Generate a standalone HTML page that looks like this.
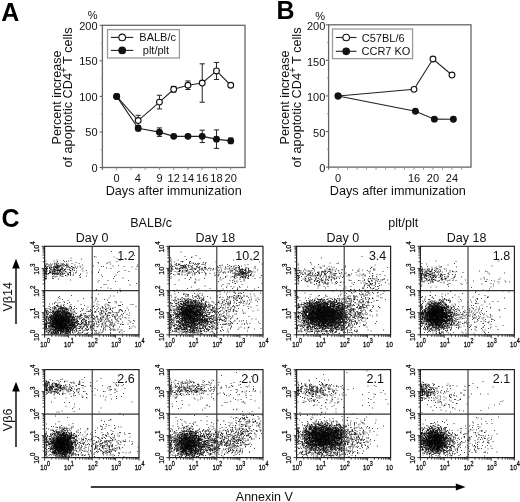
<!DOCTYPE html>
<html><head><meta charset="utf-8"><style>
html,body{margin:0;padding:0;background:#fff;}
svg{display:block;font-family:"Liberation Sans", sans-serif;will-change:transform;}
</style></head><body>
<svg width="520" height="502" viewBox="0 0 520 502">
<rect width="520" height="502" fill="#fff"/>
<rect x="102.40" y="25.30" width="142.60" height="142.20" fill="none" stroke="#666" stroke-width="1.3"/>
<line x1="99.60" y1="167.50" x2="102.40" y2="167.50" stroke="#666" stroke-width="1.1"/>
<text x="97.60" y="171.80" font-size="11" text-anchor="end" fill="#111">0</text>
<line x1="100.80" y1="149.72" x2="102.40" y2="149.72" stroke="#999" stroke-width="0.9"/>
<line x1="99.60" y1="131.95" x2="102.40" y2="131.95" stroke="#666" stroke-width="1.1"/>
<text x="97.60" y="136.25" font-size="11" text-anchor="end" fill="#111">50</text>
<line x1="100.80" y1="114.17" x2="102.40" y2="114.17" stroke="#999" stroke-width="0.9"/>
<line x1="99.60" y1="96.40" x2="102.40" y2="96.40" stroke="#666" stroke-width="1.1"/>
<text x="97.60" y="100.70" font-size="11" text-anchor="end" fill="#111">100</text>
<line x1="100.80" y1="78.62" x2="102.40" y2="78.62" stroke="#999" stroke-width="0.9"/>
<line x1="99.60" y1="60.85" x2="102.40" y2="60.85" stroke="#666" stroke-width="1.1"/>
<text x="97.60" y="65.15" font-size="11" text-anchor="end" fill="#111">150</text>
<line x1="100.80" y1="43.08" x2="102.40" y2="43.08" stroke="#999" stroke-width="0.9"/>
<line x1="99.60" y1="25.30" x2="102.40" y2="25.30" stroke="#666" stroke-width="1.1"/>
<text x="97.60" y="29.60" font-size="11" text-anchor="end" fill="#111">200</text>
<line x1="116.66" y1="167.50" x2="116.66" y2="170.10" stroke="#999" stroke-width="1.0"/>
<line x1="130.92" y1="167.50" x2="130.92" y2="170.10" stroke="#999" stroke-width="1.0"/>
<line x1="145.18" y1="167.50" x2="145.18" y2="170.10" stroke="#999" stroke-width="1.0"/>
<line x1="159.44" y1="167.50" x2="159.44" y2="170.10" stroke="#999" stroke-width="1.0"/>
<line x1="173.70" y1="167.50" x2="173.70" y2="170.10" stroke="#999" stroke-width="1.0"/>
<line x1="187.96" y1="167.50" x2="187.96" y2="170.10" stroke="#999" stroke-width="1.0"/>
<line x1="202.22" y1="167.50" x2="202.22" y2="170.10" stroke="#999" stroke-width="1.0"/>
<line x1="216.48" y1="167.50" x2="216.48" y2="170.10" stroke="#999" stroke-width="1.0"/>
<line x1="230.74" y1="167.50" x2="230.74" y2="170.10" stroke="#999" stroke-width="1.0"/>
<line x1="102.40" y1="167.50" x2="102.40" y2="170.10" stroke="#666" stroke-width="1.1"/>
<text x="116.66" y="181.90" font-size="11" text-anchor="middle" fill="#111">0</text>
<text x="137.70" y="181.90" font-size="11" text-anchor="middle" fill="#111">4</text>
<text x="159.44" y="181.90" font-size="11" text-anchor="middle" fill="#111">9</text>
<text x="173.70" y="181.90" font-size="11" text-anchor="middle" fill="#111">12</text>
<text x="187.96" y="181.90" font-size="11" text-anchor="middle" fill="#111">14</text>
<text x="202.22" y="181.90" font-size="11" text-anchor="middle" fill="#111">16</text>
<text x="216.48" y="181.90" font-size="11" text-anchor="middle" fill="#111">18</text>
<text x="230.74" y="181.90" font-size="11" text-anchor="middle" fill="#111">20</text>
<text x="97.60" y="19.00" font-size="11" text-anchor="end" fill="#111">%</text>
<text x="173.70" y="195.40" font-size="12.7" text-anchor="middle" fill="#111">Days after immunization</text>
<text x="0.00" y="0.00" font-size="12.5" text-anchor="middle" fill="#111" transform="translate(61.00,97.5) rotate(-90)">Percent increase</text>
<text font-size="12.7" text-anchor="middle" fill="#111" transform="translate(72.40,97.5) rotate(-90)">of apoptotic CD4<tspan font-size="10" dy="-5.2">+</tspan><tspan dy="5.2"> T cells</tspan></text>
<path d="M116.66 96.40 L138.20 120.57 L159.44 102.09 L173.70 89.29 L187.96 85.24 L202.22 83.03 L216.48 70.95 L230.74 85.24" fill="none" stroke="#222" stroke-width="1.1"/>
<path d="M116.66 96.40 L138.20 128.25 L159.44 132.16 L173.70 136.36 L187.96 136.36 L202.22 136.36 L216.48 139.13 L230.74 140.84" fill="none" stroke="#222" stroke-width="1.1"/>
<line x1="138.20" y1="115.31" x2="138.20" y2="125.84" stroke="#222" stroke-width="1.0"/>
<line x1="135.60" y1="115.31" x2="140.80" y2="115.31" stroke="#222" stroke-width="1.0"/>
<line x1="135.60" y1="125.84" x2="140.80" y2="125.84" stroke="#222" stroke-width="1.0"/>
<line x1="159.44" y1="95.26" x2="159.44" y2="108.91" stroke="#222" stroke-width="1.0"/>
<line x1="156.84" y1="95.26" x2="162.04" y2="95.26" stroke="#222" stroke-width="1.0"/>
<line x1="156.84" y1="108.91" x2="162.04" y2="108.91" stroke="#222" stroke-width="1.0"/>
<line x1="173.70" y1="86.45" x2="173.70" y2="92.13" stroke="#222" stroke-width="1.0"/>
<line x1="171.10" y1="86.45" x2="176.30" y2="86.45" stroke="#222" stroke-width="1.0"/>
<line x1="171.10" y1="92.13" x2="176.30" y2="92.13" stroke="#222" stroke-width="1.0"/>
<line x1="187.96" y1="80.97" x2="187.96" y2="89.50" stroke="#222" stroke-width="1.0"/>
<line x1="185.36" y1="80.97" x2="190.56" y2="80.97" stroke="#222" stroke-width="1.0"/>
<line x1="185.36" y1="89.50" x2="190.56" y2="89.50" stroke="#222" stroke-width="1.0"/>
<line x1="202.22" y1="63.84" x2="202.22" y2="102.23" stroke="#222" stroke-width="1.0"/>
<line x1="199.62" y1="63.84" x2="204.82" y2="63.84" stroke="#222" stroke-width="1.0"/>
<line x1="199.62" y1="102.23" x2="204.82" y2="102.23" stroke="#222" stroke-width="1.0"/>
<line x1="216.48" y1="62.41" x2="216.48" y2="79.48" stroke="#222" stroke-width="1.0"/>
<line x1="213.88" y1="62.41" x2="219.08" y2="62.41" stroke="#222" stroke-width="1.0"/>
<line x1="213.88" y1="79.48" x2="219.08" y2="79.48" stroke="#222" stroke-width="1.0"/>
<line x1="230.74" y1="83.46" x2="230.74" y2="87.01" stroke="#222" stroke-width="1.0"/>
<line x1="228.14" y1="83.46" x2="233.34" y2="83.46" stroke="#222" stroke-width="1.0"/>
<line x1="228.14" y1="87.01" x2="233.34" y2="87.01" stroke="#222" stroke-width="1.0"/>
<circle cx="116.66" cy="96.40" r="2.9" fill="#fff" stroke="#111" stroke-width="1.1"/>
<circle cx="138.20" cy="120.57" r="2.9" fill="#fff" stroke="#111" stroke-width="1.1"/>
<circle cx="159.44" cy="102.09" r="2.9" fill="#fff" stroke="#111" stroke-width="1.1"/>
<circle cx="173.70" cy="89.29" r="2.9" fill="#fff" stroke="#111" stroke-width="1.1"/>
<circle cx="187.96" cy="85.24" r="2.9" fill="#fff" stroke="#111" stroke-width="1.1"/>
<circle cx="202.22" cy="83.03" r="2.9" fill="#fff" stroke="#111" stroke-width="1.1"/>
<circle cx="216.48" cy="70.95" r="2.9" fill="#fff" stroke="#111" stroke-width="1.1"/>
<circle cx="230.74" cy="85.24" r="2.9" fill="#fff" stroke="#111" stroke-width="1.1"/>
<line x1="138.20" y1="125.55" x2="138.20" y2="130.95" stroke="#222" stroke-width="1.0"/>
<line x1="135.60" y1="125.55" x2="140.80" y2="125.55" stroke="#222" stroke-width="1.0"/>
<line x1="135.60" y1="130.95" x2="140.80" y2="130.95" stroke="#222" stroke-width="1.0"/>
<line x1="159.44" y1="127.90" x2="159.44" y2="136.43" stroke="#222" stroke-width="1.0"/>
<line x1="156.84" y1="127.90" x2="162.04" y2="127.90" stroke="#222" stroke-width="1.0"/>
<line x1="156.84" y1="136.43" x2="162.04" y2="136.43" stroke="#222" stroke-width="1.0"/>
<line x1="202.22" y1="130.17" x2="202.22" y2="142.54" stroke="#222" stroke-width="1.0"/>
<line x1="199.62" y1="130.17" x2="204.82" y2="130.17" stroke="#222" stroke-width="1.0"/>
<line x1="199.62" y1="142.54" x2="204.82" y2="142.54" stroke="#222" stroke-width="1.0"/>
<line x1="216.48" y1="129.89" x2="216.48" y2="148.37" stroke="#222" stroke-width="1.0"/>
<line x1="213.88" y1="129.89" x2="219.08" y2="129.89" stroke="#222" stroke-width="1.0"/>
<line x1="213.88" y1="148.37" x2="219.08" y2="148.37" stroke="#222" stroke-width="1.0"/>
<line x1="230.74" y1="137.99" x2="230.74" y2="143.68" stroke="#222" stroke-width="1.0"/>
<line x1="228.14" y1="137.99" x2="233.34" y2="137.99" stroke="#222" stroke-width="1.0"/>
<line x1="228.14" y1="143.68" x2="233.34" y2="143.68" stroke="#222" stroke-width="1.0"/>
<circle cx="116.66" cy="96.40" r="2.9" fill="#111" stroke="#111" stroke-width="1.1"/>
<circle cx="138.20" cy="128.25" r="2.9" fill="#111" stroke="#111" stroke-width="1.1"/>
<circle cx="159.44" cy="132.16" r="2.9" fill="#111" stroke="#111" stroke-width="1.1"/>
<circle cx="173.70" cy="136.36" r="2.9" fill="#111" stroke="#111" stroke-width="1.1"/>
<circle cx="187.96" cy="136.36" r="2.9" fill="#111" stroke="#111" stroke-width="1.1"/>
<circle cx="202.22" cy="136.36" r="2.9" fill="#111" stroke="#111" stroke-width="1.1"/>
<circle cx="216.48" cy="139.13" r="2.9" fill="#111" stroke="#111" stroke-width="1.1"/>
<circle cx="230.74" cy="140.84" r="2.9" fill="#111" stroke="#111" stroke-width="1.1"/>
<rect x="107.5" y="29.6" width="71.9" height="28.4" fill="#fff" stroke="#9a9a9a" stroke-width="1.3"/>
<line x1="111.00" y1="37.40" x2="133.30" y2="37.40" stroke="#222" stroke-width="1.1"/>
<circle cx="122.2" cy="37.4" r="3.3" fill="#fff" stroke="#111" stroke-width="1.1"/>
<text x="139.30" y="41.40" font-size="11" text-anchor="start" fill="#111">BALB/c</text>
<line x1="111.00" y1="50.40" x2="133.30" y2="50.40" stroke="#222" stroke-width="1.1"/>
<circle cx="122.2" cy="50.4" r="3.3" fill="#111" stroke="#111" stroke-width="1.1"/>
<text x="142.80" y="54.40" font-size="11" text-anchor="start" fill="#111">plt/plt</text>
<rect x="328.60" y="24.80" width="142.40" height="142.30" fill="none" stroke="#666" stroke-width="1.3"/>
<line x1="325.80" y1="167.10" x2="328.60" y2="167.10" stroke="#666" stroke-width="1.1"/>
<text x="325.30" y="172.40" font-size="11" text-anchor="end" fill="#111">0</text>
<line x1="327.00" y1="149.31" x2="328.60" y2="149.31" stroke="#999" stroke-width="0.9"/>
<line x1="325.80" y1="131.53" x2="328.60" y2="131.53" stroke="#666" stroke-width="1.1"/>
<text x="325.30" y="136.83" font-size="11" text-anchor="end" fill="#111">50</text>
<line x1="327.00" y1="113.74" x2="328.60" y2="113.74" stroke="#999" stroke-width="0.9"/>
<line x1="325.80" y1="95.95" x2="328.60" y2="95.95" stroke="#666" stroke-width="1.1"/>
<text x="325.30" y="101.25" font-size="11" text-anchor="end" fill="#111">100</text>
<line x1="327.00" y1="78.16" x2="328.60" y2="78.16" stroke="#999" stroke-width="0.9"/>
<line x1="325.80" y1="60.38" x2="328.60" y2="60.38" stroke="#666" stroke-width="1.1"/>
<text x="325.30" y="65.68" font-size="11" text-anchor="end" fill="#111">150</text>
<line x1="327.00" y1="42.59" x2="328.60" y2="42.59" stroke="#999" stroke-width="0.9"/>
<line x1="325.80" y1="24.80" x2="328.60" y2="24.80" stroke="#666" stroke-width="1.1"/>
<text x="325.30" y="30.10" font-size="11" text-anchor="end" fill="#111">200</text>
<line x1="338.09" y1="167.10" x2="338.09" y2="169.70" stroke="#999" stroke-width="1.0"/>
<line x1="347.58" y1="167.10" x2="347.58" y2="169.70" stroke="#999" stroke-width="1.0"/>
<line x1="357.07" y1="167.10" x2="357.07" y2="169.70" stroke="#999" stroke-width="1.0"/>
<line x1="366.56" y1="167.10" x2="366.56" y2="169.70" stroke="#999" stroke-width="1.0"/>
<line x1="376.05" y1="167.10" x2="376.05" y2="169.70" stroke="#999" stroke-width="1.0"/>
<line x1="385.54" y1="167.10" x2="385.54" y2="169.70" stroke="#999" stroke-width="1.0"/>
<line x1="395.03" y1="167.10" x2="395.03" y2="169.70" stroke="#999" stroke-width="1.0"/>
<line x1="404.52" y1="167.10" x2="404.52" y2="169.70" stroke="#999" stroke-width="1.0"/>
<line x1="414.01" y1="167.10" x2="414.01" y2="169.70" stroke="#999" stroke-width="1.0"/>
<line x1="423.50" y1="167.10" x2="423.50" y2="169.70" stroke="#999" stroke-width="1.0"/>
<line x1="432.99" y1="167.10" x2="432.99" y2="169.70" stroke="#999" stroke-width="1.0"/>
<line x1="442.48" y1="167.10" x2="442.48" y2="169.70" stroke="#999" stroke-width="1.0"/>
<line x1="451.97" y1="167.10" x2="451.97" y2="169.70" stroke="#999" stroke-width="1.0"/>
<line x1="461.46" y1="167.10" x2="461.46" y2="169.70" stroke="#999" stroke-width="1.0"/>
<line x1="328.60" y1="167.10" x2="328.60" y2="169.70" stroke="#666" stroke-width="1.1"/>
<text x="338.09" y="181.90" font-size="11" text-anchor="middle" fill="#111">0</text>
<text x="414.01" y="181.90" font-size="11" text-anchor="middle" fill="#111">16</text>
<text x="432.99" y="181.90" font-size="11" text-anchor="middle" fill="#111">20</text>
<text x="451.97" y="181.90" font-size="11" text-anchor="middle" fill="#111">24</text>
<text x="325.00" y="20.00" font-size="11" text-anchor="end" fill="#111">%</text>
<text x="397.80" y="195.40" font-size="12.7" text-anchor="middle" fill="#111">Days after immunization</text>
<text x="0.00" y="0.00" font-size="12.5" text-anchor="middle" fill="#111" transform="translate(288.70,97.5) rotate(-90)">Percent increase</text>
<text font-size="12.7" text-anchor="middle" fill="#111" transform="translate(301.40,97.5) rotate(-90)">of apoptotic CD4<tspan font-size="10" dy="-5.2">+</tspan><tspan dy="5.2"> T cells</tspan></text>
<path d="M338.09 95.95 L414.01 89.33 L432.99 59.02 L451.97 75.03" fill="none" stroke="#222" stroke-width="1.1"/>
<path d="M338.09 95.95 L415.41 111.18 L434.39 119.14 L453.37 119.29" fill="none" stroke="#222" stroke-width="1.1"/>
<circle cx="338.09" cy="95.95" r="2.9" fill="#fff" stroke="#111" stroke-width="1.1"/>
<circle cx="414.01" cy="89.33" r="2.9" fill="#fff" stroke="#111" stroke-width="1.1"/>
<circle cx="432.99" cy="59.02" r="2.9" fill="#fff" stroke="#111" stroke-width="1.1"/>
<circle cx="451.97" cy="75.03" r="2.9" fill="#fff" stroke="#111" stroke-width="1.1"/>
<circle cx="338.09" cy="95.95" r="2.9" fill="#111" stroke="#111" stroke-width="1.1"/>
<circle cx="415.41" cy="111.18" r="2.9" fill="#111" stroke="#111" stroke-width="1.1"/>
<circle cx="434.39" cy="119.14" r="2.9" fill="#111" stroke="#111" stroke-width="1.1"/>
<circle cx="453.37" cy="119.29" r="2.9" fill="#111" stroke="#111" stroke-width="1.1"/>
<rect x="332.5" y="29.0" width="80.10000000000002" height="29.6" fill="#fff" stroke="#9a9a9a" stroke-width="1.3"/>
<line x1="335.80" y1="37.50" x2="356.50" y2="37.50" stroke="#222" stroke-width="1.1"/>
<circle cx="346.2" cy="37.5" r="3.3" fill="#fff" stroke="#111" stroke-width="1.1"/>
<text x="361.80" y="41.50" font-size="11" text-anchor="start" fill="#111">C57BL/6</text>
<line x1="335.80" y1="51.30" x2="356.50" y2="51.30" stroke="#222" stroke-width="1.1"/>
<circle cx="346.2" cy="51.3" r="3.3" fill="#111" stroke="#111" stroke-width="1.1"/>
<text x="361.50" y="55.30" font-size="11" text-anchor="start" fill="#111">CCR7 KO</text>
<text x="1.20" y="20.60" font-size="25" text-anchor="start" font-weight="bold" fill="#000">A</text>
<text x="276.60" y="19.20" font-size="25" text-anchor="start" font-weight="bold" fill="#000">B</text>
<text x="1.60" y="227.30" font-size="25" text-anchor="start" font-weight="bold" fill="#000">C</text>
<path d="M180.5 252h1m180 4.5h1m-192.5 1h1m-100.5 0.5h1m114.5 1.5h1m-16.5 0.5h1m61.5 0h1m-114.5 0.5h1m378 0.5h1m-318 0.5h1m76.5 0.5h1m-184.5 0.5h1m21 0h1m-42.5 0.5h1m136 0h1m-147.5 0.5h1m15 0h1m141.5 0h1m215.5 0h1m31.5 0h1m-401 0.5h1m1.5 0h1m8.5 0h1m43 0h1m67 0h1m-1 0.5h1m15 0h1m1.5 0h1m-152 0.5h1m15.5 0h1m3 0h1m7.5 0h1m99 0h1m10 0h1m18.5 0h1m91.5 0h1m-241.5 0.5h1m0 0h1m6 0h1m111.5 0h1m50.5 0h1m8 0h1m-184.5 0.5h1m4 0h1m32.5 0h1m91 0h1m55 0h1m103 0h1m-301 0.5h1m1 0h1m6.5 0h1m3.5 0h1m113.5 0h1m13.5 0h1m139.5 0h1m-282.5 0.5h1m8.5 0h1m0 0h1m0.5 0h1m9.5 0h1m4.5 0h1m55.5 0h1m53 0h1m10.5 0h1m21.5 0h1m10 0h1m82.5 0h1m4.5 0h1m51 0h1m83.5 0h1m-402.5 0.5h1m1 0h1m-0.5 0h1m3 0h1m-0.5 0h1m-0.5 0h1m118.5 0h1m0.5 0h1m-0.5 0h1m4 0h1m9.5 0h1m4.5 0h1m40 0h1m124.5 0h1m-315.5 0.5h1m25 0h1m91.5 0h1m4 0h1m10 0h1m-0.5 0h1m6.5 0h1m29 0h1m5.5 0h1m-0.5 0h1m18 0h1m-211 0.5h1m-0.5 0h1m0 0h1m-0.5 0h1m1 0h1m121.5 0h1m4 0h1m2 0h1m14 0h1m10 0h1m4 0h1m23 0h1m12.5 0h1m187 0h1m0 0h1m-388 0.5h1m6.5 0h1m4 0h1m121 0h1m7 0h1m8 0h1m3 0h1m21 0h1m6 0h1m3.5 0h1m2 0h1m2 0h1m80.5 0h1m109 0h1m-391.5 0.5h1m7 0h1m5 0h1m0 0h1m2.5 0h1m107 0h1m3 0h1m17 0h1m6 0h1m22 0h1m18 0h1m69 0h1m14 0h1m0 0h1m11 0h1m97 0h1m-389.5 0.5h1m0 0h1m2 0h1m115 0h1m29 0h1m30.5 0h1m6 0h1m64.5 0h1m56 0h1m10 0h1m-319.5 0.5h1m3 0h1m0.5 0h1m118.5 0h1m1.5 0h1m20 0h1m40.5 0h1m51.5 0h1m0.5 0h1m-254.5 0.5h1m4 0h1m3 0h1m1.5 0h1m-0.5 0h1m1 0h1m0 0h1m2 0h1m105.5 0h1m15 0h1m31.5 0h1m2 0h1m86 0h1m15 0h1m100 0h1m1.5 0h1m2.5 0h1m8 0h1m44 0h1m-307 0.5h1m13 0h1m45 0h1m189 0h1m-0.5 0h1m-0.5 0h1m-385.5 0.5h1m2.5 0h1m2.5 0h1m0 0h1m11.5 0h1m109.5 0h1m5 0h1m5 0h1m0 0h1m8 0h1m43.5 0h1m1 0h1m71.5 0h1m2.5 0h1m8 0h1m94 0h1m5.5 0h1m5 0h1m16 0h1m-338.5 0.5h1m78 0h1m21.5 0h1m3 0h1m21 0h1m0 0h1m53 0h1m4 0h1m17 0h1m110.5 0h1m2.5 0h1m-371 0.5h1m136.5 0h1m28.5 0h1m2 0h1m1.5 0h1m0 0h1m2 0h1m73 0h1m26.5 0h1m75.5 0h1m3 0h1m-0.5 0h1m76.5 0h1m-456.5 0.5h1m2 0h1m-0.5 0h1m0 0h1m4 0h1m11 0h1m106.5 0h1m20.5 0h1m9.5 0h1m28.5 0h1m2.5 0h1m0.5 0h1m76 0h1m2 0h1m106.5 0h1m-384.5 0.5h1m190 0h1m8 0h1m51 0h1m4 0h1m23.5 0h1m3 0h1m0 0h1m86 0h1m2 0h1m-0.5 0h1m3.5 0h1m1.5 0h1m5 0h1m1.5 0h1m-389.5 0.5h1m2.5 0h1m11.5 0h1m1 0h1m106.5 0h1m60 0h1m2 0h1m7.5 0h1m66.5 0h1m30 0h1m71.5 0h1m2.5 0h1m4.5 0h1m3.5 0h1m9 0h1m3 0h1m-404 0.5h1m13.5 0h1m0.5 0h1m10 0h1m118.5 0h1m12.5 0h1m9 0h1m20.5 0h1m8 0h1m4 0h1m56 0h1m0 0h1m127.5 0h1m3.5 0h1m-378 0.5h1m4 0h1m143.5 0h1m45.5 0h1m46.5 0h1m5.5 0h1m18 0h1m26.5 0h1m58.5 0h1m1.5 0h1m8.5 0h1m-0.5 0h1m-368 0.5h1m261.5 0h1m13 0h1m2.5 0h1m11 0h1m12.5 0h1m51 0h1m-323 0.5h1m129 0h1m2.5 0h1m5.5 0h1m5 0h1m120 0h1m6 0h1m44 0h1m8 0h1m-379 0.5h1m177.5 0h1m10.5 0h1m54.5 0h1m33 0h1m88.5 0h1m8.5 0h1m4.5 0h1m7.5 0h1m15.5 0h1m-228 0.5h1m7.5 0h1m1.5 0h1m13.5 0h1m49.5 0h1m18 0h1m93.5 0h1m10.5 0h1m17.5 0h1m-284 0.5h1m133 0h1m9 0h1m18 0h1m28 0h1m57.5 0h1m12.5 0h1m-390 0.5h1m6.5 0h1m116.5 0h1m51 0h1m11 0h1m12.5 0h1m5.5 0h1m42 0h1m17 0h1m22.5 0h1m105 0h1m-401 0.5h1m265 0h1m3.5 0h1m8.5 0h1m8.5 0h1m145 0h1m-170 0.5h1m186 0h1m-279 0.5h1m12 0h1m9.5 0h1m63 0h1m13.5 0h1m7 0h1m17 0h1m18 0h1m53 0h1m6 0h1m20 0h1m-221 0.5h1m97.5 0h1m30.5 0h1m11 0h1m53 0h1m1.5 0h1m-131 0.5h1m131 0h1m42 0h1m30.5 0h1m-271.5 0.5h1m81 0h1m51 0h1m68.5 0h1m-244 0.5h1m226 0h1m9 0h1m73 0h1m-184 0.5h1m13.5 0h1m36.5 0h1m-56.5 0.5h1m4 0h1m18.5 0h1m16 0h1m105 0h1m-232.5 0.5h1m25.5 0h1m62.5 0h1m1.5 0h1m41.5 0h1m7.5 0h1m48.5 0h1m20.5 0h1m40 0h1m-262.5 0.5h1m11.5 0.5h1m-113 0.5h1m189 0h1m51 0h1m6.5 0.5h1m-153.5 0.5h1m90 0h1m0 0h1m58 0.5h1m69.5 0h1m-215.5 0.5h1m12.5 0h1m-147.5 0.5h1m138 0h1m-3.5 0.5h1m107.5 0h1m27 0h1m-12 0.5h1m7 0h1m-252 0.5h1m133.5 0h1m-159 0.5h1m99.5 0h1m138.5 0.5h1m27.5 0h1m9.5 0h1m106.5 0h1m-55.5 0.5h1m-309 1h1m96.5 0h1m131 0h1m14 0h1m2 0h1m-152 0.5h1m2 0h1m9 0h1m2.5 0h1m-117 0.5h1m233 0h1m14.5 0h1m-129 0.5h1m20.5 0h1m85 0.5h1m4.5 0h1m6.5 0h1m8.5 0h1m-185.5 0.5h1m0.5 0h1m11 0h1m142 0h1m18 0.5h1m1 0h1m-0.5 0h1m3.5 0h1m111 0h1m-154 0.5h1m118.5 0h1m-244.5 0.5h1m14 0h1m21 0h1m127 0h1m62 0h1m54 0h1m-300.5 0.5h1m54 0h1m3 0h1m80 0h1m27 0h1m-168.5 0.5h1m40.5 0h1m4.5 0h1m4.5 0h1m108.5 0h1m6 0h1m-152 0.5h1m26.5 0h1m65 0h1m56 0h1m0 0h1m65.5 0h1m36 0h1m-259 0.5h1m17.5 0h1m22 0h1m5 0h1m98.5 0h1m72.5 0h1m9.5 0h1m-337 0.5h1m96.5 0h1m9 0h1m32 0h1m2 0h1m1 0h1m73.5 0h1m13 0h1m14.5 0h1m-168.5 0.5h1m5 0h1m14.5 0h1m3 0h1m31.5 0h1m100.5 0h1m5 0h1m2.5 0h1m0.5 0h1m0 0h1m0 0h1m18 0h1m2 0h1m60 0h1m10 0h1m31.5 0h1m-290 0.5h1m14 0h1m113.5 0h1m10 0h1m2.5 0h1m8 0h1m0.5 0h1m1 0h1m-283 0.5h1m127 0h1m36.5 0h1m6.5 0h1m76 0h1m4.5 0h1m2.5 0h1m4.5 0h1m7.5 0h1m18 0h1m1.5 0h1m71 0h1m30.5 0h1m-403.5 0.5h1m128.5 0h1m6.5 0h1m0 0h1m7 0h1m19.5 0h1m25.5 0h1m84 0h1m8.5 0h1m0 0h1m21 0h1m60.5 0h1m18 0h1m20.5 0h1m-403.5 0.5h1m117.5 0h1m6 0h1m136 0h1m5 0h1m2 0h1m-159 0.5h1m5.5 0h1m3 0h1m1 0h1m0.5 0h1m117.5 0h1m7 0h1m0 0h1m0 0h1m5 0h1m104 0h1m7.5 0h1m-346.5 0.5h1m81 0h1m2 0h1m3.5 0h1m2 0h1m3.5 0h1m3 0h1m1.5 0h1m107 0h1m17.5 0h1m2 0h1m0 0h1m0.5 0h1m28.5 0h1m77 0h1m51 0h1m-400 0.5h1m26 0h1m61 0h1m0.5 0h1m0.5 0h1m0.5 0h1m-0.5 0h1m-0.5 0h1m1 0h1m4.5 0h1m-0.5 0h1m-0.5 0h1m3.5 0h1m3.5 0h1m6 0h1m27.5 0h1m1 0h1m-0.5 0h1m61.5 0h1m6 0h1m3.5 0h1m0.5 0h1m4.5 0h1m2 0h1m6 0h1m22.5 0h1m69.5 0h1m4.5 0h1m1 0h1m4.5 0h1m16 0h1m25 0h1m-377.5 0.5h1m0.5 0h1m75 0h1m5 0h1m3 0h1m21.5 0h1m3 0h1m80.5 0h1m4.5 0h1m0.5 0h1m5 0h1m5.5 0h1m-0.5 0h1m3 0h1m-0.5 0h1m4.5 0h1m9.5 0h1m9.5 0h1m15.5 0h1m59 0h1m2.5 0h1m0 0h1m3.5 0h1m26.5 0h1m-292 0.5h1m10.5 0h1m-0.5 0h1m0.5 0h1m1 0h1m1 0h1m2.5 0h1m0.5 0h1m5 0h1m7.5 0h1m94.5 0h1m5 0h1m-0.5 0h1m0 0h1m8 0h1m0.5 0h1m14 0h1m89 0h1m2 0h1m0 0h1m7.5 0h1m-262.5 0.5h1m0 0h1m0.5 0h1m5 0h1m-0.5 0h1m3.5 0h1m1 0h1m1.5 0h1m3 0h1m19 0h1m4 0h1m5 0h1m61 0h1m5 0h1m2 0h1m3.5 0h1m1.5 0h1m10 0h1m6.5 0h1m-0.5 0h1m3.5 0h1m0 0h1m88 0h1m4.5 0h1m4 0h1m0 0h1m0.5 0h1m-0.5 0h1m-393 0.5h1m2 0h1m52.5 0h1m77 0h1m3 0h1m7.5 0h1m-0.5 0h1m2 0h1m4 0h1m11 0h1m91.5 0h1m7.5 0h1m0 0h1m0 0h1m-0.5 0h1m1 0h1m0.5 0h1m-0.5 0h1m-0.5 0h1m-0.5 0h1m4 0h1m2 0h1m3.5 0h1m10 0h1m80 0h1m4 0h1m1.5 0h1m7.5 0h1m-314 0.5h1m47.5 0h1m0.5 0h1m1 0h1m10.5 0h1m5.5 0h1m99 0h1m3 0h1m0 0h1m0.5 0h1m1 0h1m9.5 0h1m-0.5 0h1m5 0h1m3 0h1m1 0h1m1.5 0h1m1.5 0h1m2 0h1m0 0h1m9 0h1m8 0h1m58 0h1m7 0h1m0.5 0h1m7 0h1m6 0h1m-386 0.5h1m46.5 0h1m66.5 0h1m6 0h1m2 0h1m5.5 0h1m1.5 0h1m9 0h1m19 0h1m2 0h1m69.5 0h1m2 0h1m14 0h1m0 0h1m1 0h1m3.5 0h1m1 0h1m0 0h1m3 0h1m-0.5 0h1m3.5 0h1m2 0h1m1.5 0h1m-0.5 0h1m1.5 0h1m5 0h1m7 0h1m70.5 0h1m2 0h1m2 0h1m9 0h1m-390.5 0.5h1m6 0h1m44.5 0h1m9.5 0h1m56 0h1m2 0h1m2.5 0h1m0 0h1m3 0h1m0.5 0h1m-0.5 0h1m3 0h1m-0.5 0h1m4 0h1m1.5 0h1m1.5 0h1m6.5 0h1m8.5 0h1m11 0h1m77.5 0h1m5.5 0h1m-0.5 0h1m7 0h1m2.5 0h1m1 0h1m6 0h1m1.5 0h1m10 0h1m13 0h1m63.5 0h1m2.5 0h1m1 0h1m1.5 0h1m5 0h1m-270.5 0.5h1m3.5 0h1m6.5 0h1m0 0h1m0.5 0h1m0 0h1m-0.5 0h1m-0.5 0h1m2 0h1m-0.5 0h1m0.5 0h1m7.5 0h1m3.5 0h1m98.5 0h1m-0.5 0h1m2.5 0h1m-0.5 0h1m0.5 0h1m-0.5 0h1m3 0h1m-0.5 0h1m0.5 0h1m2 0h1m3.5 0h1m-0.5 0h1m0.5 0h1m7.5 0h1m2.5 0h1m-0.5 0h1m14 0h1m61 0h1m3 0h1m3 0h1m0.5 0h1m-0.5 0h1m3 0h1m-0.5 0h1m1.5 0h1m0 0h1m7.5 0h1m-0.5 0h1m-391.5 0.5h1m1 0h1m44.5 0h1m75 0h1m0.5 0h1m7.5 0h1m2 0h1m0.5 0h1m2 0h1m0.5 0h1m3.5 0h1m102.5 0h1m3 0h1m-0.5 0h1m1 0h1m1 0h1m4.5 0h1m-0.5 0h1m0.5 0h1m2 0h1m0.5 0h1m0.5 0h1m0 0h1m4 0h1m10 0h1m12 0h1m17 0h1m42.5 0h1m2.5 0h1m5 0h1m5.5 0h1m0.5 0h1m-0.5 0h1m5.5 0h1m11 0h1m3.5 0h1m-354 0.5h1m65.5 0h1m2.5 0h1m1 0h1m4.5 0h1m2 0h1m2 0h1m6 0h1m0 0h1m32 0h1m68.5 0h1m2 0h1m1.5 0h1m-0.5 0h1m-0.5 0h1m3.5 0h1m3 0h1m0 0h1m0 0h1m0.5 0h1m0.5 0h1m3.5 0h1m1 0h1m2.5 0h1m3.5 0h1m89 0h1m1.5 0h1m3 0h1m0 0h1m4 0h1m2 0h1m31.5 0h1m-415.5 0.5h1m52 0h1m61.5 0h1m0 0h1m0 0h1m2 0h1m-0.5 0h1m1 0h1m0 0h1m2 0h1m4.5 0h1m5 0h1m-0.5 0h1m2 0h1m2.5 0h1m14.5 0h1m76 0h1m3 0h1m5.5 0h1m-0.5 0h1m-0.5 0h1m0 0h1m0 0h1m1 0h1m-0.5 0h1m2.5 0h1m-0.5 0h1m0.5 0h1m-0.5 0h1m0 0h1m-0.5 0h1m1.5 0h1m1 0h1m1 0h1m7.5 0h1m3.5 0h1m3 0h1m2 0h1m5.5 0h1m6.5 0h1m14.5 0h1m48 0h1m-0.5 0h1m2.5 0h1m-0.5 0h1m0 0h1m3.5 0h1m-0.5 0h1m-0.5 0h1m-0.5 0h1m1.5 0h1m-0.5 0h1m1 0h1m1 0h1m4 0h1m-392 0.5h1m1.5 0h1m1 0h1m32 0h1m6.5 0h1m1.5 0h1m62.5 0h1m13 0h1m12.5 0h1m-0.5 0h1m-0.5 0h1m0 0h1m0.5 0h1m0.5 0h1m-0.5 0h1m4 0h1m96 0h1m-0.5 0h1m-0.5 0h1m2.5 0h1m1 0h1m1 0h1m1.5 0h1m2.5 0h1m3 0h1m1 0h1m2.5 0h1m12.5 0h1m2.5 0h1m10.5 0h1m67.5 0h1m0.5 0h1m1.5 0h1m0.5 0h1m0 0h1m1 0h1m0 0h1m4 0h1m0.5 0h1m-0.5 0h1m5.5 0h1m-406 0.5h1m17 0h1m1 0h1m2 0h1m1 0h1m2.5 0h1m6 0h1m98.5 0h1m-0.5 0h1m-0.5 0h1m3.5 0h1m1.5 0h1m0.5 0h1m-0.5 0h1m0 0h1m0 0h1m-0.5 0h1m2.5 0h1m105.5 0h1m6.5 0h1m1 0h1m3.5 0h1m1.5 0h1m-0.5 0h1m2.5 0h1m0 0h1m2 0h1m1 0h1m4.5 0h1m-0.5 0h1m-0.5 0h1m6 0h1m84 0h1m0.5 0h1m3.5 0h1m2 0h1m-0.5 0h1m2 0h1m9.5 0h1m26.5 0h1m2.5 0h1m-438 0.5h1m3 0h1m14.5 0h1m31.5 0h1m78 0h1m3.5 0h1m1.5 0h1m2.5 0h1m2 0h1m0.5 0h1m-0.5 0h1m-0.5 0h1m4.5 0h1m2.5 0h1m1 0h1m-0.5 0h1m0 0h1m3 0h1m7 0h1m88.5 0h1m1 0h1m1 0h1m1 0h1m0 0h1m-0.5 0h1m2.5 0h1m0.5 0h1m0 0h1m-0.5 0h1m0 0h1m1 0h1m-0.5 0h1m2 0h1m0 0h1m1 0h1m-0.5 0h1m1.5 0h1m0 0h1m6.5 0h1m8.5 0h1m1.5 0h1m0.5 0h1m5 0h1m67 0h1m2 0h1m1.5 0h1m0 0h1m2.5 0h1m1 0h1m0 0h1m0 0h1m3 0h1m2 0h1m-385 0.5h1m39 0h1m3 0h1m68 0h1m0.5 0h1m2.5 0h1m1.5 0h1m0 0h1m1.5 0h1m-0.5 0h1m0 0h1m3.5 0h1m1.5 0h1m104 0h1m0.5 0h1m3.5 0h1m5.5 0h1m0.5 0h1m0 0h1m1.5 0h1m1 0h1m4.5 0h1m0.5 0h1m1 0h1m-0.5 0h1m5.5 0h1m0.5 0h1m-0.5 0h1m-0.5 0h1m82 0h1m6 0h1m0.5 0h1m1.5 0h1m0.5 0h1m0 0h1m-0.5 0h1m-387.5 0.5h1m6.5 0h1m2.5 0h1m5 0h1m2 0h1m46.5 0h1m55.5 0h1m6 0h1m1.5 0h1m1 0h1m-0.5 0h1m-0.5 0h1m-0.5 0h1m0 0h1m-0.5 0h1m4.5 0h1m2 0h1m0.5 0h1m2 0h1m29 0h1m69 0h1m2.5 0h1m0 0h1m-0.5 0h1m1 0h1m6.5 0h1m-0.5 0h1m0 0h1m2.5 0h1m0.5 0h1m2 0h1m1.5 0h1m3.5 0h1m2 0h1m26.5 0h1m59.5 0h1m5 0h1m-0.5 0h1m-0.5 0h1m1 0h1m1 0h1m-0.5 0h1m0.5 0h1m0 0h1m2 0h1m0 0h1m-0.5 0h1m0.5 0h1m2 0h1m50 0h1m-453 0.5h1m43 0h1m9 0h1m4.5 0h1m14 0h1m47.5 0h1m2.5 0h1m6.5 0h1m5 0h1m1 0h1m1 0h1m0 0h1m0.5 0h1m3.5 0h1m-0.5 0h1m11.5 0h1m13.5 0h1m9 0h1m68 0h1m3 0h1m3 0h1m0.5 0h1m1 0h1m0 0h1m1 0h1m-0.5 0h1m3.5 0h1m1.5 0h1m-0.5 0h1m-0.5 0h1m1.5 0h1m-0.5 0h1m0 0h1m0.5 0h1m-0.5 0h1m0 0h1m0.5 0h1m0.5 0h1m-0.5 0h1m94 0h1m2.5 0h1m1 0h1m0 0h1m0.5 0h1m0 0h1m-0.5 0h1m-0.5 0h1m-0.5 0h1m0.5 0h1m-0.5 0h1m2 0h1m31.5 0h1m-436 0.5h1m9.5 0h1m-0.5 0h1m6 0h1m0.5 0h1m109 0h1m1 0h1m0 0h1m-0.5 0h1m3 0h1m1.5 0h1m0 0h1m-0.5 0h1m0 0h1m0.5 0h1m3.5 0h1m1 0h1m0 0h1m0.5 0h1m12.5 0h1m1.5 0h1m-0.5 0h1m16.5 0h1m68 0h1m0 0h1m2 0h1m1.5 0h1m2.5 0h1m-0.5 0h1m-0.5 0h1m-0.5 0h1m3.5 0h1m-0.5 0h1m0 0h1m0 0h1m-0.5 0h1m1 0h1m1 0h1m3 0h1m-0.5 0h1m-0.5 0h1m3 0h1m3.5 0h1m0.5 0h1m36 0h1m46 0h1m3.5 0h1m3 0h1m0.5 0h1m-0.5 0h1m0 0h1m-0.5 0h1m-0.5 0h1m0 0h1m-0.5 0h1m-0.5 0h1m1 0h1m-0.5 0h1m1.5 0h1m4.5 0h1m9.5 0h1m18 0h1m-421.5 0.5h1m1 0h1m1.5 0h1m4 0h1m-0.5 0h1m19.5 0h1m95 0h1m-0.5 0h1m1 0h1m0.5 0h1m0.5 0h1m0 0h1m0.5 0h1m0 0h1m0.5 0h1m1.5 0h1m0 0h1m-0.5 0h1m5.5 0h1m7.5 0h1m2.5 0h1m5.5 0h1m11 0h1m74 0h1m4 0h1m-0.5 0h1m0.5 0h1m0 0h1m4.5 0h1m0 0h1m-0.5 0h1m-0.5 0h1m-0.5 0h1m0 0h1m5.5 0h1m-0.5 0h1m1.5 0h1m1.5 0h1m1.5 0h1m1 0h1m5.5 0h1m70.5 0h1m1 0h1m4 0h1m1.5 0h1m-0.5 0h1m-0.5 0h1m0 0h1m0 0h1m0 0h1m-0.5 0h1m0 0h1m1.5 0h1m1 0h1m0 0h1m1.5 0h1m17 0h1m-408 0.5h1m-0.5 0h1m2 0h1m33.5 0h1m23.5 0h1m60 0h1m0.5 0h1m1 0h1m1 0h1m0 0h1m0 0h1m-0.5 0h1m11.5 0h1m6 0h1m2.5 0h1m4 0h1m12 0h1m68 0h1m5 0h1m-0.5 0h1m1.5 0h1m-0.5 0h1m-0.5 0h1m0.5 0h1m1 0h1m0 0h1m-0.5 0h1m1 0h1m-0.5 0h1m-0.5 0h1m0 0h1m2 0h1m2 0h1m0 0h1m3 0h1m-0.5 0h1m0 0h1m0 0h1m0 0h1m3 0h1m-0.5 0h1m0.5 0h1m1 0h1m0 0h1m-0.5 0h1m1 0h1m-0.5 0h1m0.5 0h1m15.5 0h1m63.5 0h1m0.5 0h1m-0.5 0h1m-0.5 0h1m-0.5 0h1m0 0h1m-0.5 0h1m0.5 0h1m0 0h1m0.5 0h1m0 0h1m-0.5 0h1m0 0h1m2.5 0h1m7 0h1m5.5 0h1m15.5 0h1m8.5 0h1m-435.5 0.5h1m4 0h1m0.5 0h1m3 0h1m0 0h1m2 0h1m-0.5 0h1m1 0h1m0.5 0h1m-0.5 0h1m-0.5 0h1m0 0h1m-0.5 0h1m-0.5 0h1m31 0h1m8.5 0h1m2.5 0h1m4 0h1m64 0h1m-0.5 0h1m1.5 0h1m-0.5 0h1m-0.5 0h1m1.5 0h1m1.5 0h1m-0.5 0h1m1 0h1m3 0h1m3 0h1m3.5 0h1m8.5 0h1m1 0h1m4.5 0h1m86.5 0h1m1 0h1m4.5 0h1m0 0h1m-0.5 0h1m0.5 0h1m1.5 0h1m0.5 0h1m-0.5 0h1m1 0h1m0.5 0h1m-0.5 0h1m1 0h1m0 0h1m1 0h1m4 0h1m0 0h1m1 0h1m15 0h1m61.5 0h1m3.5 0h1m4 0h1m-0.5 0h1m-0.5 0h1m0.5 0h1m0 0h1m1 0h1m1 0h1m0 0h1m-0.5 0h1m0 0h1m-0.5 0h1m0 0h1m0 0h1m0 0h1m0.5 0h1m2 0h1m0 0h1m0.5 0h1m11.5 0h1m-411.5 0.5h1m3 0h1m4 0h1m0 0h1m0 0h1m3 0h1m-0.5 0h1m108.5 0h1m2 0h1m-0.5 0h1m0 0h1m0 0h1m0.5 0h1m4 0h1m0 0h1m0.5 0h1m-0.5 0h1m0 0h1m0 0h1m-0.5 0h1m-0.5 0h1m-0.5 0h1m2.5 0h1m1 0h1m1.5 0h1m3.5 0h1m93 0h1m4 0h1m-0.5 0h1m0 0h1m0.5 0h1m0.5 0h1m0 0h1m0 0h1m-0.5 0h1m0.5 0h1m1 0h1m0.5 0h1m1 0h1m-0.5 0h1m0 0h1m1.5 0h1m1 0h1m0.5 0h1m0.5 0h1m-0.5 0h1m0.5 0h1m2 0h1m6 0h1m6.5 0h1m0.5 0h1m1.5 0h1m73 0h1m0 0h1m-0.5 0h1m0 0h1m-0.5 0h1m1 0h1m-0.5 0h1m0 0h1m-0.5 0h1m0 0h1m5 0h1m2 0h1m3.5 0h1m2 0h1m3 0h1m14.5 0h1m-419.5 0.5h1m5 0h1m0.5 0h1m0.5 0h1m3 0h1m0.5 0h1m1.5 0h1m3.5 0h1m14.5 0h1m88.5 0h1m4 0h1m-0.5 0h1m1 0h1m0 0h1m-0.5 0h1m0 0h1m2 0h1m-0.5 0h1m-0.5 0h1m3.5 0h1m100 0h1m0 0h1m-0.5 0h1m7.5 0h1m0 0h1m0.5 0h1m-0.5 0h1m-0.5 0h1m-0.5 0h1m0 0h1m-0.5 0h1m-0.5 0h1m0 0h1m0 0h1m1 0h1m-0.5 0h1m2.5 0h1m-0.5 0h1m0.5 0h1m2.5 0h1m1 0h1m-0.5 0h1m3 0h1m0 0h1m0 0h1m0 0h1m0 0h1m18 0h1m62 0h1m-0.5 0h1m3.5 0h1m-0.5 0h1m0 0h1m0 0h1m0 0h1m0.5 0h1m0 0h1m0.5 0h1m-0.5 0h1m0.5 0h1m4 0h1m1 0h1m0 0h1m1 0h1m8 0h1m-407 0.5h1m6.5 0h1m-0.5 0h1m7 0h1m-0.5 0h1m1 0h1m11.5 0h1m19.5 0h1m2.5 0h1m0.5 0h1m70.5 0h1m1.5 0h1m1.5 0h1m3 0h1m2 0h1m0 0h1m0 0h1m-0.5 0h1m2 0h1m1.5 0h1m1 0h1m0 0h1m96.5 0h1m3 0h1m2.5 0h1m3 0h1m5 0h1m1.5 0h1m2.5 0h1m0 0h1m-0.5 0h1m6.5 0h1m1.5 0h1m1.5 0h1m2 0h1m2 0h1m2 0h1m11 0h1m-0.5 0h1m63 0h1m-0.5 0h1m-0.5 0h1m2 0h1m6 0h1m-0.5 0h1m1.5 0h1m1 0h1m3 0h1m-0.5 0h1m0.5 0h1m28 0h1m-426.5 0.5h1m10.5 0h1m-0.5 0h1m0 0h1m1 0h1m1 0h1m5 0h1m50 0h1m57.5 0h1m0 0h1m0 0h1m-0.5 0h1m0.5 0h1m-0.5 0h1m-0.5 0h1m0.5 0h1m2.5 0h1m3 0h1m0 0h1m2 0h1m7.5 0h1m94.5 0h1m1 0h1m0.5 0h1m3.5 0h1m0.5 0h1m2 0h1m0 0h1m0 0h1m2.5 0h1m1.5 0h1m0 0h1m0 0h1m0.5 0h1m0 0h1m2 0h1m0 0h1m2.5 0h1m-0.5 0h1m1.5 0h1m-0.5 0h1m0 0h1m3 0h1m14 0h1m-0.5 0h1m17.5 0h1m49 0h1m0 0h1m-0.5 0h1m0 0h1m-0.5 0h1m0 0h1m0 0h1m-0.5 0h1m0 0h1m0 0h1m0 0h1m2 0h1m-0.5 0h1m0 0h1m-0.5 0h1m-0.5 0h1m0 0h1m0 0h1m-0.5 0h1m-0.5 0h1m-0.5 0h1m-0.5 0h1m0 0h1m0.5 0h1m2 0h1m0 0h1m1 0h1m2.5 0h1m2 0h1m29.5 0h1m-440.5 0.5h1m2.5 0h1m-0.5 0h1m0 0h1m3 0h1m-0.5 0h1m3 0h1m-0.5 0h1m5.5 0h1m18 0h1m16.5 0h1m8 0h1m54.5 0h1m4 0h1m0 0h1m-0.5 0h1m1.5 0h1m0.5 0h1m1.5 0h1m1.5 0h1m7.5 0h1m-0.5 0h1m-0.5 0h1m0 0h1m1.5 0h1m0.5 0h1m3 0h1m-0.5 0h1m21 0h1m72.5 0h1m6.5 0h1m2 0h1m-0.5 0h1m3.5 0h1m0 0h1m3 0h1m-0.5 0h1m1 0h1m-0.5 0h1m0 0h1m1 0h1m-0.5 0h1m0 0h1m-0.5 0h1m0 0h1m-0.5 0h1m0.5 0h1m1 0h1m-0.5 0h1m2 0h1m0 0h1m4.5 0h1m5 0h1m8 0h1m8 0h1m54 0h1m0.5 0h1m0.5 0h1m-0.5 0h1m1 0h1m-0.5 0h1m-0.5 0h1m3 0h1m2.5 0h1m2.5 0h1m-0.5 0h1m1.5 0h1m-0.5 0h1m0 0h1m5.5 0h1m4.5 0h1m-407 0.5h1m1.5 0h1m0 0h1m0.5 0h1m1.5 0h1m0 0h1m1.5 0h1m0.5 0h1m0.5 0h1m0 0h1m1.5 0h1m17.5 0h1m3.5 0h1m13 0h1m9 0h1m10.5 0h1m40.5 0h1m7.5 0h1m4.5 0h1m1 0h1m1 0h1m-0.5 0h1m1 0h1m0 0h1m1.5 0h1m1 0h1m-0.5 0h1m1.5 0h1m3 0h1m96 0h1m4 0h1m0.5 0h1m0.5 0h1m2 0h1m1 0h1m0.5 0h1m0.5 0h1m-0.5 0h1m0 0h1m2.5 0h1m3 0h1m0.5 0h1m0 0h1m-0.5 0h1m0.5 0h1m0.5 0h1m0.5 0h1m-0.5 0h1m2 0h1m1 0h1m0.5 0h1m1.5 0h1m1 0h1m0 0h1m8.5 0h1m77.5 0h1m2 0h1m0.5 0h1m0 0h1m1.5 0h1m0.5 0h1m1.5 0h1m0 0h1m2.5 0h1m3 0h1m-399 0.5h1m4.5 0h1m1.5 0h1m3 0h1m-0.5 0h1m-0.5 0h1m0 0h1m7 0h1m5.5 0h1m7 0h1m77 0h1m6 0h1m2.5 0h1m4 0h1m0 0h1m1.5 0h1m0 0h1m-0.5 0h1m0 0h1m6 0h1m6.5 0h1m16 0h1m74 0h1m2.5 0h1m-0.5 0h1m1 0h1m-0.5 0h1m0.5 0h1m-0.5 0h1m1 0h1m4.5 0h1m-0.5 0h1m0.5 0h1m3 0h1m-0.5 0h1m1.5 0h1m3 0h1m-0.5 0h1m-0.5 0h1m-0.5 0h1m-0.5 0h1m0 0h1m0 0h1m0 0h1m3 0h1m2.5 0h1m0.5 0h1m2 0h1m0 0h1m10 0h1m15 0h1m3.5 0h1m45 0h1m1 0h1m0.5 0h1m1.5 0h1m1.5 0h1m-0.5 0h1m-0.5 0h1m-0.5 0h1m-0.5 0h1m-0.5 0h1m0 0h1m0 0h1m0.5 0h1m-0.5 0h1m1.5 0h1m-0.5 0h1m-0.5 0h1m-0.5 0h1m-0.5 0h1m0.5 0h1m0.5 0h1m0.5 0h1m0.5 0h1m3.5 0h1m1.5 0h1m16.5 0h1m16.5 0h1m-438 0.5h1m1.5 0h1m-0.5 0h1m-0.5 0h1m0 0h1m1.5 0h1m-0.5 0h1m0.5 0h1m-0.5 0h1m1.5 0h1m2 0h1m1.5 0h1m25 0h1m21 0h1m56 0h1m7.5 0h1m3.5 0h1m2 0h1m1 0h1m-0.5 0h1m0 0h1m-0.5 0h1m3 0h1m5.5 0h1m0 0h1m-0.5 0h1m1 0h1m-0.5 0h1m0.5 0h1m92 0h1m1.5 0h1m-0.5 0h1m0 0h1m2 0h1m0 0h1m0 0h1m-0.5 0h1m-0.5 0h1m1 0h1m0 0h1m-0.5 0h1m-0.5 0h1m0 0h1m0 0h1m0.5 0h1m3 0h1m3.5 0h1m1 0h1m3 0h1m3 0h1m3 0h1m12.5 0h1m2 0h1m60 0h1m3 0h1m0.5 0h1m0.5 0h1m-0.5 0h1m1.5 0h1m2 0h1m0 0h1m1 0h1m0 0h1m1.5 0h1m2 0h1m3 0h1m-0.5 0h1m2 0h1m14 0h1m11.5 0h1m-434.5 0.5h1m2 0h1m1.5 0h1m3.5 0h1m1 0h1m2.5 0h1m-0.5 0h1m-0.5 0h1m-0.5 0h1m2.5 0h1m0.5 0h1m-0.5 0h1m2 0h1m6 0h1m5 0h1m0 0h1m4.5 0h1m5 0h1m24 0h1m47.5 0h1m7 0h1m3.5 0h1m4.5 0h1m0.5 0h1m0.5 0h1m3 0h1m5.5 0h1m-0.5 0h1m4.5 0h1m9 0h1m83.5 0h1m-0.5 0h1m2.5 0h1m-0.5 0h1m2 0h1m2.5 0h1m2 0h1m-0.5 0h1m0 0h1m0 0h1m0.5 0h1m2 0h1m0.5 0h1m0 0h1m2 0h1m-0.5 0h1m-0.5 0h1m0.5 0h1m1.5 0h1m0 0h1m5 0h1m-0.5 0h1m0.5 0h1m-0.5 0h1m0.5 0h1m-0.5 0h1m0 0h1m1 0h1m0 0h1m7.5 0h1m70.5 0h1m0.5 0h1m1 0h1m2 0h1m1.5 0h1m-0.5 0h1m0 0h1m-0.5 0h1m-0.5 0h1m-0.5 0h1m0 0h1m1.5 0h1m0 0h1m-0.5 0h1m3.5 0h1m-0.5 0h1m8 0h1m0 0h1m9.5 0h1m-423.5 0.5h1m4 0h1m4 0h1m-0.5 0h1m0.5 0h1m-0.5 0h1m1.5 0h1m3.5 0h1m3 0h1m0 0h1m15.5 0h1m4 0h1m3.5 0h1m8.5 0h1m59.5 0h1m17 0h1m1.5 0h1m-0.5 0h1m5 0h1m-0.5 0h1m1 0h1m-0.5 0h1m8 0h1m92 0h1m6 0h1m2.5 0h1m1.5 0h1m0 0h1m0.5 0h1m0 0h1m0 0h1m-0.5 0h1m1 0h1m0 0h1m0 0h1m2.5 0h1m6 0h1m0 0h1m-0.5 0h1m-0.5 0h1m1.5 0h1m0 0h1m0 0h1m-0.5 0h1m1 0h1m0.5 0h1m3.5 0h1m12 0h1m64 0h1m1 0h1m2 0h1m4.5 0h1m-0.5 0h1m0.5 0h1m0.5 0h1m-0.5 0h1m-0.5 0h1m0 0h1m-0.5 0h1m-0.5 0h1m-0.5 0h1m0 0h1m0.5 0h1m8 0h1m26 0h1m-433 0.5h1m2 0h1m0.5 0h1m-0.5 0h1m-0.5 0h1m0 0h1m0 0h1m1 0h1m-0.5 0h1m1.5 0h1m0 0h1m-0.5 0h1m0 0h1m-0.5 0h1m36.5 0h1m13 0h1m9 0h1m46 0h1m2 0h1m1.5 0h1m3.5 0h1m3 0h1m-0.5 0h1m3 0h1m3.5 0h1m5 0h1m3.5 0h1m3 0h1m1.5 0h1m0 0h1m8.5 0h1m-0.5 0h1m70.5 0h1m3 0h1m4 0h1m0 0h1m2.5 0h1m4.5 0h1m0 0h1m3 0h1m0.5 0h1m2.5 0h1m0 0h1m0.5 0h1m-0.5 0h1m-0.5 0h1m0 0h1m-0.5 0h1m0 0h1m0 0h1m0 0h1m1.5 0h1m0.5 0h1m1 0h1m12 0h1m7 0h1m1.5 0h1m1.5 0h1m53.5 0h1m0 0h1m1.5 0h1m3 0h1m0 0h1m-0.5 0h1m1.5 0h1m0 0h1m3.5 0h1m1 0h1m3 0h1m33.5 0h1m1.5 0h1m-431 0.5h1m0 0h1m1 0h1m0.5 0h1m2.5 0h1m0.5 0h1m-0.5 0h1m0 0h1m2.5 0h1m-0.5 0h1m0.5 0h1m3 0h1m-0.5 0h1m1 0h1m5 0h1m26 0h1m72.5 0h1m3 0h1m1 0h1m0 0h1m4 0h1m-0.5 0h1m0 0h1m0 0h1m2 0h1m9 0h1m1 0h1m13.5 0h1m72 0h1m3.5 0h1m2.5 0h1m-0.5 0h1m0.5 0h1m1 0h1m2.5 0h1m0.5 0h1m1 0h1m0 0h1m1 0h1m1 0h1m1 0h1m-0.5 0h1m1 0h1m-0.5 0h1m-0.5 0h1m-0.5 0h1m1.5 0h1m-0.5 0h1m1 0h1m4.5 0h1m2.5 0h1m2.5 0h1m8.5 0h1m71 0h1m-0.5 0h1m0.5 0h1m-0.5 0h1m2.5 0h1m-0.5 0h1m0 0h1m0 0h1m-0.5 0h1m1.5 0h1m33.5 0h1m-423.5 0.5h1m0 0h1m1.5 0h1m-0.5 0h1m0.5 0h1m0.5 0h1m-0.5 0h1m0.5 0h1m0 0h1m1.5 0h1m-0.5 0h1m1 0h1m0.5 0h1m-0.5 0h1m0 0h1m0 0h1m3.5 0h1m-0.5 0h1m1.5 0h1m1 0h1m12.5 0h1m0.5 0h1m7.5 0h1m16.5 0h1m50.5 0h1m8.5 0h1m1.5 0h1m0 0h1m0 0h1m0.5 0h1m-0.5 0h1m1.5 0h1m1 0h1m-0.5 0h1m0 0h1m0 0h1m-0.5 0h1m0.5 0h1m1 0h1m0.5 0h1m3 0h1m0 0h1m45.5 0h1m3 0h1m48.5 0h1m2 0h1m3.5 0h1m0.5 0h1m1.5 0h1m0.5 0h1m-0.5 0h1m0 0h1m2.5 0h1m0.5 0h1m0.5 0h1m0 0h1m0.5 0h1m0 0h1m-0.5 0h1m1.5 0h1m3 0h1m-0.5 0h1m1 0h1m3 0h1m2.5 0h1m74 0h1m5 0h1m4.5 0h1m-0.5 0h1m0 0h1m-0.5 0h1m-0.5 0h1m-0.5 0h1m0.5 0h1m0 0h1m-0.5 0h1m0.5 0h1m8.5 0h1m16 0h1m-419.5 0.5h1m4.5 0h1m-0.5 0h1m1.5 0h1m1 0h1m-0.5 0h1m-0.5 0h1m0 0h1m0 0h1m0 0h1m1 0h1m0.5 0h1m3 0h1m1.5 0h1m1.5 0h1m5.5 0h1m1 0h1m13.5 0h1m1 0h1m6 0h1m61.5 0h1m8 0h1m2 0h1m1 0h1m1.5 0h1m2 0h1m1.5 0h1m-0.5 0h1m0 0h1m0 0h1m2.5 0h1m3 0h1m3 0h1m9.5 0h1m0 0h1m0.5 0h1m86.5 0h1m2 0h1m-0.5 0h1m-0.5 0h1m0.5 0h1m0 0h1m3.5 0h1m1.5 0h1m1 0h1m-0.5 0h1m-0.5 0h1m0.5 0h1m0 0h1m0.5 0h1m0.5 0h1m-0.5 0h1m-0.5 0h1m0.5 0h1m1.5 0h1m11.5 0h1m79 0h1m3.5 0h1m-0.5 0h1m0 0h1m1.5 0h1m-0.5 0h1m1.5 0h1m4 0h1m-0.5 0h1m4.5 0h1m35.5 0h1m6.5 0h1m-443 0.5h1m1.5 0h1m1 0h1m-0.5 0h1m1 0h1m0.5 0h1m0 0h1m-0.5 0h1m-0.5 0h1m1 0h1m0 0h1m3 0h1m-0.5 0h1m0.5 0h1m-0.5 0h1m-0.5 0h1m-0.5 0h1m1.5 0h1m1 0h1m24 0h1m-0.5 0h1m9 0h1m58 0h1m1 0h1m0 0h1m4.5 0h1m5.5 0h1m4 0h1m3 0h1m3.5 0h1m1.5 0h1m1.5 0h1m-0.5 0h1m7.5 0h1m1 0h1m94 0h1m0 0h1m2.5 0h1m3.5 0h1m0 0h1m1 0h1m0.5 0h1m3 0h1m-0.5 0h1m0 0h1m-0.5 0h1m1 0h1m0 0h1m0.5 0h1m0 0h1m3.5 0h1m1.5 0h1m81 0h1m0.5 0h1m1 0h1m-0.5 0h1m-0.5 0h1m0 0h1m1 0h1m1.5 0h1m1 0h1m2 0h1m1.5 0h1m0.5 0h1m-0.5 0h1m-0.5 0h1m4.5 0h1m1 0h1m-407 0.5h1m-0.5 0h1m5.5 0h1m-0.5 0h1m2 0h1m2.5 0h1m-0.5 0h1m1.5 0h1m-0.5 0h1m0 0h1m1 0h1m2 0h1m1 0h1m27.5 0h1m16 0h1m53 0h1m0.5 0h1m8 0h1m-0.5 0h1m0.5 0h1m-0.5 0h1m5.5 0h1m2.5 0h1m1 0h1m6.5 0h1m0 0h1m9.5 0h1m27.5 0h1m58.5 0h1m1 0h1m3 0h1m1 0h1m0.5 0h1m0 0h1m0 0h1m1.5 0h1m7 0h1m0 0h1m2.5 0h1m1 0h1m0 0h1m5 0h1m10 0h1m0.5 0h1m73 0h1m3.5 0h1m0 0h1m3 0h1m1.5 0h1m-0.5 0h1m-0.5 0h1m-0.5 0h1m-0.5 0h1m0 0h1m1 0h1m2 0h1m2.5 0h1m0 0h1m-396.5 0.5h1m-0.5 0h1m0 0h1m2 0h1m-0.5 0h1m0.5 0h1m-0.5 0h1m0 0h1m0 0h1m2 0h1m1 0h1m-0.5 0h1m12 0h1m1.5 0h1m7.5 0h1m15.5 0h1m24.5 0h1m38.5 0h1m7 0h1m-0.5 0h1m2 0h1m4.5 0h1m0 0h1m3.5 0h1m0 0h1m1 0h1m0.5 0h1m4.5 0h1m3.5 0h1m97 0h1m1.5 0h1m2.5 0h1m4 0h1m0.5 0h1m0.5 0h1m2.5 0h1m0 0h1m3 0h1m-0.5 0h1m2.5 0h1m-0.5 0h1m6.5 0h1m0 0h1m10 0h1m2.5 0h1m63.5 0h1m6.5 0h1m1 0h1m1 0h1m-0.5 0h1m-0.5 0h1m-0.5 0h1m0 0h1m-0.5 0h1m0 0h1m-0.5 0h1m1 0h1m1 0h1m1.5 0h1m19.5 0h1m-421 0.5h1m-0.5 0h1m2 0h1m1.5 0h1m-0.5 0h1m1 0h1m0.5 0h1m-0.5 0h1m-0.5 0h1m3 0h1m0.5 0h1m1 0h1m-0.5 0h1m0 0h1m0 0h1m1.5 0h1m5.5 0h1m1 0h1m21 0h1m77 0h1m9.5 0h1m3.5 0h1m0 0h1m0 0h1m4 0h1m1 0h1m2.5 0h1m2 0h1m-0.5 0h1m2 0h1m17 0h1m2.5 0h1m69.5 0h1m3.5 0h1m1.5 0h1m2 0h1m0.5 0h1m4.5 0h1m-0.5 0h1m4.5 0h1m2 0h1m1 0h1m0.5 0h1m0 0h1m1.5 0h1m-0.5 0h1m1.5 0h1m-0.5 0h1m2.5 0h1m1 0h1m5.5 0h1m22.5 0h1m49.5 0h1m1 0h1m1.5 0h1m1 0h1m-0.5 0h1m-0.5 0h1m0.5 0h1m-0.5 0h1m0 0h1m2 0h1m0.5 0h1m0.5 0h1m0.5 0h1m0.5 0h1m-0.5 0h1m-0.5 0h1m6.5 0h1m21 0h1m7.5 0h1m2.5 0h1m-437 0.5h1m0 0h1m-0.5 0h1m-0.5 0h1m2 0h1m-0.5 0h1m0.5 0h1m-0.5 0h1m0 0h1m-0.5 0h1m0.5 0h1m8 0h1m2 0h1m12 0h1m2 0h1m23.5 0h1m69.5 0h1m-0.5 0h1m4.5 0h1m0 0h1m-0.5 0h1m4 0h1m3 0h1m13 0h1m99.5 0h1m0 0h1m3 0h1m1 0h1m-0.5 0h1m0 0h1m0 0h1m-0.5 0h1m3.5 0h1m-0.5 0h1m3 0h1m3.5 0h1m-0.5 0h1m-0.5 0h1m0 0h1m0 0h1m6 0h1m3.5 0h1m65 0h1m12.5 0h1m1 0h1m2.5 0h1m0 0h1m3.5 0h1m1.5 0h1m9.5 0h1m-411 0.5h1m0.5 0h1m2 0h1m0 0h1m1.5 0h1m-0.5 0h1m0.5 0h1m2 0h1m0 0h1m-0.5 0h1m1.5 0h1m1.5 0h1m0 0h1m1.5 0h1m2 0h1m10.5 0h1m11 0h1m73 0h1m3 0h1m2.5 0h1m4.5 0h1m5.5 0h1m1 0h1m-0.5 0h1m4 0h1m0.5 0h1m-0.5 0h1m3 0h1m1 0h1m2.5 0h1m0 0h1m1 0h1m1 0h1m2 0h1m11.5 0h1m74 0h1m6.5 0h1m9.5 0h1m-0.5 0h1m-0.5 0h1m-0.5 0h1m1 0h1m0 0h1m2.5 0h1m-0.5 0h1m7 0h1m14.5 0h1m74 0h1m1.5 0h1m1.5 0h1m0 0h1m0 0h1m5.5 0h1m13 0h1m5 0h1m-420.5 0.5h1m-0.5 0h1m0.5 0h1m-0.5 0h1m-0.5 0h1m1.5 0h1m-0.5 0h1m4 0h1m0.5 0h1m-0.5 0h1m0 0h1m0.5 0h1m0 0h1m0.5 0h1m0 0h1m2.5 0h1m1 0h1m1.5 0h1m7.5 0h1m89 0h1m2 0h1m4.5 0h1m-0.5 0h1m5 0h1m2 0h1m-0.5 0h1m-0.5 0h1m0.5 0h1m0.5 0h1m2 0h1m5 0h1m2.5 0h1m10.5 0h1m13 0h1m0 0h1m78.5 0h1m0 0h1m3.5 0h1m1.5 0h1m2 0h1m-0.5 0h1m0 0h1m1.5 0h1m-0.5 0h1m3 0h1m2 0h1m1.5 0h1m4 0h1m3 0h1m2 0h1m10.5 0h1m69.5 0h1m2 0h1m2 0h1m0.5 0h1m-0.5 0h1m-0.5 0h1m0.5 0h1m0.5 0h1m0 0h1m2 0h1m-0.5 0h1m2 0h1m15.5 0h1m0 0h1m-419 0.5h1m1 0h1m1 0h1m0 0h1m-0.5 0h1m0 0h1m3 0h1m-0.5 0h1m0 0h1m0 0h1m2 0h1m0.5 0h1m0.5 0h1m2.5 0h1m0 0h1m44.5 0h1m64.5 0h1m6.5 0h1m7 0h1m-0.5 0h1m4 0h1m20.5 0h1m1.5 0h1m78.5 0h1m3 0h1m4 0h1m7.5 0h1m2 0h1m6.5 0h1m3 0h1m-0.5 0h1m2 0h1m31 0h1m58.5 0h1m-0.5 0h1m0 0h1m2 0h1m-0.5 0h1m0 0h1m6.5 0h1m8 0h1m4 0h1m19.5 0h1m-431.5 0.5h1m-0.5 0h1m0 0h1m1.5 0h1m-0.5 0h1m2.5 0h1m1 0h1m1 0h1m-0.5 0h1m3 0h1m3 0h1m0 0h1m9 0h1m3.5 0h1m13.5 0h1m7 0h1m1 0h1m56.5 0h1m0.5 0h1m5.5 0h1m2 0h1m7 0h1m0 0h1m6.5 0h1m3 0h1m12.5 0h1m1 0h1m9.5 0h1m15.5 0h1m60.5 0h1m0 0h1m0.5 0h1m1 0h1m7 0h1m-0.5 0h1m1 0h1m2 0h1m2 0h1m0 0h1m0 0h1m9 0h1m0.5 0h1m4.5 0h1m81.5 0h1m2.5 0h1m3 0h1m0.5 0h1m2 0h1m4 0h1m2.5 0h1m4 0h1m-409 0.5h1m-0.5 0h1m3 0h1m2.5 0h1m1 0h1m1 0h1m2 0h1m0 0h1m2 0h1m-0.5 0h1m0 0h1m7 0h1m12.5 0h1m0 0h1m21 0h1m10.5 0h1m0 0h1m46.5 0h1m3 0h1m0.5 0h1m4.5 0h1m5.5 0h1m-0.5 0h1m1.5 0h1m1.5 0h1m0 0h1m0 0h1m0.5 0h1m8.5 0h1m-0.5 0h1m9.5 0h1m3.5 0h1m0.5 0h1m74 0h1m9 0h1m2 0h1m1 0h1m3 0h1m3.5 0h1m-0.5 0h1m-0.5 0h1m2.5 0h1m1.5 0h1m2 0h1m2 0h1m18 0h1m80.5 0h1m-0.5 0h1m0.5 0h1m0 0h1m0.5 0h1m0 0h1m-0.5 0h1m9 0h1m1 0h1m1.5 0h1m-410.5 0.5h1m1.5 0h1m-0.5 0h1m0.5 0h1m0 0h1m2 0h1m0.5 0h1m1.5 0h1m0 0h1m-0.5 0h1m0 0h1m1.5 0h1m0 0h1m2.5 0h1m-0.5 0h1m0.5 0h1m1 0h1m14.5 0h1m1.5 0h1m20 0h1m2 0h1m62.5 0h1m2.5 0h1m5.5 0h1m2 0h1m-0.5 0h1m-0.5 0h1m2.5 0h1m0.5 0h1m3 0h1m114 0h1m-0.5 0h1m1 0h1m1 0h1m-0.5 0h1m1.5 0h1m0 0h1m0.5 0h1m1.5 0h1m2 0h1m-0.5 0h1m2 0h1m-0.5 0h1m1 0h1m0 0h1m1.5 0h1m-0.5 0h1m5.5 0h1m3 0h1m12 0h1m62 0h1m9.5 0h1m1 0h1m5.5 0h1m2.5 0h1m5 0h1m-407 0.5h1m4 0h1m2.5 0h1m1.5 0h1m-0.5 0h1m-0.5 0h1m0.5 0h1m0 0h1m-0.5 0h1m0 0h1m-0.5 0h1m3.5 0h1m3.5 0h1m93.5 0h1m10.5 0h1m-0.5 0h1m12 0h1m6 0h1m114.5 0h1m0.5 0h1m0 0h1m3 0h1m1 0h1m-0.5 0h1m1.5 0h1m-0.5 0h1m-0.5 0h1m-0.5 0h1m1.5 0h1m0 0h1m5.5 0h1m21.5 0h1m-0.5 0h1m64.5 0h1m0.5 0h1m4 0h1m0.5 0h1m0 0h1m1 0h1m0.5 0h1m-0.5 0h1m-398.5 0.5h1m-0.5 0h1m4.5 0h1m0 0h1m0.5 0h1m1.5 0h1m-0.5 0h1m1 0h1m-0.5 0h1m0.5 0h1m-0.5 0h1m1 0h1m-0.5 0h1m0 0h1m-0.5 0h1m3.5 0h1m3 0h1m17.5 0h1m10 0h1m69 0h1m15 0h1m0 0h1m0 0h1m0 0h1m1 0h1m104.5 0h1m1.5 0h1m1.5 0h1m3.5 0h1m4 0h1m5.5 0h1m3 0h1m1 0h1m-0.5 0h1m1.5 0h1m3 0h1m0 0h1m1.5 0h1m3 0h1m1 0h1m85 0h1m5.5 0h1m3 0h1m1 0h1m4.5 0h1m-398.5 0.5h1m1 0h1m0 0h1m3.5 0h1m5 0h1m-0.5 0h1m0 0h1m7 0h1m1 0h1m5 0h1m1.5 0h1m6 0h1m92 0h1m7.5 0h1m4.5 0h1m0.5 0h1m6 0h1m4.5 0h1m95.5 0h1m1.5 0h1m2.5 0h1m0.5 0h1m2.5 0h1m-0.5 0h1m0.5 0h1m2 0h1m1 0h1m-0.5 0h1m3 0h1m3.5 0h1m85.5 0h1m11.5 0h1m7 0h1m2.5 0h1m28.5 0h1m-427.5 0.5h1m0 0h1m5 0h1m3 0h1m0 0h1m1.5 0h1m0 0h1m0.5 0h1m1 0h1m0 0h1m-0.5 0h1m1.5 0h1m7.5 0h1m6.5 0h1m21.5 0h1m2.5 0h1m20.5 0h1m48.5 0h1m7.5 0h1m16 0h1m30 0h1m7 0h1m54 0h1m2.5 0h1m-0.5 0h1m0 0h1m2.5 0h1m8.5 0h1m0.5 0h1m8 0h1m1.5 0h1m-0.5 0h1m8 0h1m79 0h1m4 0h1m8 0h1m3.5 0h1m4 0h1m0.5 0h1m9 0h1m0.5 0h1m14.5 0h1m13.5 0h1m-438 0.5h1m5.5 0h1m-0.5 0h1m0 0h1m0 0h1m0 0h1m0 0h1m3 0h1m39.5 0h1m70 0h1m4.5 0h1m4 0h1m5 0h1m7.5 0h1m91 0h1m8 0h1m3 0h1m8.5 0h1m5 0h1m7.5 0h1m1.5 0h1m-0.5 0h1m2.5 0h1m1 0h1m7.5 0h1m72 0h1m-369.5 0.5h1m2.5 0h1m0 0h1m1.5 0h1m2 0h1m0 0h1m0 0h1m0.5 0h1m0.5 0h1m1 0h1m29.5 0h1m77.5 0h1m1 0h1m0 0h1m0 0h1m5.5 0h1m-0.5 0h1m0 0h1m7 0h1m4.5 0h1m30.5 0h1m68 0h1m2 0h1m0.5 0h1m3.5 0h1m4 0h1m0 0h1m7 0h1m3 0h1m3 0h1m0 0h1m84.5 0h1m11 0h1m-391 0.5h1m7.5 0h1m1.5 0h1m0 0h1m0 0h1m-0.5 0h1m1.5 0h1m1 0h1m-0.5 0h1m4 0h1m1 0h1m-0.5 0h1m5 0h1m13 0h1m80.5 0h1m-0.5 0h1m0 0h1m1 0h1m6.5 0h1m0 0h1m4 0h1m2.5 0h1m3 0h1m1.5 0h1m111.5 0h1m0 0h1m1 0h1m1 0h1m8.5 0h1m11.5 0h1m4 0h1m76 0h1m13.5 0h1m42.5 0h1m-432 0.5h1m5 0h1m2 0h1m0 0h1m-0.5 0h1m3 0h1m0 0h1m-0.5 0h1m0.5 0h1m-0.5 0h1m0 0h1m0 0h1m22.5 0h1m17 0h1m66.5 0h1m4 0h1m1 0h1m0 0h1m4 0h1m-0.5 0h1m0 0h1m16 0h1m3.5 0h1m38 0h1m42 0h1m37 0h1m3.5 0h1m4.5 0h1m4.5 0h1m75.5 0h1m2 0h1m0.5 0h1m2.5 0h1m5 0h1m9 0h1m-391.5 0.5h1m1.5 0h1m1 0h1m-0.5 0h1m0 0h1m1 0h1m18.5 0h1m20.5 0h1m67.5 0h1m3.5 0h1m2 0h1m20 0h1m14.5 0h1m14.5 0h1m66 0h1m19 0h1m10.5 0h1m4 0h1m81.5 0h1m14.5 0h1m3 0h1m27 0h1m-418 0.5h1m-0.5 0h1m1.5 0h1m4.5 0h1m1 0h1m0.5 0h1m0 0h1m0 0h1m13 0h1m2.5 0h1m0.5 0h1m2.5 0h1m-0.5 0h1m19.5 0h1m8 0h1m67 0h1m-0.5 0h1m3 0h1m17.5 0h1m94.5 0h1m9.5 0h1m12 0h1m4.5 0h1m88 0h1m8.5 0h1m-387 0.5h1m0.5 0h1m5 0h1m1.5 0h1m1 0h1m-0.5 0h1m4.5 0h1m3 0h1m12 0h1m2.5 0h1m14.5 0h1m6.5 0h1m61 0h1m16 0h1m1.5 0h1m3.5 0h1m1 0h1m24 0h1m82.5 0h1m18 0h1m3 0h1m10 0h1m91 0h1m13.5 0h1m2 0h1m24.5 0h1m-423.5 0.5h1m2.5 0h1m-0.5 0h1m-0.5 0h1m-0.5 0h1m2 0h1m0 0h1m-0.5 0h1m-0.5 0h1m0 0h1m1 0h1m0 0h1m-0.5 0h1m123.5 0h1m125 0h1m10.5 0h1m1 0h1m24 0h1m-0.5 0h1m-238.5 0.5h1m3 0h1m56 0h1m4.5 0h1m3.5 0h1m124 0h1m19.5 0h1m-283.5 0.5h1m3 0h1m1.5 0h1m3 0h1m0.5 0h1m2.5 0h1m112 0h1m1.5 0h1m-0.5 0h1m10.5 0h1m0.5 0h1m10.5 0h1m121 0h1m110 0h1m-390.5 0.5h1m3.5 0h1m-0.5 0h1m2 0h1m4 0h1m5.5 0h1m36.5 0h1m8 0h1m57.5 0h1m6 0h1m157.5 0h1m5.5 0h1m73.5 0h1m13.5 0h1m48.5 0h1m-431 0.5h1m2.5 0h1m5 0h1m9.5 0h1m19.5 0h1m79.5 0h1m12 0h1m250 0h1m4 0h1m-398 0.5h1m2.5 0h1m0.5 0h1m9 0h1m10 0h1m9 0h1m3 0h1m108.5 0h1m122.5 0h1m3 0h1m110.5 0h1m-367.5 0.5h1m292.5 37h1m-21 1.5h1m-126.5 3h1m25 1.5h1m-186 2h1m54.5 1h1m190 0h1m-257.5 0.5h1m149.5 0h1m-145.5 0.5h1m7.5 0h1m123 0h1m117.5 0h1m-264 0.5h1m157 0h1m114 0h1m-256 0.5h1m125 0h1m106.5 0h1m-219.5 0.5h1m2.5 0h1m109.5 0h1m15 0h1m-162 0.5h1m0 0h1m2.5 0h1m5.5 0h1m11 0h1m105.5 0.5h1m6 0h1m3 0h1m243 0h1m-388.5 0.5h1m8.5 0h1m24 0h1m94 0h1m2.5 0h1m1.5 0h1m28.5 0h1m90 0h1m19.5 0h1m98.5 0h1m25.5 0h1m-392.5 0.5h1m66 0h1m73.5 0h1m9 0h1m110.5 0h1m6 0h1m101 0h1m-371.5 0.5h1m57.5 0h1m85.5 0h1m14.5 0h1m102.5 0h1m0.5 0h1m97.5 0h1m1.5 0h1m0 0h1m-380.5 0.5h1m0.5 0h1m8 0h1m3 0h1m41 0h1m92 0h1m109.5 0h1m114.5 0h1m-377 0.5h1m4 0h1m6 0h1m3 0h1m2.5 0h1m10 0h1m41 0h1m60.5 0h1m3 0h1m7.5 0h1m21.5 0h1m17.5 0h1m79 0h1m16 0h1m2.5 0h1m2 0h1m88 0h1m0 0h1m41 0h1m-422.5 0.5h1m12.5 0h1m116 0h1m3 0h1m7.5 0h1m41.5 0h1m20 0h1m52.5 0h1m2 0h1m116 0h1m-376 0.5h1m0.5 0h1m16 0h1m99.5 0h1m4 0h1m3 0h1m40.5 0h1m4 0h1m20 0h1m50 0h1m16.5 0h1m0 0h1m7 0h1m100.5 0h1m-377 0.5h1m9 0h1m1 0h1m1.5 0h1m109.5 0h1m20 0h1m13.5 0h1m1.5 0h1m0.5 0h1m25 0h1m56 0h1m13 0h1m0.5 0h1m2 0h1m3.5 0h1m108 0h1m-382 0.5h1m9.5 0h1m2.5 0h1m2.5 0h1m103.5 0h1m0 0h1m12 0h1m2 0h1m21.5 0h1m9 0h1m122 0h1m88 0h1m3.5 0h1m-387 0.5h1m0 0h1m4 0h1m13.5 0h1m6.5 0h1m109.5 0h1m5 0h1m3.5 0h1m2 0h1m49.5 0h1m56 0h1m-0.5 0h1m41.5 0h1m71.5 0h1m9 0h1m-389.5 0.5h1m1 0h1m120.5 0h1m5.5 0h1m12.5 0h1m7.5 0h1m8 0h1m5 0h1m97.5 0h1m18 0h1m89 0h1m3 0h1m-381 0.5h1m2.5 0h1m5 0h1m0 0h1m-0.5 0h1m4.5 0h1m3.5 0h1m117 0h1m113 0h1m0.5 0h1m42 0h1m85 0h1m0.5 0h1m2 0h1m-389 0.5h1m3 0h1m6.5 0h1m3.5 0h1m1 0h1m7 0h1m225.5 0h1m11.5 0h1m0 0h1m0.5 0h1m5 0h1m0.5 0h1m115 0h1m-391.5 0.5h1m2 0h1m10 0h1m9.5 0h1m106.5 0h1m2.5 0h1m3 0h1m1.5 0h1m4 0h1m7.5 0h1m0 0h1m51.5 0h1m41.5 0h1m9.5 0h1m2 0h1m0 0h1m5.5 0h1m63.5 0h1m-333.5 0.5h1m0 0h1m2.5 0h1m10.5 0h1m8.5 0h1m93 0h1m1 0h1m3.5 0h1m4.5 0h1m0.5 0h1m11.5 0h1m0.5 0h1m116 0h1m3 0h1m0.5 0h1m12.5 0h1m87 0h1m0.5 0h1m3 0h1m1 0h1m16 0h1m-355.5 0.5h1m78 0h1m17.5 0h1m1 0h1m21 0h1m28 0h1m11.5 0h1m45.5 0h1m9.5 0h1m135 0h1m-401 0.5h1m6 0h1m1.5 0h1m114 0h1m15.5 0h1m6 0h1m48 0h1m14.5 0h1m42.5 0h1m116.5 0h1m-0.5 0h1m0 0h1m9 0h1m4.5 0h1m-391 0.5h1m65.5 0h1m58.5 0h1m4 0h1m126 0h1m1.5 0h1m0 0h1m6.5 0h1m2.5 0h1m1 0h1m9.5 0h1m9 0h1m36.5 0h1m40.5 0h1m4.5 0h1m-0.5 0h1m1.5 0h1m-385.5 0.5h1m176 0h1m89.5 0h1m5.5 0h1m100.5 0h1m1.5 0h1m1 0h1m4.5 0h1m27.5 0h1m-407 0.5h1m9.5 0h1m137.5 0h1m93.5 0h1m0.5 0h1m24.5 0h1m96.5 0h1m3.5 0h1m15.5 0h1m-381.5 0.5h1m6 0h1m8 0h1m91.5 0h1m10.5 0h1m126 0h1m1 0h1m0.5 0h1m20.5 0h1m49 0h1m39 0h1m9 0h1m-373.5 0.5h1m47.5 0h1m64.5 0h1m9 0h1m6 0h1m23 0h1m21 0h1m81.5 0h1m7 0h1m31.5 0h1m87.5 0h1m-378.5 0.5h1m223.5 0h1m25 0h1m21 0h1m77.5 0h1m1 0h1m1 0h1m1 0h1m-0.5 0h1m-134 0.5h1m8.5 0h1m16.5 0h1m96 0h1m0 0h1m6 0h1m3.5 0h1m14 0h1m-376.5 0.5h1m243 0h1m-6 0.5h1m113.5 0h1m-54.5 0.5h1m65.5 0h1m2.5 0h1m-362.5 0.5h1m92.5 0h1m125.5 0h1m31.5 0h1m85.5 0h1m9 0h1m-112.5 0.5h1m108 0h1m7 0h1m-321.5 0.5h1m96 0h1m97 0h1m56 0h1m67.5 0h1m-326.5 0.5h1m82.5 0h1m226.5 0h1m11.5 0h1m4.5 0h1m13 0.5h1m5 0h1m-151.5 0.5h1m2.5 0h1m135 0h1m-19 0.5h1m25.5 0h1m-155 0.5h1m26 0h1m0 0h1m105 0h1m-387.5 1h1m245.5 0h1m142 0h1m-377.5 0.5h1m387.5 0h1m-12.5 0.5h1m14.5 0.5h1m-70 0.5h1m-200 1h1m259.5 0h1m-137 0.5h1m7 0h1m40 0h1m-191 1h1m152 0.5h1m123 0h1m-78 1h1m79 0h1m-216.5 1h1m98 0h1m144 1.5h1m-420 0.5h1m383 0h1m-195 0.5h1m-3.5 1.5h1m-7.5 1h1m68.5 1h1m-119 0.5h1m47.5 0h1m-188.5 0.5h1m190 0h1m119 1h1m131 0h1m-432 0.5h1m168 0h1m7 0h1m1 0h1m11.5 0.5h1m53 0h1m43 0.5h1m-115 0.5h1m66.5 0h1m-71.5 0.5h1m250.5 0h1m-381.5 0.5h1m137.5 0h1m49 0h1m-191.5 0.5h1m108 0h1m36.5 0h1m91 0h1m16 0h1m-35.5 0.5h1m20 0h1m9 0h1m-115 0.5h1m6 0h1m77 0h1m-12 0.5h1m3.5 0h1m0 0h1m-98.5 0.5h1m23.5 0h1m107.5 0h1m-177 0.5h1m45 0h1m16 0h1m9.5 0h1m-24 0.5h1m70.5 0h1m16.5 0h1m105 0h1m0.5 0h1m-378.5 0.5h1m121 0h1m3.5 0h1m57 0h1m78 0h1m-0.5 0h1m18 0h1m8.5 0h1m11 0h1m-167.5 0.5h1m12.5 0h1m12.5 0h1m21 0h1m1.5 0h1m52 0h1m12.5 0h1m27 0h1m137.5 0h1m-410 0.5h1m188 0h1m0 0h1m50 0h1m12.5 0h1m0.5 0h1m1.5 0h1m-146 0.5h1m49.5 0h1m1.5 0h1m22 0h1m52.5 0h1m2.5 0h1m4 0h1m13 0h1m5 0h1m96.5 0h1m0 0h1m-339.5 0.5h1m155 0h1m52 0h1m-0.5 0h1m-0.5 0h1m14.5 0h1m13 0h1m3 0h1m0.5 0h1m8 0h1m75 0h1m1 0h1m-0.5 0h1m-382.5 0.5h1m49.5 0h1m3 0h1m85.5 0h1m19.5 0h1m28 0h1m66 0h1m6 0h1m1 0h1m3.5 0h1m1.5 0h1m-0.5 0h1m12.5 0h1m88 0h1m6.5 0h1m41.5 0h1m-360.5 0.5h1m1.5 0h1m70 0h1m117 0h1m0.5 0h1m3.5 0h1m0.5 0h1m4.5 0h1m0.5 0h1m-0.5 0h1m2 0h1m3 0h1m2.5 0h1m0 0h1m8.5 0h1m84.5 0h1m3.5 0h1m-379.5 0.5h1m2.5 0h1m122.5 0h1m45.5 0h1m80 0h1m1.5 0h1m8 0h1m2 0h1m7.5 0h1m88.5 0h1m12 0h1m0 0h1m6 0h1m26 0h1m-376 0.5h1m17 0h1m187 0h1m6 0h1m0 0h1m0.5 0h1m1 0h1m0 0h1m1.5 0h1m0 0h1m0.5 0h1m0.5 0h1m4.5 0h1m3 0h1m5 0h1m17 0h1m75.5 0h1m5.5 0h1m1.5 0h1m-377.5 0.5h1m48.5 0h1m189.5 0h1m3 0h1m4.5 0h1m2.5 0h1m0.5 0h1m2.5 0h1m-0.5 0h1m2.5 0h1m0.5 0h1m-0.5 0h1m0.5 0h1m1.5 0h1m-0.5 0h1m19.5 0h1m17.5 0h1m51.5 0h1m4.5 0h1m4 0h1m9 0h1m-398 0.5h1m14.5 0h1m1.5 0h1m132 0h1m9 0h1m4.5 0h1m19.5 0h1m13 0h1m47 0h1m7.5 0h1m8.5 0h1m9 0h1m0 0h1m-0.5 0h1m-0.5 0h1m5.5 0h1m1 0h1m92.5 0h1m3.5 0h1m4 0h1m-383 0.5h1m44 0h1m86 0h1m52.5 0h1m0.5 0h1m15 0h1m48 0h1m-0.5 0h1m0 0h1m4.5 0h1m0.5 0h1m3 0h1m1.5 0h1m3.5 0h1m5.5 0h1m0 0h1m1 0h1m13 0h1m74.5 0h1m0 0h1m-0.5 0h1m8 0h1m0.5 0h1m-387.5 0.5h1m9 0h1m119.5 0h1m4.5 0h1m40.5 0h1m66.5 0h1m6 0h1m0.5 0h1m13 0h1m0.5 0h1m0 0h1m0 0h1m2 0h1m-0.5 0h1m1 0h1m0.5 0h1m0.5 0h1m3 0h1m96 0h1m2.5 0h1m1 0h1m9.5 0h1m20.5 0h1m-411 0.5h1m2.5 0h1m2.5 0h1m101.5 0h1m15 0h1m18.5 0h1m18.5 0h1m14.5 0h1m19 0h1m35.5 0h1m7 0h1m6.5 0h1m-0.5 0h1m1.5 0h1m1 0h1m0.5 0h1m-0.5 0h1m0.5 0h1m3.5 0h1m3.5 0h1m0.5 0h1m2 0h1m2 0h1m0 0h1m1.5 0h1m9.5 0h1m75.5 0h1m52 0h1m-421.5 0.5h1m124.5 0h1m15 0h1m22.5 0h1m5 0h1m12.5 0h1m5.5 0h1m53.5 0h1m5 0h1m0 0h1m6.5 0h1m3 0h1m-0.5 0h1m1.5 0h1m3 0h1m1 0h1m1.5 0h1m3 0h1m119.5 0h1m18 0h1m5 0h1m-424.5 0.5h1m111 0h1m8 0h1m5.5 0h1m0 0h1m8 0h1m1.5 0h1m1.5 0h1m12 0h1m12.5 0h1m8 0h1m66.5 0h1m0 0h1m-0.5 0h1m2 0h1m0.5 0h1m6 0h1m-0.5 0h1m3 0h1m2 0h1m-0.5 0h1m1.5 0h1m1.5 0h1m-0.5 0h1m2.5 0h1m0 0h1m6.5 0h1m82.5 0h1m2 0h1m-0.5 0h1m6.5 0h1m26.5 0h1m-413 0.5h1m0 0h1m0.5 0h1m135 0h1m0 0h1m13 0h1m34 0h1m52.5 0h1m-0.5 0h1m4.5 0h1m2 0h1m0 0h1m0 0h1m-0.5 0h1m-0.5 0h1m1 0h1m1 0h1m0 0h1m-0.5 0h1m9 0h1m1 0h1m1 0h1m0.5 0h1m-0.5 0h1m1 0h1m0.5 0h1m-0.5 0h1m-0.5 0h1m-0.5 0h1m3.5 0h1m1 0h1m5 0h1m74 0h1m4 0h1m0.5 0h1m0.5 0h1m2.5 0h1m4 0h1m6.5 0h1m-393.5 0.5h1m2 0h1m-0.5 0h1m11 0h1m23 0h1m24 0h1m53.5 0h1m3.5 0h1m35.5 0h1m2 0h1m18.5 0h1m60 0h1m12 0h1m0 0h1m-0.5 0h1m-0.5 0h1m1 0h1m0.5 0h1m0 0h1m4 0h1m0.5 0h1m0.5 0h1m4 0h1m1 0h1m5 0h1m1 0h1m1 0h1m84.5 0h1m0.5 0h1m3.5 0h1m-0.5 0h1m5 0h1m-388.5 0.5h1m2 0h1m5 0h1m2.5 0h1m0.5 0h1m104.5 0h1m4.5 0h1m15.5 0h1m12.5 0h1m16 0h1m15 0h1m7 0h1m57.5 0h1m0 0h1m-0.5 0h1m0.5 0h1m1 0h1m-0.5 0h1m-0.5 0h1m4 0h1m-0.5 0h1m1 0h1m-0.5 0h1m1.5 0h1m0 0h1m0 0h1m0 0h1m0.5 0h1m-0.5 0h1m0.5 0h1m-0.5 0h1m2 0h1m-0.5 0h1m0 0h1m-0.5 0h1m2 0h1m18 0h1m61 0h1m-0.5 0h1m3.5 0h1m7 0h1m-0.5 0h1m1.5 0h1m2 0h1m19.5 0h1m-399 0.5h1m65 0h1m0 0h1m43 0h1m7.5 0h1m1.5 0h1m1.5 0h1m1 0h1m1 0h1m1.5 0h1m1 0h1m12 0h1m11.5 0h1m4 0h1m11.5 0h1m2 0h1m66 0h1m0.5 0h1m-0.5 0h1m1 0h1m0 0h1m0 0h1m-0.5 0h1m-0.5 0h1m1 0h1m-0.5 0h1m0 0h1m1 0h1m0.5 0h1m1.5 0h1m1 0h1m-0.5 0h1m0 0h1m-0.5 0h1m1 0h1m0.5 0h1m0.5 0h1m0 0h1m2 0h1m-0.5 0h1m15.5 0h1m68 0h1m1.5 0h1m-0.5 0h1m0.5 0h1m0 0h1m-0.5 0h1m-0.5 0h1m0 0h1m0 0h1m9.5 0h1m1.5 0h1m2.5 0h1m-395 0.5h1m2.5 0h1m0 0h1m2.5 0h1m4.5 0h1m0 0h1m0.5 0h1m1.5 0h1m103.5 0h1m4.5 0h1m2.5 0h1m6.5 0h1m15 0h1m5 0h1m22.5 0h1m2 0h1m67 0h1m-0.5 0h1m2 0h1m1 0h1m4 0h1m1.5 0h1m-0.5 0h1m-0.5 0h1m2 0h1m3.5 0h1m-0.5 0h1m7 0h1m9 0h1m2.5 0h1m0.5 0h1m-0.5 0h1m2.5 0h1m67.5 0h1m1 0h1m0 0h1m2.5 0h1m1.5 0h1m-0.5 0h1m1.5 0h1m2 0h1m-394.5 0.5h1m3.5 0h1m2 0h1m2 0h1m-0.5 0h1m9.5 0h1m14 0h1m15.5 0h1m3.5 0h1m63.5 0h1m7 0h1m-0.5 0h1m2 0h1m0 0h1m4.5 0h1m15 0h1m2.5 0h1m5 0h1m11.5 0h1m0.5 0h1m10 0h1m0 0h1m62 0h1m0.5 0h1m0.5 0h1m-0.5 0h1m-0.5 0h1m6 0h1m0 0h1m6 0h1m1 0h1m1 0h1m2 0h1m1 0h1m0 0h1m86.5 0h1m1.5 0h1m0 0h1m0.5 0h1m1.5 0h1m7 0h1m1 0h1m1 0h1m4.5 0h1m0 0h1m-396.5 0.5h1m5.5 0h1m0 0h1m-0.5 0h1m1 0h1m1.5 0h1m0 0h1m-0.5 0h1m0.5 0h1m14 0h1m87 0h1m4 0h1m0.5 0h1m10.5 0h1m24 0h1m41.5 0h1m46 0h1m2 0h1m0.5 0h1m0.5 0h1m1 0h1m0.5 0h1m0 0h1m4.5 0h1m0 0h1m1 0h1m0 0h1m-0.5 0h1m-0.5 0h1m0 0h1m1 0h1m-0.5 0h1m2 0h1m1.5 0h1m-0.5 0h1m0.5 0h1m-0.5 0h1m0 0h1m-0.5 0h1m-0.5 0h1m-0.5 0h1m-0.5 0h1m0 0h1m0 0h1m2.5 0h1m4.5 0h1m7.5 0h1m67.5 0h1m1 0h1m-0.5 0h1m1 0h1m-0.5 0h1m3 0h1m0 0h1m1 0h1m-0.5 0h1m0 0h1m9.5 0h1m0 0h1m5 0h1m-413 0.5h1m19.5 0h1m4 0h1m1.5 0h1m2 0h1m28.5 0h1m76.5 0h1m1.5 0h1m0 0h1m2.5 0h1m0 0h1m0 0h1m-0.5 0h1m1.5 0h1m1 0h1m4.5 0h1m16.5 0h1m87 0h1m0 0h1m1.5 0h1m2.5 0h1m-0.5 0h1m1 0h1m0 0h1m-0.5 0h1m1.5 0h1m-0.5 0h1m3 0h1m-0.5 0h1m0.5 0h1m0.5 0h1m0 0h1m1 0h1m0 0h1m1 0h1m0 0h1m0 0h1m-0.5 0h1m87.5 0h1m-0.5 0h1m4 0h1m0 0h1m-0.5 0h1m-0.5 0h1m3.5 0h1m0 0h1m2.5 0h1m3.5 0h1m1 0h1m4.5 0h1m-396 0.5h1m0 0h1m5 0h1m1 0h1m4.5 0h1m0.5 0h1m8.5 0h1m83.5 0h1m11.5 0h1m13 0h1m6.5 0h1m28.5 0h1m70.5 0h1m8 0h1m3.5 0h1m0 0h1m1 0h1m0 0h1m-0.5 0h1m-0.5 0h1m0 0h1m0.5 0h1m1 0h1m4 0h1m0.5 0h1m-0.5 0h1m4.5 0h1m5 0h1m74 0h1m2.5 0h1m3 0h1m-0.5 0h1m4 0h1m2 0h1m0.5 0h1m-0.5 0h1m-0.5 0h1m-0.5 0h1m3 0h1m30.5 0h1m-430 0.5h1m7.5 0h1m-0.5 0h1m4.5 0h1m0.5 0h1m-0.5 0h1m2 0h1m2.5 0h1m4 0h1m105 0h1m2.5 0h1m5 0h1m8.5 0h1m6 0h1m2 0h1m4 0h1m1 0h1m4 0h1m78.5 0h1m6.5 0h1m1.5 0h1m-0.5 0h1m3 0h1m-0.5 0h1m-0.5 0h1m-0.5 0h1m-0.5 0h1m1 0h1m0 0h1m3 0h1m0.5 0h1m0 0h1m0 0h1m1 0h1m1.5 0h1m-0.5 0h1m2.5 0h1m6 0h1m0.5 0h1m77 0h1m0.5 0h1m1 0h1m2 0h1m-0.5 0h1m1 0h1m-0.5 0h1m0 0h1m2 0h1m3.5 0h1m10 0h1m10 0h1m6.5 0h1m-426 0.5h1m10 0h1m-0.5 0h1m5 0h1m0 0h1m2 0h1m108 0h1m4.5 0h1m0 0h1m0.5 0h1m0 0h1m0 0h1m1 0h1m0.5 0h1m2.5 0h1m-0.5 0h1m0.5 0h1m-0.5 0h1m1 0h1m1.5 0h1m1.5 0h1m2.5 0h1m10.5 0h1m2.5 0h1m1.5 0h1m-0.5 0h1m7.5 0h1m64 0h1m5 0h1m6 0h1m-0.5 0h1m2.5 0h1m5 0h1m0 0h1m-0.5 0h1m-0.5 0h1m1.5 0h1m1.5 0h1m1.5 0h1m-0.5 0h1m1.5 0h1m-0.5 0h1m2 0h1m0 0h1m0 0h1m5.5 0h1m4.5 0h1m76 0h1m0 0h1m3 0h1m0 0h1m3 0h1m0 0h1m-0.5 0h1m0 0h1m0 0h1m0.5 0h1m2 0h1m6 0h1m0.5 0h1m-409.5 0.5h1m4 0h1m7 0h1m0 0h1m1 0h1m0.5 0h1m-0.5 0h1m-0.5 0h1m0 0h1m0 0h1m4 0h1m1 0h1m-0.5 0h1m22 0h1m12 0h1m65.5 0h1m3 0h1m2.5 0h1m0 0h1m-0.5 0h1m3.5 0h1m1.5 0h1m2.5 0h1m10 0h1m8.5 0h1m91.5 0h1m3.5 0h1m2.5 0h1m1 0h1m-0.5 0h1m-0.5 0h1m1 0h1m-0.5 0h1m-0.5 0h1m1 0h1m2 0h1m1.5 0h1m4.5 0h1m0 0h1m-0.5 0h1m0.5 0h1m7.5 0h1m76.5 0h1m0.5 0h1m3.5 0h1m-0.5 0h1m1 0h1m-0.5 0h1m0 0h1m0.5 0h1m-0.5 0h1m0 0h1m-0.5 0h1m15 0h1m8.5 0h1m-412.5 0.5h1m0 0h1m6.5 0h1m0.5 0h1m0 0h1m1 0h1m1.5 0h1m0 0h1m21.5 0h1m77.5 0h1m9 0h1m2.5 0h1m1.5 0h1m0 0h1m0 0h1m9 0h1m9.5 0h1m14.5 0h1m0.5 0h1m5 0h1m71 0h1m4.5 0h1m2 0h1m0.5 0h1m2 0h1m-0.5 0h1m6.5 0h1m0.5 0h1m-0.5 0h1m0 0h1m0.5 0h1m1.5 0h1m0.5 0h1m0 0h1m0 0h1m3.5 0h1m13.5 0h1m2 0h1m9.5 0h1m57.5 0h1m2.5 0h1m-0.5 0h1m0.5 0h1m2 0h1m1.5 0h1m0.5 0h1m5 0h1m9.5 0h1m12.5 0h1m-419 0.5h1m1 0h1m3.5 0h1m-0.5 0h1m1.5 0h1m-0.5 0h1m0 0h1m1 0h1m1 0h1m3.5 0h1m34 0h1m68.5 0h1m3.5 0h1m2.5 0h1m1.5 0h1m2 0h1m0 0h1m3.5 0h1m0 0h1m3 0h1m0 0h1m6 0h1m6.5 0h1m0 0h1m17.5 0h1m6 0h1m67 0h1m-0.5 0h1m1 0h1m1.5 0h1m0 0h1m0 0h1m0.5 0h1m-0.5 0h1m0 0h1m1.5 0h1m0.5 0h1m0 0h1m5 0h1m0.5 0h1m0 0h1m0 0h1m0.5 0h1m0 0h1m0.5 0h1m0 0h1m1 0h1m0 0h1m80.5 0h1m0.5 0h1m3 0h1m-0.5 0h1m-0.5 0h1m0 0h1m3.5 0h1m-0.5 0h1m-0.5 0h1m0 0h1m2 0h1m0.5 0h1m3 0h1m-0.5 0h1m4 0h1m32.5 0h1m-436.5 0.5h1m6.5 0h1m1 0h1m0 0h1m-0.5 0h1m-0.5 0h1m1.5 0h1m0 0h1m-0.5 0h1m1.5 0h1m-0.5 0h1m0 0h1m0.5 0h1m5.5 0h1m6 0h1m7 0h1m83.5 0h1m-0.5 0h1m6 0h1m-0.5 0h1m-0.5 0h1m-0.5 0h1m6 0h1m1.5 0h1m0 0h1m1 0h1m0 0h1m11 0h1m0 0h1m20.5 0h1m0.5 0h1m12.5 0h1m2.5 0h1m1.5 0h1m48 0h1m-0.5 0h1m0 0h1m0 0h1m0 0h1m0.5 0h1m2.5 0h1m-0.5 0h1m0.5 0h1m0 0h1m-0.5 0h1m-0.5 0h1m-0.5 0h1m1 0h1m-0.5 0h1m1.5 0h1m0.5 0h1m-0.5 0h1m-0.5 0h1m-0.5 0h1m0.5 0h1m1.5 0h1m0 0h1m1.5 0h1m3.5 0h1m1.5 0h1m-0.5 0h1m85 0h1m-0.5 0h1m-0.5 0h1m0 0h1m0 0h1m0.5 0h1m2 0h1m-0.5 0h1m1 0h1m-0.5 0h1m0.5 0h1m1 0h1m-0.5 0h1m-0.5 0h1m-0.5 0h1m-0.5 0h1m-0.5 0h1m1 0h1m-0.5 0h1m0.5 0h1m2.5 0h1m19.5 0h1m-414 0.5h1m0.5 0h1m0.5 0h1m-0.5 0h1m0 0h1m0 0h1m0 0h1m-0.5 0h1m0 0h1m-0.5 0h1m-0.5 0h1m1 0h1m-0.5 0h1m-0.5 0h1m-0.5 0h1m0.5 0h1m105.5 0h1m0 0h1m3 0h1m2 0h1m0 0h1m-0.5 0h1m-0.5 0h1m3 0h1m3 0h1m4 0h1m0.5 0h1m7.5 0h1m12.5 0h1m8.5 0h1m5.5 0h1m65.5 0h1m0 0h1m1.5 0h1m0.5 0h1m3.5 0h1m0 0h1m-0.5 0h1m0.5 0h1m0.5 0h1m0.5 0h1m5 0h1m0 0h1m0 0h1m1.5 0h1m-0.5 0h1m-0.5 0h1m0.5 0h1m1 0h1m5 0h1m10.5 0h1m6 0h1m64 0h1m5.5 0h1m1.5 0h1m1 0h1m-0.5 0h1m1 0h1m0 0h1m-0.5 0h1m-0.5 0h1m1.5 0h1m0 0h1m7 0h1m-397.5 0.5h1m1 0h1m2 0h1m0.5 0h1m-0.5 0h1m0 0h1m0 0h1m0 0h1m-0.5 0h1m-0.5 0h1m-0.5 0h1m7 0h1m6.5 0h1m7.5 0h1m78 0h1m0.5 0h1m1.5 0h1m3.5 0h1m1.5 0h1m-0.5 0h1m-0.5 0h1m1.5 0h1m3 0h1m1 0h1m0 0h1m-0.5 0h1m3 0h1m6 0h1m7.5 0h1m3 0h1m6 0h1m84.5 0h1m3 0h1m1.5 0h1m-0.5 0h1m1 0h1m0 0h1m-0.5 0h1m-0.5 0h1m-0.5 0h1m-0.5 0h1m0 0h1m2 0h1m0.5 0h1m0.5 0h1m-0.5 0h1m-0.5 0h1m5 0h1m-0.5 0h1m2 0h1m13.5 0h1m4.5 0h1m62 0h1m7.5 0h1m3 0h1m-0.5 0h1m-0.5 0h1m-0.5 0h1m2.5 0h1m0 0h1m1 0h1m1 0h1m-0.5 0h1m-392 0.5h1m0 0h1m-0.5 0h1m0.5 0h1m0.5 0h1m0 0h1m0.5 0h1m-0.5 0h1m0 0h1m-0.5 0h1m-0.5 0h1m1 0h1m-0.5 0h1m1 0h1m0.5 0h1m7 0h1m23.5 0h1m10 0h1m58 0h1m0.5 0h1m0.5 0h1m0.5 0h1m6 0h1m-0.5 0h1m-0.5 0h1m0 0h1m0 0h1m0.5 0h1m-0.5 0h1m0.5 0h1m2 0h1m-0.5 0h1m-0.5 0h1m0 0h1m3.5 0h1m-0.5 0h1m0 0h1m5.5 0h1m0 0h1m2.5 0h1m1 0h1m14.5 0h1m6.5 0h1m1.5 0h1m0.5 0h1m0 0h1m66.5 0h1m0 0h1m2 0h1m-0.5 0h1m-0.5 0h1m1 0h1m-0.5 0h1m1 0h1m5 0h1m0 0h1m-0.5 0h1m-0.5 0h1m0 0h1m0.5 0h1m0.5 0h1m-0.5 0h1m-0.5 0h1m0.5 0h1m0 0h1m-0.5 0h1m2 0h1m0 0h1m16.5 0h1m4 0h1m12.5 0h1m47 0h1m0.5 0h1m6.5 0h1m-0.5 0h1m0.5 0h1m3 0h1m0.5 0h1m-0.5 0h1m3.5 0h1m44 0h1m-439 0.5h1m0.5 0h1m-0.5 0h1m1.5 0h1m2 0h1m0.5 0h1m-0.5 0h1m0.5 0h1m2 0h1m-0.5 0h1m-0.5 0h1m0 0h1m0 0h1m2 0h1m-0.5 0h1m3 0h1m0 0h1m0 0h1m26.5 0h1m1 0h1m67 0h1m4 0h1m0 0h1m2.5 0h1m0 0h1m-0.5 0h1m0.5 0h1m0 0h1m-0.5 0h1m0 0h1m5 0h1m0.5 0h1m3.5 0h1m10 0h1m1 0h1m13.5 0h1m67.5 0h1m14 0h1m0 0h1m1.5 0h1m3.5 0h1m-0.5 0h1m-0.5 0h1m0.5 0h1m3 0h1m1 0h1m-0.5 0h1m-0.5 0h1m1 0h1m0 0h1m14.5 0h1m-0.5 0h1m16.5 0h1m2 0h1m53 0h1m0 0h1m0 0h1m1 0h1m-0.5 0h1m0 0h1m0 0h1m0 0h1m0.5 0h1m-0.5 0h1m-0.5 0h1m-0.5 0h1m-0.5 0h1m1 0h1m-0.5 0h1m-0.5 0h1m-0.5 0h1m1 0h1m0 0h1m0 0h1m5 0h1m16 0h1m3 0h1m-420.5 0.5h1m2.5 0h1m2.5 0h1m-0.5 0h1m0 0h1m0 0h1m1 0h1m-0.5 0h1m0 0h1m-0.5 0h1m0.5 0h1m2.5 0h1m2 0h1m20 0h1m31 0h1m6.5 0h1m44 0h1m0 0h1m1 0h1m-0.5 0h1m0.5 0h1m2 0h1m2 0h1m2 0h1m-0.5 0h1m-0.5 0h1m0.5 0h1m3.5 0h1m3.5 0h1m0.5 0h1m10 0h1m0 0h1m0 0h1m2 0h1m9.5 0h1m6.5 0h1m-0.5 0h1m59 0h1m0.5 0h1m7 0h1m1 0h1m0 0h1m-0.5 0h1m-0.5 0h1m0.5 0h1m0.5 0h1m-0.5 0h1m0 0h1m-0.5 0h1m1 0h1m0 0h1m-0.5 0h1m1 0h1m0.5 0h1m-0.5 0h1m-0.5 0h1m0 0h1m-0.5 0h1m-0.5 0h1m0.5 0h1m3 0h1m1.5 0h1m0 0h1m6 0h1m-0.5 0h1m8.5 0h1m69.5 0h1m5 0h1m0 0h1m-0.5 0h1m0 0h1m0 0h1m-0.5 0h1m-0.5 0h1m0 0h1m-0.5 0h1m0 0h1m-0.5 0h1m0 0h1m0 0h1m0.5 0h1m0 0h1m6.5 0h1m-401.5 0.5h1m2.5 0h1m-0.5 0h1m2 0h1m0 0h1m2 0h1m2.5 0h1m-0.5 0h1m-0.5 0h1m1 0h1m0.5 0h1m0 0h1m-0.5 0h1m-0.5 0h1m-0.5 0h1m-0.5 0h1m3.5 0h1m33.5 0h1m60.5 0h1m8.5 0h1m2 0h1m2.5 0h1m-0.5 0h1m-0.5 0h1m0 0h1m0 0h1m-0.5 0h1m-0.5 0h1m-0.5 0h1m2.5 0h1m3 0h1m4 0h1m19.5 0h1m15.5 0h1m60.5 0h1m7 0h1m1.5 0h1m1.5 0h1m0 0h1m1 0h1m0 0h1m2 0h1m0 0h1m0.5 0h1m-0.5 0h1m-0.5 0h1m-0.5 0h1m0 0h1m1 0h1m1 0h1m-0.5 0h1m2 0h1m5.5 0h1m11.5 0h1m3.5 0h1m6.5 0h1m1 0h1m57 0h1m0.5 0h1m0 0h1m3.5 0h1m-0.5 0h1m3.5 0h1m2.5 0h1m2 0h1m0 0h1m3.5 0h1m28 0h1m-428.5 0.5h1m0 0h1m2.5 0h1m-0.5 0h1m-0.5 0h1m0.5 0h1m0.5 0h1m0.5 0h1m0 0h1m-0.5 0h1m1 0h1m1.5 0h1m-0.5 0h1m1.5 0h1m0 0h1m6.5 0h1m23 0h1m74 0h1m5 0h1m2 0h1m5.5 0h1m2 0h1m-0.5 0h1m1.5 0h1m1 0h1m3.5 0h1m-0.5 0h1m0.5 0h1m34 0h1m64 0h1m3.5 0h1m2 0h1m2.5 0h1m0 0h1m-0.5 0h1m10.5 0h1m0.5 0h1m1.5 0h1m-0.5 0h1m0 0h1m2 0h1m6 0h1m-0.5 0h1m75 0h1m0 0h1m2.5 0h1m0 0h1m0 0h1m-0.5 0h1m-0.5 0h1m0.5 0h1m-0.5 0h1m-0.5 0h1m0.5 0h1m1 0h1m0.5 0h1m1.5 0h1m1 0h1m0.5 0h1m18 0h1m-415.5 0.5h1m3 0h1m0.5 0h1m-0.5 0h1m-0.5 0h1m0.5 0h1m-0.5 0h1m0.5 0h1m-0.5 0h1m-0.5 0h1m-0.5 0h1m0 0h1m0 0h1m0 0h1m2.5 0h1m2 0h1m0.5 0h1m4.5 0h1m26.5 0h1m12.5 0h1m61.5 0h1m-0.5 0h1m3 0h1m-0.5 0h1m0 0h1m2 0h1m-0.5 0h1m-0.5 0h1m-0.5 0h1m0 0h1m6 0h1m6.5 0h1m10 0h1m3 0h1m27 0h1m52 0h1m2 0h1m1 0h1m1 0h1m1 0h1m6.5 0h1m1 0h1m1.5 0h1m2 0h1m2 0h1m1.5 0h1m1.5 0h1m-0.5 0h1m2 0h1m3 0h1m1 0h1m3 0h1m12 0h1m60.5 0h1m1.5 0h1m-0.5 0h1m-0.5 0h1m0 0h1m0.5 0h1m0 0h1m1 0h1m-0.5 0h1m-0.5 0h1m0 0h1m0 0h1m0.5 0h1m1.5 0h1m0 0h1m0 0h1m1 0h1m2.5 0h1m8 0h1m-405.5 0.5h1m3 0h1m0.5 0h1m0.5 0h1m0 0h1m0.5 0h1m0.5 0h1m-0.5 0h1m-0.5 0h1m-0.5 0h1m-0.5 0h1m1.5 0h1m-0.5 0h1m1.5 0h1m11.5 0h1m5.5 0h1m88.5 0h1m2 0h1m1 0h1m2.5 0h1m1 0h1m0 0h1m0 0h1m0 0h1m0 0h1m-0.5 0h1m0 0h1m0 0h1m1 0h1m0 0h1m2 0h1m-0.5 0h1m0.5 0h1m13.5 0h1m7 0h1m2.5 0h1m2.5 0h1m0 0h1m4 0h1m59 0h1m9.5 0h1m5 0h1m4 0h1m0 0h1m2 0h1m0 0h1m0 0h1m1 0h1m0.5 0h1m-0.5 0h1m0.5 0h1m-0.5 0h1m2.5 0h1m1 0h1m-0.5 0h1m1.5 0h1m-0.5 0h1m2.5 0h1m-0.5 0h1m11.5 0h1m2 0h1m63 0h1m2 0h1m1 0h1m-0.5 0h1m-0.5 0h1m1 0h1m1.5 0h1m0 0h1m-0.5 0h1m-0.5 0h1m-0.5 0h1m0.5 0h1m0 0h1m0.5 0h1m2.5 0h1m-396 0.5h1m0.5 0h1m2.5 0h1m-0.5 0h1m1.5 0h1m0 0h1m-0.5 0h1m-0.5 0h1m0 0h1m0 0h1m-0.5 0h1m0.5 0h1m0.5 0h1m-0.5 0h1m-0.5 0h1m-0.5 0h1m1.5 0h1m-0.5 0h1m39.5 0h1m72 0h1m-0.5 0h1m4.5 0h1m0 0h1m-0.5 0h1m0 0h1m2.5 0h1m8 0h1m2.5 0h1m3 0h1m6 0h1m24 0h1m59.5 0h1m1.5 0h1m0 0h1m0.5 0h1m3.5 0h1m0.5 0h1m1 0h1m0.5 0h1m3 0h1m-0.5 0h1m0 0h1m-0.5 0h1m0.5 0h1m2.5 0h1m-0.5 0h1m0 0h1m-0.5 0h1m3 0h1m0 0h1m-0.5 0h1m89.5 0h1m3.5 0h1m1 0h1m-0.5 0h1m5.5 0h1m-0.5 0h1m11.5 0h1m-407 0.5h1m5 0h1m-0.5 0h1m-0.5 0h1m0.5 0h1m1 0h1m0.5 0h1m3.5 0h1m-0.5 0h1m1 0h1m-0.5 0h1m-0.5 0h1m1.5 0h1m0.5 0h1m2.5 0h1m-0.5 0h1m10 0h1m17.5 0h1m63.5 0h1m0 0h1m2 0h1m0.5 0h1m0.5 0h1m4 0h1m0 0h1m2 0h1m0.5 0h1m-0.5 0h1m1 0h1m3.5 0h1m0.5 0h1m0.5 0h1m3.5 0h1m15.5 0h1m12 0h1m15 0h1m-0.5 0h1m48.5 0h1m3.5 0h1m6.5 0h1m0.5 0h1m-0.5 0h1m-0.5 0h1m2.5 0h1m-0.5 0h1m0 0h1m-0.5 0h1m0 0h1m-0.5 0h1m-0.5 0h1m0 0h1m0.5 0h1m-0.5 0h1m4.5 0h1m1.5 0h1m1.5 0h1m0.5 0h1m1.5 0h1m5 0h1m3.5 0h1m72.5 0h1m0.5 0h1m2 0h1m3 0h1m-0.5 0h1m0 0h1m0.5 0h1m0.5 0h1m0 0h1m0.5 0h1m1 0h1m-0.5 0h1m-0.5 0h1m-0.5 0h1m2.5 0h1m0 0h1m-0.5 0h1m-400 0.5h1m1 0h1m4 0h1m2.5 0h1m0 0h1m0 0h1m0.5 0h1m1 0h1m0 0h1m-0.5 0h1m0 0h1m-0.5 0h1m-0.5 0h1m0 0h1m0 0h1m0.5 0h1m1 0h1m-0.5 0h1m97.5 0h1m10.5 0h1m-0.5 0h1m1 0h1m0 0h1m1.5 0h1m-0.5 0h1m-0.5 0h1m-0.5 0h1m1 0h1m0.5 0h1m0.5 0h1m0 0h1m-0.5 0h1m-0.5 0h1m7.5 0h1m7 0h1m7 0h1m2.5 0h1m-0.5 0h1m19 0h1m56 0h1m13.5 0h1m1.5 0h1m4.5 0h1m1.5 0h1m-0.5 0h1m3.5 0h1m1 0h1m0 0h1m2 0h1m0 0h1m83.5 0h1m5 0h1m1 0h1m2 0h1m0.5 0h1m-0.5 0h1m2 0h1m0 0h1m1 0h1m1 0h1m27 0h1m-417.5 0.5h1m0.5 0h1m-0.5 0h1m0 0h1m-0.5 0h1m-0.5 0h1m1 0h1m0 0h1m0.5 0h1m3 0h1m0 0h1m0 0h1m-0.5 0h1m0 0h1m18.5 0h1m78.5 0h1m3.5 0h1m-0.5 0h1m1.5 0h1m3.5 0h1m2 0h1m0 0h1m2 0h1m0.5 0h1m0.5 0h1m0 0h1m0 0h1m2 0h1m0 0h1m9 0h1m1 0h1m1 0h1m26 0h1m0 0h1m64.5 0h1m1.5 0h1m0 0h1m5 0h1m4 0h1m0.5 0h1m-0.5 0h1m0 0h1m-0.5 0h1m4 0h1m-0.5 0h1m1.5 0h1m-0.5 0h1m0 0h1m5.5 0h1m87 0h1m0 0h1m-0.5 0h1m6.5 0h1m0 0h1m2 0h1m25 0h1m19 0h1m-438.5 0.5h1m4.5 0h1m-0.5 0h1m-0.5 0h1m1.5 0h1m-0.5 0h1m-0.5 0h1m0 0h1m0.5 0h1m0.5 0h1m-0.5 0h1m2 0h1m0 0h1m33 0h1m2.5 0h1m2.5 0h1m71.5 0h1m1 0h1m0.5 0h1m-0.5 0h1m1 0h1m1 0h1m3.5 0h1m0 0h1m-0.5 0h1m0 0h1m2.5 0h1m10.5 0h1m4 0h1m8.5 0h1m5 0h1m0.5 0h1m74 0h1m2.5 0h1m6 0h1m10 0h1m2.5 0h1m3.5 0h1m85 0h1m1.5 0h1m2 0h1m2 0h1m0.5 0h1m-0.5 0h1m6.5 0h1m1 0h1m7.5 0h1m-402 0.5h1m1.5 0h1m1 0h1m1 0h1m-0.5 0h1m-0.5 0h1m0.5 0h1m0 0h1m-0.5 0h1m0.5 0h1m5 0h1m1.5 0h1m39 0h1m57.5 0h1m5 0h1m5.5 0h1m0 0h1m1 0h1m0 0h1m0 0h1m-0.5 0h1m1 0h1m-0.5 0h1m-0.5 0h1m0 0h1m4.5 0h1m-0.5 0h1m4 0h1m10 0h1m89.5 0h1m15.5 0h1m3 0h1m-0.5 0h1m2 0h1m0.5 0h1m8 0h1m3 0h1m5.5 0h1m80 0h1m2.5 0h1m1.5 0h1m-0.5 0h1m0 0h1m0 0h1m1.5 0h1m1.5 0h1m-0.5 0h1m-392 0.5h1m0 0h1m0 0h1m0.5 0h1m0.5 0h1m-0.5 0h1m1 0h1m-0.5 0h1m0.5 0h1m0.5 0h1m4.5 0h1m13 0h1m33 0h1m18 0h1m38 0h1m2 0h1m3 0h1m1 0h1m0 0h1m0 0h1m6 0h1m8.5 0h1m24.5 0h1m14.5 0h1m70 0h1m1 0h1m1.5 0h1m1.5 0h1m1.5 0h1m15 0h1m80 0h1m5 0h1m0.5 0h1m1.5 0h1m0 0h1m0 0h1m0 0h1m0.5 0h1m-0.5 0h1m-0.5 0h1m0 0h1m0.5 0h1m4.5 0h1m3.5 0h1m2 0h1m-403 0.5h1m0.5 0h1m0 0h1m0.5 0h1m0 0h1m0 0h1m0 0h1m-0.5 0h1m-0.5 0h1m-0.5 0h1m-0.5 0h1m0 0h1m1 0h1m1 0h1m1 0h1m-0.5 0h1m12 0h1m13 0h1m87.5 0h1m2 0h1m-0.5 0h1m1.5 0h1m0.5 0h1m1.5 0h1m1 0h1m8 0h1m1 0h1m0.5 0h1m8 0h1m89.5 0h1m2 0h1m3 0h1m1.5 0h1m3.5 0h1m1.5 0h1m1 0h1m1 0h1m-0.5 0h1m0 0h1m-0.5 0h1m-0.5 0h1m-0.5 0h1m4.5 0h1m3 0h1m20.5 0h1m58 0h1m2 0h1m6 0h1m0.5 0h1m3 0h1m0.5 0h1m5 0h1m4.5 0h1m-0.5 0h1m6.5 0h1m-413 0.5h1m3.5 0h1m4.5 0h1m0 0h1m0.5 0h1m1 0h1m0 0h1m-0.5 0h1m-0.5 0h1m0.5 0h1m0 0h1m-0.5 0h1m-0.5 0h1m-0.5 0h1m1 0h1m2 0h1m0 0h1m30.5 0h1m3 0h1m67 0h1m4 0h1m0 0h1m2 0h1m0.5 0h1m1.5 0h1m0 0h1m-0.5 0h1m22.5 0h1m19.5 0h1m72 0h1m-0.5 0h1m6.5 0h1m2.5 0h1m2 0h1m0 0h1m-0.5 0h1m0 0h1m7 0h1m3.5 0h1m1.5 0h1m2.5 0h1m6 0h1m78.5 0h1m-0.5 0h1m-0.5 0h1m6 0h1m-0.5 0h1m-0.5 0h1m-0.5 0h1m5.5 0h1m0 0h1m-399 0.5h1m0.5 0h1m3.5 0h1m-0.5 0h1m3 0h1m0.5 0h1m-0.5 0h1m0.5 0h1m3 0h1m0.5 0h1m0.5 0h1m2 0h1m3.5 0h1m35 0h1m57.5 0h1m2.5 0h1m5 0h1m1 0h1m1.5 0h1m1.5 0h1m1 0h1m-0.5 0h1m0 0h1m3 0h1m58 0h1m44 0h1m1 0h1m10.5 0h1m0.5 0h1m8.5 0h1m7 0h1m10 0h1m84.5 0h1m3.5 0h1m-0.5 0h1m3.5 0h1m0.5 0h1m1 0h1m26 0h1m12 0h1m-431 0.5h1m3.5 0h1m0.5 0h1m0 0h1m0 0h1m1 0h1m1 0h1m2.5 0h1m1 0h1m2.5 0h1m24 0h1m11 0h1m9.5 0h1m49.5 0h1m13.5 0h1m1 0h1m4 0h1m0 0h1m1.5 0h1m-0.5 0h1m-0.5 0h1m2.5 0h1m0 0h1m-0.5 0h1m1 0h1m5.5 0h1m1 0h1m3 0h1m2 0h1m3.5 0h1m18 0h1m62.5 0h1m14.5 0h1m3 0h1m0.5 0h1m2.5 0h1m9.5 0h1m80 0h1m10 0h1m0 0h1m2 0h1m1 0h1m2.5 0h1m44.5 0h1m-442.5 0.5h1m8 0h1m-0.5 0h1m-0.5 0h1m4 0h1m-0.5 0h1m0 0h1m1.5 0h1m0.5 0h1m0.5 0h1m0.5 0h1m105 0h1m7.5 0h1m5.5 0h1m1.5 0h1m1 0h1m1.5 0h1m12.5 0h1m0 0h1m1 0h1m0 0h1m12 0h1m3 0h1m78.5 0h1m10 0h1m0.5 0h1m5.5 0h1m1 0h1m0.5 0h1m6.5 0h1m83.5 0h1m4.5 0h1m2 0h1m-0.5 0h1m0.5 0h1m6.5 0h1m4 0h1m7 0h1m-399 0.5h1m-0.5 0h1m2 0h1m0.5 0h1m2 0h1m1 0h1m0.5 0h1m16.5 0h1m89.5 0h1m1.5 0h1m0 0h1m0 0h1m1 0h1m0 0h1m0 0h1m4 0h1m0.5 0h1m10 0h1m0.5 0h1m-0.5 0h1m0 0h1m1.5 0h1m3.5 0h1m8 0h1m87.5 0h1m6.5 0h1m0 0h1m1.5 0h1m0.5 0h1m1.5 0h1m0 0h1m-0.5 0h1m6.5 0h1m2 0h1m1.5 0h1m4 0h1m74 0h1m12 0h1m1 0h1m1 0h1m3.5 0h1m-0.5 0h1m25 0h1m-417 0.5h1m-0.5 0h1m-0.5 0h1m3 0h1m-0.5 0h1m0 0h1m0.5 0h1m0 0h1m0.5 0h1m-0.5 0h1m0 0h1m9.5 0h1m13 0h1m19.5 0h1m65 0h1m1 0h1m2 0h1m0 0h1m2 0h1m1.5 0h1m7.5 0h1m3 0h1m10.5 0h1m15.5 0h1m2 0h1m78 0h1m10.5 0h1m1 0h1m1.5 0h1m10.5 0h1m2 0h1m3.5 0h1m2 0h1m1 0h1m5.5 0h1m63.5 0h1m-0.5 0h1m9 0h1m0.5 0h1m2.5 0h1m1 0h1m0 0h1m-0.5 0h1m-388 0.5h1m1 0h1m2 0h1m-0.5 0h1m0.5 0h1m0.5 0h1m-0.5 0h1m0 0h1m4 0h1m0 0h1m1 0h1m0.5 0h1m10.5 0h1m11 0h1m3 0h1m83.5 0h1m4 0h1m-0.5 0h1m3.5 0h1m10 0h1m3 0h1m22 0h1m6 0h1m61.5 0h1m19 0h1m0 0h1m-0.5 0h1m0.5 0h1m4 0h1m16.5 0h1m81.5 0h1m4 0h1m0.5 0h1m0 0h1m4 0h1m3.5 0h1m-403 0.5h1m6.5 0h1m6 0h1m0.5 0h1m2 0h1m0 0h1m-0.5 0h1m23.5 0h1m6.5 0h1m6.5 0h1m2.5 0h1m5 0h1m54.5 0h1m4.5 0h1m4 0h1m4 0h1m4.5 0h1m4 0h1m0.5 0h1m5 0h1m23 0h1m76.5 0h1m2 0h1m-0.5 0h1m15.5 0h1m23.5 0h1m1.5 0h1m74 0h1m0.5 0h1m5.5 0h1m-378.5 0.5h1m-0.5 0h1m4 0h1m1.5 0h1m0 0h1m-0.5 0h1m9 0h1m9 0h1m93 0h1m0 0h1m1.5 0h1m0 0h1m4 0h1m3.5 0h1m1 0h1m4.5 0h1m10 0h1m34 0h1m59.5 0h1m10.5 0h1m6 0h1m1 0h1m1.5 0h1m1 0h1m1.5 0h1m1 0h1m6.5 0h1m80.5 0h1m3 0h1m-0.5 0h1m5 0h1m0.5 0h1m11 0h1m31.5 0h1m-433.5 0.5h1m1 0h1m1 0h1m2.5 0h1m1.5 0h1m0.5 0h1m0 0h1m2 0h1m34.5 0h1m5 0h1m8.5 0h1m50.5 0h1m13.5 0h1m1 0h1m2.5 0h1m22.5 0h1m87.5 0h1m11.5 0h1m8 0h1m14 0h1m4.5 0h1m82 0h1m55.5 0h1m-426 0.5h1m-0.5 0h1m0.5 0h1m-0.5 0h1m0 0h1m-0.5 0h1m0 0h1m6.5 0h1m-0.5 0h1m33 0h1m11.5 0h1m63.5 0h1m3 0h1m7 0h1m0 0h1m0 0h1m5.5 0h1m37.5 0h1m56.5 0h1m8.5 0h1m3.5 0h1m4 0h1m6 0h1m-0.5 0h1m7.5 0h1m23.5 0h1m-305.5 0.5h1m2.5 0h1m127 0h1m0.5 0h1m5.5 0h1m0.5 0h1m1 0h1m1 0h1m106 0h1m23.5 0h1m20.5 0h1m9 0h1m66 0h1m4.5 0h1m2 0h1m-0.5 0h1m-0.5 0h1m9.5 0h1m-393.5 0.5h1m1 0h1m3 0h1m1 0h1m0.5 0h1m5.5 0h1m7 0h1m97.5 0h1m1 0h1m2 0h1m-0.5 0h1m1 0h1m6.5 0h1m5 0h1m7 0h1m0.5 0h1m1 0h1m92.5 0h1m13 0h1m17 0h1m93 0h1m7.5 0h1m2.5 0h1m0 0h1m5 0h1m-405 0.5h1m5.5 0h1m2 0h1m0 0h1m5 0h1m0 0h1m-0.5 0h1m13 0h1m98.5 0h1m3.5 0h1m9 0h1m1.5 0h1m23 0h1m78 0h1m3.5 0h1m2.5 0h1m11 0h1m-267.5 0.5h1m3.5 0h1m0 0h1m3.5 0h1m0 0h1m0.5 0h1m1 0h1m9 0h1m8.5 0h1m2.5 0h1m-0.5 0h1m13 0h1m2.5 0h1m3 0h1m60.5 0h1m5 0h1m2.5 0h1m3.5 0h1m0.5 0h1m1 0h1m0.5 0h1m7 0h1m1 0h1m109 0h1m20.5 0h1m-0.5 0h1m118 0h1m-404.5 0.5h1m9.5 0h1m5.5 0h1m11.5 0h1m2.5 0h1m31.5 0h1m60.5 0h1m0.5 0h1m8 0h1m1.5 0h1m4.5 0h1m26 0h1m84.5 0h1m17 0h1m3.5 0h1m25 0h1m102.5 0h1m-403 0.5h1m8.5 0h1m4 0h1m20 0h1m88 0h1m125 0h1m13 0h1m2 0h1m19 0h1m92.5 0h1m-381 0.5h1m7 0h1m1 0h1m106.5 0h1m9 0h1m25.5 0h1" stroke="#000" stroke-width="1.2" stroke-opacity="0.7" fill="none"/>
<path d="M111 251.5h1m209 6.5h1m-197.5 0.5h1m-44.5 0.5h1m88.5 0h1m-115 1h1m194 0h1m-189.5 0.5h1m106 0.5h1m-114 0.5h1m58.5 0h1m338 0h1m-241 0.5h1m-109 0.5h1m80.5 0h1m15.5 0h1m-30.5 1h1m12.5 0h1m4.5 0h1m1.5 0h1m-148.5 0.5h1m4.5 0h1m369.5 0h1m-378.5 0.5h1m129.5 0h1m15.5 0h1m5 0h1m1 0h1m22.5 0h1m19.5 0h1m-197.5 0.5h1m8 0h1m0 0h1m75 0h1m32.5 0h1m12.5 0h1m3 0h1m185.5 0h1m72 0h1m-391.5 0.5h1m118 0h1m3 0h1m7.5 0h1m31 0h1m-171.5 0.5h1m-0.5 0h1m5 0h1m2 0h1m2 0h1m4 0h1m103 0h1m151.5 0h1m113.5 0h1m-385 0.5h1m1.5 0h1m-0.5 0h1m65 0h1m47.5 0h1m10 0h1m7 0h1m25 0h1m21 0h1m181 0h1m-369 0.5h1m4.5 0h1m6.5 0h1m1 0h1m11 0h1m115 0h1m134 0h1m13 0h1m-295 0.5h1m146 0h1m5 0h1m13 0h1m20 0h1m199.5 0h1m-395 0.5h1m6.5 0h1m3 0h1m14.5 0h1m97 0h1m3.5 0h1m16.5 0h1m8.5 0h1m1.5 0h1m121 0h1m94 0h1m12 0h1m-390 0.5h1m29.5 0h1m93.5 0h1m10.5 0h1m-0.5 0h1m10.5 0h1m50.5 0h1m74 0h1m48.5 0h1m56.5 0h1m-382 0.5h1m12 0h1m4.5 0h1m15.5 0h1m88 0h1m7 0h1m10.5 0h1m24.5 0h1m14 0h1m97.5 0h1m6 0h1m85 0h1m8.5 0h1m-0.5 0h1m11 0h1m0.5 0h1m-390 0.5h1m6.5 0h1m4 0h1m121 0h1m7 0h1m40.5 0h1m182 0h1m2.5 0h1m-375.5 0.5h1m8.5 0h1m1 0h1m117.5 0h1m4 0h1m3.5 0h1m6 0h1m7 0h1m2 0h1m1.5 0h1m3.5 0h1m17.5 0h1m5.5 0h1m2.5 0h1m78 0h1m7 0h1m1 0h1m86 0h1m6 0h1m2 0h1m-379.5 0.5h1m2.5 0h1m0 0h1m0.5 0h1m9.5 0h1m-0.5 0h1m108 0h1m6 0h1m10.5 0h1m32 0h1m8 0h1m4 0h1m-0.5 0h1m-0.5 0h1m120.5 0h1m58.5 0h1m6.5 0h1m-388 0.5h1m6 0h1m9.5 0h1m17 0h1m151.5 0h1m0 0h1m3 0h1m9.5 0h1m51.5 0h1m6.5 0h1m16 0h1m29 0h1m65 0h1m6 0h1m8.5 0h1m5 0h1m-401.5 0.5h1m8 0h1m119 0h1m6.5 0h1m14 0h1m-0.5 0h1m39 0h1m1.5 0h1m1 0h1m79 0h1m1.5 0h1m0 0h1m1.5 0h1m53.5 0h1m38 0h1m3.5 0h1m3.5 0h1m3.5 0h1m16 0h1m33.5 0h1m-435 0.5h1m9 0h1m118 0h1m41 0h1m20.5 0h1m2.5 0h1m71.5 0h1m1 0h1m0.5 0h1m13 0h1m87 0h1m2 0h1m-385.5 0.5h1m4 0h1m0.5 0h1m4 0h1m0 0h1m11 0h1m131 0h1m13.5 0h1m25.5 0h1m-0.5 0h1m-0.5 0h1m3 0h1m0 0h1m172 0h1m11 0h1m-379.5 0.5h1m131.5 0h1m1 0h1m34.5 0h1m16.5 0h1m3.5 0h1m53 0h1m8.5 0h1m0.5 0h1m56 0h1m51.5 0h1m7 0h1m17.5 0h1m-403 0.5h1m7.5 0h1m-0.5 0h1m0 0h1m3.5 0h1m0.5 0h1m4.5 0h1m174 0h1m0 0h1m0.5 0h1m0 0h1m4 0h1m81.5 0h1m0.5 0h1m3 0h1m81 0h1m0 0h1m3.5 0h1m6 0h1m-382 0.5h1m0.5 0h1m2.5 0h1m3.5 0h1m4 0h1m12 0h1m97.5 0h1m61 0h1m3.5 0h1m51.5 0h1m25.5 0h1m6.5 0h1m9 0h1m85 0h1m-383 0.5h1m0 0h1m9.5 0h1m0.5 0h1m8 0h1m169.5 0h1m73 0h1m18.5 0h1m30 0h1m77.5 0h1m10 0h1m-380 0.5h1m27 0h1m82.5 0h1m1.5 0h1m29.5 0h1m16.5 0h1m6.5 0h1m1.5 0h1m4 0h1m55.5 0h1m9 0h1m7 0h1m22.5 0h1m76 0h1m0 0h1m-348 0.5h1m167.5 0h1m0 0h1m47.5 0h1m12.5 0h1m5 0h1m0 0h1m102.5 0h1m-0.5 0h1m-196 0.5h1m18.5 0h1m1 0h1m64.5 0h1m20 0h1m4.5 0h1m7.5 0h1m74 0h1m0 0h1m1 0h1m2.5 0h1m1.5 0h1m0.5 0h1m0.5 0h1m5 0h1m-397 0.5h1m6 0h1m2 0h1m114 0h1m134.5 0h1m12.5 0h1m123.5 0h1m9.5 0h1m-222.5 0.5h1m9 0h1m1 0h1m52.5 0h1m30 0h1m6 0h1m34.5 0h1m60 0h1m12.5 0h1m-257.5 0.5h1m29 0h1m4 0h1m73 0h1m8.5 0h1m129 0h1m-394.5 0.5h1m200.5 0h1m50 0h1m19 0h1m13 0h1m0.5 0h1m87.5 0h1m1.5 0h1m15.5 0h1m0.5 0h1m56.5 0h1m-316 0.5h1m132.5 0h1m53.5 0h1m51.5 0h1m5.5 0h1m12 0h1m0 0h1m-251.5 0.5h1m23.5 0h1m90 0h1m14 0h1m7.5 0h1m35.5 0h1m2.5 0h1m0.5 0h1m7 0h1m37 0h1m7 0h1m-126 0.5h1m25.5 0h1m32 0h1m13 0h1m42 0h1m4 0h1m4 0h1m1 0h1m8 0h1m0.5 0h1m-374.5 0.5h1m124.5 0h1m185.5 0h1m82 0h1m-157.5 0.5h1m5 0h1m2.5 0h1m31.5 0h1m80.5 0h1m-196.5 0.5h1m69 0h1m2 0h1m6 0h1m103.5 0h1m2 0h1m-119 0.5h1m0 0h1m11 0h1m16 0h1m31.5 0h1m53 0h1m9 0h1m52.5 0h1m10.5 0h1m-401 0.5h1m200 0h1m22 0h1m52.5 0h1m47.5 0h1m19 0h1m64.5 0h1m-315.5 0.5h1m132 0h1m11.5 0h1m13 0h1m-43.5 0.5h1m52.5 0h1m-30 0.5h1m29 0h1m3 0h1m1 0h1m2 0h1m-53 0.5h1m43 0h1m-264.5 0.5h1m263.5 0.5h1m-1.5 0.5h1m5 0h1m-153.5 0.5h1m85.5 0h1m184.5 0h1m-143.5 0.5h1m12 0h1m10.5 0h1m59.5 0.5h1m-66.5 0.5h1m-263.5 0.5h1m101 0.5h1m152 0h1m9.5 0h1m4 0h1m-180.5 0.5h1m37.5 0h1m105 0h1m145 0h1m-244.5 0.5h1m104 0h1m25 0h1m-201 0.5h1m56 0.5h1m120.5 0h1m-163 0.5h1m11.5 0h1m177 0.5h1m-150.5 0.5h1m119.5 0h1m-112.5 0.5h1m128 0h1m4.5 0h1m-144 0.5h1m133 0h1m-170 0.5h1m34.5 0h1m5 0h1m120.5 0h1m9.5 0h1m88 0h1m-237 0.5h1m-40.5 0.5h1m123 0h1m-124 0.5h1m172 0h1m8 0h1m-178.5 0.5h1m40.5 0h1m84.5 0h1m24.5 0h1m-27.5 0.5h1m19 0h1m37.5 0h1m-318.5 0.5h1m134.5 0h1m3 0h1m7.5 0h1m118.5 0h1m36 0h1m-135.5 0.5h1m7 0h1m2.5 0h1m105 0h1m9.5 0h1m3 0h1m70 0h1m39.5 0h1m-415.5 0.5h1m32 0h1m231.5 0h1m40.5 0h1m-184 0.5h1m27 0h1m22.5 0h1m137.5 0h1m-290 0.5h1m254.5 0h1m25.5 0h1m111 0h1m-297.5 0.5h1m3 0h1m0 0h1m3 0h1m12 0h1m23 0h1m6 0h1m83 0h1m8.5 0h1m20.5 0h1m1 0h1m1.5 0h1m14.5 0h1m74.5 0h1m-266.5 0.5h1m9 0h1m32 0h1m97 0h1m2 0h1m10.5 0h1m9 0h1m15.5 0h1m23.5 0h1m56.5 0h1m1 0h1m-350.5 0.5h1m11 0h1m69.5 0h1m5.5 0h1m5.5 0h1m9.5 0h1m107.5 0h1m3.5 0h1m3.5 0h1m0.5 0h1m15.5 0h1m4 0h1m6.5 0h1m89.5 0h1m-0.5 0h1m-268 0.5h1m19.5 0h1m1 0h1m5 0h1m108 0h1m2.5 0h1m8.5 0h1m9 0h1m16 0h1m87.5 0h1m7.5 0h1m-273 0.5h1m9 0h1m4.5 0h1m4.5 0h1m21 0h1m20.5 0h1m81 0h1m-0.5 0h1m5 0h1m29.5 0h1m3 0h1m58 0h1m10.5 0h1m8 0h1m40.5 0h1m-370.5 0.5h1m64.5 0h1m-0.5 0h1m2 0h1m3 0h1m141 0h1m5.5 0h1m4 0h1m5 0h1m0.5 0h1m1 0h1m73.5 0h1m4 0h1m1.5 0h1m8.5 0h1m33 0h1m-296.5 0.5h1m9 0h1m3.5 0h1m1.5 0h1m7 0h1m21 0h1m85.5 0h1m1 0h1m0.5 0h1m7 0h1m5.5 0h1m3 0h1m0 0h1m1 0h1m5 0h1m77 0h1m3.5 0h1m4 0h1m4 0h1m10.5 0h1m-395.5 0.5h1m53 0h1m68.5 0h1m7.5 0h1m3 0h1m115 0h1m4.5 0h1m1.5 0h1m4 0h1m0.5 0h1m1.5 0h1m13.5 0h1m21.5 0h1m1 0h1m76 0h1m-262 0.5h1m7.5 0h1m2 0h1m1 0h1m-0.5 0h1m35 0h1m71.5 0h1m7.5 0h1m-0.5 0h1m0 0h1m4.5 0h1m3 0h1m3 0h1m4 0h1m8.5 0h1m1 0h1m12.5 0h1m82 0h1m5 0h1m-377.5 0.5h1m102.5 0h1m9.5 0h1m12.5 0h1m109.5 0h1m2.5 0h1m1 0h1m-0.5 0h1m4.5 0h1m4 0h1m4.5 0h1m14 0h1m2.5 0h1m2 0h1m88 0h1m39 0h1m-382 0.5h1m79 0h1m7.5 0h1m8.5 0h1m0 0h1m2 0h1m104.5 0h1m11 0h1m-0.5 0h1m0 0h1m1 0h1m2 0h1m-0.5 0h1m0.5 0h1m0 0h1m3.5 0h1m1 0h1m0.5 0h1m24 0h1m67 0h1m0.5 0h1m1.5 0h1m13.5 0h1m-324 0.5h1m65.5 0h1m0 0h1m4.5 0h1m5 0h1m104.5 0h1m4.5 0h1m6 0h1m0 0h1m-0.5 0h1m2 0h1m9 0h1m2.5 0h1m4.5 0h1m-286.5 0.5h1m49 0h1m70.5 0h1m6.5 0h1m3.5 0h1m1.5 0h1m0.5 0h1m0 0h1m3 0h1m2 0h1m6 0h1m-0.5 0h1m89.5 0h1m8 0h1m-0.5 0h1m6 0h1m3 0h1m8 0h1m4 0h1m5 0h1m10.5 0h1m79 0h1m-0.5 0h1m2.5 0h1m3.5 0h1m3.5 0h1m5 0h1m29 0h1m-398.5 0.5h1m33 0h1m1 0h1m64 0h1m3.5 0h1m4 0h1m0 0h1m0.5 0h1m-0.5 0h1m39 0h1m4.5 0h1m53 0h1m0.5 0h1m5 0h1m3.5 0h1m1.5 0h1m0 0h1m1.5 0h1m1 0h1m5.5 0h1m-0.5 0h1m2 0h1m5 0h1m0 0h1m3 0h1m1 0h1m13 0h1m10.5 0h1m2 0h1m69.5 0h1m2 0h1m28 0h1m-402.5 0.5h1m101.5 0h1m16.5 0h1m-0.5 0h1m2.5 0h1m0 0h1m1.5 0h1m1.5 0h1m1.5 0h1m1 0h1m1.5 0h1m0.5 0h1m94.5 0h1m0.5 0h1m0.5 0h1m3.5 0h1m1 0h1m6.5 0h1m1 0h1m-0.5 0h1m0.5 0h1m1 0h1m3 0h1m14 0h1m0 0h1m4 0h1m10 0h1m66.5 0h1m0.5 0h1m1.5 0h1m-0.5 0h1m0 0h1m6.5 0h1m0 0h1m1 0h1m0.5 0h1m-389 0.5h1m32.5 0h1m2.5 0h1m4.5 0h1m74.5 0h1m9.5 0h1m0 0h1m0.5 0h1m0.5 0h1m7.5 0h1m1 0h1m3 0h1m6.5 0h1m17 0h1m14.5 0h1m50 0h1m9 0h1m-0.5 0h1m0.5 0h1m0 0h1m1 0h1m-0.5 0h1m-0.5 0h1m7.5 0h1m0 0h1m1.5 0h1m-0.5 0h1m2 0h1m1 0h1m0 0h1m1.5 0h1m1 0h1m0 0h1m2.5 0h1m-0.5 0h1m1.5 0h1m15.5 0h1m3.5 0h1m6 0h1m59 0h1m0.5 0h1m2 0h1m2 0h1m45 0h1m-433 0.5h1m5.5 0h1m1.5 0h1m4.5 0h1m17.5 0h1m93 0h1m-0.5 0h1m0 0h1m2 0h1m5.5 0h1m1 0h1m1 0h1m-0.5 0h1m4 0h1m47.5 0h1m55.5 0h1m7.5 0h1m1.5 0h1m1 0h1m2 0h1m0.5 0h1m0 0h1m0 0h1m2 0h1m6 0h1m1.5 0h1m2 0h1m14 0h1m67 0h1m2.5 0h1m0 0h1m1 0h1m1 0h1m3 0h1m1 0h1m-0.5 0h1m1 0h1m4.5 0h1m30.5 0h1m-417.5 0.5h1m120 0h1m-0.5 0h1m2 0h1m1 0h1m-0.5 0h1m14.5 0h1m7.5 0h1m5.5 0h1m76.5 0h1m16 0h1m2 0h1m2.5 0h1m2.5 0h1m-0.5 0h1m-0.5 0h1m0.5 0h1m11.5 0h1m4 0h1m18.5 0h1m7 0h1m56 0h1m2 0h1m3.5 0h1m4 0h1m-0.5 0h1m1.5 0h1m0.5 0h1m1 0h1m2.5 0h1m-400.5 0.5h1m3 0h1m3.5 0h1m0 0h1m0.5 0h1m48.5 0h1m68 0h1m1.5 0h1m-0.5 0h1m-0.5 0h1m0 0h1m-0.5 0h1m0.5 0h1m-0.5 0h1m0 0h1m1 0h1m0 0h1m6.5 0h1m2 0h1m8 0h1m10 0h1m6.5 0h1m65.5 0h1m4 0h1m2.5 0h1m6.5 0h1m5.5 0h1m1.5 0h1m0.5 0h1m0.5 0h1m2.5 0h1m0 0h1m0 0h1m6.5 0h1m21 0h1m61 0h1m8 0h1m0 0h1m0 0h1m0.5 0h1m-0.5 0h1m8.5 0h1m-398 0.5h1m6 0h1m3 0h1m0.5 0h1m1 0h1m31 0h1m15 0h1m70.5 0h1m-0.5 0h1m-0.5 0h1m0 0h1m2.5 0h1m1.5 0h1m-0.5 0h1m-0.5 0h1m-0.5 0h1m-0.5 0h1m1 0h1m0 0h1m0 0h1m-0.5 0h1m20.5 0h1m0.5 0h1m28 0h1m59 0h1m2.5 0h1m0.5 0h1m0 0h1m1 0h1m-0.5 0h1m-0.5 0h1m-0.5 0h1m1.5 0h1m0 0h1m2 0h1m-0.5 0h1m2 0h1m-0.5 0h1m1 0h1m0 0h1m-0.5 0h1m-0.5 0h1m2.5 0h1m3 0h1m-0.5 0h1m1 0h1m2.5 0h1m79.5 0h1m2.5 0h1m2 0h1m35.5 0h1m2.5 0h1m31 0h1m-446 0.5h1m1 0h1m3.5 0h1m0 0h1m18.5 0h1m87.5 0h1m1 0h1m0 0h1m3 0h1m-0.5 0h1m0.5 0h1m7 0h1m-0.5 0h1m4 0h1m2 0h1m13.5 0h1m1.5 0h1m89.5 0h1m3.5 0h1m-0.5 0h1m0.5 0h1m0 0h1m1 0h1m-0.5 0h1m-0.5 0h1m3.5 0h1m0.5 0h1m-0.5 0h1m0.5 0h1m0.5 0h1m0 0h1m-0.5 0h1m0 0h1m0.5 0h1m-0.5 0h1m3.5 0h1m1 0h1m-0.5 0h1m0 0h1m0.5 0h1m0 0h1m7.5 0h1m5.5 0h1m68.5 0h1m1 0h1m0 0h1m-0.5 0h1m5 0h1m1.5 0h1m-0.5 0h1m0 0h1m-392 0.5h1m10 0h1m0.5 0h1m1 0h1m0 0h1m23.5 0h1m14.5 0h1m63.5 0h1m2.5 0h1m5 0h1m-0.5 0h1m0 0h1m2 0h1m0 0h1m1 0h1m-0.5 0h1m0 0h1m0.5 0h1m9.5 0h1m0.5 0h1m-0.5 0h1m8 0h1m96 0h1m1.5 0h1m1 0h1m0.5 0h1m1.5 0h1m1 0h1m-0.5 0h1m0.5 0h1m-0.5 0h1m-0.5 0h1m0 0h1m4 0h1m0.5 0h1m8.5 0h1m2 0h1m10 0h1m71.5 0h1m3 0h1m0 0h1m0.5 0h1m1 0h1m0 0h1m1.5 0h1m-0.5 0h1m3 0h1m7 0h1m0.5 0h1m2.5 0h1m22.5 0h1m-423.5 0.5h1m13 0h1m25 0h1m3 0h1m18.5 0h1m64 0h1m-0.5 0h1m3 0h1m0 0h1m-0.5 0h1m5.5 0h1m2 0h1m2.5 0h1m9 0h1m90.5 0h1m4 0h1m2 0h1m-0.5 0h1m0.5 0h1m0.5 0h1m2 0h1m5 0h1m-0.5 0h1m1 0h1m2.5 0h1m3 0h1m0 0h1m0 0h1m2 0h1m0.5 0h1m9.5 0h1m69.5 0h1m1.5 0h1m0.5 0h1m3 0h1m0 0h1m1 0h1m-0.5 0h1m-0.5 0h1m-0.5 0h1m0 0h1m0.5 0h1m0 0h1m-0.5 0h1m0.5 0h1m3.5 0h1m2.5 0h1m8.5 0h1m10 0h1m-425.5 0.5h1m11 0h1m1.5 0h1m1.5 0h1m1 0h1m37.5 0h1m17.5 0h1m49 0h1m1.5 0h1m6 0h1m-0.5 0h1m-0.5 0h1m4.5 0h1m0 0h1m0.5 0h1m0 0h1m-0.5 0h1m-0.5 0h1m1 0h1m1.5 0h1m2 0h1m0 0h1m1 0h1m5 0h1m17 0h1m78 0h1m3.5 0h1m5 0h1m1.5 0h1m0 0h1m-0.5 0h1m3 0h1m-0.5 0h1m-0.5 0h1m-0.5 0h1m0.5 0h1m-0.5 0h1m-0.5 0h1m0 0h1m0 0h1m0.5 0h1m-0.5 0h1m1.5 0h1m-0.5 0h1m-0.5 0h1m-0.5 0h1m0 0h1m0.5 0h1m5.5 0h1m0.5 0h1m3.5 0h1m0 0h1m9 0h1m63 0h1m4.5 0h1m0 0h1m2.5 0h1m1.5 0h1m0.5 0h1m0 0h1m0 0h1m0 0h1m1.5 0h1m-0.5 0h1m2 0h1m4 0h1m10 0h1m-412.5 0.5h1m3 0h1m0 0h1m1.5 0h1m2.5 0h1m5 0h1m-0.5 0h1m2.5 0h1m43.5 0h1m51 0h1m11 0h1m2 0h1m1 0h1m2 0h1m0 0h1m0.5 0h1m1 0h1m-0.5 0h1m0 0h1m4 0h1m-0.5 0h1m4.5 0h1m92 0h1m1.5 0h1m-0.5 0h1m2.5 0h1m1.5 0h1m-0.5 0h1m1 0h1m0.5 0h1m2.5 0h1m1 0h1m3.5 0h1m0 0h1m0 0h1m-0.5 0h1m2.5 0h1m1 0h1m4.5 0h1m1 0h1m2 0h1m-0.5 0h1m6 0h1m71 0h1m2.5 0h1m2 0h1m0 0h1m0.5 0h1m2.5 0h1m0.5 0h1m-0.5 0h1m-0.5 0h1m0 0h1m-0.5 0h1m-0.5 0h1m0.5 0h1m0 0h1m0 0h1m26 0h1m-424 0.5h1m8.5 0h1m3 0h1m2.5 0h1m0.5 0h1m21 0h1m7.5 0h1m16 0h1m9 0h1m55.5 0h1m2.5 0h1m10 0h1m1 0h1m0.5 0h1m1 0h1m-0.5 0h1m33 0h1m74.5 0h1m0.5 0h1m-0.5 0h1m0.5 0h1m0 0h1m2 0h1m0.5 0h1m-0.5 0h1m-0.5 0h1m0.5 0h1m-0.5 0h1m2 0h1m0 0h1m-0.5 0h1m-0.5 0h1m-0.5 0h1m-0.5 0h1m1 0h1m-0.5 0h1m0 0h1m0.5 0h1m0 0h1m0.5 0h1m0.5 0h1m4.5 0h1m7.5 0h1m2.5 0h1m-0.5 0h1m2 0h1m72.5 0h1m-0.5 0h1m0 0h1m0 0h1m-0.5 0h1m0.5 0h1m0 0h1m0 0h1m1.5 0h1m1 0h1m0 0h1m-0.5 0h1m5.5 0h1m36 0h1m-441.5 0.5h1m3.5 0h1m2 0h1m0 0h1m5.5 0h1m0 0h1m1 0h1m-0.5 0h1m6.5 0h1m23 0h1m80.5 0h1m5 0h1m-0.5 0h1m1 0h1m2.5 0h1m1.5 0h1m0 0h1m2 0h1m0.5 0h1m44.5 0h1m54.5 0h1m2.5 0h1m0 0h1m0.5 0h1m3 0h1m4 0h1m1.5 0h1m1.5 0h1m0.5 0h1m-0.5 0h1m0.5 0h1m1.5 0h1m1 0h1m0 0h1m0.5 0h1m-0.5 0h1m0 0h1m2 0h1m0 0h1m1 0h1m1 0h1m1 0h1m16.5 0h1m66.5 0h1m2 0h1m-0.5 0h1m0.5 0h1m-0.5 0h1m-0.5 0h1m1 0h1m0 0h1m1.5 0h1m1 0h1m0.5 0h1m0 0h1m-0.5 0h1m1 0h1m1.5 0h1m0 0h1m-0.5 0h1m0 0h1m15 0h1m-410.5 0.5h1m5.5 0h1m1.5 0h1m6.5 0h1m19 0h1m23.5 0h1m56 0h1m1 0h1m3.5 0h1m1 0h1m-0.5 0h1m0 0h1m5 0h1m0 0h1m1.5 0h1m0 0h1m1.5 0h1m1 0h1m0.5 0h1m-0.5 0h1m-0.5 0h1m1.5 0h1m4.5 0h1m0 0h1m89.5 0h1m3 0h1m1 0h1m0 0h1m-0.5 0h1m4 0h1m1 0h1m4.5 0h1m1.5 0h1m0 0h1m-0.5 0h1m2.5 0h1m0 0h1m0.5 0h1m0.5 0h1m1 0h1m0.5 0h1m1 0h1m2.5 0h1m0 0h1m1 0h1m0 0h1m20 0h1m55.5 0h1m0.5 0h1m4 0h1m2 0h1m0 0h1m1 0h1m-0.5 0h1m-0.5 0h1m-0.5 0h1m0.5 0h1m1 0h1m0 0h1m0.5 0h1m0.5 0h1m3 0h1m3.5 0h1m7 0h1m-408 0.5h1m0 0h1m0 0h1m0.5 0h1m1 0h1m4 0h1m1.5 0h1m43.5 0h1m62 0h1m7.5 0h1m-0.5 0h1m1.5 0h1m0.5 0h1m4 0h1m1 0h1m1 0h1m1 0h1m0.5 0h1m44.5 0h1m64 0h1m1 0h1m0 0h1m-0.5 0h1m-0.5 0h1m0.5 0h1m0 0h1m-0.5 0h1m0 0h1m-0.5 0h1m2.5 0h1m0.5 0h1m-0.5 0h1m-0.5 0h1m0 0h1m0.5 0h1m2 0h1m0 0h1m1 0h1m0 0h1m0 0h1m86 0h1m0 0h1m3.5 0h1m0.5 0h1m-0.5 0h1m1 0h1m0.5 0h1m-0.5 0h1m-0.5 0h1m1.5 0h1m0 0h1m0 0h1m-0.5 0h1m-0.5 0h1m-0.5 0h1m0 0h1m1.5 0h1m-0.5 0h1m1 0h1m0 0h1m-0.5 0h1m0.5 0h1m18.5 0h1m10 0h1m-426.5 0.5h1m-0.5 0h1m-0.5 0h1m0 0h1m0.5 0h1m1 0h1m0 0h1m2 0h1m0.5 0h1m0 0h1m1.5 0h1m14.5 0h1m89.5 0h1m5 0h1m0.5 0h1m0.5 0h1m-0.5 0h1m-0.5 0h1m-0.5 0h1m0 0h1m1 0h1m3.5 0h1m1 0h1m-0.5 0h1m-0.5 0h1m3 0h1m98.5 0h1m5 0h1m-0.5 0h1m3 0h1m5.5 0h1m0 0h1m-0.5 0h1m0 0h1m0.5 0h1m0 0h1m0 0h1m0.5 0h1m-0.5 0h1m0 0h1m0.5 0h1m1 0h1m1 0h1m0 0h1m0 0h1m-0.5 0h1m1 0h1m6 0h1m2 0h1m75.5 0h1m3.5 0h1m1.5 0h1m1 0h1m-0.5 0h1m-0.5 0h1m1 0h1m0 0h1m-0.5 0h1m0 0h1m-0.5 0h1m0.5 0h1m0 0h1m0 0h1m1 0h1m2 0h1m2.5 0h1m-401 0.5h1m6.5 0h1m3 0h1m-0.5 0h1m1 0h1m4 0h1m1.5 0h1m0.5 0h1m104.5 0h1m1.5 0h1m2.5 0h1m0.5 0h1m0.5 0h1m-0.5 0h1m-0.5 0h1m2.5 0h1m1.5 0h1m6.5 0h1m0.5 0h1m6 0h1m95.5 0h1m5.5 0h1m0 0h1m1 0h1m0 0h1m0 0h1m-0.5 0h1m1 0h1m-0.5 0h1m-0.5 0h1m0.5 0h1m-0.5 0h1m2 0h1m1.5 0h1m5 0h1m1 0h1m-0.5 0h1m2.5 0h1m8 0h1m9.5 0h1m2 0h1m69 0h1m2 0h1m0.5 0h1m-0.5 0h1m0 0h1m0.5 0h1m2 0h1m8.5 0h1m22 0h1m-428.5 0.5h1m4.5 0h1m0 0h1m-0.5 0h1m-0.5 0h1m0.5 0h1m1 0h1m2.5 0h1m0.5 0h1m0.5 0h1m0.5 0h1m1 0h1m1 0h1m41.5 0h1m56 0h1m7 0h1m3 0h1m-0.5 0h1m0.5 0h1m1 0h1m2.5 0h1m-0.5 0h1m1 0h1m-0.5 0h1m0 0h1m0 0h1m0 0h1m1.5 0h1m3 0h1m16 0h1m86 0h1m1.5 0h1m0 0h1m1.5 0h1m0.5 0h1m1.5 0h1m0 0h1m0 0h1m2.5 0h1m2 0h1m1 0h1m1.5 0h1m0 0h1m1 0h1m-0.5 0h1m-0.5 0h1m0.5 0h1m-0.5 0h1m2 0h1m-0.5 0h1m0 0h1m-0.5 0h1m0 0h1m0.5 0h1m3.5 0h1m1.5 0h1m3 0h1m0.5 0h1m9.5 0h1m63.5 0h1m2.5 0h1m-0.5 0h1m-0.5 0h1m0 0h1m3.5 0h1m0 0h1m3.5 0h1m-0.5 0h1m19 0h1m-414 0.5h1m-0.5 0h1m-0.5 0h1m-0.5 0h1m1 0h1m15.5 0h1m6.5 0h1m18.5 0h1m21 0h1m47.5 0h1m1.5 0h1m11 0h1m0.5 0h1m2 0h1m-0.5 0h1m1 0h1m-0.5 0h1m4 0h1m3.5 0h1m1 0h1m0.5 0h1m7.5 0h1m90 0h1m3 0h1m5 0h1m1 0h1m-0.5 0h1m1.5 0h1m1 0h1m-0.5 0h1m0 0h1m0.5 0h1m2.5 0h1m0.5 0h1m0.5 0h1m1.5 0h1m0 0h1m-0.5 0h1m1 0h1m0 0h1m83.5 0h1m0 0h1m0 0h1m0 0h1m-0.5 0h1m1 0h1m-0.5 0h1m1.5 0h1m0.5 0h1m0 0h1m0.5 0h1m0.5 0h1m3 0h1m0 0h1m2.5 0h1m1 0h1m17 0h1m3 0h1m12.5 0h1m-429 0.5h1m2 0h1m0 0h1m0 0h1m-0.5 0h1m0 0h1m-0.5 0h1m2 0h1m3.5 0h1m14 0h1m22 0h1m73 0h1m-0.5 0h1m-0.5 0h1m2.5 0h1m0.5 0h1m0 0h1m3 0h1m2.5 0h1m3.5 0h1m3 0h1m-0.5 0h1m5 0h1m4 0h1m9.5 0h1m70.5 0h1m3 0h1m2.5 0h1m4.5 0h1m-0.5 0h1m4.5 0h1m-0.5 0h1m0.5 0h1m1 0h1m-0.5 0h1m0 0h1m0.5 0h1m3 0h1m1 0h1m0.5 0h1m-0.5 0h1m1 0h1m0 0h1m0.5 0h1m-0.5 0h1m1.5 0h1m1.5 0h1m0.5 0h1m0.5 0h1m0.5 0h1m3.5 0h1m7.5 0h1m65 0h1m0.5 0h1m1.5 0h1m0.5 0h1m2.5 0h1m0 0h1m1.5 0h1m1.5 0h1m0.5 0h1m-0.5 0h1m3.5 0h1m0 0h1m-0.5 0h1m1.5 0h1m4 0h1m11 0h1m-416 0.5h1m-0.5 0h1m1.5 0h1m0 0h1m2 0h1m0.5 0h1m0 0h1m1.5 0h1m0 0h1m5.5 0h1m1 0h1m15.5 0h1m4 0h1m23 0h1m57.5 0h1m1.5 0h1m7.5 0h1m3 0h1m2.5 0h1m-0.5 0h1m-0.5 0h1m1 0h1m0 0h1m9.5 0h1m10 0h1m8.5 0h1m-0.5 0h1m70 0h1m3 0h1m4.5 0h1m2 0h1m3 0h1m2.5 0h1m-0.5 0h1m0 0h1m-0.5 0h1m1.5 0h1m-0.5 0h1m2.5 0h1m-0.5 0h1m0 0h1m6.5 0h1m12 0h1m1.5 0h1m64 0h1m-0.5 0h1m4 0h1m-0.5 0h1m0.5 0h1m2 0h1m1 0h1m-0.5 0h1m-0.5 0h1m0 0h1m-0.5 0h1m-0.5 0h1m0 0h1m-0.5 0h1m0 0h1m0.5 0h1m-0.5 0h1m-0.5 0h1m-0.5 0h1m-0.5 0h1m0 0h1m0 0h1m-0.5 0h1m3.5 0h1m11.5 0h1m0.5 0h1m-0.5 0h1m21 0h1m-435 0.5h1m1.5 0h1m0.5 0h1m-0.5 0h1m-0.5 0h1m0 0h1m0.5 0h1m0 0h1m0 0h1m1 0h1m1 0h1m2 0h1m-0.5 0h1m16.5 0h1m6 0h1m17 0h1m1.5 0h1m55 0h1m-0.5 0h1m5 0h1m4.5 0h1m3.5 0h1m0 0h1m-0.5 0h1m-0.5 0h1m0 0h1m3 0h1m1 0h1m6.5 0h1m16 0h1m76 0h1m-0.5 0h1m9.5 0h1m2 0h1m0 0h1m-0.5 0h1m1 0h1m1 0h1m-0.5 0h1m0.5 0h1m-0.5 0h1m-0.5 0h1m0 0h1m1 0h1m0.5 0h1m-0.5 0h1m0.5 0h1m0 0h1m-0.5 0h1m-0.5 0h1m-0.5 0h1m0 0h1m2.5 0h1m0 0h1m1 0h1m-0.5 0h1m0 0h1m1.5 0h1m-0.5 0h1m1 0h1m0 0h1m1.5 0h1m78 0h1m1 0h1m0 0h1m0.5 0h1m3 0h1m-0.5 0h1m0.5 0h1m0.5 0h1m-0.5 0h1m0 0h1m3.5 0h1m-0.5 0h1m0 0h1m-400.5 0.5h1m3.5 0h1m-0.5 0h1m4 0h1m-0.5 0h1m0 0h1m-0.5 0h1m0.5 0h1m0 0h1m1.5 0h1m1 0h1m4.5 0h1m1.5 0h1m3 0h1m0 0h1m7.5 0h1m19 0h1m76.5 0h1m5 0h1m8.5 0h1m0 0h1m23.5 0h1m72.5 0h1m5 0h1m1.5 0h1m2.5 0h1m1 0h1m0 0h1m3 0h1m4.5 0h1m0.5 0h1m0.5 0h1m0 0h1m-0.5 0h1m1 0h1m-0.5 0h1m0 0h1m0 0h1m0.5 0h1m-0.5 0h1m0 0h1m-0.5 0h1m-0.5 0h1m-0.5 0h1m1 0h1m4 0h1m-0.5 0h1m9 0h1m-0.5 0h1m1.5 0h1m73.5 0h1m0.5 0h1m0.5 0h1m0.5 0h1m0.5 0h1m1 0h1m1 0h1m0 0h1m0.5 0h1m0.5 0h1m1 0h1m1.5 0h1m2.5 0h1m22 0h1m22.5 0h1m-447 0.5h1m-0.5 0h1m3.5 0h1m0.5 0h1m0 0h1m-0.5 0h1m-0.5 0h1m3.5 0h1m0 0h1m-0.5 0h1m4.5 0h1m11 0h1m1.5 0h1m25.5 0h1m63.5 0h1m2.5 0h1m0 0h1m0 0h1m4 0h1m2 0h1m3.5 0h1m12.5 0h1m7 0h1m4.5 0h1m78.5 0h1m1.5 0h1m1.5 0h1m1 0h1m0 0h1m0.5 0h1m0.5 0h1m3 0h1m1 0h1m4.5 0h1m3 0h1m1.5 0h1m0 0h1m-0.5 0h1m1 0h1m9.5 0h1m5 0h1m8 0h1m60.5 0h1m-0.5 0h1m0 0h1m1 0h1m-0.5 0h1m2.5 0h1m0.5 0h1m1.5 0h1m1 0h1m1.5 0h1m0 0h1m-0.5 0h1m-0.5 0h1m-0.5 0h1m3 0h1m0 0h1m1.5 0h1m-402 0.5h1m0.5 0h1m0.5 0h1m-0.5 0h1m2 0h1m-0.5 0h1m0 0h1m1.5 0h1m1.5 0h1m1 0h1m1.5 0h1m-0.5 0h1m0 0h1m0.5 0h1m24.5 0h1m86.5 0h1m1.5 0h1m1 0h1m-0.5 0h1m0.5 0h1m0 0h1m1.5 0h1m1 0h1m-0.5 0h1m1 0h1m-0.5 0h1m4.5 0h1m-0.5 0h1m10 0h1m5.5 0h1m79 0h1m3.5 0h1m0 0h1m1 0h1m0 0h1m-0.5 0h1m0 0h1m0.5 0h1m-0.5 0h1m4.5 0h1m-0.5 0h1m0 0h1m0 0h1m1 0h1m2.5 0h1m5 0h1m1 0h1m0.5 0h1m2 0h1m-0.5 0h1m-0.5 0h1m0.5 0h1m2.5 0h1m79.5 0h1m-0.5 0h1m-0.5 0h1m2.5 0h1m-0.5 0h1m0.5 0h1m0 0h1m2 0h1m-0.5 0h1m1.5 0h1m0 0h1m-0.5 0h1m-0.5 0h1m0.5 0h1m0 0h1m0.5 0h1m-0.5 0h1m-0.5 0h1m0 0h1m2 0h1m4 0h1m20 0h1m-430.5 0.5h1m5.5 0h1m-0.5 0h1m1.5 0h1m1 0h1m0 0h1m3 0h1m0 0h1m1.5 0h1m1.5 0h1m-0.5 0h1m110.5 0h1m1 0h1m0.5 0h1m-0.5 0h1m-0.5 0h1m-0.5 0h1m3.5 0h1m0 0h1m0.5 0h1m6.5 0h1m9.5 0h1m-0.5 0h1m98.5 0h1m0 0h1m0 0h1m0.5 0h1m1.5 0h1m-0.5 0h1m1.5 0h1m1 0h1m1.5 0h1m0.5 0h1m3 0h1m0.5 0h1m0 0h1m2 0h1m1 0h1m0.5 0h1m-0.5 0h1m1 0h1m-0.5 0h1m0 0h1m5.5 0h1m12 0h1m58.5 0h1m1.5 0h1m-0.5 0h1m2.5 0h1m1 0h1m0 0h1m2 0h1m1 0h1m0.5 0h1m0 0h1m0.5 0h1m0 0h1m0 0h1m-0.5 0h1m11.5 0h1m-410 0.5h1m-0.5 0h1m1 0h1m4.5 0h1m-0.5 0h1m0.5 0h1m1.5 0h1m2.5 0h1m0 0h1m1 0h1m0 0h1m0 0h1m1 0h1m-0.5 0h1m1.5 0h1m1.5 0h1m4.5 0h1m12.5 0h1m3 0h1m86.5 0h1m5 0h1m-0.5 0h1m2 0h1m0.5 0h1m-0.5 0h1m1 0h1m3 0h1m3.5 0h1m-0.5 0h1m11.5 0h1m87.5 0h1m0 0h1m0.5 0h1m-0.5 0h1m0.5 0h1m-0.5 0h1m0 0h1m0.5 0h1m0 0h1m1 0h1m-0.5 0h1m1.5 0h1m0.5 0h1m1.5 0h1m1.5 0h1m4 0h1m0.5 0h1m0 0h1m-0.5 0h1m0.5 0h1m9.5 0h1m16.5 0h1m64 0h1m-0.5 0h1m4 0h1m0 0h1m1.5 0h1m-0.5 0h1m0 0h1m0 0h1m1.5 0h1m0 0h1m2 0h1m0.5 0h1m0.5 0h1m-0.5 0h1m2.5 0h1m34.5 0h1m-447 0.5h1m6 0h1m1.5 0h1m0 0h1m1.5 0h1m0 0h1m1.5 0h1m-0.5 0h1m0 0h1m0 0h1m0 0h1m1.5 0h1m104 0h1m5.5 0h1m2 0h1m2.5 0h1m10 0h1m0 0h1m-0.5 0h1m1 0h1m-0.5 0h1m-0.5 0h1m7 0h1m2 0h1m8 0h1m80.5 0h1m3 0h1m0.5 0h1m-0.5 0h1m-0.5 0h1m0 0h1m0 0h1m-0.5 0h1m0 0h1m1 0h1m-0.5 0h1m-0.5 0h1m1.5 0h1m0 0h1m2.5 0h1m0 0h1m0 0h1m3.5 0h1m0 0h1m0.5 0h1m0 0h1m4.5 0h1m0 0h1m-0.5 0h1m8 0h1m3 0h1m70 0h1m0 0h1m2.5 0h1m-0.5 0h1m0 0h1m1.5 0h1m-0.5 0h1m-0.5 0h1m0 0h1m1.5 0h1m-0.5 0h1m-0.5 0h1m-0.5 0h1m2 0h1m-0.5 0h1m-0.5 0h1m0 0h1m-0.5 0h1m3 0h1m8.5 0h1m0.5 0h1m12.5 0h1m4 0h1m-432.5 0.5h1m2.5 0h1m4.5 0h1m0 0h1m-0.5 0h1m0 0h1m0.5 0h1m0.5 0h1m-0.5 0h1m0.5 0h1m-0.5 0h1m1.5 0h1m0.5 0h1m1 0h1m0.5 0h1m12 0h1m1.5 0h1m14.5 0h1m4.5 0h1m62 0h1m11.5 0h1m1.5 0h1m0 0h1m2 0h1m-0.5 0h1m0.5 0h1m0.5 0h1m0 0h1m0.5 0h1m1 0h1m4 0h1m1 0h1m2.5 0h1m100 0h1m1.5 0h1m4 0h1m0.5 0h1m1.5 0h1m0 0h1m-0.5 0h1m-0.5 0h1m2.5 0h1m-0.5 0h1m0 0h1m-0.5 0h1m1 0h1m0 0h1m1.5 0h1m0 0h1m-0.5 0h1m1.5 0h1m-0.5 0h1m-0.5 0h1m4.5 0h1m6.5 0h1m70 0h1m4 0h1m1.5 0h1m1 0h1m-0.5 0h1m0.5 0h1m0 0h1m0.5 0h1m2.5 0h1m4 0h1m1 0h1m-0.5 0h1m-402 0.5h1m2 0h1m0.5 0h1m2.5 0h1m-0.5 0h1m-0.5 0h1m0.5 0h1m0 0h1m0.5 0h1m2 0h1m-0.5 0h1m1 0h1m1 0h1m-0.5 0h1m-0.5 0h1m0.5 0h1m-0.5 0h1m3.5 0h1m-0.5 0h1m6 0h1m3 0h1m84 0h1m12 0h1m1.5 0h1m-0.5 0h1m1.5 0h1m3.5 0h1m1.5 0h1m0.5 0h1m2 0h1m4 0h1m0 0h1m9 0h1m5 0h1m11.5 0h1m68 0h1m3 0h1m1.5 0h1m2 0h1m2.5 0h1m1 0h1m1 0h1m2.5 0h1m4 0h1m6.5 0h1m2.5 0h1m2.5 0h1m14 0h1m67.5 0h1m-0.5 0h1m1.5 0h1m5 0h1m0.5 0h1m-0.5 0h1m2 0h1m-0.5 0h1m0.5 0h1m0.5 0h1m-0.5 0h1m-0.5 0h1m5 0h1m-401.5 0.5h1m2 0h1m-0.5 0h1m3 0h1m1 0h1m0 0h1m1 0h1m0 0h1m0 0h1m0 0h1m-0.5 0h1m3 0h1m0 0h1m22 0h1m80 0h1m4 0h1m0.5 0h1m1 0h1m0 0h1m0 0h1m6 0h1m1 0h1m-0.5 0h1m-0.5 0h1m0 0h1m0.5 0h1m2 0h1m0.5 0h1m0 0h1m1.5 0h1m4.5 0h1m25.5 0h1m1 0h1m4 0h1m56 0h1m1 0h1m2 0h1m3 0h1m0 0h1m1.5 0h1m0.5 0h1m3.5 0h1m-0.5 0h1m1 0h1m3.5 0h1m0 0h1m1 0h1m-0.5 0h1m1 0h1m0 0h1m9.5 0h1m8 0h1m71 0h1m2 0h1m1.5 0h1m0.5 0h1m2.5 0h1m0 0h1m-0.5 0h1m-0.5 0h1m1 0h1m0 0h1m-0.5 0h1m1 0h1m-0.5 0h1m0 0h1m3.5 0h1m0.5 0h1m-403 0.5h1m0 0h1m1 0h1m0 0h1m-0.5 0h1m0.5 0h1m-0.5 0h1m0 0h1m-0.5 0h1m4.5 0h1m-0.5 0h1m0 0h1m0.5 0h1m-0.5 0h1m-0.5 0h1m1 0h1m-0.5 0h1m0 0h1m9 0h1m6 0h1m0.5 0h1m27.5 0h1m62.5 0h1m-0.5 0h1m1 0h1m6 0h1m0.5 0h1m12 0h1m-0.5 0h1m1.5 0h1m1.5 0h1m1 0h1m2 0h1m7.5 0h1m86.5 0h1m0 0h1m0 0h1m3.5 0h1m0.5 0h1m-0.5 0h1m-0.5 0h1m0.5 0h1m-0.5 0h1m0 0h1m-0.5 0h1m0 0h1m0.5 0h1m2 0h1m1.5 0h1m0 0h1m2 0h1m3 0h1m82 0h1m-0.5 0h1m-0.5 0h1m-0.5 0h1m1.5 0h1m0.5 0h1m0 0h1m1.5 0h1m0 0h1m0.5 0h1m0.5 0h1m0 0h1m0 0h1m-0.5 0h1m3 0h1m-0.5 0h1m0 0h1m-0.5 0h1m6.5 0h1m27 0h1m9.5 0h1m-446 0.5h1m3.5 0h1m1 0h1m3 0h1m1 0h1m1 0h1m-0.5 0h1m-0.5 0h1m2.5 0h1m2 0h1m0 0h1m4 0h1m7.5 0h1m2 0h1m35.5 0h1m48 0h1m1 0h1m2 0h1m0 0h1m1.5 0h1m5.5 0h1m2 0h1m0 0h1m2.5 0h1m13.5 0h1m89.5 0h1m0.5 0h1m-0.5 0h1m2 0h1m2 0h1m0 0h1m1.5 0h1m-0.5 0h1m4 0h1m2.5 0h1m-0.5 0h1m1 0h1m0.5 0h1m-0.5 0h1m0 0h1m0.5 0h1m1.5 0h1m0 0h1m-0.5 0h1m2 0h1m0 0h1m0 0h1m0.5 0h1m-0.5 0h1m-0.5 0h1m3.5 0h1m0.5 0h1m76.5 0h1m4 0h1m0.5 0h1m2 0h1m1 0h1m2.5 0h1m-0.5 0h1m7 0h1m6.5 0h1m2.5 0h1m3.5 0h1m-412 0.5h1m0.5 0h1m1.5 0h1m0.5 0h1m-0.5 0h1m-0.5 0h1m-0.5 0h1m0 0h1m-0.5 0h1m0.5 0h1m0.5 0h1m-0.5 0h1m-0.5 0h1m-0.5 0h1m0.5 0h1m0.5 0h1m3 0h1m-0.5 0h1m0 0h1m4 0h1m22 0h1m79 0h1m5 0h1m-0.5 0h1m1.5 0h1m-0.5 0h1m1.5 0h1m-0.5 0h1m0.5 0h1m0.5 0h1m7.5 0h1m0 0h1m-0.5 0h1m5 0h1m93 0h1m1.5 0h1m0 0h1m1.5 0h1m1 0h1m1 0h1m3 0h1m1 0h1m-0.5 0h1m-0.5 0h1m-0.5 0h1m-0.5 0h1m1 0h1m5.5 0h1m-0.5 0h1m7.5 0h1m-0.5 0h1m-0.5 0h1m89 0h1m1 0h1m-0.5 0h1m5 0h1m0.5 0h1m-0.5 0h1m-0.5 0h1m3 0h1m-0.5 0h1m-400.5 0.5h1m4 0h1m0 0h1m1.5 0h1m-0.5 0h1m1 0h1m2.5 0h1m-0.5 0h1m4.5 0h1m0 0h1m-0.5 0h1m1.5 0h1m2 0h1m1.5 0h1m10.5 0h1m81 0h1m11.5 0h1m0.5 0h1m1.5 0h1m5.5 0h1m-0.5 0h1m-0.5 0h1m3.5 0h1m3.5 0h1m7 0h1m97.5 0h1m5.5 0h1m0.5 0h1m1 0h1m4.5 0h1m-0.5 0h1m2 0h1m7.5 0h1m0.5 0h1m3.5 0h1m2 0h1m10 0h1m8 0h1m55.5 0h1m0.5 0h1m7 0h1m-0.5 0h1m1 0h1m-0.5 0h1m-0.5 0h1m2 0h1m9.5 0h1m1 0h1m-406.5 0.5h1m1 0h1m0 0h1m1 0h1m1.5 0h1m2.5 0h1m2 0h1m-0.5 0h1m-0.5 0h1m0.5 0h1m1.5 0h1m-0.5 0h1m0.5 0h1m3 0h1m4 0h1m1.5 0h1m2.5 0h1m3 0h1m-0.5 0h1m9 0h1m92.5 0h1m1 0h1m-0.5 0h1m1 0h1m-0.5 0h1m10 0h1m0.5 0h1m6 0h1m102.5 0h1m-0.5 0h1m2 0h1m3 0h1m3.5 0h1m-0.5 0h1m0 0h1m0 0h1m3.5 0h1m0.5 0h1m5 0h1m9 0h1m66 0h1m-0.5 0h1m8.5 0h1m-0.5 0h1m2 0h1m0.5 0h1m-0.5 0h1m0 0h1m2.5 0h1m3.5 0h1m-394 0.5h1m2.5 0h1m0 0h1m0.5 0h1m-0.5 0h1m0.5 0h1m-0.5 0h1m0 0h1m0 0h1m0.5 0h1m-0.5 0h1m-0.5 0h1m-0.5 0h1m-0.5 0h1m0.5 0h1m-0.5 0h1m1.5 0h1m5.5 0h1m6 0h1m8 0h1m33 0h1m44 0h1m6.5 0h1m-0.5 0h1m-0.5 0h1m3.5 0h1m0 0h1m3.5 0h1m3.5 0h1m0.5 0h1m2.5 0h1m10 0h1m-0.5 0h1m-0.5 0h1m12.5 0h1m20 0h1m56 0h1m3.5 0h1m1.5 0h1m-0.5 0h1m1.5 0h1m3 0h1m2.5 0h1m-0.5 0h1m-0.5 0h1m0 0h1m-0.5 0h1m2 0h1m3.5 0h1m0.5 0h1m5 0h1m3 0h1m81.5 0h1m7.5 0h1m0.5 0h1m-0.5 0h1m-0.5 0h1m0.5 0h1m1 0h1m-390 0.5h1m-0.5 0h1m1 0h1m1 0h1m0.5 0h1m0 0h1m0 0h1m-0.5 0h1m0 0h1m1.5 0h1m-0.5 0h1m0.5 0h1m3.5 0h1m-0.5 0h1m1 0h1m-0.5 0h1m5 0h1m107 0h1m-0.5 0h1m6.5 0h1m5.5 0h1m-0.5 0h1m6.5 0h1m13.5 0h1m0.5 0h1m81.5 0h1m-0.5 0h1m-0.5 0h1m3 0h1m0 0h1m1 0h1m-0.5 0h1m4 0h1m1.5 0h1m2.5 0h1m1.5 0h1m-0.5 0h1m-0.5 0h1m6 0h1m4.5 0h1m81.5 0h1m3 0h1m2 0h1m2.5 0h1m2.5 0h1m-0.5 0h1m2 0h1m-399 0.5h1m6 0h1m3 0h1m-0.5 0h1m1 0h1m1 0h1m3.5 0h1m7.5 0h1m0 0h1m6 0h1m1 0h1m6.5 0h1m91.5 0h1m1.5 0h1m1 0h1m2 0h1m-0.5 0h1m0 0h1m1 0h1m7 0h1m2 0h1m95 0h1m3 0h1m0.5 0h1m6 0h1m8.5 0h1m2.5 0h1m1.5 0h1m3 0h1m-0.5 0h1m0.5 0h1m4.5 0h1m0 0h1m5 0h1m-0.5 0h1m0 0h1m13 0h1m57.5 0h1m1.5 0h1m4.5 0h1m1 0h1m1.5 0h1m2 0h1m0.5 0h1m5 0h1m-0.5 0h1m0.5 0h1m-394.5 0.5h1m1.5 0h1m-0.5 0h1m0 0h1m-0.5 0h1m-0.5 0h1m0 0h1m1.5 0h1m-0.5 0h1m0 0h1m-0.5 0h1m-0.5 0h1m0 0h1m3 0h1m-0.5 0h1m0.5 0h1m38 0h1m71.5 0h1m1 0h1m19 0h1m95 0h1m1.5 0h1m-0.5 0h1m4 0h1m5.5 0h1m0 0h1m0.5 0h1m3 0h1m1.5 0h1m1.5 0h1m0.5 0h1m103.5 0h1m5.5 0h1m9 0h1m6 0h1m45 0h1m-450.5 0.5h1m3 0h1m-0.5 0h1m-0.5 0h1m-0.5 0h1m0 0h1m0.5 0h1m0 0h1m2 0h1m9 0h1m3.5 0h1m5.5 0h1m18.5 0h1m6.5 0h1m18.5 0h1m53.5 0h1m0.5 0h1m3.5 0h1m37 0h1m65 0h1m14.5 0h1m4 0h1m0.5 0h1m1.5 0h1m1 0h1m0.5 0h1m7 0h1m8 0h1m0.5 0h1m3 0h1m1 0h1m2 0h1m73.5 0h1m0.5 0h1m1 0h1m0.5 0h1m0.5 0h1m4 0h1m2 0h1m-397 0.5h1m-0.5 0h1m5.5 0h1m-0.5 0h1m0 0h1m-0.5 0h1m1 0h1m2 0h1m1 0h1m1 0h1m-0.5 0h1m0 0h1m-0.5 0h1m1.5 0h1m-0.5 0h1m4.5 0h1m3.5 0h1m1 0h1m26 0h1m20.5 0h1m48.5 0h1m0 0h1m0 0h1m5 0h1m-0.5 0h1m15.5 0h1m0.5 0h1m6 0h1m99 0h1m10.5 0h1m2 0h1m1 0h1m6.5 0h1m-0.5 0h1m-0.5 0h1m0 0h1m4 0h1m15 0h1m66 0h1m1.5 0h1m10 0h1m1.5 0h1m1 0h1m25 0h1m24.5 0h1m-451 0.5h1m2 0h1m0.5 0h1m4.5 0h1m0.5 0h1m0.5 0h1m0 0h1m0 0h1m0.5 0h1m4 0h1m-0.5 0h1m-0.5 0h1m1 0h1m3 0h1m7.5 0h1m0 0h1m6 0h1m9.5 0h1m68.5 0h1m6 0h1m4 0h1m2.5 0h1m-0.5 0h1m0.5 0h1m0.5 0h1m0 0h1m0 0h1m16.5 0h1m2 0h1m18 0h1m75 0h1m12 0h1m9.5 0h1m5.5 0h1m6 0h1m2 0h1m78.5 0h1m0.5 0h1m9.5 0h1m1 0h1m0.5 0h1m0.5 0h1m-398.5 0.5h1m5 0h1m1 0h1m2 0h1m-0.5 0h1m0 0h1m1.5 0h1m0.5 0h1m0 0h1m1.5 0h1m2.5 0h1m0.5 0h1m3 0h1m11 0h1m91.5 0h1m3.5 0h1m2.5 0h1m7.5 0h1m-0.5 0h1m1 0h1m10.5 0h1m2 0h1m89 0h1m9.5 0h1m9 0h1m0.5 0h1m-0.5 0h1m5 0h1m3 0h1m18 0h1m78 0h1m7.5 0h1m0 0h1m12 0h1m1 0h1m-410.5 0.5h1m2.5 0h1m2.5 0h1m1 0h1m0.5 0h1m-0.5 0h1m2 0h1m1.5 0h1m1.5 0h1m-0.5 0h1m4.5 0h1m2 0h1m8.5 0h1m2.5 0h1m40 0h1m38 0h1m6 0h1m3.5 0h1m3.5 0h1m8 0h1m1.5 0h1m112.5 0h1m4.5 0h1m3 0h1m0.5 0h1m1 0h1m3 0h1m0 0h1m5 0h1m2 0h1m3 0h1m0.5 0h1m83 0h1m3 0h1m2.5 0h1m0 0h1m3 0h1m4 0h1m1 0h1m1 0h1m1.5 0h1m38 0h1m-442.5 0.5h1m4 0h1m2 0h1m-0.5 0h1m4 0h1m2.5 0h1m-0.5 0h1m2 0h1m3 0h1m4.5 0h1m-0.5 0h1m1.5 0h1m87.5 0h1m10.5 0h1m16.5 0h1m1 0h1m0.5 0h1m8 0h1m95 0h1m1 0h1m25 0h1m88.5 0h1m5 0h1m-384 0.5h1m0 0h1m0.5 0h1m1.5 0h1m-0.5 0h1m-0.5 0h1m0.5 0h1m2 0h1m0 0h1m0 0h1m-0.5 0h1m0 0h1m0 0h1m1 0h1m4.5 0h1m4 0h1m4 0h1m6.5 0h1m14 0h1m0.5 0h1m8 0h1m60.5 0h1m0.5 0h1m0 0h1m-0.5 0h1m4 0h1m6 0h1m16.5 0h1m4 0h1m2.5 0h1m-0.5 0h1m12.5 0h1m90.5 0h1m0.5 0h1m-0.5 0h1m-0.5 0h1m8.5 0h1m2 0h1m92 0h1m2.5 0h1m40.5 0h1m-429 0.5h1m4 0h1m0 0h1m1.5 0h1m-0.5 0h1m3.5 0h1m0 0h1m-0.5 0h1m-0.5 0h1m0 0h1m3 0h1m-0.5 0h1m3.5 0h1m97.5 0h1m12 0h1m4.5 0h1m2.5 0h1m2.5 0h1m7 0h1m4 0h1m98 0h1m2 0h1m30 0h1m-286 0.5h1m0 0h1m8.5 0h1m2.5 0h1m1 0h1m12 0h1m13 0h1m4 0h1m7 0h1m1 0h1m59.5 0h1m17 0h1m0.5 0h1m3.5 0h1m3.5 0h1m100 0h1m15.5 0h1m9 0h1m4 0h1m90 0h1m2.5 0h1m4 0h1m0.5 0h1m46 0h1m-432 0.5h1m-0.5 0h1m4 0h1m-0.5 0h1m2 0h1m-0.5 0h1m1.5 0h1m-0.5 0h1m1 0h1m7 0h1m17 0h1m99 0h1m5 0h1m103 0h1m16 0h1m7 0h1m1 0h1m1 0h1m8 0h1m86 0h1m15 0h1m1 0h1m-402.5 0.5h1m0.5 0h1m3.5 0h1m0 0h1m-0.5 0h1m1 0h1m11 0h1m108.5 0h1m14.5 0h1m0 0h1m2.5 0h1m2.5 0h1m0.5 0h1m24.5 0h1m19 0h1m66 0h1m8.5 0h1m5.5 0h1m98 0h1m9 0h1m-384.5 0.5h1m0.5 0h1m1.5 0h1m-0.5 0h1m1 0h1m2 0h1m2.5 0h1m0.5 0h1m31.5 0h1m68.5 0h1m3 0h1m10 0h1m2 0h1m9 0h1m0 0h1m9.5 0h1m85 0h1m3 0h1m5 0h1m3.5 0h1m4.5 0h1m-0.5 0h1m2.5 0h1m3.5 0h1m0.5 0h1m3.5 0h1m97 0h1m5 0h1m46.5 0h1m-439 0.5h1m4.5 0h1m2.5 0h1m-0.5 0h1m4 0h1m-0.5 0h1m6 0h1m0.5 0h1m8 0h1m19.5 0h1m86.5 0h1m2 0h1m0 0h1m2.5 0h1m0 0h1m110 0h1m3 0h1m6 0h1m-0.5 0h1m2.5 0h1m34.5 0h1m89.5 0h1m-384.5 0.5h1m8 0h1m9 0h1m103.5 0h1m3.5 0h1m0.5 0h1m23 0h1m266.5 0h1m-437.5 0.5h1m1.5 0h1m-0.5 0h1m1.5 0h1m0.5 0h1m14.5 0h1m8 0h1m0 0h1m100.5 0h1m4 0h1m5.5 0h1m-0.5 0h1m0 0h1m1 0h1m149.5 0h1m93 0h1m23.5 0h1m-409 0.5h1m1 0h1m1 0h1m2 0h1m-0.5 0h1m20 0h1m8.5 0h1m101 0h1m3 0h1m103.5 0h1m9.5 0h1m118.5 0h1m3 0h1m-392.5 0.5h1m7.5 0h1m178 38.5h1m86 2h1m-274.5 5h1m161 0.5h1m-156 0.5h1m155.5 0h1m-166 1h1m11 0h1m3 0h1m113.5 0h1m-134 0.5h1m27 0h1m99 0h1m12.5 0h1m51.5 0h1m-168 0.5h1m16.5 0h1m89.5 0h1m21 0h1m117.5 0h1m101 0h1m-377.5 0.5h1m6.5 0h1m242.5 0h1m-252 0.5h1m8.5 0h1m126 0h1m46.5 0h1m-186.5 0.5h1m0.5 0h1m4 0h1m5.5 0h1m111.5 0h1m15.5 0h1m117.5 0h1m-261 0.5h1m11.5 0h1m19 0h1m118 0h1m-0.5 0h1m7.5 0h1m104 0h1m14.5 0h1m3.5 0h1m93.5 0h1m-374.5 0.5h1m5.5 0h1m139 0h1m125.5 0h1m103 0h1m-385 0.5h1m-0.5 0h1m10.5 0h1m32 0h1m84 0h1m33.5 0h1m15 0h1m4.5 0h1m66.5 0h1m9.5 0h1m-0.5 0h1m15 0h1m47.5 0h1m52 0h1m-381.5 0.5h1m6 0h1m1 0h1m2 0h1m-0.5 0h1m110.5 0h1m4 0h1m14 0h1m6.5 0h1m-0.5 0h1m4 0h1m100.5 0h1m22 0h1m1 0h1m5.5 0h1m112 0h1m-405 0.5h1m3 0h1m-0.5 0h1m1.5 0h1m2 0h1m52 0h1m89 0h1m46 0h1m56 0h1m19 0h1m17 0h1m79.5 0h1m0.5 0h1m14.5 0h1m-394 0.5h1m0 0h1m4.5 0h1m4 0h1m-0.5 0h1m11 0h1m112.5 0h1m9 0h1m3 0h1m2.5 0h1m0.5 0h1m114.5 0h1m124 0h1m-397 0.5h1m1 0h1m4 0h1m4.5 0h1m121 0h1m5 0h1m16.5 0h1m5.5 0h1m17 0h1m68.5 0h1m12.5 0h1m4.5 0h1m103 0h1m4.5 0h1m49.5 0h1m-432 0.5h1m2 0h1m1 0h1m7.5 0h1m46.5 0h1m71 0h1m41 0h1m78.5 0h1m7.5 0h1m19 0h1m91.5 0h1m0.5 0h1m7.5 0h1m0 0h1m-388 0.5h1m9 0h1m15 0h1m5 0h1m46 0h1m53 0h1m17.5 0h1m119.5 0h1m104 0h1m1.5 0h1m24 0h1m-402 0.5h1m8 0h1m3 0h1m0 0h1m0.5 0h1m8.5 0h1m95 0h1m12.5 0h1m1 0h1m5 0h1m104.5 0h1m0 0h1m16.5 0h1m1 0h1m6 0h1m97 0h1m9.5 0h1m-388 0.5h1m0.5 0h1m5.5 0h1m21 0h1m-0.5 0h1m107 0h1m50 0h1m64 0h1m6.5 0h1m8 0h1m2 0h1m100 0h1m6 0h1m0 0h1m-0.5 0h1m0.5 0h1m1 0h1m-388 0.5h1m8.5 0h1m11.5 0h1m28 0h1m10.5 0h1m0.5 0h1m3.5 0h1m69.5 0h1m11 0h1m13 0h1m2 0h1m85.5 0h1m8.5 0h1m11 0h1m111 0h1m28.5 0h1m-418 0.5h1m2.5 0h1m19.5 0h1m99 0h1m5 0h1m9.5 0h1m4.5 0h1m16 0h1m86.5 0h1m0 0h1m-0.5 0h1m17 0h1m3 0h1m1 0h1m1.5 0h1m96.5 0h1m2.5 0h1m14 0h1m-394.5 0.5h1m8 0h1m1.5 0h1m10 0h1m107 0h1m27 0h1m45.5 0h1m54 0h1m-0.5 0h1m3.5 0h1m9.5 0h1m8 0h1m0.5 0h1m-286 0.5h1m3 0h1m0 0h1m-0.5 0h1m0.5 0h1m16.5 0h1m10.5 0h1m85 0h1m5.5 0h1m18 0h1m-0.5 0h1m6 0h1m93.5 0h1m1 0h1m12.5 0h1m2.5 0h1m1.5 0h1m12 0h1m88 0h1m0 0h1m9 0h1m3 0h1m-391.5 0.5h1m15.5 0h1m14 0h1m92 0h1m5.5 0h1m7 0h1m9 0h1m2.5 0h1m2 0h1m1 0h1m93 0h1m2.5 0h1m2.5 0h1m9.5 0h1m4 0h1m104 0h1m14 0h1m-383 0.5h1m116 0h1m20 0h1m109 0h1m15 0h1m105.5 0h1m3 0h1m1 0h1m-384.5 0.5h1m140.5 0h1m8 0h1m17 0h1m115 0h1m85 0h1m4 0h1m26.5 0h1m-404.5 0.5h1m7 0h1m2.5 0h1m107 0h1m9 0h1m19.5 0h1m103.5 0h1m9.5 0h1m120.5 0h1m-250.5 0.5h1m-0.5 0h1m10 0h1m111.5 0h1m0.5 0h1m1.5 0h1m6.5 0h1m17.5 0h1m84 0h1m6 0h1m36.5 0h1m8 0h1m-394.5 0.5h1m83 0h1m8 0h1m43.5 0h1m72.5 0h1m-0.5 0h1m16 0h1m7 0h1m2.5 0h1m95.5 0h1m1.5 0h1m-243 0.5h1m127.5 0h1m9.5 0h1m3 0h1m99.5 0h1m21 0h1m-23 0.5h1m0 0h1m34.5 0h1m-361.5 0.5h1m204.5 0h1m9.5 0h1m7 0h1m99 0h1m9.5 0h1m17.5 0h1m-386 0.5h1m228 0h1m11 0h1m-112.5 0.5h1m9.5 0h1m119.5 0h1m117 0h1m18 0h1m-383.5 0.5h1m234.5 0h1m101 0h1m25.5 0h1m-385.5 0.5h1m20 0h1m88 0h1m17 0h1m38.5 0h1m187.5 0h1m23 0h1m-142.5 0.5h1m4.5 0h1m111.5 0h1m-223 0.5h1m113.5 0.5h1m16.5 0h1m8 0h1m28.5 0h1m83.5 0h1m-242.5 0.5h1m93.5 0h1m113 0.5h1m-112 0.5h1m-69 0.5h1m61.5 0h1m2.5 0h1m3.5 0h1m186 0h1m-164 0.5h1m0 0h1m-115 0.5h1m78 0h1m14 0h1m5.5 0h1m42 0h1m4.5 0h1m-300.5 1.5h1m370.5 0h1m20 0h1m-40.5 0.5h1m-221 0.5h1m108.5 0h1m176.5 0h1m-126 0.5h1m-161 1h1m220.5 0.5h1m4.5 0.5h1m-336.5 0.5h1m103 0h1m-126.5 1h1m374.5 0h1m-23 1.5h1m-360 1h1m269.5 0h1m-23.5 0.5h1m13 0h1m113.5 0h1m-331.5 1.5h1m193 0.5h1m-74.5 0.5h1m10 0.5h1m1 0h1m7.5 0h1m-19 0.5h1m97 1h1m4.5 1h1m-113 0.5h1m241.5 0h1m-235.5 0.5h1m53 0h1m66 0.5h1m-183.5 1h1m159.5 0h1m-107.5 0.5h1m-59.5 0.5h1m61 0h1m75.5 0h1m19 0h1m-232.5 0.5h1m79.5 0h1m55 0h1m4 0h1m1 0h1m6.5 0h1m62 0h1m166.5 0h1m-291.5 0.5h1m52.5 0h1m4 0h1m81.5 0h1m135 0h1m-39 0.5h1m-189.5 0.5h1m75.5 0h1m-0.5 0h1m3 0h1m3.5 0h1m141 0h1m-258 0.5h1m39.5 0h1m57 0h1m12 0h1m34 0h1m90 0h1m-241.5 0.5h1m99.5 0h1m7.5 0h1m112 0h1m-330 0.5h1m208.5 0h1m8 0h1m12 0h1m15.5 0h1m-53 0.5h1m17 0h1m15.5 0h1m1 0h1m18.5 0h1m-250.5 0.5h1m119 0h1m91 0h1m11 0h1m93 0h1m-355 0.5h1m99 0h1m37 0h1m17.5 0h1m5 0h1m10 0h1m72.5 0h1m0.5 0h1m3.5 0h1m2 0h1m0 0h1m12.5 0h1m39 0h1m-331 0.5h1m123.5 0h1m67 0h1m3.5 0h1m59 0h1m2.5 0h1m8 0h1m22 0h1m93.5 0h1m-385.5 0.5h1m256 0h1m2 0h1m-0.5 0h1m1 0h1m2.5 0h1m1.5 0h1m0 0h1m3 0h1m4 0h1m6.5 0h1m16 0h1m-170 0.5h1m31 0h1m3 0h1m8 0h1m24 0h1m37 0h1m10.5 0h1m0.5 0h1m6 0h1m7 0h1m5.5 0h1m2 0h1m-0.5 0h1m2.5 0h1m0 0h1m0.5 0h1m8 0h1m80 0h1m-370.5 0.5h1m1 0h1m113.5 0h1m33.5 0h1m84.5 0h1m14 0h1m2 0h1m0.5 0h1m1 0h1m0 0h1m1 0h1m-0.5 0h1m2.5 0h1m5.5 0h1m1 0h1m17.5 0h1m11 0h1m-304.5 0.5h1m4 0h1m18.5 0h1m16.5 0h1m65 0h1m9 0h1m1.5 0h1m0.5 0h1m5 0h1m47.5 0h1m0.5 0h1m56 0h1m7.5 0h1m3.5 0h1m-0.5 0h1m6.5 0h1m-0.5 0h1m5.5 0h1m10 0h1m0.5 0h1m1 0h1m80.5 0h1m38 0h1m4 0h1m-397.5 0.5h1m1 0h1m8 0h1m97 0h1m9.5 0h1m0 0h1m45 0h1m1 0h1m3.5 0h1m-0.5 0h1m70.5 0h1m0 0h1m-0.5 0h1m-0.5 0h1m4.5 0h1m3 0h1m0 0h1m0 0h1m2.5 0h1m3 0h1m3 0h1m0.5 0h1m0.5 0h1m-0.5 0h1m4 0h1m82 0h1m2.5 0h1m4.5 0h1m0.5 0h1m-270.5 0.5h1m16.5 0h1m2 0h1m5.5 0h1m106 0h1m2.5 0h1m0 0h1m0 0h1m-0.5 0h1m2 0h1m2 0h1m2.5 0h1m0.5 0h1m-0.5 0h1m2 0h1m2 0h1m-0.5 0h1m0 0h1m0 0h1m2.5 0h1m98 0h1m4 0h1m1 0h1m28 0h1m-263.5 0.5h1m15 0h1m86.5 0h1m3 0h1m0 0h1m1 0h1m1 0h1m-0.5 0h1m2 0h1m0.5 0h1m0 0h1m-0.5 0h1m4.5 0h1m3.5 0h1m3.5 0h1m2 0h1m77 0h1m7 0h1m1.5 0h1m3 0h1m7 0h1m12 0h1m-407 0.5h1m3 0h1m8.5 0h1m44.5 0h1m69.5 0h1m2 0h1m17.5 0h1m-0.5 0h1m10.5 0h1m89 0h1m-0.5 0h1m10.5 0h1m1 0h1m0 0h1m1 0h1m0.5 0h1m2 0h1m0.5 0h1m5.5 0h1m1 0h1m1 0h1m2 0h1m1 0h1m1 0h1m6 0h1m6.5 0h1m65 0h1m1 0h1m7 0h1m6 0h1m3.5 0h1m3.5 0h1m41.5 0h1m-440 0.5h1m4.5 0h1m-0.5 0h1m-0.5 0h1m121.5 0h1m1 0h1m21 0h1m29 0h1m17 0h1m41 0h1m3.5 0h1m0.5 0h1m6.5 0h1m3 0h1m3 0h1m1.5 0h1m-0.5 0h1m1 0h1m5.5 0h1m-0.5 0h1m0.5 0h1m1 0h1m1.5 0h1m91.5 0h1m6 0h1m2.5 0h1m3.5 0h1m22.5 0h1m-357 0.5h1m70 0h1m3 0h1m0 0h1m-0.5 0h1m1 0h1m-0.5 0h1m43.5 0h1m10.5 0h1m48.5 0h1m0 0h1m1 0h1m10 0h1m1.5 0h1m0.5 0h1m3 0h1m1 0h1m-0.5 0h1m0 0h1m-0.5 0h1m1 0h1m6.5 0h1m0 0h1m0 0h1m3 0h1m1 0h1m4 0h1m27 0h1m52 0h1m1 0h1m3.5 0h1m0.5 0h1m46 0h1m-424.5 0.5h1m4 0h1m110.5 0h1m5 0h1m5.5 0h1m3.5 0h1m0.5 0h1m11 0h1m9 0h1m12 0h1m13 0h1m0.5 0h1m58 0h1m2.5 0h1m9 0h1m0 0h1m0 0h1m1.5 0h1m1 0h1m0 0h1m-0.5 0h1m1 0h1m7.5 0h1m-0.5 0h1m0 0h1m10 0h1m15.5 0h1m67.5 0h1m3 0h1m4 0h1m-381.5 0.5h1m2.5 0h1m12.5 0h1m98 0h1m11 0h1m3.5 0h1m0 0h1m5 0h1m34 0h1m-0.5 0h1m71 0h1m2.5 0h1m0 0h1m-0.5 0h1m4 0h1m0 0h1m3 0h1m3 0h1m-0.5 0h1m-0.5 0h1m1.5 0h1m2 0h1m0.5 0h1m4 0h1m2 0h1m84.5 0h1m1.5 0h1m2.5 0h1m0 0h1m0 0h1m0.5 0h1m1 0h1m0 0h1m0 0h1m9.5 0h1m31.5 0h1m-422 0.5h1m4.5 0h1m111 0h1m7.5 0h1m2.5 0h1m4 0h1m27 0h1m3.5 0h1m22.5 0h1m42.5 0h1m6 0h1m5.5 0h1m-0.5 0h1m1.5 0h1m2 0h1m0 0h1m1.5 0h1m-0.5 0h1m1.5 0h1m-0.5 0h1m6 0h1m2 0h1m-0.5 0h1m-0.5 0h1m0 0h1m5.5 0h1m5 0h1m72.5 0h1m0.5 0h1m0.5 0h1m3 0h1m18 0h1m28.5 0h1m-433 0.5h1m6.5 0h1m3.5 0h1m2 0h1m0.5 0h1m-0.5 0h1m10.5 0h1m111 0h1m0 0h1m2 0h1m1 0h1m3 0h1m4 0h1m10.5 0h1m7.5 0h1m0.5 0h1m18 0h1m-0.5 0h1m18 0h1m48 0h1m-0.5 0h1m0 0h1m-0.5 0h1m0.5 0h1m0.5 0h1m-0.5 0h1m0 0h1m0 0h1m0 0h1m1 0h1m-0.5 0h1m-0.5 0h1m0 0h1m0.5 0h1m-0.5 0h1m1.5 0h1m0 0h1m0.5 0h1m0 0h1m3.5 0h1m4.5 0h1m3 0h1m2 0h1m80.5 0h1m0 0h1m-0.5 0h1m0.5 0h1m1 0h1m-0.5 0h1m4 0h1m-0.5 0h1m-0.5 0h1m8 0h1m-397 0.5h1m3 0h1m-0.5 0h1m1 0h1m5 0h1m4 0h1m7.5 0h1m6.5 0h1m2 0h1m97.5 0h1m2 0h1m-0.5 0h1m2 0h1m-0.5 0h1m6.5 0h1m44 0h1m5.5 0h1m50.5 0h1m4 0h1m1 0h1m0 0h1m-0.5 0h1m1.5 0h1m-0.5 0h1m2 0h1m0 0h1m-0.5 0h1m0 0h1m0.5 0h1m0.5 0h1m1.5 0h1m0 0h1m3 0h1m0 0h1m1 0h1m0 0h1m2.5 0h1m1 0h1m19 0h1m59 0h1m4 0h1m1.5 0h1m2.5 0h1m2.5 0h1m15.5 0h1m10.5 0h1m30 0h1m-452 0.5h1m15.5 0h1m2.5 0h1m0.5 0h1m43 0h1m65 0h1m3 0h1m0 0h1m0.5 0h1m-0.5 0h1m0 0h1m21 0h1m0.5 0h1m3.5 0h1m2 0h1m12 0h1m-0.5 0h1m67.5 0h1m4.5 0h1m4 0h1m-0.5 0h1m-0.5 0h1m-0.5 0h1m-0.5 0h1m2 0h1m0 0h1m0 0h1m0 0h1m0 0h1m-0.5 0h1m-0.5 0h1m-0.5 0h1m0 0h1m0.5 0h1m0 0h1m0.5 0h1m-0.5 0h1m0.5 0h1m1.5 0h1m1 0h1m1 0h1m3 0h1m0.5 0h1m0.5 0h1m0 0h1m4 0h1m9 0h1m4 0h1m62 0h1m7.5 0h1m0.5 0h1m2.5 0h1m0 0h1m0.5 0h1m2 0h1m7.5 0h1m26 0h1m-428.5 0.5h1m10.5 0h1m-0.5 0h1m-0.5 0h1m3.5 0h1m2 0h1m1 0h1m2 0h1m110 0h1m-0.5 0h1m1.5 0h1m5 0h1m20 0h1m0.5 0h1m89.5 0h1m3.5 0h1m0 0h1m1 0h1m3 0h1m0.5 0h1m0 0h1m3.5 0h1m1.5 0h1m1 0h1m0 0h1m-0.5 0h1m7 0h1m7.5 0h1m9 0h1m7.5 0h1m7.5 0h1m53.5 0h1m0 0h1m0 0h1m0.5 0h1m2.5 0h1m0.5 0h1m-0.5 0h1m2 0h1m7.5 0h1m26.5 0h1m-433 0.5h1m6.5 0h1m8 0h1m0 0h1m0 0h1m2 0h1m1.5 0h1m1.5 0h1m100 0h1m8 0h1m0.5 0h1m4 0h1m3 0h1m1 0h1m9 0h1m3.5 0h1m19 0h1m3 0h1m0 0h1m10.5 0h1m50 0h1m3.5 0h1m2 0h1m2.5 0h1m4.5 0h1m-0.5 0h1m-0.5 0h1m0 0h1m1.5 0h1m1 0h1m-0.5 0h1m0.5 0h1m-0.5 0h1m2 0h1m-0.5 0h1m-0.5 0h1m1 0h1m9 0h1m-0.5 0h1m81 0h1m4 0h1m1 0h1m-0.5 0h1m2.5 0h1m0 0h1m-0.5 0h1m0.5 0h1m-0.5 0h1m0.5 0h1m2.5 0h1m0 0h1m4.5 0h1m7 0h1m-394.5 0.5h1m7 0h1m46 0h1m65.5 0h1m0 0h1m8.5 0h1m8 0h1m-0.5 0h1m2.5 0h1m17.5 0h1m80 0h1m3 0h1m1.5 0h1m1 0h1m-0.5 0h1m0.5 0h1m0 0h1m0.5 0h1m1.5 0h1m3 0h1m5 0h1m3.5 0h1m0 0h1m0.5 0h1m0 0h1m21 0h1m64 0h1m1 0h1m3.5 0h1m-0.5 0h1m1 0h1m3 0h1m-0.5 0h1m1 0h1m2 0h1m1 0h1m42.5 0h1m-444 0.5h1m8.5 0h1m5 0h1m-0.5 0h1m0 0h1m3 0h1m0.5 0h1m4 0h1m18 0h1m-0.5 0h1m73.5 0h1m6 0h1m9.5 0h1m5 0h1m1.5 0h1m0.5 0h1m3.5 0h1m6.5 0h1m5.5 0h1m12.5 0h1m3 0h1m15.5 0h1m55 0h1m2 0h1m3 0h1m0.5 0h1m0.5 0h1m2.5 0h1m-0.5 0h1m-0.5 0h1m1 0h1m-0.5 0h1m0.5 0h1m0 0h1m1 0h1m0.5 0h1m1.5 0h1m0 0h1m0.5 0h1m0 0h1m2 0h1m0.5 0h1m90 0h1m0 0h1m0.5 0h1m0.5 0h1m0 0h1m0 0h1m-0.5 0h1m-0.5 0h1m-0.5 0h1m6.5 0h1m-0.5 0h1m-390.5 0.5h1m0 0h1m-0.5 0h1m1 0h1m-0.5 0h1m1 0h1m1 0h1m4.5 0h1m12.5 0h1m18 0h1m10.5 0h1m54.5 0h1m6 0h1m1.5 0h1m1.5 0h1m0.5 0h1m-0.5 0h1m0 0h1m0.5 0h1m-0.5 0h1m0 0h1m-0.5 0h1m-0.5 0h1m-0.5 0h1m3.5 0h1m6.5 0h1m2.5 0h1m16.5 0h1m5 0h1m26.5 0h1m41.5 0h1m4.5 0h1m2 0h1m1 0h1m-0.5 0h1m0 0h1m1.5 0h1m0.5 0h1m2 0h1m2 0h1m5 0h1m-0.5 0h1m2 0h1m-0.5 0h1m-0.5 0h1m0 0h1m1.5 0h1m-0.5 0h1m0 0h1m-0.5 0h1m3 0h1m4 0h1m0.5 0h1m10.5 0h1m62.5 0h1m2.5 0h1m2 0h1m0 0h1m0 0h1m-0.5 0h1m0 0h1m1.5 0h1m0.5 0h1m1 0h1m1.5 0h1m-0.5 0h1m0 0h1m0 0h1m-0.5 0h1m1 0h1m0.5 0h1m3 0h1m18 0h1m-414 0.5h1m-0.5 0h1m5 0h1m1 0h1m2 0h1m1.5 0h1m0.5 0h1m0.5 0h1m23.5 0h1m13.5 0h1m65 0h1m1 0h1m4 0h1m-0.5 0h1m1.5 0h1m0 0h1m4.5 0h1m2 0h1m16.5 0h1m1 0h1m16 0h1m2 0h1m3 0h1m65 0h1m3 0h1m1.5 0h1m0.5 0h1m3 0h1m0 0h1m0.5 0h1m2.5 0h1m1.5 0h1m1 0h1m1 0h1m0 0h1m0.5 0h1m-0.5 0h1m-0.5 0h1m3 0h1m15.5 0h1m1.5 0h1m71 0h1m-0.5 0h1m1 0h1m1 0h1m-0.5 0h1m0 0h1m0.5 0h1m0.5 0h1m0 0h1m4.5 0h1m34 0h1m-436.5 0.5h1m9.5 0h1m-0.5 0h1m1.5 0h1m0 0h1m-0.5 0h1m1 0h1m3 0h1m-0.5 0h1m0.5 0h1m22 0h1m77.5 0h1m8.5 0h1m5.5 0h1m0 0h1m-0.5 0h1m-0.5 0h1m10 0h1m0 0h1m42 0h1m60.5 0h1m0 0h1m-0.5 0h1m1.5 0h1m-0.5 0h1m-0.5 0h1m-0.5 0h1m0 0h1m-0.5 0h1m0 0h1m0.5 0h1m0.5 0h1m0.5 0h1m0.5 0h1m0 0h1m1.5 0h1m-0.5 0h1m0 0h1m-0.5 0h1m-0.5 0h1m0 0h1m3.5 0h1m-0.5 0h1m0.5 0h1m0.5 0h1m-0.5 0h1m1 0h1m1 0h1m3 0h1m25 0h1m52 0h1m-0.5 0h1m5.5 0h1m1 0h1m0 0h1m1.5 0h1m0 0h1m3 0h1m0 0h1m2 0h1m1.5 0h1m3.5 0h1m2.5 0h1m-408 0.5h1m2 0h1m2.5 0h1m1 0h1m1 0h1m0 0h1m-0.5 0h1m0 0h1m1 0h1m-0.5 0h1m1 0h1m0.5 0h1m0.5 0h1m-0.5 0h1m0.5 0h1m-0.5 0h1m11 0h1m3.5 0h1m12 0h1m74.5 0h1m-0.5 0h1m9 0h1m3.5 0h1m-0.5 0h1m0.5 0h1m-0.5 0h1m0 0h1m11.5 0h1m2 0h1m11 0h1m5 0h1m15 0h1m65 0h1m1.5 0h1m0.5 0h1m-0.5 0h1m-0.5 0h1m1 0h1m-0.5 0h1m0 0h1m0.5 0h1m-0.5 0h1m0.5 0h1m0.5 0h1m1 0h1m0.5 0h1m0.5 0h1m-0.5 0h1m0.5 0h1m0 0h1m0.5 0h1m2 0h1m-0.5 0h1m1 0h1m1 0h1m-0.5 0h1m0 0h1m-0.5 0h1m6 0h1m1 0h1m75.5 0h1m7 0h1m-0.5 0h1m1.5 0h1m0 0h1m1.5 0h1m2 0h1m-391 0.5h1m2.5 0h1m0 0h1m0 0h1m2 0h1m-0.5 0h1m0 0h1m2 0h1m4 0h1m13.5 0h1m90 0h1m2 0h1m-0.5 0h1m-0.5 0h1m0.5 0h1m-0.5 0h1m0.5 0h1m2.5 0h1m1 0h1m1 0h1m1 0h1m3 0h1m3 0h1m9.5 0h1m17 0h1m10.5 0h1m54 0h1m8 0h1m0 0h1m8 0h1m0 0h1m0 0h1m1 0h1m1.5 0h1m3 0h1m1.5 0h1m-0.5 0h1m0.5 0h1m-0.5 0h1m0.5 0h1m-0.5 0h1m15.5 0h1m-0.5 0h1m0 0h1m3 0h1m69.5 0h1m1.5 0h1m-0.5 0h1m0.5 0h1m2 0h1m-0.5 0h1m-0.5 0h1m-0.5 0h1m-0.5 0h1m-0.5 0h1m-0.5 0h1m-0.5 0h1m1 0h1m3.5 0h1m1 0h1m3.5 0h1m26.5 0h1m-432.5 0.5h1m-0.5 0h1m5.5 0h1m2 0h1m-0.5 0h1m1.5 0h1m0 0h1m0 0h1m0.5 0h1m0 0h1m0 0h1m0 0h1m0.5 0h1m0.5 0h1m13.5 0h1m5.5 0h1m9 0h1m11.5 0h1m68.5 0h1m4 0h1m1.5 0h1m-0.5 0h1m1.5 0h1m-0.5 0h1m1 0h1m3 0h1m14.5 0h1m13 0h1m2 0h1m8.5 0h1m65.5 0h1m1 0h1m4.5 0h1m-0.5 0h1m3 0h1m-0.5 0h1m0 0h1m2.5 0h1m0.5 0h1m-0.5 0h1m0.5 0h1m0.5 0h1m2.5 0h1m5 0h1m-0.5 0h1m18.5 0h1m4.5 0h1m5 0h1m51 0h1m4.5 0h1m2 0h1m3.5 0h1m-0.5 0h1m1 0h1m0 0h1m4 0h1m23 0h1m9 0h1m12 0h1m-437 0.5h1m-0.5 0h1m0 0h1m-0.5 0h1m1.5 0h1m3 0h1m2.5 0h1m0.5 0h1m-0.5 0h1m0.5 0h1m4.5 0h1m104.5 0h1m0.5 0h1m1.5 0h1m1.5 0h1m0 0h1m1.5 0h1m1 0h1m-0.5 0h1m0 0h1m4 0h1m9 0h1m25 0h1m6.5 0h1m65 0h1m-0.5 0h1m-0.5 0h1m1.5 0h1m2.5 0h1m-0.5 0h1m0 0h1m1.5 0h1m-0.5 0h1m2.5 0h1m2 0h1m2.5 0h1m1.5 0h1m-0.5 0h1m-0.5 0h1m0.5 0h1m25 0h1m59 0h1m-0.5 0h1m2 0h1m0.5 0h1m2 0h1m-0.5 0h1m0 0h1m0.5 0h1m-0.5 0h1m-0.5 0h1m-0.5 0h1m-0.5 0h1m0 0h1m-0.5 0h1m-0.5 0h1m1 0h1m-0.5 0h1m-0.5 0h1m3.5 0h1m4.5 0h1m-394.5 0.5h1m-0.5 0h1m0 0h1m0 0h1m3.5 0h1m0 0h1m-0.5 0h1m0.5 0h1m-0.5 0h1m0 0h1m38 0h1m1 0h1m64.5 0h1m-0.5 0h1m5.5 0h1m2 0h1m3.5 0h1m1.5 0h1m0 0h1m4 0h1m0 0h1m6.5 0h1m0 0h1m0 0h1m6 0h1m5.5 0h1m8 0h1m5.5 0h1m10 0h1m50.5 0h1m7.5 0h1m0 0h1m4.5 0h1m1 0h1m1 0h1m0 0h1m-0.5 0h1m0.5 0h1m0.5 0h1m-0.5 0h1m1.5 0h1m0 0h1m1 0h1m1 0h1m0.5 0h1m4.5 0h1m-0.5 0h1m2.5 0h1m20.5 0h1m61 0h1m1 0h1m0 0h1m0 0h1m0 0h1m0 0h1m1.5 0h1m-0.5 0h1m0.5 0h1m-0.5 0h1m0 0h1m-0.5 0h1m3 0h1m2 0h1m4.5 0h1m0.5 0h1m14.5 0h1m0 0h1m5.5 0h1m-430 0.5h1m7.5 0h1m3.5 0h1m0 0h1m2.5 0h1m5.5 0h1m3 0h1m0 0h1m6 0h1m4.5 0h1m10 0h1m1 0h1m3.5 0h1m17 0h1m53.5 0h1m1 0h1m0.5 0h1m2.5 0h1m3.5 0h1m0.5 0h1m-0.5 0h1m0 0h1m-0.5 0h1m0 0h1m1 0h1m1 0h1m6.5 0h1m-0.5 0h1m1 0h1m-0.5 0h1m4.5 0h1m7 0h1m0.5 0h1m0 0h1m6 0h1m13 0h1m0 0h1m57.5 0h1m6.5 0h1m0 0h1m-0.5 0h1m1.5 0h1m0.5 0h1m-0.5 0h1m1 0h1m2.5 0h1m0 0h1m-0.5 0h1m-0.5 0h1m-0.5 0h1m8 0h1m5.5 0h1m5.5 0h1m72.5 0h1m1.5 0h1m3.5 0h1m3 0h1m-0.5 0h1m0 0h1m0.5 0h1m0.5 0h1m1 0h1m0 0h1m3.5 0h1m1.5 0h1m0 0h1m3.5 0h1m34.5 0h1m-443 0.5h1m3.5 0h1m7 0h1m0 0h1m1 0h1m0 0h1m-0.5 0h1m3 0h1m0 0h1m5.5 0h1m33 0h1m65.5 0h1m4.5 0h1m5 0h1m0 0h1m0.5 0h1m1 0h1m2 0h1m0 0h1m1 0h1m23 0h1m1 0h1m10.5 0h1m66.5 0h1m-0.5 0h1m4.5 0h1m2 0h1m1.5 0h1m-0.5 0h1m5 0h1m0 0h1m1 0h1m-0.5 0h1m0 0h1m-0.5 0h1m2.5 0h1m-0.5 0h1m1 0h1m2.5 0h1m-0.5 0h1m5 0h1m2 0h1m80 0h1m1 0h1m2 0h1m2 0h1m-0.5 0h1m0.5 0h1m0 0h1m0 0h1m-0.5 0h1m1 0h1m-0.5 0h1m1.5 0h1m7.5 0h1m9.5 0h1m30.5 0h1m-448 0.5h1m-0.5 0h1m5 0h1m1 0h1m0.5 0h1m0.5 0h1m-0.5 0h1m-0.5 0h1m1 0h1m-0.5 0h1m0.5 0h1m0 0h1m-0.5 0h1m2 0h1m-0.5 0h1m2 0h1m1.5 0h1m6.5 0h1m17.5 0h1m4.5 0h1m15 0h1m51.5 0h1m3 0h1m1 0h1m-0.5 0h1m0.5 0h1m0 0h1m5 0h1m-0.5 0h1m-0.5 0h1m0 0h1m0.5 0h1m-0.5 0h1m-0.5 0h1m0 0h1m0.5 0h1m0 0h1m21.5 0h1m1 0h1m5 0h1m7 0h1m63 0h1m8 0h1m0 0h1m-0.5 0h1m1 0h1m1.5 0h1m1.5 0h1m0 0h1m-0.5 0h1m3 0h1m-0.5 0h1m0 0h1m0 0h1m0 0h1m-0.5 0h1m2 0h1m0 0h1m5 0h1m0.5 0h1m1.5 0h1m84 0h1m2.5 0h1m1 0h1m-0.5 0h1m1.5 0h1m-0.5 0h1m0 0h1m-0.5 0h1m4 0h1m1 0h1m-0.5 0h1m-0.5 0h1m2 0h1m6.5 0h1m-408 0.5h1m1 0h1m2.5 0h1m-0.5 0h1m2 0h1m-0.5 0h1m0 0h1m-0.5 0h1m0 0h1m0 0h1m0 0h1m0.5 0h1m-0.5 0h1m0.5 0h1m1 0h1m-0.5 0h1m-0.5 0h1m1 0h1m0 0h1m1.5 0h1m2 0h1m3 0h1m2.5 0h1m86.5 0h1m-0.5 0h1m1.5 0h1m0 0h1m1 0h1m1.5 0h1m1 0h1m1 0h1m2 0h1m0.5 0h1m-0.5 0h1m2.5 0h1m1 0h1m0.5 0h1m1.5 0h1m5.5 0h1m-0.5 0h1m9.5 0h1m7 0h1m3.5 0h1m6.5 0h1m1.5 0h1m2 0h1m2.5 0h1m60.5 0h1m-0.5 0h1m1 0h1m1 0h1m4.5 0h1m0 0h1m0 0h1m1 0h1m0.5 0h1m1.5 0h1m-0.5 0h1m0.5 0h1m-0.5 0h1m5 0h1m1.5 0h1m0 0h1m-0.5 0h1m4 0h1m0 0h1m6 0h1m2.5 0h1m10 0h1m0 0h1m2.5 0h1m58 0h1m1 0h1m1 0h1m0.5 0h1m-0.5 0h1m0 0h1m2 0h1m-0.5 0h1m-0.5 0h1m0.5 0h1m-0.5 0h1m1.5 0h1m2.5 0h1m10.5 0h1m2 0h1m26 0h1m-436 0.5h1m-0.5 0h1m2.5 0h1m0 0h1m-0.5 0h1m0 0h1m1 0h1m0 0h1m0 0h1m0 0h1m-0.5 0h1m-0.5 0h1m1 0h1m-0.5 0h1m4.5 0h1m97 0h1m3.5 0h1m2.5 0h1m3.5 0h1m-0.5 0h1m3.5 0h1m3.5 0h1m-0.5 0h1m9 0h1m17 0h1m3.5 0h1m10.5 0h1m68.5 0h1m7.5 0h1m1 0h1m0 0h1m0.5 0h1m0 0h1m-0.5 0h1m0 0h1m1.5 0h1m0 0h1m2 0h1m2 0h1m4.5 0h1m0 0h1m5 0h1m15 0h1m61.5 0h1m3.5 0h1m3.5 0h1m1 0h1m-0.5 0h1m1 0h1m-0.5 0h1m0.5 0h1m-0.5 0h1m3.5 0h1m3 0h1m1 0h1m2 0h1m0.5 0h1m6 0h1m13.5 0h1m-426.5 0.5h1m1.5 0h1m0.5 0h1m-0.5 0h1m4.5 0h1m-0.5 0h1m-0.5 0h1m0 0h1m-0.5 0h1m0 0h1m0 0h1m0.5 0h1m1 0h1m0 0h1m2 0h1m10 0h1m0 0h1m10 0h1m6 0h1m67.5 0h1m6.5 0h1m3 0h1m1.5 0h1m-0.5 0h1m1 0h1m-0.5 0h1m1 0h1m3 0h1m32.5 0h1m9 0h1m67 0h1m6.5 0h1m0 0h1m-0.5 0h1m0.5 0h1m1.5 0h1m-0.5 0h1m-0.5 0h1m0.5 0h1m2 0h1m-0.5 0h1m1.5 0h1m2.5 0h1m-0.5 0h1m-0.5 0h1m0 0h1m0 0h1m1 0h1m0 0h1m0.5 0h1m-0.5 0h1m0 0h1m1.5 0h1m10 0h1m74 0h1m1 0h1m0.5 0h1m-0.5 0h1m1 0h1m0 0h1m0.5 0h1m-0.5 0h1m-0.5 0h1m0 0h1m-0.5 0h1m0 0h1m1 0h1m4.5 0h1m-398 0.5h1m1.5 0h1m2 0h1m3 0h1m-0.5 0h1m0 0h1m-0.5 0h1m-0.5 0h1m-0.5 0h1m-0.5 0h1m1 0h1m-0.5 0h1m0 0h1m0.5 0h1m-0.5 0h1m2 0h1m0.5 0h1m1.5 0h1m25 0h1m77 0h1m2 0h1m6 0h1m2.5 0h1m0.5 0h1m3 0h1m0 0h1m6.5 0h1m13 0h1m78 0h1m2 0h1m4 0h1m1.5 0h1m-0.5 0h1m-0.5 0h1m11 0h1m-0.5 0h1m1.5 0h1m-0.5 0h1m0 0h1m-0.5 0h1m3 0h1m2 0h1m-0.5 0h1m3 0h1m85 0h1m-0.5 0h1m0 0h1m0 0h1m-0.5 0h1m0 0h1m-0.5 0h1m0 0h1m0 0h1m0.5 0h1m0 0h1m1 0h1m-0.5 0h1m0 0h1m1 0h1m1.5 0h1m15.5 0h1m-0.5 0h1m-404.5 0.5h1m0 0h1m-0.5 0h1m0 0h1m-0.5 0h1m-0.5 0h1m-0.5 0h1m0 0h1m0.5 0h1m-0.5 0h1m1.5 0h1m1 0h1m-0.5 0h1m-0.5 0h1m2 0h1m6 0h1m3.5 0h1m5 0h1m22 0h1m64.5 0h1m0 0h1m4 0h1m2 0h1m0 0h1m1.5 0h1m1.5 0h1m8.5 0h1m0 0h1m1 0h1m-0.5 0h1m22 0h1m16 0h1m4.5 0h1m63 0h1m0.5 0h1m0 0h1m4.5 0h1m0 0h1m0 0h1m7.5 0h1m1.5 0h1m1.5 0h1m-0.5 0h1m4 0h1m0 0h1m1 0h1m4 0h1m11.5 0h1m55.5 0h1m0 0h1m3.5 0h1m1 0h1m0 0h1m1.5 0h1m-0.5 0h1m0.5 0h1m3 0h1m2 0h1m6 0h1m0 0h1m-405 0.5h1m0 0h1m7 0h1m1 0h1m2 0h1m1 0h1m1.5 0h1m2 0h1m0 0h1m0 0h1m-0.5 0h1m-0.5 0h1m0 0h1m1 0h1m12 0h1m8.5 0h1m11 0h1m71 0h1m3.5 0h1m1 0h1m-0.5 0h1m3.5 0h1m0.5 0h1m1.5 0h1m-0.5 0h1m4.5 0h1m-0.5 0h1m5 0h1m0 0h1m0 0h1m2 0h1m1 0h1m2.5 0h1m-0.5 0h1m10.5 0h1m10.5 0h1m68 0h1m0.5 0h1m0 0h1m1.5 0h1m1.5 0h1m0.5 0h1m0 0h1m1 0h1m-0.5 0h1m2 0h1m2.5 0h1m7 0h1m1.5 0h1m12 0h1m8 0h1m66 0h1m2 0h1m0 0h1m-0.5 0h1m1.5 0h1m-0.5 0h1m0 0h1m-0.5 0h1m0 0h1m-0.5 0h1m-0.5 0h1m2.5 0h1m1 0h1m0.5 0h1m-395.5 0.5h1m2 0h1m-0.5 0h1m1 0h1m-0.5 0h1m1.5 0h1m-0.5 0h1m0 0h1m0 0h1m-0.5 0h1m-0.5 0h1m-0.5 0h1m2.5 0h1m0 0h1m-0.5 0h1m5.5 0h1m24.5 0h1m6 0h1m60.5 0h1m5.5 0h1m4.5 0h1m0.5 0h1m0.5 0h1m-0.5 0h1m-0.5 0h1m1 0h1m-0.5 0h1m3.5 0h1m2 0h1m1 0h1m0.5 0h1m1 0h1m4 0h1m11.5 0h1m8.5 0h1m5.5 0h1m1 0h1m75 0h1m2 0h1m-0.5 0h1m0.5 0h1m1.5 0h1m1 0h1m7 0h1m4 0h1m3 0h1m1 0h1m0.5 0h1m17.5 0h1m62.5 0h1m0.5 0h1m2 0h1m2 0h1m0.5 0h1m-0.5 0h1m-0.5 0h1m1.5 0h1m1 0h1m2.5 0h1m7 0h1m-398.5 0.5h1m0 0h1m0 0h1m1 0h1m0.5 0h1m1.5 0h1m-0.5 0h1m-0.5 0h1m0 0h1m0 0h1m0 0h1m2 0h1m19 0h1m81 0h1m9.5 0h1m2 0h1m1.5 0h1m-0.5 0h1m0.5 0h1m-0.5 0h1m0 0h1m3 0h1m3 0h1m3.5 0h1m2 0h1m2.5 0h1m16.5 0h1m5.5 0h1m-0.5 0h1m68.5 0h1m0.5 0h1m2 0h1m0 0h1m1.5 0h1m3 0h1m4 0h1m5 0h1m0 0h1m4.5 0h1m3 0h1m-0.5 0h1m0.5 0h1m83.5 0h1m5 0h1m-0.5 0h1m1 0h1m3.5 0h1m1.5 0h1m3.5 0h1m0 0h1m6.5 0h1m-401.5 0.5h1m7 0h1m0.5 0h1m-0.5 0h1m-0.5 0h1m-0.5 0h1m0 0h1m0.5 0h1m-0.5 0h1m1 0h1m-0.5 0h1m1.5 0h1m0 0h1m0 0h1m8.5 0h1m8.5 0h1m94 0h1m-0.5 0h1m0 0h1m0 0h1m-0.5 0h1m0.5 0h1m0.5 0h1m7 0h1m0.5 0h1m1 0h1m6 0h1m94 0h1m6.5 0h1m2 0h1m6 0h1m6 0h1m0.5 0h1m1.5 0h1m0 0h1m3 0h1m11.5 0h1m68.5 0h1m3 0h1m-0.5 0h1m1.5 0h1m-0.5 0h1m0.5 0h1m0.5 0h1m3.5 0h1m0 0h1m0 0h1m1.5 0h1m0.5 0h1m1 0h1m-0.5 0h1m1 0h1m0 0h1m5 0h1m22.5 0h1m-432 0.5h1m6 0h1m1.5 0h1m-0.5 0h1m-0.5 0h1m-0.5 0h1m-0.5 0h1m-0.5 0h1m2 0h1m-0.5 0h1m1 0h1m0 0h1m-0.5 0h1m2 0h1m-0.5 0h1m3.5 0h1m0.5 0h1m21.5 0h1m72.5 0h1m8 0h1m0 0h1m3 0h1m1.5 0h1m2 0h1m2.5 0h1m-0.5 0h1m0.5 0h1m-0.5 0h1m2.5 0h1m17.5 0h1m12.5 0h1m3 0h1m63.5 0h1m9.5 0h1m8.5 0h1m2 0h1m1.5 0h1m5.5 0h1m97 0h1m1 0h1m-0.5 0h1m-0.5 0h1m-0.5 0h1m4 0h1m5.5 0h1m3 0h1m0 0h1m14 0h1m9 0h1m-418.5 0.5h1m0 0h1m-0.5 0h1m0.5 0h1m-0.5 0h1m0 0h1m1 0h1m0 0h1m0.5 0h1m-0.5 0h1m0 0h1m0.5 0h1m-0.5 0h1m14.5 0h1m30 0h1m52.5 0h1m5.5 0h1m4.5 0h1m2.5 0h1m0 0h1m0.5 0h1m1.5 0h1m0 0h1m3 0h1m1.5 0h1m2 0h1m1.5 0h1m4.5 0h1m4.5 0h1m82 0h1m19 0h1m0 0h1m3.5 0h1m99.5 0h1m2 0h1m3 0h1m0 0h1m-0.5 0h1m-0.5 0h1m0 0h1m0 0h1m1.5 0h1m-0.5 0h1m1 0h1m6 0h1m1.5 0h1m-399 0.5h1m0.5 0h1m2 0h1m3 0h1m-0.5 0h1m-0.5 0h1m0.5 0h1m-0.5 0h1m2 0h1m0.5 0h1m0.5 0h1m9 0h1m37 0h1m53 0h1m0.5 0h1m1.5 0h1m1 0h1m2 0h1m2 0h1m1.5 0h1m-0.5 0h1m0 0h1m0.5 0h1m-0.5 0h1m1 0h1m-0.5 0h1m-0.5 0h1m-0.5 0h1m0 0h1m7 0h1m26 0h1m80 0h1m1.5 0h1m18 0h1m2 0h1m2.5 0h1m5.5 0h1m85 0h1m3 0h1m2 0h1m0.5 0h1m-0.5 0h1m1.5 0h1m35 0h1m-433 0.5h1m11.5 0h1m0 0h1m0.5 0h1m2 0h1m-0.5 0h1m1.5 0h1m2 0h1m1.5 0h1m22 0h1m9.5 0h1m9 0h1m66 0h1m1.5 0h1m1 0h1m0 0h1m2 0h1m0 0h1m2 0h1m-0.5 0h1m102 0h1m10.5 0h1m0 0h1m19 0h1m3 0h1m-0.5 0h1m89.5 0h1m2 0h1m0.5 0h1m0 0h1m4.5 0h1m0 0h1m3 0h1m4.5 0h1m-390.5 0.5h1m2.5 0h1m1.5 0h1m0.5 0h1m-0.5 0h1m1 0h1m-0.5 0h1m-0.5 0h1m0 0h1m0.5 0h1m98.5 0h1m4.5 0h1m3 0h1m1 0h1m1 0h1m0 0h1m0.5 0h1m2 0h1m0 0h1m1.5 0h1m2 0h1m-0.5 0h1m-0.5 0h1m0.5 0h1m-0.5 0h1m-0.5 0h1m5 0h1m3 0h1m26.5 0h1m68 0h1m1.5 0h1m1.5 0h1m6.5 0h1m11 0h1m7 0h1m6 0h1m79 0h1m0 0h1m4.5 0h1m0.5 0h1m1 0h1m0 0h1m0.5 0h1m1.5 0h1m1.5 0h1m5.5 0h1m4 0h1m1 0h1m-405.5 0.5h1m3 0h1m2.5 0h1m0.5 0h1m0.5 0h1m0 0h1m-0.5 0h1m0 0h1m-0.5 0h1m3 0h1m0 0h1m27 0h1m10 0h1m1.5 0h1m61 0h1m2 0h1m0.5 0h1m3 0h1m-0.5 0h1m0.5 0h1m2 0h1m0.5 0h1m11 0h1m0 0h1m6 0h1m-0.5 0h1m98 0h1m4 0h1m2 0h1m4 0h1m1 0h1m5.5 0h1m0.5 0h1m89.5 0h1m5.5 0h1m1 0h1m1 0h1m0 0h1m2 0h1m1 0h1m0.5 0h1m-386.5 0.5h1m1.5 0h1m1 0h1m-0.5 0h1m-0.5 0h1m-0.5 0h1m0.5 0h1m-0.5 0h1m4 0h1m-0.5 0h1m-0.5 0h1m0 0h1m4 0h1m-0.5 0h1m4.5 0h1m3 0h1m14.5 0h1m69.5 0h1m2 0h1m4 0h1m3.5 0h1m6 0h1m-0.5 0h1m9 0h1m38.5 0h1m68.5 0h1m0.5 0h1m1.5 0h1m1 0h1m-0.5 0h1m3.5 0h1m20 0h1m0.5 0h1m83.5 0h1m0 0h1m2.5 0h1m3.5 0h1m6 0h1m6.5 0h1m3 0h1m-401 0.5h1m-0.5 0h1m2 0h1m0 0h1m-0.5 0h1m0.5 0h1m-0.5 0h1m-0.5 0h1m1.5 0h1m-0.5 0h1m-0.5 0h1m48.5 0h1m60.5 0h1m-0.5 0h1m12.5 0h1m3.5 0h1m15 0h1m17.5 0h1m2 0h1m-0.5 0h1m1.5 0h1m73 0h1m3.5 0h1m1.5 0h1m2 0h1m22 0h1m81.5 0h1m5 0h1m8.5 0h1m0.5 0h1m4 0h1m1.5 0h1m10 0h1m12.5 0h1m-423.5 0.5h1m-0.5 0h1m1 0h1m-0.5 0h1m1 0h1m-0.5 0h1m8.5 0h1m0.5 0h1m1.5 0h1m32.5 0h1m78 0h1m4 0h1m1.5 0h1m1 0h1m3.5 0h1m-0.5 0h1m22.5 0h1m16 0h1m2.5 0h1m61.5 0h1m12 0h1m-0.5 0h1m6.5 0h1m36.5 0h1m66.5 0h1m6 0h1m2.5 0h1m7.5 0h1m-404.5 0.5h1m7.5 0h1m-0.5 0h1m3.5 0h1m4.5 0h1m-0.5 0h1m0.5 0h1m41.5 0h1m60 0h1m6 0h1m1 0h1m3.5 0h1m1.5 0h1m-0.5 0h1m0 0h1m0 0h1m0.5 0h1m-0.5 0h1m1.5 0h1m0.5 0h1m3.5 0h1m27.5 0h1m10.5 0h1m74 0h1m13.5 0h1m11 0h1m12.5 0h1m76.5 0h1m8 0h1m4.5 0h1m-391 0.5h1m0 0h1m0.5 0h1m-0.5 0h1m0 0h1m-0.5 0h1m-0.5 0h1m5 0h1m1 0h1m33 0h1m75.5 0h1m1 0h1m-0.5 0h1m3 0h1m26 0h1m3 0h1m23.5 0h1m57 0h1m19.5 0h1m9 0h1m17 0h1m75.5 0h1m4.5 0h1m1.5 0h1m5.5 0h1m44.5 0h1m-434 0.5h1m-0.5 0h1m0.5 0h1m3 0h1m1.5 0h1m-0.5 0h1m5.5 0h1m1.5 0h1m23.5 0h1m1.5 0h1m80.5 0h1m2 0h1m8.5 0h1m2.5 0h1m0 0h1m-0.5 0h1m4 0h1m30 0h1m68 0h1m8 0h1m4 0h1m4.5 0h1m9.5 0h1m1 0h1m19 0h1m3 0h1m86.5 0h1m-0.5 0h1m-0.5 0h1m10.5 0h1m17.5 0h1m-431.5 0.5h1m0 0h1m14.5 0h1m-0.5 0h1m2 0h1m0.5 0h1m4 0h1m32 0h1m20 0h1m47 0h1m13.5 0h1m2.5 0h1m0.5 0h1m0.5 0h1m-0.5 0h1m19.5 0h1m1 0h1m16 0h1m1.5 0h1m61.5 0h1m7.5 0h1m28 0h1m6.5 0h1m88 0h1m2 0h1m49.5 0h1m-435.5 0.5h1m7 0h1m-0.5 0h1m0.5 0h1m-0.5 0h1m8.5 0h1m1 0h1m34.5 0h1m8 0h1m57.5 0h1m2 0h1m-0.5 0h1m3 0h1m0 0h1m0 0h1m3 0h1m9 0h1m8 0h1m-0.5 0h1m108 0h1m1.5 0h1m14 0h1m6 0h1m84 0h1m0 0h1m12.5 0h1m7.5 0h1m-398.5 0.5h1m0.5 0h1m2.5 0h1m-0.5 0h1m3.5 0h1m3.5 0h1m5 0h1m17.5 0h1m12 0h1m72.5 0h1m5 0h1m1 0h1m1 0h1m3.5 0h1m1 0h1m3 0h1m22.5 0h1m76 0h1m17.5 0h1m0.5 0h1m14 0h1m4.5 0h1m2 0h1m102 0h1m5.5 0h1m-398.5 0.5h1m19 0h1m16 0h1m85.5 0h1m7.5 0h1m4.5 0h1m1.5 0h1m-0.5 0h1m3 0h1m8 0h1m-0.5 0h1m101 0h1m29 0h1m85.5 0h1m30 0h1m-401.5 0.5h1m3 0h1m6 0h1m-0.5 0h1m113.5 0h1m0.5 0h1m3.5 0h1m-0.5 0h1m5.5 0h1m2.5 0h1m6.5 0h1m112.5 0h1m5.5 0h1m0 0h1m5.5 0h1m84.5 0h1m-359.5 0.5h1m3.5 0h1m14.5 0h1m103 0h1m162.5 0h1m78.5 0h1m6.5 0h1m-327 0.5h1m67 0h1m10 0h1m1.5 0h1m118 0h1m19 0h1m6.5 0h1m13.5 0h1m-300.5 0.5h1m4 0h1m0.5 0h1m122.5 0h1m11.5 0h1m131.5 0h1m17 0h1m117 0h1" stroke="#000" stroke-width="1.2" stroke-opacity="0.7" fill="none"/>
<path d="M244 251.5h1m-111 4h1m-41 1h1m89.5 0h1m-72 0.5h1m76.5 0.5h1m190.5 0h1m-184 1h1m-130 2h1m-26 0.5h1m21.5 0h1m366.5 0h1m-372.5 0.5h1m115.5 0h1m1 0h1m6.5 0h1m-81.5 0.5h1m60.5 0h1m2 0h1m-120.5 1h1m42.5 0h1m90 0h1m-129.5 0.5h1m10 0h1m34 0h1m90 0h1m0.5 0h1m-154.5 0.5h1m21 0h1m101.5 0h1m0 0h1m3.5 0h1m26 0h1m94.5 0h1m-235 0.5h1m113.5 0h1m138.5 0h1m-260.5 0.5h1m-14.5 0.5h1m2.5 0h1m15.5 0h1m105 0h1m10 0h1m-0.5 0h1m0 0h1m3 0h1m30.5 0h1m-166 0.5h1m8.5 0h1m116.5 0h1m3 0h1m11 0h1m35.5 0h1m-189 0.5h1m17 0h1m7 0h1m28.5 0h1m80.5 0h1m12.5 0h1m30.5 0h1m2.5 0h1m22.5 0h1m-210 0.5h1m7 0h1m3 0h1m18.5 0h1m101.5 0h1m3 0h1m0 0h1m0 0h1m38.5 0h1m205.5 0h1m3 0h1m4 0h1m-392.5 0.5h1m5.5 0h1m0 0h1m9 0h1m1.5 0h1m111.5 0h1m1.5 0h1m0.5 0h1m18.5 0h1m19 0h1m94.5 0h1m12 0h1m-278.5 0.5h1m1 0h1m121.5 0h1m4 0h1m12 0h1m5 0h1m3.5 0h1m10.5 0h1m32 0h1m-209 0.5h1m3 0h1m10 0h1m1 0h1m7 0h1m99.5 0h1m3.5 0h1m19 0h1m5 0h1m10.5 0h1m25 0h1m-194 0.5h1m132 0h1m15.5 0h1m4 0h1m36.5 0h1m2.5 0h1m89.5 0h1m91.5 0h1m3.5 0h1m-384 0.5h1m3 0h1m9 0h1m0.5 0h1m9.5 0h1m116.5 0h1m4.5 0h1m8.5 0h1m7 0h1m26 0h1m1 0h1m-0.5 0h1m-0.5 0h1m4.5 0h1m-77.5 0.5h1m14.5 0h1m53 0h1m3 0h1m175.5 0h1m5.5 0h1m-380 0.5h1m13.5 0h1m5.5 0h1m53.5 0h1m54 0h1m68.5 0h1m-0.5 0h1m48.5 0h1m11.5 0h1m25.5 0h1m82.5 0h1m27 0h1m-405 0.5h1m10.5 0h1m-0.5 0h1m13 0h1m3.5 0h1m93 0h1m22 0h1m35.5 0h1m0 0h1m5.5 0h1m0.5 0h1m2 0h1m7.5 0h1m47.5 0h1m30 0h1m28 0h1m69 0h1m-379 0.5h1m0.5 0h1m1.5 0h1m123.5 0h1m6 0h1m44.5 0h1m10 0h1m5 0h1m85.5 0h1m101.5 0h1m14 0h1m2.5 0h1m-411 0.5h1m2 0h1m0 0h1m9.5 0h1m0 0h1m7.5 0h1m108.5 0h1m4 0h1m34.5 0h1m6.5 0h1m10.5 0h1m0.5 0h1m11 0h1m1 0h1m63 0h1m12 0h1m109.5 0h1m6.5 0h1m-405 0.5h1m2.5 0h1m0 0h1m10.5 0h1m35.5 0h1m95.5 0h1m34.5 0h1m3.5 0h1m5 0h1m0 0h1m0 0h1m55.5 0h1m17 0h1m9 0h1m2.5 0h1m9.5 0h1m13.5 0h1m68 0h1m37 0h1m-414 0.5h1m4 0h1m9 0h1m9.5 0h1m10.5 0h1m105 0h1m29.5 0h1m8.5 0h1m4.5 0h1m2 0h1m76.5 0h1m5 0h1m4.5 0h1m93 0h1m1 0h1m-381.5 0.5h1m1.5 0h1m4.5 0h1m1.5 0h1m0 0h1m6 0h1m106 0h1m33.5 0h1m28 0h1m62 0h1m6 0h1m3 0h1m16 0h1m45.5 0h1m49.5 0h1m24 0h1m-391.5 0.5h1m120.5 0h1m2 0h1m4 0h1m7.5 0h1m22.5 0h1m17 0h1m3 0h1m2 0h1m63.5 0h1m0.5 0h1m8 0h1m31.5 0h1m7.5 0h1m2.5 0h1m57.5 0h1m-0.5 0h1m66 0h1m-428.5 0.5h1m116.5 0h1m58 0h1m3 0h1m59.5 0h1m4.5 0h1m39.5 0h1m27 0h1m2 0h1m44 0h1m4 0h1m24.5 0h1m-262 0.5h1m39 0h1m4.5 0h1m0.5 0h1m1.5 0h1m1.5 0h1m0.5 0h1m58.5 0h1m9 0h1m0.5 0h1m5 0h1m7.5 0h1m22.5 0h1m7 0h1m60 0h1m7 0h1m7 0h1m-144.5 0.5h1m0 0h1m34.5 0h1m14 0h1m14 0h1m7 0h1m11 0h1m42 0h1m-383 0.5h1m7 0h1m179.5 0h1m77.5 0h1m9.5 0h1m7 0h1m94 0h1m7.5 0h1m4 0h1m-0.5 0h1m6.5 0h1m6 0h1m-410 0.5h1m16 0h1m161.5 0h1m15 0h1m0.5 0h1m72 0h1m9 0h1m108 0h1m4.5 0h1m-361 0.5h1m153 0h1m7 0h1m2 0h1m52 0h1m5.5 0h1m33 0h1m85 0h1m7 0h1m-197 0.5h1m2.5 0h1m75 0h1m5.5 0h1m2.5 0h1m15 0h1m98.5 0h1m41 0h1m-438.5 0.5h1m75.5 0h1m123.5 0h1m80 0h1m-0.5 0h1m6.5 0h1m39.5 0h1m-332 0.5h1m5.5 0h1m60 0h1m90 0h1m93 0h1m22 0h1m12 0h1m91 0h1m24.5 0h1m-150 0.5h1m80.5 0h1m36 0h1m5 0h1m4 0h1m7.5 0h1m3.5 0h1m38 0h1m-245.5 0.5h1m57 0h1m10.5 0h1m-0.5 0h1m4.5 0h1m11 0h1m54.5 0h1m45.5 0h1m2.5 0h1m-0.5 0h1m52.5 0h1m-309 0.5h1m19 0h1m110 0h1m15 0h1m51 0h1m55.5 0h1m0 0h1m9.5 0h1m-339 0.5h1m19.5 0h1m169 0h1m2 0h1m20 0h1m26.5 0h1m20.5 0h1m56.5 0h1m5.5 0h1m5.5 0h1m6 0h1m-206 0.5h1m60 0h1m15 0h1m1 0h1m1.5 0h1m5 0h1m105.5 0h1m-323.5 0.5h1m198 0h1m2 0h1m53.5 0h1m4.5 0h1m1.5 0h1m50 0h1m1 0h1m51.5 0h1m-178.5 0.5h1m35 0h1m-112.5 0.5h1m85.5 0h1m-0.5 0h1m15 0h1m49 0h1m-191.5 0.5h1m156 0h1m11 0h1m65.5 0h1m-196.5 0.5h1m80.5 0h1m53.5 0h1m89 0h1m-163.5 0.5h1m28.5 0h1m43 0h1m16 0h1m58.5 0h1m32.5 0h1m10.5 0h1m-180 0.5h1m11.5 0h1m119.5 0h1m-67 0.5h1m39.5 0h1m-83 0.5h1m23.5 0h1m4 0h1m-165.5 0.5h1m25 0.5h1m7.5 0h1m87.5 0h1m40.5 0h1m-7.5 1h1m6.5 0h1m100 0h1m-147 0.5h1m-94 0.5h1m-10.5 0.5h1m13.5 0.5h1m112 0h1m3 0h1m-135 1h1m9 0h1m136 0h1m122.5 0h1m-293.5 0.5h1m52.5 0h1m79.5 0h1m-0.5 0h1m8.5 0h1m24 0h1m119.5 0h1m-314.5 0.5h1m44.5 0h1m128 0h1m5.5 0h1m3.5 0h1m89.5 0h1m-227 0.5h1m2 0h1m125.5 0h1m75.5 0h1m-86.5 0.5h1m129.5 0h1m-236 0.5h1m63.5 0h1m71.5 0h1m-184 0.5h1m252.5 0h1m-274 0.5h1m26.5 0h1m50.5 0h1m110.5 0h1m75.5 0h1m-259.5 0.5h1m4 0h1m30.5 0h1m160 0h1m-185 0.5h1m257 0h1m-384.5 0.5h1m125.5 0h1m39 0h1m191.5 0h1m-321 0.5h1m77 0h1m9.5 0h1m36.5 0h1m6 0h1m10.5 0h1m94.5 0h1m5 0h1m21 0h1m-149.5 0.5h1m16 0h1m49.5 0h1m124 0h1m18.5 0h1m-271.5 0.5h1m20 0h1m2 0h1m0 0h1m1 0h1m21 0h1m88.5 0h1m114.5 0h1m62 0h1m-314.5 0.5h1m6 0h1m40 0h1m5 0h1m3.5 0h1m64.5 0h1m61.5 0h1m18 0h1m106 0h1m-379.5 0.5h1m119.5 0h1m124 0h1m26.5 0h1m121.5 0h1m-317.5 0.5h1m-0.5 0h1m50 0h1m1 0h1m55.5 0h1m22.5 0h1m8.5 0h1m31 0h1m9 0h1m-122.5 0.5h1m3.5 0h1m58 0h1m7 0h1m15.5 0h1m84.5 0h1m23 0h1m-345.5 0.5h1m97 0h1m-0.5 0h1m116.5 0h1m3 0h1m36.5 0h1m66 0h1m10 0h1m5.5 0h1m-273 0.5h1m67 0h1m95.5 0h1m11.5 0h1m72 0h1m13.5 0h1m3 0h1m31.5 0h1m-301.5 0.5h1m0.5 0h1m11 0h1m-0.5 0h1m11 0h1m1.5 0h1m25.5 0h1m2.5 0h1m65.5 0h1m5.5 0h1m1.5 0h1m2 0h1m2 0h1m60.5 0h1m54.5 0h1m15.5 0h1m-0.5 0h1m-264.5 0.5h1m6.5 0h1m117 0h1m0.5 0h1m6.5 0h1m0 0h1m3.5 0h1m3 0h1m4 0h1m1 0h1m22.5 0h1m71 0h1m17.5 0h1m-269 0.5h1m6.5 0h1m10.5 0h1m3.5 0h1m5 0h1m9.5 0h1m34 0h1m75.5 0h1m18.5 0h1m8.5 0h1m4.5 0h1m-191 0.5h1m6 0h1m21.5 0h1m9.5 0h1m4.5 0h1m9.5 0h1m15.5 0h1m64.5 0h1m6.5 0h1m4 0h1m-0.5 0h1m0.5 0h1m-0.5 0h1m2 0h1m1 0h1m30 0h1m62.5 0h1m10.5 0h1m0.5 0h1m-380.5 0.5h1m43.5 0h1m60.5 0h1m7 0h1m4 0h1m1.5 0h1m0 0h1m4 0h1m37.5 0h1m8 0h1m0.5 0h1m67 0h1m7.5 0h1m0.5 0h1m5 0h1m0 0h1m3.5 0h1m0.5 0h1m0 0h1m1.5 0h1m0 0h1m30.5 0h1m0 0h1m65 0h1m2.5 0h1m0.5 0h1m0 0h1m8 0h1m-393 0.5h1m119 0h1m4.5 0h1m1.5 0h1m2.5 0h1m1 0h1m10 0h1m37 0h1m5.5 0h1m60.5 0h1m1 0h1m1.5 0h1m8 0h1m1.5 0h1m5 0h1m1 0h1m0.5 0h1m4 0h1m21 0h1m3.5 0h1m63 0h1m9 0h1m-386 0.5h1m125 0h1m2.5 0h1m8.5 0h1m5.5 0h1m21 0h1m26.5 0h1m58.5 0h1m4.5 0h1m1 0h1m6.5 0h1m1.5 0h1m0.5 0h1m1.5 0h1m0 0h1m1.5 0h1m6 0h1m8.5 0h1m80.5 0h1m-0.5 0h1m1.5 0h1m8 0h1m31 0h1m-296.5 0.5h1m4.5 0h1m0.5 0h1m-0.5 0h1m1.5 0h1m0 0h1m8.5 0h1m1.5 0h1m16.5 0h1m84 0h1m5 0h1m1 0h1m-0.5 0h1m0 0h1m0 0h1m1 0h1m-0.5 0h1m2 0h1m1.5 0h1m-0.5 0h1m1 0h1m0.5 0h1m6 0h1m1 0h1m2.5 0h1m6 0h1m85.5 0h1m0 0h1m0.5 0h1m0 0h1m1 0h1m3 0h1m44.5 0h1m-409.5 0.5h1m49 0h1m46.5 0h1m2 0h1m0 0h1m3.5 0h1m3 0h1m4 0h1m1 0h1m-0.5 0h1m6.5 0h1m17 0h1m3 0h1m71 0h1m13.5 0h1m2 0h1m1.5 0h1m5 0h1m-0.5 0h1m8.5 0h1m-0.5 0h1m5.5 0h1m7 0h1m85.5 0h1m6.5 0h1m0.5 0h1m-342.5 0.5h1m65 0h1m13.5 0h1m4.5 0h1m1.5 0h1m0.5 0h1m2 0h1m24.5 0h1m85 0h1m0 0h1m0.5 0h1m0.5 0h1m4 0h1m-0.5 0h1m-0.5 0h1m0 0h1m2 0h1m-0.5 0h1m1.5 0h1m0 0h1m9 0h1m11 0h1m0.5 0h1m16 0h1m57.5 0h1m1.5 0h1m0.5 0h1m3 0h1m1.5 0h1m-0.5 0h1m2 0h1m-0.5 0h1m4 0h1m8.5 0h1m-399 0.5h1m35.5 0h1m76.5 0h1m11 0h1m-0.5 0h1m0.5 0h1m1 0h1m0 0h1m2 0h1m0.5 0h1m-0.5 0h1m0.5 0h1m16 0h1m24 0h1m19 0h1m50 0h1m0 0h1m7.5 0h1m5 0h1m0 0h1m8 0h1m-0.5 0h1m-0.5 0h1m3 0h1m0 0h1m8.5 0h1m0.5 0h1m7 0h1m3 0h1m73 0h1m36 0h1m-417.5 0.5h1m123 0h1m0.5 0h1m5.5 0h1m1.5 0h1m0.5 0h1m2 0h1m4 0h1m-0.5 0h1m26.5 0h1m75.5 0h1m4 0h1m3.5 0h1m-0.5 0h1m1 0h1m-0.5 0h1m0 0h1m0.5 0h1m2 0h1m0 0h1m0.5 0h1m-0.5 0h1m2.5 0h1m5 0h1m1.5 0h1m3 0h1m0 0h1m-0.5 0h1m77 0h1m8 0h1m1.5 0h1m3.5 0h1m0 0h1m2 0h1m10.5 0h1m-405.5 0.5h1m123.5 0h1m0 0h1m5 0h1m5.5 0h1m-0.5 0h1m1 0h1m0.5 0h1m-0.5 0h1m1.5 0h1m0 0h1m0.5 0h1m-0.5 0h1m-0.5 0h1m0 0h1m-0.5 0h1m-0.5 0h1m98.5 0h1m6 0h1m0 0h1m6 0h1m2 0h1m1 0h1m0 0h1m5 0h1m1.5 0h1m-0.5 0h1m-0.5 0h1m-0.5 0h1m-0.5 0h1m1 0h1m0.5 0h1m3 0h1m22 0h1m66.5 0h1m-0.5 0h1m2.5 0h1m0.5 0h1m1.5 0h1m-0.5 0h1m3 0h1m0 0h1m4.5 0h1m-394.5 0.5h1m0 0h1m2 0h1m2 0h1m9.5 0h1m29.5 0h1m67.5 0h1m6.5 0h1m5 0h1m4.5 0h1m8.5 0h1m21 0h1m3.5 0h1m76 0h1m2 0h1m3.5 0h1m3.5 0h1m-0.5 0h1m1.5 0h1m-0.5 0h1m2.5 0h1m0 0h1m0 0h1m1 0h1m1 0h1m0 0h1m1.5 0h1m1 0h1m3 0h1m0 0h1m2.5 0h1m15 0h1m77 0h1m0 0h1m0 0h1m5.5 0h1m3 0h1m0 0h1m4 0h1m-0.5 0h1m-400 0.5h1m5.5 0h1m3 0h1m115 0h1m3.5 0h1m2 0h1m0.5 0h1m-0.5 0h1m0 0h1m0.5 0h1m2 0h1m1 0h1m-0.5 0h1m1.5 0h1m96 0h1m-0.5 0h1m6.5 0h1m0 0h1m2.5 0h1m-0.5 0h1m0.5 0h1m2.5 0h1m0.5 0h1m3 0h1m-0.5 0h1m-0.5 0h1m0 0h1m0 0h1m-0.5 0h1m-0.5 0h1m0 0h1m5.5 0h1m1.5 0h1m2.5 0h1m16.5 0h1m1 0h1m61 0h1m4.5 0h1m4 0h1m0 0h1m1 0h1m0.5 0h1m0.5 0h1m0 0h1m1 0h1m0.5 0h1m-0.5 0h1m28 0h1m17.5 0h1m-436.5 0.5h1m3.5 0h1m0 0h1m41 0h1m23.5 0h1m59 0h1m-0.5 0h1m-0.5 0h1m7 0h1m1 0h1m17.5 0h1m17 0h1m71 0h1m-0.5 0h1m0.5 0h1m0.5 0h1m4.5 0h1m2.5 0h1m0.5 0h1m1 0h1m13.5 0h1m-0.5 0h1m0.5 0h1m2 0h1m-0.5 0h1m2.5 0h1m4.5 0h1m70 0h1m5.5 0h1m0.5 0h1m0.5 0h1m0.5 0h1m-0.5 0h1m1 0h1m-0.5 0h1m0 0h1m0 0h1m-0.5 0h1m2 0h1m0.5 0h1m3.5 0h1m-390.5 0.5h1m0 0h1m11 0h1m4 0h1m29.5 0h1m70 0h1m0 0h1m1 0h1m-0.5 0h1m9.5 0h1m-0.5 0h1m7.5 0h1m1.5 0h1m-0.5 0h1m8.5 0h1m-0.5 0h1m23.5 0h1m65.5 0h1m1.5 0h1m0 0h1m2 0h1m4.5 0h1m1.5 0h1m0 0h1m-0.5 0h1m0 0h1m0.5 0h1m4 0h1m6.5 0h1m7.5 0h1m7.5 0h1m6 0h1m66 0h1m4.5 0h1m1 0h1m0 0h1m-0.5 0h1m5.5 0h1m1 0h1m0 0h1m5 0h1m2 0h1m2 0h1m-404 0.5h1m3 0h1m3 0h1m3 0h1m16 0h1m92 0h1m4.5 0h1m0.5 0h1m-0.5 0h1m1 0h1m-0.5 0h1m-0.5 0h1m1 0h1m2 0h1m2 0h1m10.5 0h1m15 0h1m84.5 0h1m4.5 0h1m0 0h1m1 0h1m0.5 0h1m-0.5 0h1m0 0h1m1 0h1m1 0h1m1.5 0h1m0 0h1m-0.5 0h1m0 0h1m2 0h1m0.5 0h1m-0.5 0h1m0 0h1m0.5 0h1m0.5 0h1m4 0h1m0.5 0h1m2 0h1m2.5 0h1m78.5 0h1m0.5 0h1m0 0h1m3 0h1m1 0h1m2 0h1m3.5 0h1m26.5 0h1m-412.5 0.5h1m42.5 0h1m4 0h1m66.5 0h1m0 0h1m0.5 0h1m13 0h1m1.5 0h1m0 0h1m0.5 0h1m-0.5 0h1m-0.5 0h1m5 0h1m3.5 0h1m17 0h1m0.5 0h1m2.5 0h1m63 0h1m6 0h1m0 0h1m2 0h1m3 0h1m2.5 0h1m0.5 0h1m-0.5 0h1m0 0h1m0 0h1m1 0h1m0 0h1m-0.5 0h1m-0.5 0h1m0 0h1m0 0h1m-0.5 0h1m0.5 0h1m1 0h1m0 0h1m-0.5 0h1m3.5 0h1m-0.5 0h1m4 0h1m1 0h1m5.5 0h1m19.5 0h1m49.5 0h1m12 0h1m-0.5 0h1m2 0h1m0 0h1m0.5 0h1m6.5 0h1m18.5 0h1m-418 0.5h1m3.5 0h1m2.5 0h1m9 0h1m52 0h1m63 0h1m-0.5 0h1m0 0h1m0 0h1m0 0h1m0 0h1m-0.5 0h1m1 0h1m1.5 0h1m3.5 0h1m0 0h1m-0.5 0h1m0 0h1m1.5 0h1m28.5 0h1m23 0h1m49 0h1m0 0h1m3 0h1m-0.5 0h1m-0.5 0h1m1.5 0h1m0 0h1m0 0h1m1.5 0h1m0.5 0h1m0 0h1m1.5 0h1m1.5 0h1m0 0h1m0 0h1m0.5 0h1m-0.5 0h1m-0.5 0h1m0 0h1m0.5 0h1m-0.5 0h1m-0.5 0h1m1.5 0h1m4.5 0h1m3.5 0h1m5 0h1m7.5 0h1m63.5 0h1m-0.5 0h1m0.5 0h1m2.5 0h1m1 0h1m-0.5 0h1m0 0h1m-0.5 0h1m1 0h1m0.5 0h1m-0.5 0h1m0 0h1m55.5 0h1m-442 0.5h1m7 0h1m45 0h1m69 0h1m1.5 0h1m1.5 0h1m-0.5 0h1m1 0h1m1 0h1m3.5 0h1m-0.5 0h1m10.5 0h1m3 0h1m92.5 0h1m-0.5 0h1m5 0h1m0 0h1m0.5 0h1m0.5 0h1m-0.5 0h1m-0.5 0h1m-0.5 0h1m0 0h1m0 0h1m-0.5 0h1m-0.5 0h1m-0.5 0h1m0 0h1m-0.5 0h1m1.5 0h1m1.5 0h1m1.5 0h1m0 0h1m4 0h1m0 0h1m-0.5 0h1m0.5 0h1m0 0h1m0.5 0h1m-0.5 0h1m27.5 0h1m51 0h1m1 0h1m0.5 0h1m2.5 0h1m0 0h1m-0.5 0h1m1.5 0h1m0 0h1m0 0h1m0 0h1m-0.5 0h1m1.5 0h1m-0.5 0h1m1 0h1m-0.5 0h1m-0.5 0h1m1 0h1m-0.5 0h1m0.5 0h1m1.5 0h1m-398 0.5h1m0 0h1m4 0h1m3 0h1m-0.5 0h1m26.5 0h1m92.5 0h1m0 0h1m0 0h1m1 0h1m-0.5 0h1m-0.5 0h1m1 0h1m4.5 0h1m17 0h1m88 0h1m8.5 0h1m2.5 0h1m1.5 0h1m-0.5 0h1m1 0h1m1 0h1m2.5 0h1m-0.5 0h1m0 0h1m-0.5 0h1m-0.5 0h1m-0.5 0h1m-0.5 0h1m1.5 0h1m-0.5 0h1m1.5 0h1m-0.5 0h1m3 0h1m4.5 0h1m0 0h1m2 0h1m71.5 0h1m2 0h1m-0.5 0h1m1 0h1m3 0h1m0.5 0h1m0 0h1m-0.5 0h1m-0.5 0h1m5 0h1m0 0h1m11 0h1m-402 0.5h1m1.5 0h1m0.5 0h1m15.5 0h1m23.5 0h1m78 0h1m4 0h1m1 0h1m1 0h1m2 0h1m-0.5 0h1m0 0h1m0 0h1m8.5 0h1m0.5 0h1m9.5 0h1m5 0h1m-0.5 0h1m8 0h1m76 0h1m0 0h1m6 0h1m0.5 0h1m1 0h1m-0.5 0h1m-0.5 0h1m3 0h1m0.5 0h1m1 0h1m0 0h1m0 0h1m1.5 0h1m0.5 0h1m2.5 0h1m-0.5 0h1m3.5 0h1m20.5 0h1m61.5 0h1m-0.5 0h1m-0.5 0h1m-0.5 0h1m3 0h1m-0.5 0h1m1.5 0h1m1.5 0h1m-0.5 0h1m-0.5 0h1m0.5 0h1m1 0h1m-0.5 0h1m9 0h1m5 0h1m-410 0.5h1m4.5 0h1m4.5 0h1m-0.5 0h1m1.5 0h1m2.5 0h1m0.5 0h1m25 0h1m2 0h1m8.5 0h1m73 0h1m2.5 0h1m-0.5 0h1m0 0h1m-0.5 0h1m0 0h1m-0.5 0h1m0 0h1m0 0h1m0.5 0h1m0 0h1m1.5 0h1m2 0h1m0 0h1m2.5 0h1m2.5 0h1m98.5 0h1m1 0h1m1 0h1m0.5 0h1m0.5 0h1m0.5 0h1m0.5 0h1m1 0h1m1.5 0h1m-0.5 0h1m-0.5 0h1m1.5 0h1m0 0h1m-0.5 0h1m0 0h1m2 0h1m-0.5 0h1m0 0h1m4.5 0h1m2.5 0h1m1.5 0h1m2 0h1m4 0h1m1.5 0h1m70.5 0h1m5 0h1m-0.5 0h1m2.5 0h1m0.5 0h1m1.5 0h1m0 0h1m-0.5 0h1m0 0h1m-0.5 0h1m0 0h1m1 0h1m5 0h1m-400 0.5h1m0 0h1m6 0h1m4.5 0h1m3 0h1m1.5 0h1m101 0h1m7.5 0h1m-0.5 0h1m-0.5 0h1m0 0h1m0 0h1m0 0h1m0.5 0h1m-0.5 0h1m-0.5 0h1m6 0h1m0.5 0h1m-0.5 0h1m3 0h1m12.5 0h1m1.5 0h1m83.5 0h1m12.5 0h1m-0.5 0h1m-0.5 0h1m-0.5 0h1m-0.5 0h1m1 0h1m1 0h1m1 0h1m-0.5 0h1m-0.5 0h1m0 0h1m2.5 0h1m0 0h1m1 0h1m0 0h1m0.5 0h1m-0.5 0h1m0 0h1m0 0h1m2 0h1m-0.5 0h1m0 0h1m-0.5 0h1m0.5 0h1m8 0h1m9.5 0h1m61.5 0h1m3 0h1m1 0h1m0 0h1m0 0h1m0 0h1m-0.5 0h1m0 0h1m2 0h1m-0.5 0h1m4.5 0h1m0 0h1m-0.5 0h1m5 0h1m0.5 0h1m17.5 0h1m-415.5 0.5h1m9 0h1m-0.5 0h1m0 0h1m2 0h1m30.5 0h1m27 0h1m49 0h1m2 0h1m5 0h1m1 0h1m1 0h1m0 0h1m1 0h1m4 0h1m0.5 0h1m12 0h1m2.5 0h1m78.5 0h1m6 0h1m3.5 0h1m1.5 0h1m-0.5 0h1m0 0h1m2 0h1m-0.5 0h1m1 0h1m-0.5 0h1m0 0h1m-0.5 0h1m0 0h1m-0.5 0h1m-0.5 0h1m-0.5 0h1m0 0h1m-0.5 0h1m-0.5 0h1m0 0h1m1.5 0h1m0.5 0h1m4 0h1m-0.5 0h1m1 0h1m0 0h1m-0.5 0h1m1 0h1m1 0h1m0 0h1m1 0h1m74 0h1m3.5 0h1m1 0h1m2.5 0h1m0.5 0h1m-0.5 0h1m-0.5 0h1m0 0h1m-0.5 0h1m2 0h1m-0.5 0h1m0 0h1m0.5 0h1m-0.5 0h1m0 0h1m0 0h1m-0.5 0h1m0 0h1m-0.5 0h1m3.5 0h1m11.5 0h1m-417.5 0.5h1m0.5 0h1m5.5 0h1m5.5 0h1m3.5 0h1m0.5 0h1m1.5 0h1m15 0h1m16 0h1m2 0h1m2.5 0h1m65.5 0h1m-0.5 0h1m0 0h1m7.5 0h1m0.5 0h1m0 0h1m2.5 0h1m1.5 0h1m0 0h1m0.5 0h1m-0.5 0h1m-0.5 0h1m1 0h1m3.5 0h1m1 0h1m16 0h1m78 0h1m7.5 0h1m-0.5 0h1m2.5 0h1m5.5 0h1m1.5 0h1m-0.5 0h1m2.5 0h1m-0.5 0h1m0 0h1m-0.5 0h1m-0.5 0h1m-0.5 0h1m1 0h1m5 0h1m3 0h1m1.5 0h1m2.5 0h1m5.5 0h1m6 0h1m2 0h1m56 0h1m2 0h1m6.5 0h1m0 0h1m-0.5 0h1m0 0h1m-0.5 0h1m0 0h1m1.5 0h1m1 0h1m3 0h1m3 0h1m-0.5 0h1m12.5 0h1m18.5 0h1m-437.5 0.5h1m7 0h1m-0.5 0h1m1 0h1m-0.5 0h1m0.5 0h1m6 0h1m1.5 0h1m-0.5 0h1m0 0h1m0 0h1m105 0h1m8 0h1m-0.5 0h1m0 0h1m-0.5 0h1m0 0h1m0 0h1m-0.5 0h1m0 0h1m5.5 0h1m22.5 0h1m4.5 0h1m9 0h1m67.5 0h1m0 0h1m2 0h1m2.5 0h1m2 0h1m0.5 0h1m-0.5 0h1m2.5 0h1m-0.5 0h1m1.5 0h1m0 0h1m0.5 0h1m0.5 0h1m-0.5 0h1m-0.5 0h1m0.5 0h1m0 0h1m-0.5 0h1m0.5 0h1m-0.5 0h1m0 0h1m1.5 0h1m0 0h1m1.5 0h1m1.5 0h1m5 0h1m5 0h1m11 0h1m53 0h1m0.5 0h1m5 0h1m0.5 0h1m3 0h1m-0.5 0h1m-0.5 0h1m6.5 0h1m-0.5 0h1m1.5 0h1m-0.5 0h1m7 0h1m0 0h1m-400 0.5h1m-0.5 0h1m0 0h1m1.5 0h1m4.5 0h1m-0.5 0h1m6.5 0h1m96 0h1m3 0h1m0 0h1m2 0h1m-0.5 0h1m2.5 0h1m0 0h1m0 0h1m-0.5 0h1m2 0h1m1.5 0h1m3 0h1m-0.5 0h1m0 0h1m0 0h1m1 0h1m0 0h1m0.5 0h1m-0.5 0h1m6 0h1m98 0h1m2.5 0h1m0.5 0h1m4.5 0h1m0.5 0h1m-0.5 0h1m0 0h1m1.5 0h1m2.5 0h1m0 0h1m-0.5 0h1m5 0h1m1 0h1m83 0h1m-0.5 0h1m2.5 0h1m3 0h1m0.5 0h1m0 0h1m1 0h1m0 0h1m0.5 0h1m1.5 0h1m-0.5 0h1m1.5 0h1m0.5 0h1m-0.5 0h1m6.5 0h1m9 0h1m0 0h1m17 0h1m-428 0.5h1m1.5 0h1m-0.5 0h1m-0.5 0h1m2 0h1m0.5 0h1m-0.5 0h1m1 0h1m1 0h1m14 0h1m11 0h1m83 0h1m2.5 0h1m0.5 0h1m-0.5 0h1m-0.5 0h1m0 0h1m2 0h1m-0.5 0h1m0 0h1m1 0h1m0 0h1m0.5 0h1m0 0h1m0.5 0h1m0.5 0h1m0.5 0h1m2.5 0h1m18 0h1m81.5 0h1m5 0h1m0 0h1m-0.5 0h1m1.5 0h1m-0.5 0h1m0.5 0h1m0 0h1m1 0h1m0 0h1m-0.5 0h1m-0.5 0h1m2 0h1m0 0h1m-0.5 0h1m-0.5 0h1m-0.5 0h1m4.5 0h1m-0.5 0h1m9.5 0h1m20 0h1m57 0h1m1 0h1m1.5 0h1m0.5 0h1m0.5 0h1m0 0h1m0 0h1m1 0h1m0 0h1m-0.5 0h1m1 0h1m0 0h1m-0.5 0h1m-0.5 0h1m-0.5 0h1m1 0h1m0 0h1m-0.5 0h1m5.5 0h1m0.5 0h1m7 0h1m3.5 0h1m-414.5 0.5h1m5.5 0h1m-0.5 0h1m0.5 0h1m2 0h1m50 0h1m71 0h1m1.5 0h1m0.5 0h1m0.5 0h1m-0.5 0h1m2.5 0h1m1.5 0h1m0 0h1m8.5 0h1m6 0h1m9.5 0h1m81.5 0h1m0 0h1m0.5 0h1m0 0h1m4 0h1m1 0h1m0.5 0h1m-0.5 0h1m0 0h1m3.5 0h1m0 0h1m-0.5 0h1m0 0h1m0 0h1m1 0h1m-0.5 0h1m0 0h1m1 0h1m-0.5 0h1m-0.5 0h1m2 0h1m1.5 0h1m0 0h1m1 0h1m7 0h1m70 0h1m7 0h1m1 0h1m-0.5 0h1m0 0h1m0.5 0h1m-0.5 0h1m1 0h1m-0.5 0h1m1 0h1m0 0h1m-0.5 0h1m-0.5 0h1m-0.5 0h1m3 0h1m1 0h1m1 0h1m23.5 0h1m-430.5 0.5h1m0 0h1m0 0h1m2.5 0h1m0 0h1m0 0h1m2 0h1m0 0h1m0 0h1m2 0h1m0 0h1m1.5 0h1m0 0h1m-0.5 0h1m14 0h1m20 0h1m11 0h1m61 0h1m1 0h1m2 0h1m3 0h1m0 0h1m5 0h1m1 0h1m3 0h1m0.5 0h1m6.5 0h1m3.5 0h1m-0.5 0h1m96 0h1m0 0h1m0 0h1m0 0h1m-0.5 0h1m0 0h1m5 0h1m0 0h1m-0.5 0h1m0 0h1m0 0h1m2 0h1m-0.5 0h1m0.5 0h1m2 0h1m-0.5 0h1m0.5 0h1m0.5 0h1m0 0h1m2.5 0h1m0.5 0h1m-0.5 0h1m12 0h1m0.5 0h1m65.5 0h1m5 0h1m1.5 0h1m2 0h1m0.5 0h1m-0.5 0h1m0 0h1m-0.5 0h1m2.5 0h1m0 0h1m-0.5 0h1m1.5 0h1m0 0h1m3 0h1m3 0h1m15.5 0h1m21 0h1m-440 0.5h1m0.5 0h1m3 0h1m0 0h1m0.5 0h1m1.5 0h1m3 0h1m0.5 0h1m1 0h1m1.5 0h1m1.5 0h1m0.5 0h1m98 0h1m1 0h1m5 0h1m1.5 0h1m2.5 0h1m3 0h1m1 0h1m4.5 0h1m0 0h1m11 0h1m7 0h1m6 0h1m69 0h1m10 0h1m0.5 0h1m-0.5 0h1m1 0h1m0 0h1m-0.5 0h1m0 0h1m2.5 0h1m-0.5 0h1m-0.5 0h1m2 0h1m1.5 0h1m1.5 0h1m0 0h1m1 0h1m1 0h1m7 0h1m17.5 0h1m61.5 0h1m2.5 0h1m2 0h1m-0.5 0h1m-0.5 0h1m0 0h1m2.5 0h1m-0.5 0h1m0.5 0h1m3 0h1m-0.5 0h1m0 0h1m2 0h1m0.5 0h1m-0.5 0h1m-0.5 0h1m1.5 0h1m-406 0.5h1m3.5 0h1m0 0h1m0 0h1m1.5 0h1m1.5 0h1m0.5 0h1m0.5 0h1m-0.5 0h1m-0.5 0h1m-0.5 0h1m-0.5 0h1m0 0h1m1.5 0h1m-0.5 0h1m0.5 0h1m0 0h1m2 0h1m5.5 0h1m-0.5 0h1m0 0h1m5 0h1m16 0h1m3 0h1m80 0h1m2.5 0h1m1.5 0h1m0 0h1m0.5 0h1m5 0h1m1 0h1m1 0h1m7 0h1m9 0h1m2.5 0h1m68 0h1m6.5 0h1m4.5 0h1m2.5 0h1m0 0h1m0 0h1m2 0h1m-0.5 0h1m0 0h1m-0.5 0h1m-0.5 0h1m0 0h1m0 0h1m0.5 0h1m0.5 0h1m1.5 0h1m1 0h1m-0.5 0h1m2 0h1m1 0h1m0.5 0h1m0 0h1m2.5 0h1m2.5 0h1m13 0h1m61.5 0h1m2 0h1m2.5 0h1m0.5 0h1m0 0h1m0 0h1m-0.5 0h1m1.5 0h1m-0.5 0h1m1 0h1m-0.5 0h1m0 0h1m0.5 0h1m-0.5 0h1m2.5 0h1m3.5 0h1m1.5 0h1m7 0h1m-414 0.5h1m1.5 0h1m3 0h1m1 0h1m3 0h1m0.5 0h1m2 0h1m1 0h1m-0.5 0h1m0 0h1m2 0h1m0.5 0h1m15 0h1m3 0h1m9 0h1m22 0h1m49.5 0h1m9.5 0h1m0 0h1m1 0h1m2 0h1m0 0h1m-0.5 0h1m-0.5 0h1m2 0h1m-0.5 0h1m33.5 0h1m66 0h1m5 0h1m1.5 0h1m3.5 0h1m3 0h1m0 0h1m-0.5 0h1m0.5 0h1m0 0h1m-0.5 0h1m0 0h1m0 0h1m2.5 0h1m-0.5 0h1m-0.5 0h1m-0.5 0h1m0 0h1m2 0h1m1 0h1m1.5 0h1m8 0h1m14.5 0h1m64.5 0h1m-0.5 0h1m2.5 0h1m2 0h1m-0.5 0h1m1 0h1m0 0h1m-0.5 0h1m-0.5 0h1m0 0h1m-0.5 0h1m1.5 0h1m2 0h1m1 0h1m0 0h1m3 0h1m-0.5 0h1m21 0h1m-429 0.5h1m3.5 0h1m5 0h1m1 0h1m0 0h1m-0.5 0h1m0.5 0h1m-0.5 0h1m-0.5 0h1m1 0h1m1 0h1m2.5 0h1m-0.5 0h1m5.5 0h1m1 0h1m35 0h1m-0.5 0h1m9.5 0h1m44 0h1m2 0h1m7.5 0h1m4.5 0h1m1.5 0h1m0 0h1m-0.5 0h1m-0.5 0h1m0 0h1m0 0h1m1 0h1m0.5 0h1m3.5 0h1m5 0h1m4.5 0h1m93.5 0h1m0 0h1m-0.5 0h1m2 0h1m0 0h1m0 0h1m0.5 0h1m0 0h1m-0.5 0h1m-0.5 0h1m0.5 0h1m-0.5 0h1m0 0h1m1.5 0h1m0 0h1m5 0h1m-0.5 0h1m0 0h1m1 0h1m1 0h1m-0.5 0h1m3 0h1m1.5 0h1m2 0h1m10.5 0h1m3.5 0h1m0 0h1m57.5 0h1m5 0h1m1.5 0h1m0.5 0h1m2.5 0h1m0.5 0h1m2.5 0h1m-0.5 0h1m0.5 0h1m-0.5 0h1m-0.5 0h1m2 0h1m-0.5 0h1m18 0h1m7.5 0h1m-427.5 0.5h1m1.5 0h1m1 0h1m0 0h1m0 0h1m4 0h1m0.5 0h1m0.5 0h1m3.5 0h1m33 0h1m5 0h1m68.5 0h1m5 0h1m1 0h1m-0.5 0h1m4 0h1m-0.5 0h1m1 0h1m0 0h1m-0.5 0h1m6.5 0h1m5 0h1m3 0h1m4.5 0h1m85.5 0h1m-0.5 0h1m3 0h1m1 0h1m1 0h1m-0.5 0h1m0 0h1m2.5 0h1m1.5 0h1m2.5 0h1m1.5 0h1m4.5 0h1m0.5 0h1m0 0h1m3 0h1m2 0h1m26 0h1m56.5 0h1m4.5 0h1m0.5 0h1m-0.5 0h1m0 0h1m1 0h1m4 0h1m0.5 0h1m2.5 0h1m-0.5 0h1m1 0h1m1 0h1m0.5 0h1m10 0h1m15 0h1m-428 0.5h1m-0.5 0h1m-0.5 0h1m2 0h1m0 0h1m-0.5 0h1m0 0h1m-0.5 0h1m-0.5 0h1m0.5 0h1m-0.5 0h1m0 0h1m-0.5 0h1m-0.5 0h1m-0.5 0h1m0.5 0h1m5.5 0h1m11 0h1m13.5 0h1m18.5 0h1m53 0h1m9 0h1m4.5 0h1m0 0h1m-0.5 0h1m0.5 0h1m1.5 0h1m1.5 0h1m0.5 0h1m1 0h1m0.5 0h1m8.5 0h1m20 0h1m67.5 0h1m7 0h1m4.5 0h1m-0.5 0h1m-0.5 0h1m-0.5 0h1m0.5 0h1m1 0h1m-0.5 0h1m0.5 0h1m2.5 0h1m3 0h1m0 0h1m0 0h1m0.5 0h1m2.5 0h1m1.5 0h1m1 0h1m2 0h1m83.5 0h1m4.5 0h1m0.5 0h1m1 0h1m0 0h1m0 0h1m0 0h1m8 0h1m3 0h1m-0.5 0h1m9.5 0h1m-413 0.5h1m3.5 0h1m0 0h1m-0.5 0h1m-0.5 0h1m-0.5 0h1m-0.5 0h1m0 0h1m0.5 0h1m0 0h1m0 0h1m-0.5 0h1m1 0h1m-0.5 0h1m-0.5 0h1m-0.5 0h1m5 0h1m11 0h1m31 0h1m65 0h1m-0.5 0h1m1.5 0h1m1 0h1m0 0h1m0 0h1m-0.5 0h1m1.5 0h1m0.5 0h1m0.5 0h1m1.5 0h1m2.5 0h1m1 0h1m2 0h1m5 0h1m7.5 0h1m3 0h1m74.5 0h1m11 0h1m3 0h1m0 0h1m0 0h1m-0.5 0h1m1 0h1m0 0h1m-0.5 0h1m-0.5 0h1m0 0h1m0 0h1m-0.5 0h1m0.5 0h1m-0.5 0h1m0.5 0h1m0.5 0h1m0.5 0h1m0 0h1m0 0h1m0 0h1m5.5 0h1m0.5 0h1m1 0h1m-0.5 0h1m2 0h1m77 0h1m-0.5 0h1m0 0h1m1.5 0h1m2 0h1m-0.5 0h1m-0.5 0h1m1.5 0h1m-0.5 0h1m-0.5 0h1m1.5 0h1m0 0h1m0 0h1m-0.5 0h1m1 0h1m2.5 0h1m7 0h1m35 0h1m-442 0.5h1m1.5 0h1m3 0h1m0.5 0h1m0 0h1m0.5 0h1m0 0h1m1 0h1m-0.5 0h1m-0.5 0h1m0 0h1m6 0h1m8 0h1m28 0h1m63.5 0h1m6 0h1m4 0h1m4 0h1m7.5 0h1m0 0h1m4.5 0h1m0.5 0h1m11 0h1m82 0h1m-0.5 0h1m6.5 0h1m2 0h1m5.5 0h1m-0.5 0h1m4.5 0h1m-0.5 0h1m3 0h1m0 0h1m1 0h1m-0.5 0h1m-0.5 0h1m1.5 0h1m-0.5 0h1m3.5 0h1m7 0h1m69.5 0h1m1.5 0h1m1.5 0h1m0.5 0h1m1.5 0h1m2 0h1m-0.5 0h1m0 0h1m-0.5 0h1m-0.5 0h1m-0.5 0h1m-0.5 0h1m0.5 0h1m0 0h1m0.5 0h1m0 0h1m-0.5 0h1m-0.5 0h1m4 0h1m3.5 0h1m-402 0.5h1m-0.5 0h1m1.5 0h1m0 0h1m-0.5 0h1m0 0h1m-0.5 0h1m4 0h1m-0.5 0h1m-0.5 0h1m-0.5 0h1m1.5 0h1m0 0h1m8 0h1m8 0h1m41.5 0h1m3.5 0h1m43.5 0h1m1.5 0h1m1 0h1m2 0h1m2 0h1m1 0h1m0 0h1m0 0h1m0 0h1m0.5 0h1m1 0h1m5 0h1m2.5 0h1m15.5 0h1m77.5 0h1m1 0h1m2 0h1m3 0h1m8 0h1m-0.5 0h1m3 0h1m-0.5 0h1m0.5 0h1m2 0h1m0 0h1m2 0h1m5 0h1m3 0h1m84.5 0h1m0 0h1m-0.5 0h1m1.5 0h1m0 0h1m0 0h1m0 0h1m3.5 0h1m1 0h1m0 0h1m2.5 0h1m0.5 0h1m0.5 0h1m1.5 0h1m25 0h1m-427 0.5h1m0 0h1m0.5 0h1m-0.5 0h1m2 0h1m0 0h1m0 0h1m0 0h1m-0.5 0h1m0 0h1m0 0h1m-0.5 0h1m3 0h1m2 0h1m2 0h1m0.5 0h1m0 0h1m8 0h1m3.5 0h1m7 0h1m5.5 0h1m3 0h1m0 0h1m7.5 0h1m58.5 0h1m0 0h1m3 0h1m2 0h1m-0.5 0h1m1 0h1m0 0h1m2 0h1m0 0h1m0 0h1m2 0h1m-0.5 0h1m-0.5 0h1m3 0h1m4.5 0h1m2 0h1m11.5 0h1m5 0h1m73.5 0h1m0.5 0h1m2 0h1m2 0h1m-0.5 0h1m0.5 0h1m1.5 0h1m2.5 0h1m-0.5 0h1m2.5 0h1m0 0h1m1 0h1m0 0h1m0 0h1m1.5 0h1m0.5 0h1m-0.5 0h1m0.5 0h1m-0.5 0h1m6.5 0h1m86.5 0h1m4.5 0h1m-0.5 0h1m0 0h1m1 0h1m0.5 0h1m2.5 0h1m0.5 0h1m1.5 0h1m1.5 0h1m-0.5 0h1m4 0h1m-400.5 0.5h1m-0.5 0h1m-0.5 0h1m0 0h1m0.5 0h1m0.5 0h1m-0.5 0h1m-0.5 0h1m-0.5 0h1m-0.5 0h1m0.5 0h1m1 0h1m2 0h1m-0.5 0h1m2 0h1m4 0h1m6 0h1m12.5 0h1m7.5 0h1m63.5 0h1m12 0h1m8.5 0h1m2.5 0h1m3 0h1m2 0h1m93.5 0h1m4.5 0h1m1 0h1m3.5 0h1m2 0h1m2.5 0h1m4.5 0h1m0 0h1m3 0h1m5.5 0h1m0.5 0h1m8 0h1m5.5 0h1m0.5 0h1m1 0h1m65.5 0h1m5.5 0h1m-0.5 0h1m1 0h1m-0.5 0h1m6 0h1m-0.5 0h1m-0.5 0h1m0 0h1m0.5 0h1m-0.5 0h1m2 0h1m-393.5 0.5h1m2.5 0h1m0 0h1m3.5 0h1m0.5 0h1m-0.5 0h1m0 0h1m0 0h1m0.5 0h1m-0.5 0h1m3 0h1m0.5 0h1m7.5 0h1m3.5 0h1m19 0h1m3.5 0h1m1 0h1m16.5 0h1m47 0h1m-0.5 0h1m0 0h1m0.5 0h1m-0.5 0h1m2 0h1m1 0h1m1.5 0h1m12.5 0h1m0 0h1m102 0h1m5 0h1m1.5 0h1m1 0h1m2 0h1m-0.5 0h1m2.5 0h1m5.5 0h1m0.5 0h1m-0.5 0h1m-0.5 0h1m-0.5 0h1m4 0h1m-0.5 0h1m1 0h1m0.5 0h1m82.5 0h1m0.5 0h1m3 0h1m1 0h1m0 0h1m0 0h1m2.5 0h1m1 0h1m9.5 0h1m0 0h1m-403.5 0.5h1m1.5 0h1m1.5 0h1m-0.5 0h1m2 0h1m0.5 0h1m-0.5 0h1m0 0h1m2 0h1m0.5 0h1m6 0h1m1.5 0h1m6 0h1m26.5 0h1m1 0h1m75 0h1m2.5 0h1m-0.5 0h1m1.5 0h1m3 0h1m6 0h1m96 0h1m1.5 0h1m1.5 0h1m0 0h1m0.5 0h1m0 0h1m1 0h1m1.5 0h1m3 0h1m0.5 0h1m7 0h1m1.5 0h1m2.5 0h1m2.5 0h1m2.5 0h1m2 0h1m82.5 0h1m1.5 0h1m0 0h1m1 0h1m0 0h1m0 0h1m4.5 0h1m-0.5 0h1m3.5 0h1m-0.5 0h1m3.5 0h1m22.5 0h1m-430 0.5h1m6.5 0h1m0 0h1m1.5 0h1m0.5 0h1m-0.5 0h1m2.5 0h1m0 0h1m2 0h1m0 0h1m-0.5 0h1m6 0h1m7.5 0h1m10 0h1m86.5 0h1m-0.5 0h1m1 0h1m0.5 0h1m2 0h1m-0.5 0h1m0.5 0h1m0.5 0h1m1 0h1m5.5 0h1m44.5 0h1m61 0h1m-0.5 0h1m1 0h1m7.5 0h1m2 0h1m0 0h1m0 0h1m-0.5 0h1m7.5 0h1m0.5 0h1m87.5 0h1m7 0h1m2.5 0h1m0.5 0h1m2.5 0h1m-0.5 0h1m0 0h1m3.5 0h1m3 0h1m2.5 0h1m-400.5 0.5h1m0 0h1m2 0h1m4 0h1m0.5 0h1m2.5 0h1m3 0h1m60 0h1m50 0h1m3 0h1m10.5 0h1m30 0h1m28.5 0h1m42.5 0h1m6.5 0h1m0 0h1m0.5 0h1m-0.5 0h1m1 0h1m1.5 0h1m0 0h1m0.5 0h1m6 0h1m1 0h1m2 0h1m1.5 0h1m1 0h1m0 0h1m4 0h1m5 0h1m1 0h1m4 0h1m65.5 0h1m3 0h1m1 0h1m6.5 0h1m6 0h1m-0.5 0h1m0 0h1m2 0h1m5 0h1m28.5 0h1m-438.5 0.5h1m3 0h1m1.5 0h1m-0.5 0h1m2 0h1m0 0h1m-0.5 0h1m-0.5 0h1m-0.5 0h1m0 0h1m-0.5 0h1m-0.5 0h1m0.5 0h1m1.5 0h1m-0.5 0h1m0 0h1m-0.5 0h1m2.5 0h1m31.5 0h1m7 0h1m9.5 0h1m53 0h1m12.5 0h1m17 0h1m22.5 0h1m11 0h1m74.5 0h1m0.5 0h1m1 0h1m4 0h1m0.5 0h1m-0.5 0h1m1 0h1m4 0h1m0.5 0h1m-0.5 0h1m88 0h1m4 0h1m0.5 0h1m0 0h1m7.5 0h1m8.5 0h1m15 0h1m-422.5 0.5h1m-0.5 0h1m6.5 0h1m0 0h1m1.5 0h1m1.5 0h1m-0.5 0h1m-0.5 0h1m-0.5 0h1m1.5 0h1m1.5 0h1m2 0h1m4.5 0h1m1.5 0h1m1.5 0h1m-0.5 0h1m4.5 0h1m7 0h1m2 0h1m22.5 0h1m53.5 0h1m6 0h1m1 0h1m0 0h1m1 0h1m0 0h1m4 0h1m0.5 0h1m2 0h1m1.5 0h1m2.5 0h1m16 0h1m91 0h1m12.5 0h1m13 0h1m2.5 0h1m82 0h1m2.5 0h1m0.5 0h1m1 0h1m1 0h1m0.5 0h1m0 0h1m0 0h1m3.5 0h1m7 0h1m7.5 0h1m-407 0.5h1m2 0h1m0.5 0h1m0.5 0h1m0 0h1m-0.5 0h1m2 0h1m-0.5 0h1m-0.5 0h1m-0.5 0h1m0.5 0h1m1 0h1m-0.5 0h1m31 0h1m6.5 0h1m61.5 0h1m7 0h1m3.5 0h1m7.5 0h1m0.5 0h1m1.5 0h1m0 0h1m31 0h1m72.5 0h1m4 0h1m6 0h1m0 0h1m-0.5 0h1m5 0h1m-0.5 0h1m2.5 0h1m3.5 0h1m-0.5 0h1m0 0h1m2 0h1m2 0h1m8.5 0h1m77.5 0h1m6.5 0h1m1.5 0h1m0.5 0h1m2.5 0h1m3.5 0h1m3 0h1m1.5 0h1m2 0h1m-406.5 0.5h1m-0.5 0h1m-0.5 0h1m0.5 0h1m5 0h1m-0.5 0h1m0 0h1m4.5 0h1m-0.5 0h1m0 0h1m0 0h1m1 0h1m0 0h1m0.5 0h1m3.5 0h1m15 0h1m19.5 0h1m62.5 0h1m2 0h1m2 0h1m0.5 0h1m3.5 0h1m1 0h1m1.5 0h1m8.5 0h1m7.5 0h1m84.5 0h1m0 0h1m5 0h1m11.5 0h1m3.5 0h1m1.5 0h1m-0.5 0h1m2 0h1m0 0h1m-0.5 0h1m-0.5 0h1m0.5 0h1m-0.5 0h1m13 0h1m75.5 0h1m7.5 0h1m1 0h1m2 0h1m0 0h1m0 0h1m1 0h1m-0.5 0h1m3.5 0h1m6.5 0h1m2 0h1m28.5 0h1m-440 0.5h1m0 0h1m1 0h1m-0.5 0h1m0.5 0h1m1.5 0h1m-0.5 0h1m-0.5 0h1m0.5 0h1m-0.5 0h1m-0.5 0h1m-0.5 0h1m0.5 0h1m-0.5 0h1m-0.5 0h1m0 0h1m-0.5 0h1m-0.5 0h1m-0.5 0h1m-0.5 0h1m0.5 0h1m7.5 0h1m0 0h1m-0.5 0h1m0 0h1m8.5 0h1m1.5 0h1m6.5 0h1m3 0h1m7.5 0h1m67 0h1m2 0h1m5 0h1m1 0h1m13 0h1m99 0h1m8.5 0h1m0 0h1m5.5 0h1m4 0h1m-0.5 0h1m2 0h1m1.5 0h1m103.5 0h1m3.5 0h1m1 0h1m1.5 0h1m-0.5 0h1m0 0h1m0 0h1m2 0h1m0.5 0h1m2 0h1m15 0h1m-423 0.5h1m0 0h1m4 0h1m1.5 0h1m0 0h1m-0.5 0h1m-0.5 0h1m-0.5 0h1m1 0h1m1.5 0h1m-0.5 0h1m-0.5 0h1m-0.5 0h1m0.5 0h1m1 0h1m0 0h1m-0.5 0h1m4 0h1m14 0h1m8.5 0h1m3.5 0h1m10.5 0h1m60.5 0h1m4 0h1m0 0h1m6.5 0h1m0 0h1m-0.5 0h1m0.5 0h1m-0.5 0h1m10.5 0h1m4.5 0h1m93 0h1m3.5 0h1m1 0h1m4 0h1m5 0h1m4 0h1m-0.5 0h1m8.5 0h1m2 0h1m1.5 0h1m97.5 0h1m0 0h1m26.5 0h1m-422 0.5h1m2.5 0h1m1 0h1m0 0h1m0 0h1m0 0h1m-0.5 0h1m0.5 0h1m0.5 0h1m5 0h1m-0.5 0h1m5.5 0h1m2 0h1m16 0h1m87.5 0h1m3 0h1m5 0h1m0 0h1m1 0h1m6 0h1m2.5 0h1m17 0h1m-0.5 0h1m89.5 0h1m6 0h1m0.5 0h1m-0.5 0h1m5.5 0h1m9 0h1m2.5 0h1m96.5 0h1m43.5 0h1m-438.5 0.5h1m6 0h1m-0.5 0h1m0.5 0h1m-0.5 0h1m0.5 0h1m0.5 0h1m0 0h1m0 0h1m1 0h1m-0.5 0h1m4 0h1m0.5 0h1m-0.5 0h1m9.5 0h1m23.5 0h1m84 0h1m9 0h1m4 0h1m16 0h1m93.5 0h1m1.5 0h1m27 0h1m79.5 0h1m4 0h1m1 0h1m-0.5 0h1m0 0h1m0 0h1m0.5 0h1m0.5 0h1m-0.5 0h1m0.5 0h1m8 0h1m17.5 0h1m-425 0.5h1m7.5 0h1m1.5 0h1m0 0h1m0 0h1m0 0h1m-0.5 0h1m1 0h1m-0.5 0h1m1 0h1m-0.5 0h1m0.5 0h1m0 0h1m3.5 0h1m1 0h1m17 0h1m84.5 0h1m8 0h1m3 0h1m1.5 0h1m1.5 0h1m3.5 0h1m13.5 0h1m15 0h1m16.5 0h1m70 0h1m19 0h1m-0.5 0h1m10 0h1m76 0h1m-0.5 0h1m9.5 0h1m3.5 0h1m0 0h1m-0.5 0h1m1.5 0h1m-396 0.5h1m2.5 0h1m-0.5 0h1m-0.5 0h1m2 0h1m0 0h1m0 0h1m0 0h1m1 0h1m0.5 0h1m0.5 0h1m1 0h1m8.5 0h1m2.5 0h1m27 0h1m18 0h1m44 0h1m15 0h1m4.5 0h1m0.5 0h1m2 0h1m16 0h1m83.5 0h1m12 0h1m9 0h1m-0.5 0h1m2 0h1m1.5 0h1m1.5 0h1m103 0h1m5 0h1m14 0h1m29 0h1m-443 0.5h1m8 0h1m0 0h1m1.5 0h1m3 0h1m-0.5 0h1m3 0h1m1 0h1m5.5 0h1m41 0h1m64.5 0h1m2 0h1m9 0h1m3 0h1m-0.5 0h1m5 0h1m96.5 0h1m9.5 0h1m16.5 0h1m2.5 0h1m90.5 0h1m1.5 0h1m-0.5 0h1m4.5 0h1m-391 0.5h1m3.5 0h1m0.5 0h1m0.5 0h1m0.5 0h1m12 0h1m-0.5 0h1m1 0h1m15.5 0h1m90.5 0h1m2 0h1m24 0h1m1 0h1m6 0h1m94.5 0h1m12 0h1m-0.5 0h1m5 0h1m5 0h1m1.5 0h1m3.5 0h1m-0.5 0h1m94 0h1m10.5 0h1m46.5 0h1m-445 0.5h1m3 0h1m-0.5 0h1m-0.5 0h1m1.5 0h1m2 0h1m-0.5 0h1m4.5 0h1m-0.5 0h1m1 0h1m11 0h1m5.5 0h1m22 0h1m66.5 0h1m2 0h1m-0.5 0h1m1 0h1m5.5 0h1m9.5 0h1m2 0h1m93 0h1m14 0h1m20.5 0h1m8.5 0h1m8.5 0h1m80.5 0h1m-379.5 0.5h1m5.5 0h1m1 0h1m10 0h1m0 0h1m15 0h1m111 0h1m11 0h1m77.5 0h1m50 0h1m-304.5 0.5h1m2.5 0h1m0 0h1m3.5 0h1m5.5 0h1m6.5 0h1m6 0h1m0.5 0h1m95.5 0h1m0 0h1m2.5 0h1m12.5 0h1m1 0h1m2.5 0h1m2 0h1m99 0h1m9 0h1m4 0h1m10.5 0h1m19 0h1m6 0h1m15.5 0h1m74.5 0h1m-389.5 0.5h1m2 0h1m0.5 0h1m3.5 0h1m0 0h1m3.5 0h1m9.5 0h1m100.5 0h1m16 0h1m2 0h1m15.5 0h1m88 0h1m1 0h1m-0.5 0h1m22 0h1m19.5 0h1m71.5 0h1m12.5 0h1m-394 0.5h1m2.5 0h1m2 0h1m0.5 0h1m4.5 0h1m-0.5 0h1m2.5 0h1m1 0h1m0.5 0h1m25 0h1m79 0h1m11.5 0h1m4.5 0h1m17.5 0h1m15 0h1m101 0h1m0.5 0h1m3.5 0h1m124.5 0h1m-415 0.5h1m9.5 0h1m1 0h1m4.5 0h1m15 0h1m5 0h1m3.5 0h1m8.5 0h1m68 0h1m177 0h1m77.5 0h1m11 0h1m-386.5 0.5h1m1 0h1m0.5 0h1m-0.5 0h1m1.5 0h1m1.5 0h1m4.5 0h1m52.5 0h1m67.5 0h1m22 0h1m100 0h1m2.5 0h1m7.5 0h1m0 0h1m104.5 0h1m29 0h1m10 0h1m-423 0.5h1m-0.5 0h1m1 0h1m1 0h1m27.5 0h1m12 0h1m11.5 0h1m211.5 0h1m9 0h1m5 0h1m99.5 0h1m-259 0.5h1m18 0h1m249 0h1m-200 42.5h1m-151.5 2h1m214.5 0h1m-256.5 1h1m113 0.5h1m148.5 0h1m3 0h1m-250 1h1m90.5 0h1m-125.5 0.5h1m79 0h1m55 0h1m9.5 0h1m46.5 0h1m241.5 0h1m-436.5 0.5h1m31 0h1m-0.5 0h1m104 0h1m3 0h1m18.5 0h1m-160.5 0.5h1m121.5 0h1m9.5 0h1m8.5 0h1m41.5 0h1m-189.5 0.5h1m136 0h1m2 0h1m0 0h1m6.5 0h1m-147.5 0.5h1m4 0h1m124.5 0h1m122.5 0h1m20 0h1m-276 0.5h1m133.5 0h1m15 0h1m105.5 0h1m5 0h1m115.5 0h1m-382 0.5h1m10.5 0h1m1.5 0h1m110.5 0h1m251 0h1m10 0h1m-388 0.5h1m1 0h1m15 0h1m121 0h1m4 0h1m45.5 0h1m182 0h1m0.5 0h1m9 0h1m-382.5 0.5h1m8 0h1m-0.5 0h1m1 0h1m5.5 0h1m10.5 0h1m222.5 0h1m163.5 0h1m-418.5 0.5h1m3.5 0h1m113 0h1m15.5 0h1m1 0h1m112.5 0h1m6 0h1m15.5 0h1m41 0h1m-317.5 0.5h1m4 0h1m6.5 0h1m2 0h1m17 0h1m5 0h1m18.5 0h1m59 0h1m26.5 0h1m102.5 0h1m34 0h1m84 0h1m-0.5 0h1m5.5 0h1m35.5 0h1m-420 0.5h1m3 0h1m0.5 0h1m0 0h1m7 0h1m48.5 0h1m63 0h1m1 0h1m7.5 0h1m4 0h1m3.5 0h1m1.5 0h1m141 0h1m82.5 0h1m70 0h1m-447.5 0.5h1m10.5 0h1m4.5 0h1m7 0h1m106 0h1m1.5 0h1m2 0h1m113 0h1m1.5 0h1m128.5 0h1m-0.5 0h1m3.5 0h1m-389 0.5h1m3 0h1m3 0h1m13 0h1m13 0h1m86.5 0h1m-0.5 0h1m7.5 0h1m3.5 0h1m117 0h1m6.5 0h1m11 0h1m5.5 0h1m13 0h1m87.5 0h1m0 0h1m-371.5 0.5h1m7 0h1m25 0h1m74.5 0h1m17.5 0h1m1 0h1m6.5 0h1m2 0h1m119 0h1m7.5 0h1m91 0h1m4 0h1m-359 0.5h1m40 0h1m4 0h1m64 0h1m14 0h1m0 0h1m1.5 0h1m1.5 0h1m0 0h1m101.5 0h1m1.5 0h1m3.5 0h1m109.5 0h1m1.5 0h1m22 0h1m-403 0.5h1m4.5 0h1m0.5 0h1m3.5 0h1m12.5 0h1m40 0h1m100.5 0h1m95.5 0h1m6.5 0h1m11 0h1m92 0h1m-0.5 0h1m0 0h1m4.5 0h1m-384 0.5h1m6 0h1m1 0h1m4.5 0h1m54.5 0h1m69 0h1m7 0h1m5.5 0h1m111.5 0h1m-256 0.5h1m121.5 0h1m0 0h1m11.5 0h1m5 0h1m4 0h1m93 0h1m10.5 0h1m5.5 0h1m5.5 0h1m10 0h1m87 0h1m41.5 0h1m-406 0.5h1m18 0h1m95.5 0h1m15 0h1m13 0h1m109 0h1m114.5 0h1m2.5 0h1m-381 0.5h1m13.5 0h1m47 0h1m61.5 0h1m-0.5 0h1m0 0h1m10 0h1m17 0h1m87.5 0h1m7.5 0h1m6 0h1m109.5 0h1m-0.5 0h1m2.5 0h1m2.5 0h1m-365 0.5h1m128.5 0h1m43.5 0h1m63.5 0h1m5.5 0h1m3 0h1m1 0h1m9 0h1m99 0h1m-379 0.5h1m3 0h1m22.5 0h1m91.5 0h1m252 0h1m5.5 0h1m-0.5 0h1m-261 0.5h1m136.5 0h1m6.5 0h1m18.5 0h1m88 0h1m0 0h1m-0.5 0h1m1.5 0h1m-0.5 0h1m31.5 0h1m-415 0.5h1m9 0h1m15.5 0h1m48.5 0h1m52 0h1m3.5 0h1m31 0h1m85 0h1m9.5 0h1m21 0h1m90 0h1m10 0h1m-256.5 0.5h1m32.5 0h1m12 0h1m148.5 0h1m47 0h1m1.5 0h1m-371.5 0.5h1m4.5 0h1m114.5 0h1m13.5 0h1m40 0h1m81 0h1m11.5 0h1m-272 0.5h1m40 0h1m81.5 0h1m18.5 0h1m108 0h1m9.5 0h1m15.5 0h1m88.5 0h1m-348 0.5h1m221.5 0h1m122.5 0h1m-0.5 0h1m7 0h1m23.5 0h1m-373.5 0.5h1m17.5 0h1m127.5 0h1m90 0h1m105.5 0h1m12.5 0h1m-319.5 0.5h1m190.5 0h1m114 0h1m-2 0.5h1m-111 0.5h1m-263 0.5h1m261 0h1m1 0h1m102.5 0h1m10 0h1m-123 0.5h1m113 0h1m-0.5 0h1m-89 0.5h1m83 0h1m1.5 0h1m35 0h1m-226 0.5h1m4.5 0h1m84.5 0h1m58.5 0h1m73 0h1m-263 0.5h1m39 0h1m74 0h1m13 0h1m111 0h1m-258 0.5h1m131 0h1m2.5 0h1m103 0h1m-167.5 0.5h1m195 0h1m51 0h1m-273.5 0.5h1m83 0h1m-88.5 1h1m75 0h1m-60 0.5h1m0 0h1m84 0h1m4 0h1m1.5 0h1m118 0.5h1m-275 1h1m265 0h1m-135 0.5h1m126.5 0h1m-236.5 0.5h1m126.5 0h1m99.5 0h1m9.5 0h1m-372 1.5h1m103.5 1.5h1m141.5 0h1m119 1.5h1m21.5 1h1m-222 0.5h1m-186.5 0.5h1m1 0h1m39 0h1m200 0.5h1m24.5 0.5h1m27 1h1m15.5 0h1m-183.5 0.5h1m-65 0.5h1m190.5 0h1m1.5 0h1m-111.5 1.5h1m50 0h1m65.5 1h1m22.5 0h1m-108.5 1h1m3 0h1m8.5 0.5h1m74.5 0h1m151 0h1m-230 0.5h1m-36 0.5h1m26 0h1m2.5 0h1m-147.5 0.5h1m104.5 0.5h1m30.5 0.5h1m16 0h1m51 0h1m13 0h1m-82.5 0.5h1m11.5 0h1m-42 0.5h1m23.5 0h1m76 0h1m49 0h1m-13.5 0.5h1m5 0h1m-284.5 0.5h1m116 0h1m69 0h1m53 0h1m2 0h1m0 0h1m111.5 0h1m55.5 0h1m-441.5 0.5h1m269.5 0h1m3.5 0h1m5 0h1m1 0h1m1.5 0h1m3.5 0h1m2 0h1m24 0h1m116 0h1m-379 0.5h1m137 0h1m66.5 0h1m1.5 0h1m-0.5 0h1m5.5 0h1m5.5 0h1m112 0h1m-179 0.5h1m46.5 0h1m11.5 0h1m10 0h1m0 0h1m3.5 0h1m0.5 0h1m-0.5 0h1m1 0h1m9 0h1m-290 0.5h1m134.5 0h1m47.5 0h1m60.5 0h1m11 0h1m2.5 0h1m3 0h1m0 0h1m1.5 0h1m4 0h1m97.5 0h1m38.5 0h1m-282.5 0.5h1m112.5 0h1m-0.5 0h1m5.5 0h1m11 0h1m0.5 0h1m-0.5 0h1m142.5 0h1m-369.5 0.5h1m205 0h1m4.5 0h1m2 0h1m7.5 0h1m5 0h1m100 0h1m-248 0.5h1m1.5 0h1m0.5 0h1m125.5 0h1m8 0h1m-0.5 0h1m2 0h1m2 0h1m10 0h1m3 0h1m88 0h1m5.5 0h1m-0.5 0h1m38 0h1m-424 0.5h1m15 0h1m109 0h1m121.5 0h1m8.5 0h1m4 0h1m-0.5 0h1m-0.5 0h1m0 0h1m-0.5 0h1m3.5 0h1m2 0h1m10.5 0h1m0 0h1m18 0h1m59.5 0h1m6 0h1m2 0h1m4.5 0h1m0.5 0h1m1 0h1m2.5 0h1m-378.5 0.5h1m3 0h1m160.5 0h1m15 0h1m61.5 0h1m1.5 0h1m-0.5 0h1m0.5 0h1m-0.5 0h1m12 0h1m0.5 0h1m4.5 0h1m0.5 0h1m4.5 0h1m93 0h1m-377 0.5h1m127.5 0h1m52.5 0h1m6 0h1m55.5 0h1m1.5 0h1m1 0h1m1.5 0h1m0 0h1m2.5 0h1m-0.5 0h1m6 0h1m0.5 0h1m4 0h1m1 0h1m1 0h1m32 0h1m74 0h1m16 0h1m-398 0.5h1m23 0h1m98 0h1m58 0h1m51 0h1m13 0h1m3 0h1m3 0h1m3.5 0h1m3.5 0h1m2 0h1m96.5 0h1m2.5 0h1m-0.5 0h1m4 0h1m2 0h1m-0.5 0h1m-380 0.5h1m37.5 0h1m85 0h1m23.5 0h1m14.5 0h1m11 0h1m13 0h1m64.5 0h1m1 0h1m1.5 0h1m2 0h1m-0.5 0h1m-0.5 0h1m-0.5 0h1m4 0h1m2.5 0h1m1.5 0h1m2 0h1m3 0h1m76.5 0h1m9.5 0h1m10 0h1m-394 0.5h1m9.5 0h1m0 0h1m166.5 0h1m0.5 0h1m71.5 0h1m1 0h1m1 0h1m-0.5 0h1m2 0h1m1.5 0h1m4.5 0h1m0 0h1m3 0h1m1.5 0h1m-0.5 0h1m4 0h1m3.5 0h1m102.5 0h1m2.5 0h1m27 0h1m-420.5 0.5h1m15.5 0h1m24.5 0h1m80 0h1m18.5 0h1m26 0h1m23.5 0h1m8.5 0h1m53 0h1m1.5 0h1m2.5 0h1m11.5 0h1m1.5 0h1m1.5 0h1m-0.5 0h1m1.5 0h1m1 0h1m0 0h1m14 0h1m7 0h1m5.5 0h1m51.5 0h1m4 0h1m0 0h1m3 0h1m2.5 0h1m0 0h1m1 0h1m0.5 0h1m-364.5 0.5h1m105 0h1m8 0h1m4.5 0h1m30 0h1m14.5 0h1m1.5 0h1m0 0h1m49.5 0h1m14 0h1m0 0h1m5 0h1m1.5 0h1m2 0h1m0.5 0h1m1.5 0h1m-0.5 0h1m0.5 0h1m3.5 0h1m4 0h1m88 0h1m-0.5 0h1m0 0h1m0.5 0h1m-0.5 0h1m1 0h1m3 0h1m-386 0.5h1m1 0h1m113 0h1m11 0h1m7 0h1m4 0h1m0 0h1m8.5 0h1m3 0h1m17 0h1m19 0h1m-0.5 0h1m7.5 0h1m48.5 0h1m5 0h1m1 0h1m0.5 0h1m3 0h1m-0.5 0h1m-0.5 0h1m1.5 0h1m0.5 0h1m-0.5 0h1m1.5 0h1m1 0h1m0 0h1m5.5 0h1m-0.5 0h1m1 0h1m3.5 0h1m5 0h1m5.5 0h1m72.5 0h1m3.5 0h1m1.5 0h1m-381 0.5h1m0 0h1m4.5 0h1m11.5 0h1m105 0h1m9 0h1m38 0h1m73 0h1m2 0h1m4 0h1m-0.5 0h1m-0.5 0h1m1 0h1m-0.5 0h1m3 0h1m-0.5 0h1m1 0h1m0 0h1m7.5 0h1m12 0h1m2.5 0h1m0.5 0h1m13 0h1m4 0h1m61.5 0h1m6 0h1m-380.5 0.5h1m3 0h1m1.5 0h1m0.5 0h1m11.5 0h1m20.5 0h1m16.5 0h1m60 0h1m8.5 0h1m7 0h1m39 0h1m63.5 0h1m2 0h1m-0.5 0h1m6.5 0h1m2 0h1m0 0h1m1.5 0h1m1.5 0h1m2 0h1m-0.5 0h1m1 0h1m2.5 0h1m1 0h1m0.5 0h1m-0.5 0h1m0.5 0h1m0 0h1m2 0h1m0 0h1m12 0h1m66 0h1m6 0h1m1.5 0h1m-0.5 0h1m1 0h1m8 0h1m5 0h1m10.5 0h1m12.5 0h1m0.5 0h1m8 0h1m-433 0.5h1m3 0h1m1.5 0h1m2.5 0h1m0 0h1m-0.5 0h1m5.5 0h1m-0.5 0h1m52.5 0h1m55 0h1m2.5 0h1m4.5 0h1m1 0h1m3.5 0h1m19 0h1m91 0h1m0.5 0h1m1.5 0h1m-0.5 0h1m0.5 0h1m0.5 0h1m0.5 0h1m0 0h1m0.5 0h1m1 0h1m1 0h1m-0.5 0h1m0 0h1m7 0h1m1 0h1m0 0h1m0 0h1m2.5 0h1m3.5 0h1m0 0h1m9 0h1m64.5 0h1m3.5 0h1m0.5 0h1m7.5 0h1m-0.5 0h1m1 0h1m2.5 0h1m0.5 0h1m8 0h1m15 0h1m-423.5 0.5h1m16 0h1m0.5 0h1m8.5 0h1m33 0h1m3.5 0h1m62.5 0h1m5.5 0h1m4 0h1m17.5 0h1m42.5 0h1m1 0h1m54 0h1m3.5 0h1m6 0h1m0 0h1m0 0h1m1 0h1m0 0h1m2.5 0h1m1.5 0h1m2.5 0h1m-0.5 0h1m0 0h1m0.5 0h1m1 0h1m3.5 0h1m1.5 0h1m76.5 0h1m-0.5 0h1m3.5 0h1m0 0h1m0 0h1m0.5 0h1m6 0h1m0 0h1m4.5 0h1m-0.5 0h1m20.5 0h1m-409 0.5h1m7.5 0h1m2 0h1m1 0h1m45.5 0h1m63 0h1m3.5 0h1m2 0h1m0 0h1m0 0h1m2.5 0h1m4.5 0h1m5.5 0h1m3.5 0h1m2 0h1m3 0h1m7 0h1m7.5 0h1m2.5 0h1m3.5 0h1m5 0h1m49 0h1m10.5 0h1m3 0h1m2.5 0h1m2 0h1m0 0h1m2.5 0h1m1 0h1m-0.5 0h1m-0.5 0h1m-0.5 0h1m-0.5 0h1m-0.5 0h1m0 0h1m-0.5 0h1m0 0h1m0 0h1m4 0h1m1 0h1m2.5 0h1m2 0h1m3.5 0h1m2.5 0h1m9 0h1m55.5 0h1m-0.5 0h1m2.5 0h1m1 0h1m0.5 0h1m1 0h1m4 0h1m0.5 0h1m37 0h1m-424 0.5h1m7 0h1m8 0h1m-0.5 0h1m0.5 0h1m52.5 0h1m59.5 0h1m-0.5 0h1m17 0h1m2 0h1m12.5 0h1m16 0h1m9.5 0h1m52.5 0h1m0 0h1m1.5 0h1m5.5 0h1m1 0h1m-0.5 0h1m1.5 0h1m1.5 0h1m1 0h1m0.5 0h1m0 0h1m1 0h1m0 0h1m-0.5 0h1m1 0h1m0 0h1m0.5 0h1m1 0h1m-0.5 0h1m2.5 0h1m2.5 0h1m-0.5 0h1m-0.5 0h1m-0.5 0h1m7 0h1m70.5 0h1m6.5 0h1m4.5 0h1m-0.5 0h1m0.5 0h1m0 0h1m-0.5 0h1m-0.5 0h1m1.5 0h1m0.5 0h1m0 0h1m-0.5 0h1m18 0h1m-409 0.5h1m3.5 0h1m1.5 0h1m1 0h1m-0.5 0h1m0 0h1m0 0h1m34.5 0h1m75 0h1m3 0h1m4 0h1m3.5 0h1m1 0h1m1 0h1m3 0h1m39.5 0h1m68 0h1m2 0h1m-0.5 0h1m0 0h1m1 0h1m-0.5 0h1m2.5 0h1m-0.5 0h1m-0.5 0h1m0 0h1m-0.5 0h1m0 0h1m-0.5 0h1m2 0h1m0.5 0h1m0 0h1m-0.5 0h1m-0.5 0h1m0.5 0h1m1 0h1m1.5 0h1m96.5 0h1m0.5 0h1m0 0h1m1 0h1m0.5 0h1m1 0h1m-389 0.5h1m1 0h1m2.5 0h1m1 0h1m1.5 0h1m49.5 0h1m62 0h1m0.5 0h1m1 0h1m5.5 0h1m0.5 0h1m4 0h1m0 0h1m2 0h1m12.5 0h1m27.5 0h1m3.5 0h1m1 0h1m54.5 0h1m5.5 0h1m2 0h1m0 0h1m2.5 0h1m4 0h1m-0.5 0h1m-0.5 0h1m0.5 0h1m-0.5 0h1m0 0h1m0 0h1m0 0h1m-0.5 0h1m0 0h1m1.5 0h1m-0.5 0h1m0.5 0h1m1 0h1m-0.5 0h1m8.5 0h1m78.5 0h1m4.5 0h1m0.5 0h1m2.5 0h1m0 0h1m-0.5 0h1m1 0h1m1.5 0h1m-0.5 0h1m6.5 0h1m31 0h1m-424 0.5h1m2 0h1m1 0h1m0 0h1m-0.5 0h1m0 0h1m1 0h1m-0.5 0h1m1 0h1m1 0h1m46.5 0h1m59.5 0h1m0 0h1m-0.5 0h1m8 0h1m2.5 0h1m6 0h1m0.5 0h1m18 0h1m1.5 0h1m22 0h1m1 0h1m48 0h1m0.5 0h1m7.5 0h1m5 0h1m0.5 0h1m3.5 0h1m1.5 0h1m3.5 0h1m0.5 0h1m0 0h1m6.5 0h1m3 0h1m1 0h1m-0.5 0h1m-0.5 0h1m76.5 0h1m7.5 0h1m-0.5 0h1m0.5 0h1m0.5 0h1m-0.5 0h1m-0.5 0h1m2 0h1m1 0h1m-0.5 0h1m1 0h1m4 0h1m1 0h1m26.5 0h1m8 0h1m-436 0.5h1m2.5 0h1m10 0h1m2.5 0h1m1.5 0h1m34.5 0h1m1.5 0h1m64 0h1m4.5 0h1m2 0h1m6.5 0h1m2 0h1m0.5 0h1m3.5 0h1m4.5 0h1m4 0h1m3 0h1m13.5 0h1m-0.5 0h1m73.5 0h1m1 0h1m6.5 0h1m1 0h1m-0.5 0h1m0.5 0h1m0.5 0h1m1.5 0h1m-0.5 0h1m-0.5 0h1m0 0h1m0 0h1m0.5 0h1m1 0h1m-0.5 0h1m1.5 0h1m2 0h1m0 0h1m-0.5 0h1m5.5 0h1m0 0h1m0.5 0h1m12.5 0h1m64 0h1m5.5 0h1m3 0h1m0.5 0h1m-0.5 0h1m-0.5 0h1m-0.5 0h1m0 0h1m1 0h1m-0.5 0h1m3.5 0h1m20 0h1m-412.5 0.5h1m1.5 0h1m0 0h1m1 0h1m1.5 0h1m-0.5 0h1m1 0h1m5 0h1m3.5 0h1m1 0h1m0 0h1m52 0h1m40.5 0h1m3 0h1m2 0h1m7 0h1m2 0h1m2 0h1m0 0h1m-0.5 0h1m4.5 0h1m10 0h1m22.5 0h1m4.5 0h1m10 0h1m48.5 0h1m8.5 0h1m0 0h1m2 0h1m2 0h1m0 0h1m5.5 0h1m-0.5 0h1m-0.5 0h1m-0.5 0h1m0.5 0h1m0.5 0h1m-0.5 0h1m0 0h1m0.5 0h1m-0.5 0h1m1 0h1m0 0h1m5 0h1m8.5 0h1m70.5 0h1m7.5 0h1m-0.5 0h1m1 0h1m1.5 0h1m-0.5 0h1m0.5 0h1m0.5 0h1m-0.5 0h1m-0.5 0h1m0.5 0h1m0 0h1m0.5 0h1m39 0h1m-426.5 0.5h1m-0.5 0h1m1 0h1m3 0h1m2.5 0h1m1 0h1m1.5 0h1m30.5 0h1m68.5 0h1m4 0h1m5.5 0h1m3.5 0h1m0 0h1m2 0h1m9.5 0h1m12 0h1m18 0h1m12 0h1m62 0h1m0 0h1m-0.5 0h1m1 0h1m0 0h1m-0.5 0h1m1 0h1m-0.5 0h1m0 0h1m0.5 0h1m0 0h1m0 0h1m0.5 0h1m-0.5 0h1m1 0h1m0 0h1m-0.5 0h1m1.5 0h1m1 0h1m2.5 0h1m0.5 0h1m2 0h1m0 0h1m2.5 0h1m75.5 0h1m2 0h1m2 0h1m0 0h1m2.5 0h1m2 0h1m0 0h1m0 0h1m-0.5 0h1m2.5 0h1m-0.5 0h1m0 0h1m-0.5 0h1m1 0h1m31 0h1m-434 0.5h1m0 0h1m5 0h1m6.5 0h1m2.5 0h1m4.5 0h1m1 0h1m0 0h1m40.5 0h1m63 0h1m2.5 0h1m0.5 0h1m2 0h1m-0.5 0h1m0 0h1m2.5 0h1m0.5 0h1m4 0h1m11 0h1m1.5 0h1m87.5 0h1m1 0h1m1.5 0h1m2.5 0h1m4.5 0h1m1.5 0h1m-0.5 0h1m1.5 0h1m-0.5 0h1m0 0h1m0.5 0h1m-0.5 0h1m-0.5 0h1m1 0h1m1.5 0h1m3.5 0h1m1 0h1m0 0h1m3.5 0h1m-0.5 0h1m6 0h1m8 0h1m66 0h1m3.5 0h1m0 0h1m2 0h1m1.5 0h1m1 0h1m1 0h1m2.5 0h1m1.5 0h1m4.5 0h1m40.5 0h1m-446.5 0.5h1m3 0h1m4 0h1m1 0h1m-0.5 0h1m5 0h1m1 0h1m0.5 0h1m0 0h1m0 0h1m-0.5 0h1m1.5 0h1m0.5 0h1m0 0h1m10 0h1m16 0h1m7.5 0h1m-0.5 0h1m66.5 0h1m3.5 0h1m0 0h1m-0.5 0h1m1 0h1m2.5 0h1m-0.5 0h1m1.5 0h1m1 0h1m0 0h1m-0.5 0h1m3 0h1m31.5 0h1m10.5 0h1m52.5 0h1m9.5 0h1m-0.5 0h1m7.5 0h1m1 0h1m0 0h1m-0.5 0h1m1.5 0h1m3.5 0h1m-0.5 0h1m0 0h1m3.5 0h1m0.5 0h1m-0.5 0h1m0 0h1m-0.5 0h1m-0.5 0h1m2 0h1m9.5 0h1m6.5 0h1m63 0h1m5.5 0h1m-0.5 0h1m1 0h1m0.5 0h1m-0.5 0h1m-0.5 0h1m-0.5 0h1m0.5 0h1m0 0h1m0.5 0h1m2 0h1m1.5 0h1m0.5 0h1m-0.5 0h1m0.5 0h1m35 0h1m-436 0.5h1m-0.5 0h1m3.5 0h1m-0.5 0h1m1.5 0h1m0.5 0h1m-0.5 0h1m-0.5 0h1m0.5 0h1m-0.5 0h1m2 0h1m-0.5 0h1m0 0h1m-0.5 0h1m0 0h1m1.5 0h1m3 0h1m98 0h1m7.5 0h1m0.5 0h1m0.5 0h1m-0.5 0h1m1.5 0h1m-0.5 0h1m10.5 0h1m7.5 0h1m3 0h1m22.5 0h1m15 0h1m52 0h1m-0.5 0h1m0.5 0h1m8.5 0h1m1.5 0h1m-0.5 0h1m-0.5 0h1m-0.5 0h1m-0.5 0h1m0.5 0h1m0.5 0h1m-0.5 0h1m0 0h1m0 0h1m-0.5 0h1m-0.5 0h1m0 0h1m1 0h1m0.5 0h1m7 0h1m0.5 0h1m6.5 0h1m72 0h1m0.5 0h1m-0.5 0h1m0 0h1m0.5 0h1m2.5 0h1m1.5 0h1m1 0h1m0 0h1m0.5 0h1m0.5 0h1m-0.5 0h1m0.5 0h1m0.5 0h1m-0.5 0h1m0 0h1m-0.5 0h1m10 0h1m14.5 0h1m11 0h1m4 0h1m-443 0.5h1m4.5 0h1m0.5 0h1m-0.5 0h1m1.5 0h1m1 0h1m0 0h1m1 0h1m0.5 0h1m-0.5 0h1m-0.5 0h1m0.5 0h1m10 0h1m6 0h1m5 0h1m92 0h1m3 0h1m0.5 0h1m-0.5 0h1m-0.5 0h1m7 0h1m1.5 0h1m-0.5 0h1m37.5 0h1m59.5 0h1m19 0h1m0 0h1m0.5 0h1m1 0h1m1 0h1m-0.5 0h1m-0.5 0h1m0 0h1m1 0h1m-0.5 0h1m3 0h1m-0.5 0h1m5 0h1m1 0h1m14.5 0h1m5 0h1m63.5 0h1m3.5 0h1m0 0h1m1 0h1m0 0h1m-0.5 0h1m1 0h1m-0.5 0h1m1.5 0h1m-0.5 0h1m37.5 0h1m-435.5 0.5h1m3 0h1m0.5 0h1m0.5 0h1m4 0h1m0.5 0h1m0 0h1m0.5 0h1m-0.5 0h1m-0.5 0h1m-0.5 0h1m-0.5 0h1m2 0h1m-0.5 0h1m1 0h1m3 0h1m7 0h1m43 0h1m52.5 0h1m2.5 0h1m1 0h1m2 0h1m4.5 0h1m0.5 0h1m3 0h1m2 0h1m-0.5 0h1m8 0h1m94.5 0h1m4 0h1m2 0h1m-0.5 0h1m2.5 0h1m-0.5 0h1m3.5 0h1m3 0h1m2 0h1m-0.5 0h1m-0.5 0h1m0.5 0h1m0.5 0h1m-0.5 0h1m0.5 0h1m3.5 0h1m0 0h1m3 0h1m1 0h1m72.5 0h1m1 0h1m2.5 0h1m-0.5 0h1m1 0h1m1.5 0h1m0 0h1m0 0h1m-0.5 0h1m0 0h1m-0.5 0h1m-0.5 0h1m0 0h1m-0.5 0h1m0.5 0h1m1.5 0h1m0.5 0h1m4.5 0h1m3.5 0h1m13.5 0h1m-415.5 0.5h1m2 0h1m1.5 0h1m0 0h1m0 0h1m1 0h1m-0.5 0h1m-0.5 0h1m0 0h1m-0.5 0h1m0 0h1m2 0h1m40.5 0h1m59 0h1m-0.5 0h1m10 0h1m0 0h1m1.5 0h1m-0.5 0h1m1 0h1m1 0h1m-0.5 0h1m0.5 0h1m0 0h1m3 0h1m15.5 0h1m1 0h1m0 0h1m22.5 0h1m64 0h1m4.5 0h1m2 0h1m0.5 0h1m-0.5 0h1m0.5 0h1m0 0h1m2.5 0h1m2.5 0h1m0 0h1m0.5 0h1m0.5 0h1m-0.5 0h1m-0.5 0h1m1.5 0h1m0 0h1m1 0h1m2 0h1m85 0h1m0 0h1m-0.5 0h1m-0.5 0h1m1.5 0h1m-0.5 0h1m0 0h1m0.5 0h1m-0.5 0h1m-0.5 0h1m1 0h1m0 0h1m1.5 0h1m0.5 0h1m3 0h1m-399 0.5h1m4 0h1m0.5 0h1m2 0h1m0.5 0h1m0.5 0h1m0 0h1m-0.5 0h1m1.5 0h1m0.5 0h1m-0.5 0h1m5.5 0h1m17.5 0h1m15.5 0h1m9.5 0h1m11.5 0h1m47 0h1m1.5 0h1m-0.5 0h1m0 0h1m0.5 0h1m1.5 0h1m-0.5 0h1m1.5 0h1m3.5 0h1m-0.5 0h1m-0.5 0h1m3.5 0h1m-0.5 0h1m1.5 0h1m2 0h1m10 0h1m1 0h1m3 0h1m10.5 0h1m70.5 0h1m0.5 0h1m0 0h1m4.5 0h1m-0.5 0h1m-0.5 0h1m2.5 0h1m1.5 0h1m3 0h1m0.5 0h1m6 0h1m1.5 0h1m1 0h1m2.5 0h1m10.5 0h1m71 0h1m3 0h1m6.5 0h1m0.5 0h1m1.5 0h1m0.5 0h1m0 0h1m-0.5 0h1m-0.5 0h1m0 0h1m0.5 0h1m6 0h1m0 0h1m14.5 0h1m-423.5 0.5h1m1 0h1m2 0h1m5.5 0h1m1.5 0h1m-0.5 0h1m-0.5 0h1m0 0h1m-0.5 0h1m-0.5 0h1m-0.5 0h1m-0.5 0h1m0 0h1m0.5 0h1m-0.5 0h1m38 0h1m18.5 0h1m45 0h1m8 0h1m2 0h1m-0.5 0h1m0.5 0h1m1 0h1m-0.5 0h1m-0.5 0h1m0 0h1m-0.5 0h1m14.5 0h1m10.5 0h1m15.5 0h1m-0.5 0h1m71.5 0h1m7 0h1m0.5 0h1m1 0h1m1 0h1m0 0h1m0 0h1m2 0h1m1.5 0h1m1 0h1m0 0h1m0 0h1m-0.5 0h1m2 0h1m1 0h1m2 0h1m83 0h1m0.5 0h1m1.5 0h1m-0.5 0h1m-0.5 0h1m1 0h1m-0.5 0h1m2.5 0h1m0.5 0h1m-0.5 0h1m0.5 0h1m-0.5 0h1m0 0h1m4.5 0h1m0 0h1m-0.5 0h1m4 0h1m30.5 0h1m-438 0.5h1m4.5 0h1m2.5 0h1m0.5 0h1m-0.5 0h1m-0.5 0h1m0 0h1m0 0h1m0 0h1m0 0h1m-0.5 0h1m-0.5 0h1m-0.5 0h1m-0.5 0h1m-0.5 0h1m0.5 0h1m2.5 0h1m4 0h1m21 0h1m8 0h1m0 0h1m13.5 0h1m49.5 0h1m7 0h1m0 0h1m2 0h1m-0.5 0h1m2 0h1m1.5 0h1m0.5 0h1m1 0h1m1.5 0h1m9.5 0h1m21 0h1m76 0h1m0.5 0h1m-0.5 0h1m4 0h1m-0.5 0h1m2 0h1m-0.5 0h1m1 0h1m0 0h1m0 0h1m2.5 0h1m1 0h1m0 0h1m0.5 0h1m1 0h1m10.5 0h1m3 0h1m77.5 0h1m3 0h1m0.5 0h1m1 0h1m1.5 0h1m-0.5 0h1m-0.5 0h1m2 0h1m-0.5 0h1m3.5 0h1m8.5 0h1m9 0h1m-418 0.5h1m-0.5 0h1m4 0h1m2 0h1m0.5 0h1m0 0h1m0.5 0h1m0 0h1m1 0h1m2 0h1m1 0h1m-0.5 0h1m0.5 0h1m-0.5 0h1m0 0h1m1.5 0h1m2.5 0h1m102 0h1m4.5 0h1m-0.5 0h1m0.5 0h1m0 0h1m-0.5 0h1m0.5 0h1m2.5 0h1m0.5 0h1m0 0h1m2.5 0h1m-0.5 0h1m7.5 0h1m4 0h1m11 0h1m17 0h1m-0.5 0h1m53.5 0h1m14 0h1m8 0h1m0.5 0h1m2.5 0h1m-0.5 0h1m2.5 0h1m0.5 0h1m0.5 0h1m0.5 0h1m-0.5 0h1m0.5 0h1m-0.5 0h1m3 0h1m79 0h1m7.5 0h1m-0.5 0h1m0.5 0h1m-0.5 0h1m0 0h1m0 0h1m-0.5 0h1m-0.5 0h1m-0.5 0h1m1.5 0h1m0 0h1m-0.5 0h1m0.5 0h1m0 0h1m-0.5 0h1m-393 0.5h1m1 0h1m1 0h1m0.5 0h1m-0.5 0h1m3 0h1m-0.5 0h1m-0.5 0h1m0 0h1m0 0h1m2 0h1m-0.5 0h1m1 0h1m0.5 0h1m1 0h1m33.5 0h1m2.5 0h1m64 0h1m3 0h1m-0.5 0h1m1.5 0h1m2 0h1m-0.5 0h1m-0.5 0h1m-0.5 0h1m0.5 0h1m1 0h1m-0.5 0h1m-0.5 0h1m5 0h1m2 0h1m7 0h1m5.5 0h1m-0.5 0h1m13.5 0h1m70.5 0h1m3.5 0h1m4 0h1m0 0h1m1.5 0h1m3 0h1m-0.5 0h1m-0.5 0h1m0 0h1m0.5 0h1m4 0h1m0 0h1m-0.5 0h1m2.5 0h1m2.5 0h1m0.5 0h1m18 0h1m68 0h1m2.5 0h1m-0.5 0h1m0 0h1m0 0h1m0.5 0h1m0 0h1m0.5 0h1m1.5 0h1m0.5 0h1m-0.5 0h1m4 0h1m1.5 0h1m2 0h1m2 0h1m-408.5 0.5h1m5.5 0h1m0 0h1m1.5 0h1m0 0h1m1 0h1m-0.5 0h1m0.5 0h1m-0.5 0h1m-0.5 0h1m0 0h1m0.5 0h1m0.5 0h1m-0.5 0h1m4.5 0h1m2 0h1m1.5 0h1m2 0h1m11.5 0h1m6.5 0h1m78.5 0h1m-0.5 0h1m0 0h1m1 0h1m0 0h1m0 0h1m0.5 0h1m-0.5 0h1m-0.5 0h1m0.5 0h1m1 0h1m-0.5 0h1m1 0h1m1.5 0h1m12 0h1m26.5 0h1m62 0h1m15 0h1m2.5 0h1m-0.5 0h1m0 0h1m-0.5 0h1m2 0h1m-0.5 0h1m0 0h1m1.5 0h1m3.5 0h1m3 0h1m0.5 0h1m-0.5 0h1m1 0h1m80 0h1m0.5 0h1m1 0h1m4.5 0h1m-0.5 0h1m-0.5 0h1m-0.5 0h1m1 0h1m0.5 0h1m0 0h1m0 0h1m-0.5 0h1m-0.5 0h1m2 0h1m-0.5 0h1m1 0h1m-396 0.5h1m-0.5 0h1m0.5 0h1m1.5 0h1m2 0h1m-0.5 0h1m-0.5 0h1m-0.5 0h1m-0.5 0h1m-0.5 0h1m-0.5 0h1m0.5 0h1m1.5 0h1m1 0h1m0 0h1m-0.5 0h1m3 0h1m2.5 0h1m23.5 0h1m17.5 0h1m51.5 0h1m0.5 0h1m3.5 0h1m4.5 0h1m2.5 0h1m0 0h1m0 0h1m1 0h1m8 0h1m0 0h1m0 0h1m3 0h1m0 0h1m34 0h1m0.5 0h1m6 0h1m58 0h1m1.5 0h1m2.5 0h1m1 0h1m5.5 0h1m-0.5 0h1m2 0h1m4 0h1m4.5 0h1m3.5 0h1m79.5 0h1m2 0h1m3.5 0h1m0 0h1m-0.5 0h1m2.5 0h1m0 0h1m1 0h1m3 0h1m0 0h1m4 0h1m-394 0.5h1m-0.5 0h1m0.5 0h1m-0.5 0h1m1.5 0h1m0 0h1m-0.5 0h1m-0.5 0h1m0 0h1m-0.5 0h1m0 0h1m-0.5 0h1m0 0h1m-0.5 0h1m0 0h1m0 0h1m0.5 0h1m30 0h1m70 0h1m6 0h1m2 0h1m2 0h1m-0.5 0h1m3 0h1m-0.5 0h1m1 0h1m1.5 0h1m5 0h1m0 0h1m0.5 0h1m2 0h1m0.5 0h1m11.5 0h1m90 0h1m1 0h1m0 0h1m-0.5 0h1m0.5 0h1m0 0h1m1 0h1m-0.5 0h1m2 0h1m0 0h1m1.5 0h1m0.5 0h1m-0.5 0h1m0 0h1m0.5 0h1m7.5 0h1m1.5 0h1m13.5 0h1m66 0h1m1 0h1m2.5 0h1m-0.5 0h1m-0.5 0h1m1 0h1m0 0h1m-0.5 0h1m2 0h1m1 0h1m-0.5 0h1m6.5 0h1m0 0h1m-400.5 0.5h1m4 0h1m2 0h1m-0.5 0h1m1 0h1m0.5 0h1m1.5 0h1m0 0h1m-0.5 0h1m1.5 0h1m-0.5 0h1m-0.5 0h1m-0.5 0h1m57 0h1m50.5 0h1m5 0h1m1 0h1m1.5 0h1m1 0h1m0 0h1m-0.5 0h1m0.5 0h1m1 0h1m0 0h1m6.5 0h1m0.5 0h1m0.5 0h1m16 0h1m2 0h1m21 0h1m54.5 0h1m5.5 0h1m0.5 0h1m0 0h1m0.5 0h1m1 0h1m-0.5 0h1m-0.5 0h1m1 0h1m-0.5 0h1m2 0h1m-0.5 0h1m5.5 0h1m1 0h1m0.5 0h1m2 0h1m3 0h1m5.5 0h1m15 0h1m63.5 0h1m1 0h1m2.5 0h1m0 0h1m2 0h1m1 0h1m0.5 0h1m0.5 0h1m7.5 0h1m3.5 0h1m3 0h1m2 0h1m-414.5 0.5h1m5 0h1m0.5 0h1m0.5 0h1m2.5 0h1m1 0h1m1 0h1m39.5 0h1m6.5 0h1m0 0h1m2.5 0h1m60 0h1m1.5 0h1m1 0h1m1.5 0h1m1 0h1m0.5 0h1m1.5 0h1m2 0h1m1.5 0h1m-0.5 0h1m13.5 0h1m0 0h1m4 0h1m8.5 0h1m0.5 0h1m0.5 0h1m73 0h1m0 0h1m1.5 0h1m3 0h1m3 0h1m0 0h1m0 0h1m1.5 0h1m0.5 0h1m2.5 0h1m7.5 0h1m0.5 0h1m88.5 0h1m1 0h1m-0.5 0h1m0.5 0h1m2.5 0h1m0 0h1m-0.5 0h1m2 0h1m4 0h1m-0.5 0h1m4.5 0h1m4.5 0h1m21.5 0h1m7 0h1m-429.5 0.5h1m0.5 0h1m0.5 0h1m2 0h1m3.5 0h1m1.5 0h1m-0.5 0h1m3 0h1m7 0h1m24 0h1m6 0h1m61.5 0h1m2 0h1m7 0h1m2.5 0h1m1.5 0h1m0 0h1m-0.5 0h1m0 0h1m0.5 0h1m1.5 0h1m1.5 0h1m3 0h1m7.5 0h1m17.5 0h1m4.5 0h1m76 0h1m1 0h1m-0.5 0h1m6.5 0h1m-0.5 0h1m7 0h1m0.5 0h1m33.5 0h1m8.5 0h1m51 0h1m0.5 0h1m6 0h1m-0.5 0h1m1.5 0h1m0 0h1m16.5 0h1m30.5 0h1m-446 0.5h1m8.5 0h1m-0.5 0h1m0 0h1m-0.5 0h1m0.5 0h1m-0.5 0h1m-0.5 0h1m-0.5 0h1m0 0h1m0.5 0h1m-0.5 0h1m1.5 0h1m3 0h1m1 0h1m22.5 0h1m3.5 0h1m1.5 0h1m4.5 0h1m0 0h1m67 0h1m4 0h1m0 0h1m1 0h1m3.5 0h1m-0.5 0h1m2 0h1m2 0h1m4.5 0h1m-0.5 0h1m1.5 0h1m2.5 0h1m17.5 0h1m9.5 0h1m7.5 0h1m4 0h1m54 0h1m5.5 0h1m1 0h1m-0.5 0h1m13 0h1m29 0h1m2 0h1m67 0h1m-0.5 0h1m4.5 0h1m1.5 0h1m-0.5 0h1m0 0h1m3.5 0h1m-0.5 0h1m-390.5 0.5h1m0.5 0h1m1.5 0h1m0.5 0h1m0 0h1m-0.5 0h1m0.5 0h1m-0.5 0h1m-0.5 0h1m0.5 0h1m2 0h1m0 0h1m2 0h1m4.5 0h1m17 0h1m5.5 0h1m77 0h1m3 0h1m2.5 0h1m9.5 0h1m2.5 0h1m9.5 0h1m2.5 0h1m-0.5 0h1m0.5 0h1m14.5 0h1m75 0h1m5.5 0h1m6 0h1m11.5 0h1m11.5 0h1m4 0h1m1.5 0h1m65 0h1m2.5 0h1m0.5 0h1m0 0h1m4.5 0h1m-0.5 0h1m-0.5 0h1m-0.5 0h1m1.5 0h1m1.5 0h1m0.5 0h1m0 0h1m0.5 0h1m40.5 0h1m-431 0.5h1m-0.5 0h1m-0.5 0h1m0 0h1m0.5 0h1m1 0h1m0 0h1m0 0h1m-0.5 0h1m1 0h1m2.5 0h1m2.5 0h1m22 0h1m5.5 0h1m6.5 0h1m9 0h1m54 0h1m3.5 0h1m1 0h1m0.5 0h1m-0.5 0h1m2 0h1m0 0h1m-0.5 0h1m0 0h1m-0.5 0h1m-0.5 0h1m3.5 0h1m5 0h1m0.5 0h1m5.5 0h1m-0.5 0h1m0 0h1m102.5 0h1m13 0h1m4 0h1m6.5 0h1m1 0h1m15 0h1m66 0h1m1.5 0h1m1.5 0h1m1 0h1m7 0h1m7 0h1m12 0h1m-411.5 0.5h1m0.5 0h1m-0.5 0h1m3 0h1m3 0h1m2 0h1m0.5 0h1m0.5 0h1m1 0h1m-0.5 0h1m2 0h1m1 0h1m14 0h1m25 0h1m66 0h1m0 0h1m2.5 0h1m-0.5 0h1m0 0h1m1 0h1m0.5 0h1m1 0h1m7.5 0h1m8 0h1m3.5 0h1m88 0h1m0.5 0h1m5.5 0h1m10.5 0h1m2 0h1m3.5 0h1m-0.5 0h1m1 0h1m5.5 0h1m1.5 0h1m3 0h1m2.5 0h1m1.5 0h1m72 0h1m0 0h1m5.5 0h1m0.5 0h1m-378.5 0.5h1m2 0h1m-0.5 0h1m-0.5 0h1m-0.5 0h1m0 0h1m-0.5 0h1m-0.5 0h1m-0.5 0h1m8.5 0h1m21.5 0h1m2.5 0h1m19 0h1m56.5 0h1m0 0h1m2.5 0h1m-0.5 0h1m0.5 0h1m5 0h1m0.5 0h1m1 0h1m7 0h1m10 0h1m1 0h1m1 0h1m3 0h1m84.5 0h1m16.5 0h1m0 0h1m12.5 0h1m0 0h1m2 0h1m1.5 0h1m77.5 0h1m2.5 0h1m5.5 0h1m2 0h1m0.5 0h1m-0.5 0h1m4 0h1m3.5 0h1m44 0h1m-440 0.5h1m1 0h1m0.5 0h1m-0.5 0h1m0 0h1m0 0h1m1 0h1m1 0h1m0 0h1m0 0h1m-0.5 0h1m0.5 0h1m-0.5 0h1m2 0h1m1.5 0h1m7 0h1m13 0h1m10.5 0h1m75.5 0h1m1.5 0h1m1.5 0h1m0 0h1m5.5 0h1m-0.5 0h1m2.5 0h1m8 0h1m1 0h1m6 0h1m94.5 0h1m4.5 0h1m6 0h1m3.5 0h1m8.5 0h1m0 0h1m81 0h1m5 0h1m3 0h1m0 0h1m0.5 0h1m0 0h1m5.5 0h1m7.5 0h1m22.5 0h1m-425 0.5h1m4.5 0h1m0 0h1m1.5 0h1m-0.5 0h1m2 0h1m-0.5 0h1m-0.5 0h1m-0.5 0h1m-0.5 0h1m0.5 0h1m0 0h1m0 0h1m0 0h1m0 0h1m1 0h1m0 0h1m20 0h1m14 0h1m0.5 0h1m68 0h1m0 0h1m1.5 0h1m-0.5 0h1m1 0h1m-0.5 0h1m0.5 0h1m-0.5 0h1m1 0h1m-0.5 0h1m8.5 0h1m0 0h1m0 0h1m-0.5 0h1m1 0h1m8 0h1m10.5 0h1m4 0h1m79 0h1m16.5 0h1m2 0h1m0.5 0h1m2 0h1m-0.5 0h1m85.5 0h1m2.5 0h1m1 0h1m1.5 0h1m-0.5 0h1m1.5 0h1m0.5 0h1m1 0h1m1.5 0h1m-394.5 0.5h1m0 0h1m2 0h1m4 0h1m2 0h1m1.5 0h1m0.5 0h1m0.5 0h1m-0.5 0h1m-0.5 0h1m0 0h1m1 0h1m1.5 0h1m1 0h1m0 0h1m35 0h1m2.5 0h1m0 0h1m60 0h1m1 0h1m0.5 0h1m-0.5 0h1m5 0h1m0.5 0h1m5 0h1m0.5 0h1m0 0h1m-0.5 0h1m-0.5 0h1m-0.5 0h1m-0.5 0h1m0.5 0h1m13 0h1m3.5 0h1m88.5 0h1m0 0h1m6.5 0h1m-0.5 0h1m3.5 0h1m2.5 0h1m-0.5 0h1m7 0h1m7 0h1m0 0h1m11 0h1m77 0h1m3.5 0h1m2 0h1m-0.5 0h1m-383.5 0.5h1m2.5 0h1m1 0h1m0.5 0h1m-0.5 0h1m0.5 0h1m-0.5 0h1m1 0h1m114.5 0h1m0.5 0h1m4 0h1m1 0h1m0.5 0h1m0.5 0h1m5 0h1m2 0h1m1 0h1m-0.5 0h1m0 0h1m1.5 0h1m96.5 0h1m5.5 0h1m10 0h1m10 0h1m4.5 0h1m86.5 0h1m1 0h1m0 0h1m-0.5 0h1m1 0h1m-0.5 0h1m13.5 0h1m1.5 0h1m-403.5 0.5h1m5 0h1m2.5 0h1m2 0h1m4.5 0h1m3.5 0h1m112 0h1m0.5 0h1m5.5 0h1m1.5 0h1m2.5 0h1m1 0h1m9 0h1m1 0h1m13 0h1m9.5 0h1m2 0h1m66 0h1m11 0h1m4.5 0h1m10.5 0h1m4 0h1m83 0h1m2 0h1m2.5 0h1m2 0h1m-0.5 0h1m0.5 0h1m1.5 0h1m7 0h1m28 0h1m-421.5 0.5h1m-0.5 0h1m1 0h1m0 0h1m0.5 0h1m3 0h1m-0.5 0h1m0 0h1m0.5 0h1m0.5 0h1m14 0h1m2 0h1m8.5 0h1m5 0h1m8 0h1m25 0h1m33.5 0h1m7.5 0h1m1 0h1m0 0h1m1 0h1m3.5 0h1m-0.5 0h1m4 0h1m4 0h1m14 0h1m107.5 0h1m112.5 0h1m5 0h1m2 0h1m22 0h1m-424.5 0.5h1m1 0h1m3.5 0h1m2 0h1m1.5 0h1m0 0h1m0.5 0h1m2 0h1m1.5 0h1m2.5 0h1m0 0h1m-0.5 0h1m34.5 0h1m1.5 0h1m1 0h1m77.5 0h1m1.5 0h1m3 0h1m6 0h1m45.5 0h1m52 0h1m12 0h1m3 0h1m6.5 0h1m9.5 0h1m11.5 0h1m73.5 0h1m1 0h1m16 0h1m12.5 0h1m-404.5 0.5h1m0 0h1m0.5 0h1m-0.5 0h1m1.5 0h1m3.5 0h1m-0.5 0h1m-0.5 0h1m-0.5 0h1m1 0h1m0.5 0h1m4 0h1m33 0h1m73.5 0h1m-0.5 0h1m0 0h1m1.5 0h1m3 0h1m1.5 0h1m-0.5 0h1m6.5 0h1m6 0h1m-0.5 0h1m30 0h1m66 0h1m2 0h1m-0.5 0h1m5 0h1m2.5 0h1m0.5 0h1m0 0h1m1 0h1m2.5 0h1m16.5 0h1m92.5 0h1m-376 0.5h1m1 0h1m2 0h1m1 0h1m-0.5 0h1m20 0h1m11 0h1m78.5 0h1m6.5 0h1m0 0h1m3 0h1m13.5 0h1m11 0h1m3 0h1m1 0h1m2.5 0h1m79 0h1m4.5 0h1m0 0h1m-0.5 0h1m7 0h1m8.5 0h1m6 0h1m78.5 0h1m0 0h1m12 0h1m0.5 0h1m-385 0.5h1m1 0h1m5 0h1m-0.5 0h1m2 0h1m1 0h1m1 0h1m113 0h1m-0.5 0h1m2.5 0h1m9 0h1m11.5 0h1m90.5 0h1m25.5 0h1m5 0h1m89.5 0h1m3.5 0h1m5 0h1m19 0h1m-403 0.5h1m6.5 0h1m2.5 0h1m38 0h1m79.5 0h1m2 0h1m1.5 0h1m0.5 0h1m0.5 0h1m5 0h1m1 0h1m114 0h1m1.5 0h1m3 0h1m0 0h1m4.5 0h1m6.5 0h1m3 0h1m86.5 0h1m6 0h1m4.5 0h1m-395 0.5h1m3.5 0h1m-0.5 0h1m11 0h1m-0.5 0h1m8 0h1m5.5 0h1m33.5 0h1m70 0h1m17.5 0h1m21 0h1m14 0h1m66 0h1m33.5 0h1m3.5 0h1m1 0h1m84 0h1m35 0h1m-423.5 0.5h1m14.5 0h1m2.5 0h1m0.5 0h1m-0.5 0h1m-0.5 0h1m5 0h1m1 0h1m6.5 0h1m26 0h1m60 0h1m14.5 0h1m22.5 0h1m5 0h1m-155.5 0.5h1m0 0h1m1.5 0h1m52.5 0h1m54.5 0h1m7.5 0h1m8.5 0h1m1 0h1m4.5 0h1m33.5 0h1m94 0h1m115.5 0h1m3.5 0h1m-389.5 0.5h1m3 0h1m124.5 0h1m124 0h1m0.5 0h1m3 0h1m107 0h1m54 0h1m-438.5 0.5h1m14.5 0h1m0 0h1m0 0h1m0.5 0h1m2 0h1m109.5 0h1m9 0h1m2 0h1m-0.5 0h1m-0.5 0h1m2 0h1m0.5 0h1m15 0h1m87.5 0h1m20.5 0h1m14 0h1m89.5 0h1m9.5 0h1" stroke="#000" stroke-width="1.2" stroke-opacity="0.7" fill="none"/>
<path d="M195.5 255.5h1m-101 1.5h1m95 0h1m-76 1.5h1m60 1.5h1m-125 1h1m11.5 0.5h1m122.5 0h1m-133.5 0.5h1m124 0h1m20 0.5h1m106 0h1m-119.5 0.5h1m137 0h1m7.5 0h1m-281 0.5h1m19.5 0h1m113.5 0h1m142.5 0h1m-285.5 0.5h1m1 0h1m8 0h1m115.5 0h1m81 0h1m48.5 0h1m-265.5 0.5h1m8.5 0h1m5.5 0h1m112 0h1m9.5 0h1m11 0h1m-142 0.5h1m4.5 0h1m3.5 0h1m14 0h1m139 0h1m21.5 0h1m-189 0.5h1m8 0h1m51.5 0h1m62 0h1m0.5 0h1m8.5 0h1m42.5 0h1m-181 0.5h1m-0.5 0h1m2.5 0h1m-0.5 0h1m0 0h1m4.5 0h1m0 0h1m11 0h1m32 0h1m71 0h1m4.5 0h1m131.5 0h1m168 0h1m-444 0.5h1m7 0h1m13.5 0h1m31 0h1m32.5 0h1m32.5 0h1m-0.5 0h1m28 0h1m226.5 0h1m13 0h1m-391.5 0.5h1m3.5 0h1m114.5 0h1m20.5 0h1m11.5 0h1m27.5 0h1m-0.5 0h1m3 0h1m-192.5 0.5h1m3.5 0h1m0 0h1m3 0h1m1 0h1m14 0h1m0 0h1m97 0h1m63 0h1m1 0h1m0 0h1m147.5 0h1m-339 0.5h1m4 0h1m-0.5 0h1m0.5 0h1m12.5 0h1m3.5 0h1m31 0h1m69.5 0h1m4 0h1m3 0h1m30 0h1m30 0h1m49.5 0h1m122.5 0h1m-376 0.5h1m6 0h1m7.5 0h1m47.5 0h1m75 0h1m20.5 0h1m16.5 0h1m6 0h1m78.5 0h1m0 0h1m30 0h1m-299.5 0.5h1m4.5 0h1m2 0h1m1.5 0h1m4 0h1m2.5 0h1m6 0h1m62.5 0h1m42 0h1m49.5 0h1m11.5 0h1m61.5 0h1m24.5 0h1m28 0h1m13.5 0h1m0.5 0h1m-330 0.5h1m6.5 0h1m1 0h1m2.5 0h1m8 0h1m103 0h1m61.5 0h1m5 0h1m4 0h1m175.5 0h1m9 0h1m-387 0.5h1m8 0h1m2 0h1m2 0h1m11 0h1m25.5 0h1m79.5 0h1m22 0h1m15.5 0h1m1 0h1m18 0h1m7 0h1m8 0h1m40 0h1m31.5 0h1m10 0h1m9.5 0h1m21 0h1m46 0h1m13.5 0h1m1.5 0h1m-393 0.5h1m9.5 0h1m0 0h1m-0.5 0h1m0.5 0h1m9.5 0h1m3 0h1m11 0h1m97.5 0h1m46.5 0h1m11.5 0h1m188.5 0h1m-390 0.5h1m13.5 0h1m110 0h1m15.5 0h1m54.5 0h1m4.5 0h1m51 0h1m-0.5 0h1m5 0h1m1.5 0h1m4 0h1m10 0h1m31.5 0h1m11.5 0h1m50.5 0h1m13 0h1m15.5 0h1m26 0h1m-421 0.5h1m5 0h1m52.5 0h1m9 0h1m41.5 0h1m6 0h1m62 0h1m3.5 0h1m1 0h1m2 0h1m71 0h1m5.5 0h1m38.5 0h1m52.5 0h1m-370.5 0.5h1m0.5 0h1m5.5 0h1m30 0h1m5.5 0h1m92 0h1m12 0h1m19.5 0h1m2.5 0h1m22.5 0h1m57 0h1m128.5 0h1m-390.5 0.5h1m-0.5 0h1m8 0h1m9 0h1m0 0h1m4.5 0h1m122 0h1m40.5 0h1m3 0h1m2.5 0h1m1 0h1m59.5 0h1m125.5 0h1m-378.5 0.5h1m13 0h1m96.5 0h1m16.5 0h1m9.5 0h1m-0.5 0h1m14 0h1m24.5 0h1m57 0h1m3.5 0h1m9.5 0h1m118.5 0h1m54.5 0h1m-443.5 0.5h1m0 0h1m-0.5 0h1m5 0h1m-0.5 0h1m6 0h1m1.5 0h1m125 0h1m4.5 0h1m37.5 0h1m3 0h1m4.5 0h1m-0.5 0h1m3 0h1m62 0h1m4.5 0h1m2 0h1m17 0h1m2.5 0h1m4 0h1m81.5 0h1m0 0h1m-373.5 0.5h1m6.5 0h1m6 0h1m99 0h1m34 0h1m29.5 0h1m89 0h1m104.5 0h1m8.5 0h1m-387.5 0.5h1m25 0h1m92 0h1m128.5 0h1m17.5 0h1m3 0h1m97 0h1m4.5 0h1m0 0h1m-0.5 0h1m-0.5 0h1m12 0h1m-384.5 0.5h1m7 0h1m46.5 0h1m58 0h1m6 0h1m36 0h1m15.5 0h1m0 0h1m1.5 0h1m3 0h1m-0.5 0h1m0.5 0h1m8 0h1m59.5 0h1m5.5 0h1m99.5 0h1m6.5 0h1m-0.5 0h1m10 0h1m-376 0.5h1m121 0h1m49.5 0h1m1 0h1m9.5 0h1m46.5 0h1m19 0h1m1.5 0h1m-0.5 0h1m103.5 0h1m5.5 0h1m0 0h1m2 0h1m-380 0.5h1m2 0h1m25.5 0h1m131 0h1m21 0h1m57 0h1m11 0h1m0.5 0h1m13.5 0h1m37.5 0h1m74.5 0h1m-0.5 0h1m-380 0.5h1m51.5 0h1m129 0h1m7.5 0h1m47.5 0h1m26 0h1m14 0h1m82 0h1m1.5 0h1m10.5 0h1m7 0h1m-394.5 0.5h1m189.5 0h1m2 0h1m71 0h1m10.5 0h1m88.5 0h1m2.5 0h1m22 0h1m-369 0.5h1m161 0h1m2 0h1m183 0h1m1 0h1m0.5 0h1m0 0h1m1 0h1m18 0h1m-264.5 0.5h1m48 0h1m181.5 0h1m8 0h1m-187.5 0.5h1m59.5 0h1m2 0h1m27 0h1m31 0h1m-0.5 0h1m0.5 0h1m70 0h1m3.5 0h1m-401 0.5h1m11.5 0h1m184 0h1m61.5 0h1m12.5 0h1m1 0h1m50.5 0h1m79.5 0h1m-265 0.5h1m130.5 0h1m112 0h1m6.5 0h1m-121 0.5h1m5.5 0h1m52 0h1m5.5 0h1m43 0h1m-333.5 0.5h1m132.5 0h1m72 0h1m8 0h1m2 0h1m3 0h1m36 0h1m5 0h1m10.5 0h1m59 0h1m2.5 0h1m12.5 0h1m2 0h1m34.5 0h1m-129.5 0.5h1m4.5 0h1m52.5 0h1m4.5 0h1m10.5 0h1m7.5 0h1m46 0h1m-277 0.5h1m21.5 0h1m127.5 0h1m-133.5 0.5h1m73 0h1m12.5 0h1m15.5 0h1m-23 0.5h1m5.5 0h1m43 0h1m62.5 0h1m7 0h1m-131.5 0.5h1m20.5 0h1m111 0h1m54 0h1m-363.5 0.5h1m90.5 0h1m69 0h1m28 0h1m-11.5 0.5h1m17.5 0h1m-230 0.5h1m68 0h1m47 0h1m95 0h1m33.5 0h1m10.5 0h1m4 0h1m-0.5 0h1m-0.5 0h1m3.5 0h1m85.5 0h1m-41.5 1.5h1m-98.5 0.5h1m20 0h1m32 0h1m-187.5 0.5h1m238.5 0h1m59 0h1m-265.5 0.5h1m31 0h1m108 0h1m-50.5 0.5h1m-208 0.5h1m75.5 0h1m184 0.5h1m-14 0.5h1m-135.5 1h1m235 0h1m41 0.5h1m-163.5 0.5h1m24 0h1m109.5 0h1m-115.5 0.5h1m6 0h1m139.5 0h1m-331.5 0.5h1m59 1h1m143.5 0h1m-285.5 0.5h1m84 0h1m66 0h1m89 1h1m22 0h1m-193.5 0.5h1m62.5 0h1m3 0h1m114.5 0h1m10 0h1m69.5 0h1m-322.5 0.5h1m72.5 0h1m58.5 0h1m101 0h1m-154 0.5h1m-21 0.5h1m40.5 0h1m17.5 0h1m14 0h1m46 0h1m54.5 0h1m133 0h1m-120.5 0.5h1m83.5 0h1m-254 0.5h1m27 0h1m5.5 0h1m3 0h1m19 0h1m46.5 0h1m48 0h1m87 0h1m-383.5 0.5h1m136.5 0h1m110 0h1m25 0h1m34 0h1m111 0h1m-386 0.5h1m78 0h1m7.5 0h1m14 0h1m1 0h1m39 0h1m113 0h1m89 0h1m-265.5 0.5h1m10.5 0h1m66 0h1m59 0h1m7 0h1m4.5 0h1m20.5 0h1m11 0h1m110.5 0h1m-306.5 0.5h1m9.5 0h1m2.5 0h1m-0.5 0h1m39 0h1m9.5 0h1m11.5 0h1m69.5 0h1m1.5 0h1m30.5 0h1m2.5 0h1m-173 0.5h1m7 0h1m4 0h1m24.5 0h1m11.5 0h1m0 0h1m17.5 0h1m79.5 0h1m25.5 0h1m14 0h1m62.5 0h1m4 0h1m-369.5 0.5h1m106.5 0h1m4.5 0h1m3 0h1m48 0h1m2.5 0h1m70 0h1m1 0h1m7 0h1m44.5 0h1m75.5 0h1m10 0h1m-398.5 0.5h1m123 0h1m5 0h1m0.5 0h1m30 0h1m3 0h1m13 0h1m64.5 0h1m5.5 0h1m0.5 0h1m1.5 0h1m24.5 0h1m20 0h1m74 0h1m55 0h1m-443 0.5h1m59.5 0h1m57 0h1m17 0h1m-0.5 0h1m125 0h1m3 0h1m3.5 0h1m22.5 0h1m7.5 0h1m69.5 0h1m40.5 0h1m-412.5 0.5h1m8.5 0h1m118 0h1m3 0h1m1 0h1m-0.5 0h1m0 0h1m2 0h1m-0.5 0h1m-0.5 0h1m16 0h1m0.5 0h1m19.5 0h1m67.5 0h1m7 0h1m2 0h1m16.5 0h1m6 0h1m3 0h1m13 0h1m81.5 0h1m-328.5 0.5h1m54 0h1m11.5 0h1m0.5 0h1m2 0h1m6.5 0h1m1 0h1m6.5 0h1m3 0h1m9.5 0h1m6.5 0h1m1 0h1m4 0h1m70 0h1m3 0h1m6 0h1m2.5 0h1m2.5 0h1m1.5 0h1m5 0h1m2 0h1m5 0h1m-0.5 0h1m5 0h1m3 0h1m16 0h1m71 0h1m35 0h1m-306 0.5h1m0.5 0h1m2 0h1m0 0h1m3 0h1m2.5 0h1m3 0h1m13 0h1m25 0h1m14 0h1m62 0h1m6.5 0h1m-0.5 0h1m2 0h1m3 0h1m0.5 0h1m2.5 0h1m-0.5 0h1m0 0h1m2.5 0h1m5.5 0h1m0 0h1m2 0h1m80 0h1m8 0h1m2 0h1m1.5 0h1m-0.5 0h1m37 0h1m-294.5 0.5h1m0.5 0h1m0 0h1m-0.5 0h1m19.5 0h1m23.5 0h1m15 0h1m57 0h1m6 0h1m15 0h1m3 0h1m0 0h1m1 0h1m5 0h1m16 0h1m5 0h1m64 0h1m4.5 0h1m20.5 0h1m-392 0.5h1m6 0h1m113.5 0h1m5.5 0h1m5 0h1m2 0h1m3.5 0h1m2 0h1m6 0h1m32.5 0h1m48.5 0h1m2.5 0h1m0.5 0h1m5.5 0h1m3.5 0h1m12 0h1m1.5 0h1m32 0h1m0.5 0h1m64 0h1m-0.5 0h1m3.5 0h1m3 0h1m1 0h1m1 0h1m2 0h1m-347.5 0.5h1m79 0h1m8 0h1m4 0h1m4.5 0h1m1 0h1m8 0h1m6.5 0h1m11.5 0h1m9 0h1m57.5 0h1m16.5 0h1m2.5 0h1m-0.5 0h1m0.5 0h1m8 0h1m2 0h1m0.5 0h1m8.5 0h1m19 0h1m66 0h1m1 0h1m1.5 0h1m-0.5 0h1m1 0h1m-382 0.5h1m127 0h1m0 0h1m-0.5 0h1m-0.5 0h1m2 0h1m1 0h1m-0.5 0h1m7.5 0h1m4.5 0h1m102 0h1m-0.5 0h1m1 0h1m2 0h1m1 0h1m2.5 0h1m0 0h1m-0.5 0h1m0.5 0h1m0 0h1m2 0h1m4.5 0h1m0.5 0h1m3.5 0h1m-0.5 0h1m7 0h1m24.5 0h1m55.5 0h1m2.5 0h1m3 0h1m0 0h1m-380.5 0.5h1m1.5 0h1m117.5 0h1m3 0h1m-0.5 0h1m2 0h1m0 0h1m0 0h1m0.5 0h1m0 0h1m3.5 0h1m-0.5 0h1m0 0h1m-0.5 0h1m6.5 0h1m27 0h1m2.5 0h1m69 0h1m3.5 0h1m1.5 0h1m-0.5 0h1m0.5 0h1m-0.5 0h1m1.5 0h1m-0.5 0h1m12.5 0h1m8.5 0h1m2 0h1m2.5 0h1m72 0h1m4 0h1m4 0h1m0.5 0h1m0 0h1m8 0h1m-374 0.5h1m3 0h1m60.5 0h1m43.5 0h1m3.5 0h1m6.5 0h1m1.5 0h1m-0.5 0h1m-0.5 0h1m2 0h1m-0.5 0h1m0.5 0h1m1 0h1m1 0h1m0 0h1m2.5 0h1m90.5 0h1m3 0h1m3 0h1m3.5 0h1m3.5 0h1m1 0h1m2 0h1m1 0h1m3.5 0h1m2 0h1m1 0h1m1 0h1m0 0h1m0 0h1m5.5 0h1m2.5 0h1m0.5 0h1m12 0h1m58 0h1m6 0h1m1.5 0h1m-0.5 0h1m0.5 0h1m2.5 0h1m12.5 0h1m2 0h1m13.5 0h1m-414.5 0.5h1m9 0h1m26.5 0h1m86.5 0h1m0.5 0h1m0 0h1m3.5 0h1m-0.5 0h1m-0.5 0h1m-0.5 0h1m-0.5 0h1m0 0h1m-0.5 0h1m1.5 0h1m2 0h1m8.5 0h1m2.5 0h1m0 0h1m2 0h1m21.5 0h1m62.5 0h1m0 0h1m3.5 0h1m1 0h1m5.5 0h1m-0.5 0h1m0.5 0h1m2.5 0h1m-0.5 0h1m1.5 0h1m0.5 0h1m-0.5 0h1m-0.5 0h1m3 0h1m1 0h1m-0.5 0h1m-0.5 0h1m2.5 0h1m0 0h1m-0.5 0h1m1 0h1m0.5 0h1m1 0h1m0 0h1m1.5 0h1m2 0h1m73.5 0h1m9.5 0h1m0.5 0h1m2 0h1m-0.5 0h1m0 0h1m1 0h1m0 0h1m2 0h1m-0.5 0h1m2 0h1m19 0h1m-418.5 0.5h1m20 0h1m30.5 0h1m77.5 0h1m2 0h1m1 0h1m5 0h1m-0.5 0h1m-0.5 0h1m0 0h1m0.5 0h1m0 0h1m2.5 0h1m12.5 0h1m12.5 0h1m-0.5 0h1m74.5 0h1m1.5 0h1m5 0h1m0 0h1m3.5 0h1m0 0h1m0.5 0h1m0 0h1m0 0h1m0.5 0h1m-0.5 0h1m-0.5 0h1m1 0h1m1 0h1m3.5 0h1m1 0h1m2.5 0h1m2.5 0h1m-0.5 0h1m4 0h1m12.5 0h1m1 0h1m2 0h1m70 0h1m-0.5 0h1m0 0h1m-0.5 0h1m0.5 0h1m1.5 0h1m-391 0.5h1m128.5 0h1m0 0h1m1.5 0h1m3 0h1m7.5 0h1m-0.5 0h1m-0.5 0h1m3 0h1m-0.5 0h1m7.5 0h1m14.5 0h1m2 0h1m66 0h1m-0.5 0h1m10 0h1m0.5 0h1m-0.5 0h1m1 0h1m-0.5 0h1m0 0h1m0.5 0h1m0 0h1m1.5 0h1m0.5 0h1m0 0h1m-0.5 0h1m0.5 0h1m2 0h1m1.5 0h1m-0.5 0h1m1 0h1m10 0h1m17 0h1m1 0h1m-0.5 0h1m2.5 0h1m11.5 0h1m46 0h1m1 0h1m2 0h1m-0.5 0h1m3 0h1m-0.5 0h1m0 0h1m-0.5 0h1m0 0h1m-0.5 0h1m0 0h1m2 0h1m0 0h1m0 0h1m4.5 0h1m10 0h1m27 0h1m-430.5 0.5h1m2 0h1m35.5 0h1m2.5 0h1m7.5 0h1m71.5 0h1m0 0h1m2 0h1m0.5 0h1m1.5 0h1m0 0h1m-0.5 0h1m0.5 0h1m3.5 0h1m-0.5 0h1m105 0h1m0.5 0h1m-0.5 0h1m0.5 0h1m-0.5 0h1m3.5 0h1m0.5 0h1m0 0h1m-0.5 0h1m-0.5 0h1m0.5 0h1m3 0h1m1 0h1m1 0h1m4 0h1m4 0h1m-0.5 0h1m0 0h1m1 0h1m16 0h1m1 0h1m59.5 0h1m3 0h1m7.5 0h1m-0.5 0h1m1.5 0h1m0 0h1m0.5 0h1m1 0h1m-0.5 0h1m-0.5 0h1m3 0h1m-393.5 0.5h1m0 0h1m4.5 0h1m3 0h1m1 0h1m0 0h1m102 0h1m2.5 0h1m5 0h1m3.5 0h1m0.5 0h1m2.5 0h1m1.5 0h1m1.5 0h1m-0.5 0h1m0.5 0h1m27.5 0h1m77 0h1m6.5 0h1m4 0h1m0.5 0h1m7 0h1m0 0h1m-0.5 0h1m1.5 0h1m-0.5 0h1m1.5 0h1m1 0h1m4 0h1m0.5 0h1m0.5 0h1m0.5 0h1m7.5 0h1m1 0h1m73.5 0h1m-0.5 0h1m-0.5 0h1m1.5 0h1m1 0h1m1 0h1m1 0h1m-0.5 0h1m0 0h1m0.5 0h1m0 0h1m-0.5 0h1m0.5 0h1m0.5 0h1m-0.5 0h1m1 0h1m-403 0.5h1m10 0h1m15.5 0h1m31 0h1m14 0h1m57.5 0h1m-0.5 0h1m0.5 0h1m0.5 0h1m6.5 0h1m0.5 0h1m0.5 0h1m-0.5 0h1m-0.5 0h1m2 0h1m14 0h1m3.5 0h1m93 0h1m-0.5 0h1m0.5 0h1m4.5 0h1m1.5 0h1m0.5 0h1m-0.5 0h1m0.5 0h1m1 0h1m0 0h1m0 0h1m0.5 0h1m2.5 0h1m3 0h1m3.5 0h1m0.5 0h1m4.5 0h1m2.5 0h1m1 0h1m70 0h1m2 0h1m0.5 0h1m-0.5 0h1m0.5 0h1m0.5 0h1m0 0h1m0 0h1m0 0h1m1 0h1m1 0h1m-0.5 0h1m-0.5 0h1m1.5 0h1m0.5 0h1m1.5 0h1m5 0h1m1.5 0h1m19 0h1m-411 0.5h1m1 0h1m13.5 0h1m45 0h1m42.5 0h1m12.5 0h1m0 0h1m1 0h1m4 0h1m4.5 0h1m0 0h1m4 0h1m4.5 0h1m16.5 0h1m4.5 0h1m8 0h1m60.5 0h1m2 0h1m2 0h1m0 0h1m-0.5 0h1m5 0h1m0 0h1m0 0h1m1.5 0h1m-0.5 0h1m2 0h1m0.5 0h1m1.5 0h1m0.5 0h1m1.5 0h1m1.5 0h1m6.5 0h1m0 0h1m4 0h1m77.5 0h1m1.5 0h1m-0.5 0h1m-0.5 0h1m3.5 0h1m-0.5 0h1m-0.5 0h1m0.5 0h1m0 0h1m1 0h1m0 0h1m0 0h1m0.5 0h1m11 0h1m0.5 0h1m-399 0.5h1m0.5 0h1m0.5 0h1m17.5 0h1m42.5 0h1m50.5 0h1m5.5 0h1m0.5 0h1m0 0h1m10 0h1m0 0h1m-0.5 0h1m0.5 0h1m-0.5 0h1m3 0h1m1 0h1m14.5 0h1m82.5 0h1m4.5 0h1m0 0h1m1 0h1m3 0h1m-0.5 0h1m-0.5 0h1m0.5 0h1m0.5 0h1m-0.5 0h1m1.5 0h1m-0.5 0h1m3.5 0h1m1.5 0h1m-0.5 0h1m1 0h1m1 0h1m0 0h1m0.5 0h1m13 0h1m6 0h1m8.5 0h1m54.5 0h1m3 0h1m2 0h1m1 0h1m-0.5 0h1m-0.5 0h1m2.5 0h1m0 0h1m-0.5 0h1m-0.5 0h1m1.5 0h1m6 0h1m-405.5 0.5h1m6 0h1m2 0h1m3.5 0h1m2.5 0h1m2 0h1m21 0h1m13 0h1m70 0h1m4.5 0h1m1 0h1m0.5 0h1m-0.5 0h1m-0.5 0h1m-0.5 0h1m1.5 0h1m0.5 0h1m0 0h1m0 0h1m-0.5 0h1m1 0h1m4.5 0h1m2.5 0h1m10.5 0h1m0.5 0h1m4.5 0h1m9 0h1m21.5 0h1m51.5 0h1m0 0h1m2 0h1m-0.5 0h1m2.5 0h1m1.5 0h1m1 0h1m-0.5 0h1m0 0h1m0.5 0h1m0 0h1m-0.5 0h1m0 0h1m0 0h1m0 0h1m-0.5 0h1m1.5 0h1m2.5 0h1m0 0h1m1.5 0h1m-0.5 0h1m5.5 0h1m-0.5 0h1m21.5 0h1m3.5 0h1m60 0h1m0.5 0h1m-0.5 0h1m1 0h1m1.5 0h1m0 0h1m1.5 0h1m0 0h1m-0.5 0h1m0 0h1m2.5 0h1m4 0h1m19 0h1m2 0h1m-427.5 0.5h1m4 0h1m-0.5 0h1m1 0h1m2.5 0h1m-0.5 0h1m-0.5 0h1m2 0h1m0.5 0h1m1 0h1m12.5 0h1m8.5 0h1m10.5 0h1m4 0h1m73.5 0h1m1.5 0h1m0.5 0h1m-0.5 0h1m5 0h1m1.5 0h1m0 0h1m1.5 0h1m28 0h1m9.5 0h1m66.5 0h1m0 0h1m1 0h1m4 0h1m0.5 0h1m-0.5 0h1m1.5 0h1m0 0h1m1.5 0h1m0 0h1m-0.5 0h1m-0.5 0h1m-0.5 0h1m2 0h1m0.5 0h1m0 0h1m0 0h1m0.5 0h1m-0.5 0h1m-0.5 0h1m0.5 0h1m-0.5 0h1m6 0h1m15 0h1m13.5 0h1m57 0h1m0 0h1m1 0h1m1 0h1m-0.5 0h1m0.5 0h1m-0.5 0h1m0.5 0h1m0 0h1m0 0h1m5 0h1m-401.5 0.5h1m5.5 0h1m3.5 0h1m6 0h1m-0.5 0h1m2 0h1m35 0h1m20.5 0h1m48.5 0h1m8.5 0h1m2 0h1m0 0h1m0 0h1m0 0h1m-0.5 0h1m0.5 0h1m0 0h1m-0.5 0h1m0 0h1m1 0h1m1 0h1m-0.5 0h1m2 0h1m2 0h1m92 0h1m4 0h1m-0.5 0h1m10 0h1m0.5 0h1m-0.5 0h1m0.5 0h1m-0.5 0h1m4 0h1m5 0h1m-0.5 0h1m0.5 0h1m-0.5 0h1m2.5 0h1m0.5 0h1m1 0h1m4 0h1m0 0h1m4 0h1m73 0h1m0 0h1m-0.5 0h1m1 0h1m2 0h1m1.5 0h1m0.5 0h1m-0.5 0h1m-0.5 0h1m-0.5 0h1m0 0h1m5 0h1m1.5 0h1m5.5 0h1m-397.5 0.5h1m0.5 0h1m0.5 0h1m0 0h1m1.5 0h1m1.5 0h1m3 0h1m4.5 0h1m33.5 0h1m5.5 0h1m65.5 0h1m2.5 0h1m0 0h1m0.5 0h1m3 0h1m-0.5 0h1m2.5 0h1m3 0h1m4 0h1m2.5 0h1m6 0h1m83 0h1m4.5 0h1m-0.5 0h1m0 0h1m2.5 0h1m0 0h1m-0.5 0h1m3 0h1m2.5 0h1m0 0h1m-0.5 0h1m-0.5 0h1m0 0h1m-0.5 0h1m0 0h1m1.5 0h1m-0.5 0h1m-0.5 0h1m0.5 0h1m0.5 0h1m1 0h1m0.5 0h1m-0.5 0h1m1 0h1m0 0h1m4 0h1m4.5 0h1m7 0h1m2 0h1m2 0h1m62 0h1m0 0h1m0.5 0h1m3.5 0h1m0 0h1m1.5 0h1m0 0h1m0 0h1m-0.5 0h1m-0.5 0h1m2.5 0h1m0 0h1m1 0h1m-0.5 0h1m21.5 0h1m9 0h1m-431 0.5h1m9.5 0h1m0 0h1m16 0h1m25 0h1m8 0h1m66 0h1m5.5 0h1m-0.5 0h1m3 0h1m0 0h1m0 0h1m1 0h1m-0.5 0h1m-0.5 0h1m0 0h1m1.5 0h1m11.5 0h1m16.5 0h1m81 0h1m1.5 0h1m1 0h1m2 0h1m0 0h1m-0.5 0h1m-0.5 0h1m0 0h1m-0.5 0h1m-0.5 0h1m-0.5 0h1m-0.5 0h1m-0.5 0h1m2 0h1m0.5 0h1m0 0h1m0.5 0h1m1.5 0h1m0.5 0h1m1.5 0h1m0 0h1m0.5 0h1m2.5 0h1m2 0h1m11.5 0h1m63.5 0h1m0 0h1m3 0h1m0 0h1m0 0h1m-0.5 0h1m-0.5 0h1m0.5 0h1m-0.5 0h1m-0.5 0h1m0 0h1m-0.5 0h1m0 0h1m0.5 0h1m-0.5 0h1m1 0h1m-0.5 0h1m-0.5 0h1m0 0h1m-0.5 0h1m0 0h1m-0.5 0h1m-0.5 0h1m-0.5 0h1m-0.5 0h1m-0.5 0h1m5 0h1m2.5 0h1m-402.5 0.5h1m4 0h1m7.5 0h1m0 0h1m3 0h1m20 0h1m7 0h1m22.5 0h1m55 0h1m0 0h1m5.5 0h1m1.5 0h1m5 0h1m5.5 0h1m-0.5 0h1m40 0h1m60 0h1m1 0h1m2.5 0h1m-0.5 0h1m4.5 0h1m0.5 0h1m1.5 0h1m0 0h1m0 0h1m1 0h1m0 0h1m1 0h1m-0.5 0h1m-0.5 0h1m-0.5 0h1m2 0h1m1.5 0h1m-0.5 0h1m-0.5 0h1m1.5 0h1m0 0h1m1.5 0h1m0.5 0h1m15 0h1m65.5 0h1m0.5 0h1m0 0h1m0.5 0h1m2.5 0h1m-0.5 0h1m-0.5 0h1m3 0h1m0 0h1m-0.5 0h1m0.5 0h1m-0.5 0h1m1 0h1m0 0h1m-0.5 0h1m-0.5 0h1m6 0h1m-397 0.5h1m-0.5 0h1m2 0h1m0.5 0h1m0.5 0h1m-0.5 0h1m1.5 0h1m3 0h1m2.5 0h1m10 0h1m20.5 0h1m9.5 0h1m0.5 0h1m58.5 0h1m3.5 0h1m-0.5 0h1m1.5 0h1m3.5 0h1m2 0h1m7.5 0h1m-0.5 0h1m-0.5 0h1m-0.5 0h1m12.5 0h1m18.5 0h1m67.5 0h1m4.5 0h1m0.5 0h1m-0.5 0h1m0 0h1m1 0h1m2.5 0h1m0 0h1m1 0h1m2 0h1m-0.5 0h1m3 0h1m-0.5 0h1m2 0h1m0.5 0h1m0 0h1m0 0h1m5.5 0h1m3 0h1m4 0h1m9 0h1m60 0h1m-0.5 0h1m0.5 0h1m5 0h1m-0.5 0h1m0 0h1m1 0h1m0 0h1m0 0h1m0.5 0h1m-0.5 0h1m0 0h1m0 0h1m0 0h1m-0.5 0h1m4 0h1m-0.5 0h1m-0.5 0h1m7 0h1m29 0h1m-439.5 0.5h1m5 0h1m1.5 0h1m1 0h1m0.5 0h1m-0.5 0h1m-0.5 0h1m2 0h1m0 0h1m-0.5 0h1m0 0h1m4 0h1m0 0h1m2 0h1m6 0h1m10.5 0h1m7 0h1m12 0h1m13 0h1m49 0h1m4.5 0h1m2.5 0h1m1 0h1m4.5 0h1m0.5 0h1m-0.5 0h1m-0.5 0h1m-0.5 0h1m1.5 0h1m1.5 0h1m4.5 0h1m0.5 0h1m7.5 0h1m87.5 0h1m2 0h1m0.5 0h1m-0.5 0h1m-0.5 0h1m4 0h1m-0.5 0h1m0 0h1m0 0h1m-0.5 0h1m-0.5 0h1m1 0h1m-0.5 0h1m1 0h1m0.5 0h1m0 0h1m0 0h1m0.5 0h1m0 0h1m6.5 0h1m2 0h1m0 0h1m2 0h1m1 0h1m2.5 0h1m72.5 0h1m2.5 0h1m0 0h1m0.5 0h1m1.5 0h1m-0.5 0h1m-0.5 0h1m-0.5 0h1m-0.5 0h1m-0.5 0h1m2 0h1m0 0h1m2.5 0h1m-0.5 0h1m1 0h1m-0.5 0h1m-0.5 0h1m28 0h1m-420.5 0.5h1m4 0h1m-0.5 0h1m0.5 0h1m3 0h1m0.5 0h1m37.5 0h1m76.5 0h1m0 0h1m1 0h1m-0.5 0h1m-0.5 0h1m0.5 0h1m0 0h1m2.5 0h1m1 0h1m1.5 0h1m0 0h1m0 0h1m103 0h1m3.5 0h1m0.5 0h1m0.5 0h1m3.5 0h1m0.5 0h1m0 0h1m0.5 0h1m0 0h1m-0.5 0h1m0 0h1m0 0h1m2 0h1m0 0h1m-0.5 0h1m1.5 0h1m-0.5 0h1m3 0h1m0 0h1m2.5 0h1m0 0h1m18 0h1m65.5 0h1m0.5 0h1m1 0h1m2 0h1m0.5 0h1m0 0h1m0.5 0h1m0 0h1m2 0h1m13.5 0h1m1.5 0h1m-407.5 0.5h1m0 0h1m0.5 0h1m1 0h1m1 0h1m-0.5 0h1m1.5 0h1m-0.5 0h1m-0.5 0h1m1 0h1m1.5 0h1m0 0h1m1 0h1m1.5 0h1m8.5 0h1m0 0h1m3 0h1m17 0h1m4.5 0h1m60.5 0h1m1.5 0h1m12 0h1m1 0h1m-0.5 0h1m0.5 0h1m-0.5 0h1m-0.5 0h1m-0.5 0h1m0.5 0h1m1.5 0h1m0 0h1m-0.5 0h1m2 0h1m-0.5 0h1m-0.5 0h1m0.5 0h1m1 0h1m0 0h1m6 0h1m5.5 0h1m83.5 0h1m-0.5 0h1m1 0h1m-0.5 0h1m1 0h1m-0.5 0h1m1 0h1m-0.5 0h1m-0.5 0h1m2.5 0h1m0.5 0h1m1.5 0h1m0.5 0h1m0.5 0h1m1 0h1m1 0h1m0.5 0h1m0 0h1m0 0h1m-0.5 0h1m0.5 0h1m0 0h1m1.5 0h1m89.5 0h1m3 0h1m0.5 0h1m-0.5 0h1m0 0h1m-0.5 0h1m-0.5 0h1m0 0h1m-0.5 0h1m1 0h1m0.5 0h1m-0.5 0h1m2 0h1m0 0h1m0 0h1m0 0h1m0 0h1m-392.5 0.5h1m3.5 0h1m2.5 0h1m2.5 0h1m11.5 0h1m0 0h1m6.5 0h1m0.5 0h1m25.5 0h1m58.5 0h1m0.5 0h1m0 0h1m2.5 0h1m0 0h1m1.5 0h1m-0.5 0h1m0 0h1m1.5 0h1m0 0h1m0.5 0h1m0 0h1m2 0h1m7.5 0h1m1.5 0h1m95.5 0h1m2.5 0h1m1.5 0h1m1 0h1m-0.5 0h1m0 0h1m0 0h1m4 0h1m-0.5 0h1m0 0h1m-0.5 0h1m1 0h1m0.5 0h1m0 0h1m0 0h1m1 0h1m-0.5 0h1m-0.5 0h1m-0.5 0h1m-0.5 0h1m-0.5 0h1m0 0h1m-0.5 0h1m-0.5 0h1m3 0h1m1.5 0h1m0.5 0h1m1 0h1m0.5 0h1m-0.5 0h1m1 0h1m3 0h1m7.5 0h1m64.5 0h1m1.5 0h1m-0.5 0h1m1 0h1m0 0h1m-0.5 0h1m-0.5 0h1m0 0h1m0 0h1m-0.5 0h1m-0.5 0h1m-0.5 0h1m0 0h1m-0.5 0h1m0 0h1m2 0h1m0.5 0h1m3.5 0h1m1 0h1m29 0h1m-430.5 0.5h1m4 0h1m2 0h1m-0.5 0h1m0 0h1m0.5 0h1m5 0h1m1 0h1m-0.5 0h1m2.5 0h1m2.5 0h1m20.5 0h1m5 0h1m3 0h1m6.5 0h1m55.5 0h1m5 0h1m2 0h1m3 0h1m2.5 0h1m0 0h1m1 0h1m0 0h1m-0.5 0h1m0 0h1m-0.5 0h1m0 0h1m0.5 0h1m2 0h1m4.5 0h1m11 0h1m31.5 0h1m48 0h1m-0.5 0h1m4 0h1m2.5 0h1m8.5 0h1m0 0h1m2 0h1m2.5 0h1m0 0h1m2.5 0h1m-0.5 0h1m0 0h1m-0.5 0h1m-0.5 0h1m0.5 0h1m-0.5 0h1m-0.5 0h1m-0.5 0h1m3.5 0h1m0 0h1m0 0h1m80.5 0h1m6 0h1m-0.5 0h1m-0.5 0h1m-0.5 0h1m-0.5 0h1m-0.5 0h1m-0.5 0h1m-0.5 0h1m1 0h1m-0.5 0h1m-0.5 0h1m-0.5 0h1m2 0h1m0.5 0h1m-0.5 0h1m2 0h1m-0.5 0h1m-0.5 0h1m-0.5 0h1m0 0h1m3 0h1m-404 0.5h1m2 0h1m0 0h1m3 0h1m0.5 0h1m2 0h1m1 0h1m-0.5 0h1m1.5 0h1m-0.5 0h1m112.5 0h1m2 0h1m1 0h1m0 0h1m-0.5 0h1m0.5 0h1m0.5 0h1m-0.5 0h1m2 0h1m-0.5 0h1m3.5 0h1m0 0h1m3 0h1m0 0h1m0 0h1m8.5 0h1m83 0h1m6.5 0h1m1.5 0h1m0.5 0h1m-0.5 0h1m-0.5 0h1m1 0h1m-0.5 0h1m2.5 0h1m0 0h1m-0.5 0h1m2.5 0h1m0 0h1m-0.5 0h1m-0.5 0h1m-0.5 0h1m-0.5 0h1m0 0h1m7 0h1m4 0h1m0 0h1m-0.5 0h1m-0.5 0h1m-0.5 0h1m0.5 0h1m4.5 0h1m4 0h1m69 0h1m-0.5 0h1m1.5 0h1m1.5 0h1m1.5 0h1m1.5 0h1m0 0h1m0.5 0h1m0.5 0h1m-0.5 0h1m0 0h1m1 0h1m-0.5 0h1m1 0h1m7 0h1m36 0h1m-438 0.5h1m2 0h1m0 0h1m1 0h1m0.5 0h1m4.5 0h1m7 0h1m0 0h1m8 0h1m20 0h1m73.5 0h1m1 0h1m2.5 0h1m0.5 0h1m0.5 0h1m0.5 0h1m-0.5 0h1m0 0h1m0 0h1m-0.5 0h1m-0.5 0h1m0 0h1m7 0h1m2.5 0h1m-0.5 0h1m20 0h1m83 0h1m0 0h1m0 0h1m2.5 0h1m2 0h1m0.5 0h1m2 0h1m2 0h1m0 0h1m1 0h1m-0.5 0h1m-0.5 0h1m12 0h1m2 0h1m3 0h1m4 0h1m5 0h1m63 0h1m0.5 0h1m3 0h1m-0.5 0h1m1 0h1m0 0h1m2 0h1m-0.5 0h1m1 0h1m1 0h1m0 0h1m47.5 0h1m-442.5 0.5h1m1 0h1m1 0h1m1 0h1m1.5 0h1m1.5 0h1m2 0h1m0 0h1m0.5 0h1m5 0h1m15 0h1m82.5 0h1m2.5 0h1m-0.5 0h1m1.5 0h1m1.5 0h1m3.5 0h1m-0.5 0h1m1 0h1m-0.5 0h1m0.5 0h1m2.5 0h1m1.5 0h1m3.5 0h1m4 0h1m93.5 0h1m5 0h1m1.5 0h1m1 0h1m1.5 0h1m1 0h1m0 0h1m0 0h1m2 0h1m0 0h1m-0.5 0h1m0 0h1m-0.5 0h1m0 0h1m0 0h1m4.5 0h1m1.5 0h1m2.5 0h1m0 0h1m0 0h1m0 0h1m2 0h1m-0.5 0h1m4.5 0h1m74 0h1m1.5 0h1m6.5 0h1m0.5 0h1m-0.5 0h1m2 0h1m-0.5 0h1m0 0h1m-0.5 0h1m0 0h1m0 0h1m0.5 0h1m-0.5 0h1m-0.5 0h1m14.5 0h1m0.5 0h1m-406.5 0.5h1m-0.5 0h1m0.5 0h1m0 0h1m0 0h1m-0.5 0h1m-0.5 0h1m2 0h1m0 0h1m0 0h1m6.5 0h1m10.5 0h1m8.5 0h1m6 0h1m75.5 0h1m0 0h1m4.5 0h1m2.5 0h1m1 0h1m-0.5 0h1m1.5 0h1m1 0h1m-0.5 0h1m-0.5 0h1m-0.5 0h1m1 0h1m1 0h1m4 0h1m0.5 0h1m24 0h1m5.5 0h1m68.5 0h1m1.5 0h1m0 0h1m-0.5 0h1m-0.5 0h1m1 0h1m0 0h1m0.5 0h1m-0.5 0h1m0 0h1m0.5 0h1m2 0h1m1 0h1m1 0h1m-0.5 0h1m-0.5 0h1m1.5 0h1m3 0h1m2.5 0h1m0.5 0h1m-0.5 0h1m1 0h1m0 0h1m83.5 0h1m-0.5 0h1m-0.5 0h1m0 0h1m1.5 0h1m0 0h1m-0.5 0h1m1.5 0h1m0 0h1m1 0h1m0 0h1m0.5 0h1m-0.5 0h1m-0.5 0h1m-0.5 0h1m3.5 0h1m4 0h1m-0.5 0h1m11 0h1m-419 0.5h1m5 0h1m1 0h1m1.5 0h1m2 0h1m0.5 0h1m0 0h1m0 0h1m-0.5 0h1m3 0h1m-0.5 0h1m0.5 0h1m1.5 0h1m0 0h1m2.5 0h1m11 0h1m0.5 0h1m4 0h1m19.5 0h1m4.5 0h1m58.5 0h1m4 0h1m-0.5 0h1m2 0h1m1.5 0h1m1.5 0h1m4.5 0h1m0.5 0h1m5 0h1m4.5 0h1m2.5 0h1m3 0h1m5.5 0h1m9.5 0h1m64 0h1m2.5 0h1m0 0h1m3 0h1m-0.5 0h1m1 0h1m1 0h1m1.5 0h1m1 0h1m1.5 0h1m0 0h1m1 0h1m2 0h1m-0.5 0h1m-0.5 0h1m-0.5 0h1m4.5 0h1m0.5 0h1m-0.5 0h1m-0.5 0h1m3 0h1m-0.5 0h1m2 0h1m4 0h1m7 0h1m69 0h1m1 0h1m0 0h1m1.5 0h1m0.5 0h1m1.5 0h1m0 0h1m0 0h1m0 0h1m-0.5 0h1m0 0h1m3.5 0h1m2 0h1m32.5 0h1m-436 0.5h1m2.5 0h1m3 0h1m1.5 0h1m-0.5 0h1m-0.5 0h1m-0.5 0h1m-0.5 0h1m-0.5 0h1m0 0h1m-0.5 0h1m-0.5 0h1m-0.5 0h1m-0.5 0h1m0 0h1m2.5 0h1m0.5 0h1m3.5 0h1m-0.5 0h1m30 0h1m65 0h1m7 0h1m2.5 0h1m6 0h1m5 0h1m4 0h1m0 0h1m-0.5 0h1m-0.5 0h1m0.5 0h1m104.5 0h1m-0.5 0h1m1 0h1m2 0h1m2 0h1m1.5 0h1m0.5 0h1m-0.5 0h1m-0.5 0h1m0 0h1m0 0h1m0.5 0h1m1.5 0h1m3 0h1m1 0h1m3.5 0h1m-0.5 0h1m1.5 0h1m-0.5 0h1m0 0h1m15.5 0h1m59.5 0h1m0 0h1m4 0h1m0.5 0h1m2.5 0h1m-0.5 0h1m0.5 0h1m1 0h1m-0.5 0h1m0 0h1m1 0h1m0 0h1m-0.5 0h1m4.5 0h1m0.5 0h1m-0.5 0h1m2.5 0h1m-400.5 0.5h1m1 0h1m-0.5 0h1m-0.5 0h1m1 0h1m1 0h1m0.5 0h1m-0.5 0h1m-0.5 0h1m-0.5 0h1m0 0h1m-0.5 0h1m-0.5 0h1m1 0h1m0 0h1m3 0h1m111 0h1m2 0h1m1.5 0h1m8.5 0h1m0.5 0h1m1.5 0h1m1.5 0h1m8 0h1m1 0h1m5.5 0h1m79 0h1m4.5 0h1m2 0h1m1.5 0h1m5.5 0h1m-0.5 0h1m1 0h1m-0.5 0h1m-0.5 0h1m1.5 0h1m-0.5 0h1m-0.5 0h1m2 0h1m-0.5 0h1m1 0h1m-0.5 0h1m-0.5 0h1m0.5 0h1m3 0h1m10 0h1m75 0h1m1.5 0h1m-0.5 0h1m0 0h1m0 0h1m0 0h1m0.5 0h1m0.5 0h1m1 0h1m0 0h1m0.5 0h1m2 0h1m-0.5 0h1m3 0h1m-0.5 0h1m2 0h1m-403.5 0.5h1m1 0h1m4.5 0h1m-0.5 0h1m0.5 0h1m1 0h1m-0.5 0h1m0.5 0h1m0.5 0h1m-0.5 0h1m-0.5 0h1m-0.5 0h1m-0.5 0h1m4.5 0h1m112.5 0h1m4.5 0h1m1 0h1m0.5 0h1m4 0h1m-0.5 0h1m-0.5 0h1m15.5 0h1m0 0h1m1.5 0h1m4.5 0h1m72 0h1m5.5 0h1m5 0h1m-0.5 0h1m0.5 0h1m2 0h1m-0.5 0h1m-0.5 0h1m0.5 0h1m1.5 0h1m1.5 0h1m1.5 0h1m-0.5 0h1m-0.5 0h1m0.5 0h1m4.5 0h1m3.5 0h1m4 0h1m3.5 0h1m13 0h1m65 0h1m4.5 0h1m2.5 0h1m1 0h1m1 0h1m0 0h1m0.5 0h1m-0.5 0h1m-0.5 0h1m1.5 0h1m1.5 0h1m-0.5 0h1m4 0h1m39 0h1m-449 0.5h1m5 0h1m0 0h1m-0.5 0h1m0 0h1m0 0h1m-0.5 0h1m-0.5 0h1m0.5 0h1m1.5 0h1m-0.5 0h1m0 0h1m2 0h1m6 0h1m4 0h1m100 0h1m5.5 0h1m2 0h1m2 0h1m1.5 0h1m0.5 0h1m0 0h1m-0.5 0h1m4 0h1m24 0h1m80 0h1m7 0h1m-0.5 0h1m0 0h1m1 0h1m0 0h1m0.5 0h1m-0.5 0h1m0 0h1m-0.5 0h1m0.5 0h1m0.5 0h1m0 0h1m-0.5 0h1m0.5 0h1m9.5 0h1m3.5 0h1m9.5 0h1m9 0h1m60.5 0h1m0.5 0h1m0.5 0h1m-0.5 0h1m1 0h1m1 0h1m-0.5 0h1m-0.5 0h1m0.5 0h1m1 0h1m-0.5 0h1m2 0h1m1 0h1m2.5 0h1m4 0h1m3 0h1m26.5 0h1m-429 0.5h1m-0.5 0h1m-0.5 0h1m0 0h1m1 0h1m-0.5 0h1m-0.5 0h1m0 0h1m0.5 0h1m0.5 0h1m0 0h1m0 0h1m0 0h1m-0.5 0h1m23.5 0h1m-0.5 0h1m6.5 0h1m77 0h1m6.5 0h1m0 0h1m0 0h1m6.5 0h1m-0.5 0h1m7.5 0h1m1 0h1m0 0h1m16 0h1m78.5 0h1m1 0h1m3 0h1m1.5 0h1m3 0h1m1 0h1m-0.5 0h1m-0.5 0h1m0 0h1m1 0h1m-0.5 0h1m0.5 0h1m0.5 0h1m2.5 0h1m-0.5 0h1m0.5 0h1m6 0h1m-0.5 0h1m0 0h1m4 0h1m3 0h1m12.5 0h1m57.5 0h1m0.5 0h1m10.5 0h1m1.5 0h1m-0.5 0h1m1 0h1m0 0h1m1.5 0h1m0 0h1m0 0h1m3.5 0h1m-402.5 0.5h1m9 0h1m-0.5 0h1m-0.5 0h1m0 0h1m0 0h1m-0.5 0h1m0 0h1m2.5 0h1m-0.5 0h1m1 0h1m3.5 0h1m3.5 0h1m-0.5 0h1m11 0h1m5.5 0h1m5.5 0h1m27 0h1m39 0h1m6.5 0h1m1 0h1m-0.5 0h1m0.5 0h1m-0.5 0h1m4 0h1m1.5 0h1m-0.5 0h1m-0.5 0h1m0.5 0h1m0 0h1m1.5 0h1m-0.5 0h1m2 0h1m5 0h1m0 0h1m50.5 0h1m51 0h1m1 0h1m-0.5 0h1m1 0h1m2 0h1m5 0h1m0.5 0h1m2 0h1m-0.5 0h1m1 0h1m4.5 0h1m1.5 0h1m6 0h1m2 0h1m80 0h1m2 0h1m3.5 0h1m2 0h1m17 0h1m5 0h1m9 0h1m-419.5 0.5h1m0.5 0h1m0 0h1m-0.5 0h1m1.5 0h1m0 0h1m0 0h1m1 0h1m-0.5 0h1m1 0h1m3 0h1m0 0h1m-0.5 0h1m0 0h1m0.5 0h1m5.5 0h1m2 0h1m84.5 0h1m15.5 0h1m1.5 0h1m3 0h1m-0.5 0h1m0.5 0h1m2.5 0h1m-0.5 0h1m0 0h1m8.5 0h1m2.5 0h1m1.5 0h1m97.5 0h1m-0.5 0h1m-0.5 0h1m5.5 0h1m0 0h1m0.5 0h1m0 0h1m1 0h1m-0.5 0h1m0.5 0h1m0 0h1m2.5 0h1m0.5 0h1m1 0h1m0.5 0h1m1 0h1m1 0h1m3 0h1m73.5 0h1m7 0h1m1.5 0h1m-0.5 0h1m0.5 0h1m0 0h1m0.5 0h1m-0.5 0h1m0.5 0h1m3 0h1m2.5 0h1m11 0h1m9.5 0h1m18 0h1m-436 0.5h1m1 0h1m1.5 0h1m0 0h1m-0.5 0h1m0 0h1m-0.5 0h1m0 0h1m0 0h1m-0.5 0h1m1 0h1m-0.5 0h1m1 0h1m5.5 0h1m2 0h1m11.5 0h1m14.5 0h1m6 0h1m67.5 0h1m4 0h1m1.5 0h1m5.5 0h1m2.5 0h1m0.5 0h1m0.5 0h1m0.5 0h1m4.5 0h1m-0.5 0h1m94 0h1m6 0h1m-0.5 0h1m3 0h1m0.5 0h1m0.5 0h1m1 0h1m1.5 0h1m-0.5 0h1m-0.5 0h1m0 0h1m-0.5 0h1m3.5 0h1m-0.5 0h1m2 0h1m1.5 0h1m0 0h1m8.5 0h1m4.5 0h1m5 0h1m71 0h1m0 0h1m1.5 0h1m2 0h1m1.5 0h1m3.5 0h1m1.5 0h1m-0.5 0h1m6.5 0h1m0 0h1m3 0h1m29.5 0h1m-443.5 0.5h1m-0.5 0h1m2 0h1m1 0h1m2.5 0h1m0.5 0h1m-0.5 0h1m-0.5 0h1m-0.5 0h1m0 0h1m-0.5 0h1m0.5 0h1m0 0h1m-0.5 0h1m-0.5 0h1m-0.5 0h1m0 0h1m3.5 0h1m4 0h1m2.5 0h1m0 0h1m1.5 0h1m-0.5 0h1m11 0h1m7 0h1m2.5 0h1m73 0h1m-0.5 0h1m1.5 0h1m9 0h1m0 0h1m-0.5 0h1m0 0h1m0.5 0h1m0.5 0h1m0 0h1m32.5 0h1m4 0h1m11.5 0h1m58 0h1m1 0h1m-0.5 0h1m1.5 0h1m4.5 0h1m-0.5 0h1m2 0h1m-0.5 0h1m0 0h1m-0.5 0h1m2 0h1m3 0h1m1 0h1m-0.5 0h1m5 0h1m4.5 0h1m75 0h1m0 0h1m2.5 0h1m2.5 0h1m0.5 0h1m-0.5 0h1m0 0h1m1.5 0h1m-0.5 0h1m-0.5 0h1m0 0h1m9 0h1m3 0h1m2 0h1m8.5 0h1m-412 0.5h1m1.5 0h1m1.5 0h1m-0.5 0h1m0 0h1m-0.5 0h1m-0.5 0h1m0.5 0h1m-0.5 0h1m0.5 0h1m2 0h1m0.5 0h1m-0.5 0h1m-0.5 0h1m0 0h1m1.5 0h1m-0.5 0h1m4.5 0h1m1.5 0h1m22.5 0h1m8.5 0h1m70 0h1m9 0h1m14 0h1m12.5 0h1m19.5 0h1m56.5 0h1m1 0h1m0.5 0h1m10 0h1m2 0h1m1.5 0h1m4 0h1m7 0h1m90 0h1m1.5 0h1m3.5 0h1m2 0h1m-0.5 0h1m5.5 0h1m6 0h1m-405 0.5h1m-0.5 0h1m6.5 0h1m1 0h1m0 0h1m0.5 0h1m0.5 0h1m-0.5 0h1m-0.5 0h1m1 0h1m1 0h1m-0.5 0h1m0.5 0h1m1 0h1m1 0h1m0 0h1m1 0h1m5.5 0h1m3 0h1m0.5 0h1m12 0h1m82.5 0h1m0 0h1m1.5 0h1m1 0h1m2 0h1m2 0h1m0.5 0h1m2.5 0h1m0.5 0h1m0 0h1m6.5 0h1m97 0h1m0.5 0h1m6.5 0h1m1.5 0h1m0 0h1m1 0h1m-0.5 0h1m5.5 0h1m2 0h1m2.5 0h1m3.5 0h1m16 0h1m6 0h1m64.5 0h1m1 0h1m0.5 0h1m2 0h1m1.5 0h1m-0.5 0h1m4 0h1m6.5 0h1m39 0h1m-445.5 0.5h1m5 0h1m4.5 0h1m0 0h1m0.5 0h1m-0.5 0h1m0 0h1m3 0h1m-0.5 0h1m1.5 0h1m2 0h1m0 0h1m-0.5 0h1m10 0h1m-0.5 0h1m0 0h1m0 0h1m18 0h1m78 0h1m1 0h1m0 0h1m10.5 0h1m0.5 0h1m3 0h1m94.5 0h1m11 0h1m0.5 0h1m-0.5 0h1m-0.5 0h1m6 0h1m1 0h1m-0.5 0h1m2.5 0h1m4 0h1m0.5 0h1m0.5 0h1m6.5 0h1m6.5 0h1m77.5 0h1m3 0h1m5 0h1m-0.5 0h1m3.5 0h1m3 0h1m9 0h1m10.5 0h1m0.5 0h1m-424 0.5h1m4 0h1m1 0h1m0 0h1m0.5 0h1m0 0h1m1.5 0h1m0.5 0h1m-0.5 0h1m-0.5 0h1m0.5 0h1m0 0h1m0 0h1m1 0h1m2.5 0h1m12 0h1m6 0h1m79.5 0h1m0 0h1m1.5 0h1m1.5 0h1m-0.5 0h1m0 0h1m1 0h1m1.5 0h1m0 0h1m-0.5 0h1m3 0h1m3 0h1m0.5 0h1m2.5 0h1m6 0h1m9.5 0h1m10.5 0h1m84.5 0h1m3.5 0h1m0 0h1m0 0h1m1.5 0h1m1 0h1m4.5 0h1m0 0h1m5 0h1m0 0h1m-0.5 0h1m0 0h1m1 0h1m86 0h1m-384 0.5h1m1.5 0h1m2 0h1m3 0h1m4 0h1m-0.5 0h1m0 0h1m5.5 0h1m0.5 0h1m-0.5 0h1m2.5 0h1m0.5 0h1m13.5 0h1m14 0h1m74 0h1m4.5 0h1m-0.5 0h1m-0.5 0h1m7 0h1m-0.5 0h1m6.5 0h1m0.5 0h1m6.5 0h1m0.5 0h1m0 0h1m92.5 0h1m9 0h1m-0.5 0h1m6 0h1m4.5 0h1m0.5 0h1m99.5 0h1m2.5 0h1m8 0h1m12 0h1m4.5 0h1m-412.5 0.5h1m0 0h1m0 0h1m2 0h1m0.5 0h1m0.5 0h1m-0.5 0h1m1 0h1m6.5 0h1m118 0h1m0 0h1m3 0h1m0 0h1m6.5 0h1m5.5 0h1m90.5 0h1m11 0h1m4 0h1m4.5 0h1m6.5 0h1m0 0h1m16 0h1m79 0h1m2.5 0h1m2 0h1m1.5 0h1m8 0h1m-402.5 0.5h1m-0.5 0h1m7 0h1m-0.5 0h1m5 0h1m0 0h1m-0.5 0h1m1 0h1m0 0h1m0 0h1m0 0h1m4.5 0h1m0 0h1m0 0h1m-0.5 0h1m0.5 0h1m13.5 0h1m2 0h1m2.5 0h1m21 0h1m50 0h1m0 0h1m10.5 0h1m2 0h1m6.5 0h1m21.5 0h1m91.5 0h1m1.5 0h1m14.5 0h1m1.5 0h1m0 0h1m2 0h1m0.5 0h1m7.5 0h1m0.5 0h1m7 0h1m13.5 0h1m56.5 0h1m2.5 0h1m5 0h1m1.5 0h1m-382.5 0.5h1m0.5 0h1m-0.5 0h1m0 0h1m2 0h1m0 0h1m0.5 0h1m-0.5 0h1m-0.5 0h1m2 0h1m4.5 0h1m8 0h1m93.5 0h1m4 0h1m7.5 0h1m4 0h1m0 0h1m5.5 0h1m6.5 0h1m37.5 0h1m53.5 0h1m3.5 0h1m-0.5 0h1m3 0h1m1.5 0h1m6.5 0h1m-0.5 0h1m4 0h1m7.5 0h1m0 0h1m8.5 0h1m86 0h1m7 0h1m6.5 0h1m26 0h1m6 0h1m-433.5 0.5h1m0 0h1m4.5 0h1m0.5 0h1m0 0h1m-0.5 0h1m0.5 0h1m-0.5 0h1m1.5 0h1m5 0h1m-0.5 0h1m18.5 0h1m79 0h1m-0.5 0h1m13.5 0h1m5 0h1m1.5 0h1m8 0h1m13 0h1m0 0h1m25.5 0h1m66.5 0h1m10.5 0h1m3.5 0h1m2.5 0h1m2.5 0h1m-0.5 0h1m6.5 0h1m2 0h1m84.5 0h1m14 0h1m-401.5 0.5h1m8.5 0h1m1.5 0h1m2.5 0h1m1.5 0h1m0.5 0h1m-0.5 0h1m-0.5 0h1m2.5 0h1m0.5 0h1m-0.5 0h1m4 0h1m7.5 0h1m93 0h1m0 0h1m12.5 0h1m3 0h1m1.5 0h1m2 0h1m1 0h1m-0.5 0h1m54 0h1m35.5 0h1m8.5 0h1m7.5 0h1m0.5 0h1m0 0h1m0.5 0h1m-0.5 0h1m1.5 0h1m2.5 0h1m0 0h1m2.5 0h1m0.5 0h1m10 0h1m93 0h1m4 0h1m2 0h1m-400.5 0.5h1m12 0h1m0.5 0h1m1 0h1m-0.5 0h1m0 0h1m0.5 0h1m0 0h1m36.5 0h1m80 0h1m0.5 0h1m4.5 0h1m1.5 0h1m11.5 0h1m20.5 0h1m71.5 0h1m21 0h1m8 0h1m1 0h1m90.5 0h1m3 0h1m6 0h1m1.5 0h1m0.5 0h1m6.5 0h1m-393 0.5h1m0.5 0h1m-0.5 0h1m8 0h1m-0.5 0h1m1 0h1m0.5 0h1m1 0h1m2.5 0h1m105.5 0h1m1 0h1m2.5 0h1m1.5 0h1m6.5 0h1m108 0h1m0.5 0h1m3.5 0h1m4 0h1m19.5 0h1m3.5 0h1m4 0h1m78 0h1m4 0h1m11 0h1m-389.5 0.5h1m2.5 0h1m0.5 0h1m-0.5 0h1m4.5 0h1m-0.5 0h1m2.5 0h1m1 0h1m44.5 0h1m3 0h1m53.5 0h1m2.5 0h1m1 0h1m2 0h1m6.5 0h1m0 0h1m2 0h1m113 0h1m1 0h1m2.5 0h1m5.5 0h1m9 0h1m8.5 0h1m8.5 0h1m15.5 0h1m14.5 0h1m81 0h1m16 0h1m-435 0.5h1m8.5 0h1m0.5 0h1m0.5 0h1m3 0h1m4.5 0h1m1 0h1m1 0h1m95 0h1m16 0h1m2 0h1m-0.5 0h1m11.5 0h1m4 0h1m110.5 0h1m5.5 0h1m14 0h1m12 0h1m79.5 0h1m3.5 0h1m-391 0.5h1m3.5 0h1m2 0h1m-0.5 0h1m1.5 0h1m0.5 0h1m1 0h1m6 0h1m5 0h1m18 0h1m87 0h1m14 0h1m8.5 0h1m115 0h1m8 0h1m98.5 0h1m1.5 0h1m-389.5 0.5h1m14.5 0h1m4 0h1m-0.5 0h1m1.5 0h1m103 0h1m11 0h1m5 0h1m-0.5 0h1m13 0h1m91.5 0h1m11.5 0h1m5 0h1m1 0h1m1 0h1m3 0h1m-0.5 0h1m-0.5 0h1m29.5 0h1m-308.5 0.5h1m3 0h1m0.5 0h1m0.5 0h1m0 0h1m5 0h1m10 0h1m0 0h1m123 0h1m0 0h1m4.5 0h1m94 0h1m6 0h1m21 0h1m1.5 0h1m10 0h1m3 0h1m-297 0.5h1m6 0h1m6 0h1m117 0h1m5 0h1m5.5 0h1m137.5 0h1m0 0h1m9 0h1m5 0h1m89.5 0h1m10.5 0h1m-406 0.5h1m2.5 0h1m2 0h1m0 0h1m8 0h1m1.5 0h1m1 0h1m0 0h1m23 0h1m1 0h1m3.5 0h1m212.5 0h1m24 0h1m12 0h1m82.5 0h1m2.5 0h1m-385.5 0.5h1m4.5 0h1m4.5 0h1m0.5 0h1m-0.5 0h1m117 0h1m14.5 0h1m12 0h1m107 0h1m162 0h1m-434 0.5h1m31 43.5h1m85 1.5h1m-89.5 0.5h1m103.5 0.5h1m2 0h1m-144.5 0.5h1m129 0h1m-112 0.5h1m31 0h1m270.5 0h1m-323 0.5h1m142.5 0.5h1m231.5 0h1m-375 0.5h1m21 0h1m42.5 0h1m1.5 0h1m76.5 0h1m24 0h1m-174 0.5h1m-0.5 0h1m164 0h1m-157 0.5h1m17.5 0h1m398 0h1m-428 0.5h1m2 0h1m4 0h1m1.5 0h1m21 0h1m0 0h1m35 0h1m308.5 0h1m-374 0.5h1m2.5 0h1m13 0h1m9 0h1m121.5 0h1m37.5 0h1m57 0h1m10 0h1m12 0h1m3.5 0h1m97.5 0h1m-377.5 0.5h1m5.5 0h1m9.5 0h1m51.5 0h1m62 0h1m22.5 0h1m99.5 0h1m23 0h1m93 0h1m-377 0.5h1m4 0h1m23 0h1m5 0h1m0 0h1m32 0h1m4.5 0h1m48 0h1m148.5 0h1m4.5 0h1m15.5 0h1m85.5 0h1m3.5 0h1m12.5 0h1m5 0h1m-398.5 0.5h1m0.5 0h1m112.5 0h1m-0.5 0h1m21.5 0h1m0 0h1m53.5 0h1m61 0h1m3 0h1m8 0h1m125 0h1m6 0h1m-401.5 0.5h1m3 0h1m11.5 0h1m127.5 0h1m109 0h1m0.5 0h1m0 0h1m61 0h1m44.5 0h1m3.5 0h1m12 0h1m-390.5 0.5h1m3.5 0h1m3 0h1m0.5 0h1m-0.5 0h1m-0.5 0h1m126 0h1m41.5 0h1m76 0h1m3.5 0h1m110.5 0h1m6 0h1m-246 0.5h1m115.5 0h1m21.5 0h1m100 0h1m-374.5 0.5h1m6.5 0h1m1.5 0h1m2 0h1m118.5 0h1m3 0h1m1 0h1m125.5 0h1m10.5 0h1m-0.5 0h1m-277.5 0.5h1m-0.5 0h1m7 0h1m3 0h1m120.5 0h1m114.5 0h1m3.5 0h1m5.5 0h1m4 0h1m2 0h1m0.5 0h1m-276 0.5h1m2.5 0h1m9.5 0h1m-0.5 0h1m3.5 0h1m12.5 0h1m91 0h1m6 0h1m3.5 0h1m114 0h1m29.5 0h1m6.5 0h1m85 0h1m2 0h1m-367.5 0.5h1m10.5 0h1m108 0h1m1.5 0h1m8.5 0h1m4 0h1m4 0h1m-0.5 0h1m34.5 0h1m15.5 0h1m52 0h1m-0.5 0h1m22 0h1m17 0h1m79.5 0h1m0 0h1m1 0h1m-386.5 0.5h1m-0.5 0h1m3.5 0h1m25 0h1m92.5 0h1m-0.5 0h1m18 0h1m110 0h1m10 0h1m12 0h1m7 0h1m87.5 0h1m-0.5 0h1m-0.5 0h1m0.5 0h1m1.5 0h1m1 0h1m-382 0.5h1m18.5 0h1m102.5 0h1m1.5 0h1m14 0h1m4 0h1m1 0h1m0 0h1m7.5 0h1m25.5 0h1m74 0h1m30 0h1m86.5 0h1m1 0h1m-367 0.5h1m124.5 0h1m0 0h1m0 0h1m1.5 0h1m46 0h1m8 0h1m50.5 0h1m17.5 0h1m104.5 0h1m7 0h1m-380 0.5h1m31.5 0h1m19 0h1m0.5 0h1m74 0h1m5.5 0h1m7 0h1m2 0h1m51 0h1m60.5 0h1m10 0h1m6 0h1m92.5 0h1m0 0h1m-0.5 0h1m1.5 0h1m7 0h1m9 0h1m-392.5 0.5h1m253 0h1m8.5 0h1m104.5 0h1m-0.5 0h1m1 0h1m-0.5 0h1m1 0h1m-0.5 0h1m0 0h1m-379.5 0.5h1m5.5 0h1m-0.5 0h1m16.5 0h1m98.5 0h1m12.5 0h1m6.5 0h1m40.5 0h1m60.5 0h1m10.5 0h1m1.5 0h1m5 0h1m50 0h1m61 0h1m13 0h1m-254.5 0.5h1m131 0h1m116.5 0h1m-379 0.5h1m22.5 0h1m130.5 0h1m78.5 0h1m4.5 0h1m18 0h1m105 0h1m1.5 0h1m-185.5 0.5h1m58 0h1m4.5 0h1m116.5 0h1m3 0h1m55 0h1m-443 0.5h1m133.5 0h1m26.5 0h1m104 0h1m61.5 0h1m46 0h1m7 0h1m32.5 0h1m-227 0.5h1m100.5 0h1m81.5 0h1m5 0h1m5 0h1m16.5 0h1m1 0h1m-273 0.5h1m44 0h1m18.5 0h1m4 0h1m72.5 0h1m5.5 0h1m11 0h1m77.5 0h1m4.5 0h1m-257.5 0.5h1m1.5 0h1m2 0h1m134.5 0h1m3 0h1m-200 0.5h1m332 0h1m-367.5 0.5h1m22 0h1m70 0h1m257.5 0h1m-190 0.5h1m57.5 0h1m116 0h1m28 0h1m-277 0.5h1m26.5 0h1m225.5 0h1m-122.5 1h1m23.5 0h1m-82 0.5h1m-146.5 0.5h1m337.5 0h1m-131 0.5h1m113.5 0h1m4.5 0h1m-258.5 1h1m263 0h1m-309.5 0.5h1m109 0h1m196.5 0h1m-371 0.5h1m365 0h1m1.5 0h1m-113 0.5h1m-155 1h1m326.5 0h1m-56 1h1m-223.5 0.5h1m221 0.5h1m-379 0.5h1m265 0h1m10.5 1h1m95.5 0h1m12 0h1m-273 0.5h1m77 0h1m228.5 0h1m-417 0.5h1m253.5 0.5h1m-94.5 0.5h1m-32 0.5h1m33 0h1m222 0.5h1m-139 2h1m99.5 0h1m-174 2h1m237 0h1m-235 0.5h1m66.5 0h1m-68 0.5h1m46 0h1m6 0h1m-77.5 1.5h1m80 0h1m-137 0.5h1m65 0h1m4.5 0h1m228 0h1m-239.5 0.5h1m3.5 0h1m-10 0.5h1m9.5 0h1m88 0h1m-75 0.5h1m-149.5 0.5h1m69 0h1m64 0h1m65 0h1m7.5 0h1m-81.5 0.5h1m76 0h1m29.5 0h1m28 0h1m48.5 0h1m20 0h1m-246.5 0.5h1m125 0h1m-104.5 0.5h1m-0.5 0h1m24.5 0h1m10 0h1m63 0h1m8 0h1m10 0h1m-286.5 0.5h1m382.5 0h1m-193.5 0.5h1m64 0h1m0 0h1m16.5 0h1m3 0h1m99 0h1m-244.5 0.5h1m62 0h1m44 0h1m15.5 0h1m2.5 0h1m4.5 0h1m26 0h1m89 0h1m-198.5 0.5h1m60 0h1m22.5 0h1m43 0h1m-183.5 0.5h1m126.5 0h1m33 0h1m136.5 0h1m-262.5 0.5h1m15.5 0h1m70.5 0h1m1.5 0h1m2.5 0h1m3 0h1m93.5 0h1m-198.5 0.5h1m88.5 0h1m1.5 0h1m1 0h1m5.5 0h1m120.5 0h1m-209.5 0.5h1m3.5 0h1m8 0h1m54 0h1m6.5 0h1m0 0h1m13.5 0h1m5 0h1m2 0h1m2.5 0h1m-229.5 0.5h1m72.5 0h1m115.5 0h1m13.5 0h1m-0.5 0h1m1.5 0h1m0.5 0h1m5 0h1m6.5 0h1m10.5 0h1m-107.5 0.5h1m5 0h1m62 0h1m4 0h1m10 0h1m8 0h1m4 0h1m4.5 0h1m87 0h1m30 0h1m-406.5 0.5h1m125 0h1m0 0h1m53.5 0h1m3 0h1m12.5 0h1m46.5 0h1m5.5 0h1m11 0h1m5.5 0h1m8 0h1m26 0h1m62 0h1m-367.5 0.5h1m6.5 0h1m167.5 0h1m8.5 0h1m56.5 0h1m1 0h1m0.5 0h1m3.5 0h1m0.5 0h1m2.5 0h1m0 0h1m0 0h1m-0.5 0h1m10 0h1m9.5 0h1m-285.5 0.5h1m148 0h1m23 0h1m73.5 0h1m7.5 0h1m5 0h1m6 0h1m4.5 0h1m16 0h1m5 0h1m11.5 0h1m58.5 0h1m1.5 0h1m14 0h1m-381.5 0.5h1m35.5 0h1m196 0h1m9 0h1m-0.5 0h1m13.5 0h1m3.5 0h1m-0.5 0h1m0 0h1m2 0h1m0.5 0h1m1.5 0h1m5.5 0h1m84.5 0h1m-384 0.5h1m18.5 0h1m153 0h1m92.5 0h1m-0.5 0h1m0 0h1m0 0h1m0.5 0h1m1.5 0h1m0.5 0h1m2.5 0h1m2.5 0h1m0 0h1m3 0h1m1.5 0h1m6.5 0h1m15.5 0h1m1 0h1m14.5 0h1m48.5 0h1m3.5 0h1m6 0h1m39 0h1m-420 0.5h1m132.5 0h1m-0.5 0h1m109 0h1m5 0h1m3 0h1m0.5 0h1m2.5 0h1m0 0h1m0 0h1m2 0h1m7 0h1m9 0h1m81 0h1m8 0h1m-0.5 0h1m9.5 0h1m0.5 0h1m-242.5 0.5h1m28 0h1m13 0h1m62.5 0h1m2 0h1m0 0h1m-0.5 0h1m14 0h1m-0.5 0h1m1.5 0h1m3.5 0h1m0.5 0h1m0.5 0h1m7 0h1m79 0h1m3.5 0h1m-383 0.5h1m10 0h1m4 0h1m0 0h1m10 0h1m7.5 0h1m120 0h1m28 0h1m75 0h1m-0.5 0h1m1.5 0h1m2 0h1m2.5 0h1m3 0h1m1 0h1m0.5 0h1m0 0h1m8.5 0h1m-0.5 0h1m-0.5 0h1m10 0h1m1 0h1m8 0h1m57.5 0h1m12.5 0h1m40 0h1m-290.5 0.5h1m2.5 0h1m6.5 0h1m7 0h1m34.5 0h1m7.5 0h1m5 0h1m50 0h1m6 0h1m-0.5 0h1m-0.5 0h1m3 0h1m1.5 0h1m-0.5 0h1m2 0h1m0.5 0h1m0 0h1m5 0h1m-0.5 0h1m-0.5 0h1m0 0h1m0.5 0h1m-0.5 0h1m4 0h1m4 0h1m82.5 0h1m1.5 0h1m47.5 0h1m-310.5 0.5h1m11.5 0h1m2.5 0h1m1.5 0h1m16 0h1m10.5 0h1m6.5 0h1m5.5 0h1m17 0h1m8 0h1m37 0h1m4 0h1m2.5 0h1m0 0h1m-0.5 0h1m3 0h1m0 0h1m1.5 0h1m5.5 0h1m4.5 0h1m2 0h1m-0.5 0h1m2 0h1m1 0h1m5 0h1m0.5 0h1m3.5 0h1m85 0h1m0.5 0h1m0.5 0h1m8.5 0h1m-394.5 0.5h1m2 0h1m2 0h1m7 0h1m117 0h1m-0.5 0h1m6 0h1m6 0h1m9.5 0h1m21.5 0h1m9.5 0h1m54 0h1m6 0h1m1 0h1m-0.5 0h1m4 0h1m1.5 0h1m1.5 0h1m-0.5 0h1m3.5 0h1m0 0h1m0 0h1m-0.5 0h1m2 0h1m6 0h1m7 0h1m7.5 0h1m0 0h1m9 0h1m62.5 0h1m4 0h1m0.5 0h1m3 0h1m7 0h1m0.5 0h1m-401 0.5h1m14 0h1m2.5 0h1m-0.5 0h1m4.5 0h1m13 0h1m98 0h1m5.5 0h1m1 0h1m22.5 0h1m4 0h1m20 0h1m4 0h1m57.5 0h1m2 0h1m3.5 0h1m0 0h1m0 0h1m-0.5 0h1m0 0h1m-0.5 0h1m2 0h1m0.5 0h1m-0.5 0h1m0.5 0h1m1 0h1m1 0h1m1.5 0h1m-0.5 0h1m0 0h1m-0.5 0h1m-0.5 0h1m-0.5 0h1m0.5 0h1m1 0h1m5 0h1m-0.5 0h1m19 0h1m58.5 0h1m7.5 0h1m11 0h1m2 0h1m-390.5 0.5h1m1.5 0h1m3.5 0h1m27.5 0h1m14.5 0h1m75.5 0h1m12.5 0h1m17 0h1m24.5 0h1m56.5 0h1m5 0h1m4 0h1m3 0h1m0 0h1m0 0h1m1 0h1m0.5 0h1m0 0h1m2 0h1m0 0h1m1.5 0h1m1 0h1m-0.5 0h1m0 0h1m-0.5 0h1m1.5 0h1m0.5 0h1m1 0h1m1 0h1m15 0h1m66 0h1m5.5 0h1m3.5 0h1m-0.5 0h1m0 0h1m0 0h1m-0.5 0h1m0.5 0h1m2 0h1m-0.5 0h1m3 0h1m-381.5 0.5h1m1 0h1m124.5 0h1m3.5 0h1m8 0h1m12 0h1m2.5 0h1m4 0h1m76 0h1m2 0h1m1 0h1m0 0h1m0.5 0h1m-0.5 0h1m2 0h1m-0.5 0h1m-0.5 0h1m2.5 0h1m-0.5 0h1m-0.5 0h1m1.5 0h1m1 0h1m0.5 0h1m1.5 0h1m0.5 0h1m1 0h1m0 0h1m15.5 0h1m12.5 0h1m3 0h1m53.5 0h1m4 0h1m2.5 0h1m0.5 0h1m1 0h1m2 0h1m0 0h1m-0.5 0h1m3.5 0h1m2 0h1m-395.5 0.5h1m2 0h1m0 0h1m2 0h1m3 0h1m1 0h1m1 0h1m117 0h1m1 0h1m0.5 0h1m45.5 0h1m62.5 0h1m-0.5 0h1m4 0h1m3.5 0h1m0 0h1m1 0h1m0 0h1m2.5 0h1m2.5 0h1m-0.5 0h1m-0.5 0h1m1 0h1m0.5 0h1m0.5 0h1m3 0h1m0 0h1m-0.5 0h1m-0.5 0h1m5.5 0h1m5 0h1m19.5 0h1m59.5 0h1m-0.5 0h1m4 0h1m-0.5 0h1m-0.5 0h1m0 0h1m2 0h1m9.5 0h1m-388.5 0.5h1m4 0h1m0 0h1m0.5 0h1m0 0h1m-0.5 0h1m44.5 0h1m71.5 0h1m0.5 0h1m0 0h1m1 0h1m1.5 0h1m3 0h1m7 0h1m4 0h1m13 0h1m14.5 0h1m2.5 0h1m3 0h1m54 0h1m4 0h1m0 0h1m0 0h1m1 0h1m0 0h1m0.5 0h1m1.5 0h1m2.5 0h1m1 0h1m-0.5 0h1m1 0h1m1 0h1m-0.5 0h1m1 0h1m0.5 0h1m-0.5 0h1m1.5 0h1m3 0h1m1.5 0h1m1 0h1m0.5 0h1m10.5 0h1m0.5 0h1m-0.5 0h1m72.5 0h1m0 0h1m0 0h1m1 0h1m1 0h1m0.5 0h1m0.5 0h1m26 0h1m-419.5 0.5h1m5.5 0h1m1 0h1m7 0h1m-0.5 0h1m-0.5 0h1m125.5 0h1m2 0h1m113.5 0h1m2.5 0h1m0 0h1m-0.5 0h1m1.5 0h1m0 0h1m2.5 0h1m5 0h1m-0.5 0h1m1 0h1m-0.5 0h1m-0.5 0h1m4.5 0h1m0.5 0h1m1.5 0h1m-0.5 0h1m0 0h1m5.5 0h1m4.5 0h1m1 0h1m77 0h1m1 0h1m1 0h1m0 0h1m1 0h1m2 0h1m12.5 0h1m-405.5 0.5h1m4.5 0h1m2.5 0h1m0 0h1m-0.5 0h1m2.5 0h1m7 0h1m17.5 0h1m13 0h1m64 0h1m-0.5 0h1m7.5 0h1m-0.5 0h1m3.5 0h1m9.5 0h1m2.5 0h1m1 0h1m7 0h1m5.5 0h1m1 0h1m0 0h1m3.5 0h1m4 0h1m3.5 0h1m69 0h1m3 0h1m6.5 0h1m-0.5 0h1m2.5 0h1m-0.5 0h1m8 0h1m-0.5 0h1m1.5 0h1m2 0h1m2.5 0h1m0 0h1m3.5 0h1m12 0h1m75 0h1m1.5 0h1m0 0h1m0 0h1m0.5 0h1m2 0h1m4.5 0h1m-389 0.5h1m3 0h1m0 0h1m0 0h1m-0.5 0h1m4 0h1m1.5 0h1m6 0h1m27 0h1m76.5 0h1m-0.5 0h1m0.5 0h1m1 0h1m3.5 0h1m0.5 0h1m0 0h1m0.5 0h1m4.5 0h1m-0.5 0h1m35.5 0h1m8.5 0h1m55 0h1m4 0h1m0 0h1m1 0h1m4 0h1m-0.5 0h1m0.5 0h1m0 0h1m0 0h1m1 0h1m1 0h1m-0.5 0h1m3 0h1m0 0h1m0.5 0h1m7.5 0h1m-0.5 0h1m3.5 0h1m76 0h1m0.5 0h1m2.5 0h1m0.5 0h1m0.5 0h1m1.5 0h1m-0.5 0h1m1 0h1m0 0h1m1 0h1m2.5 0h1m39.5 0h1m4.5 0h1m-438.5 0.5h1m-0.5 0h1m7 0h1m0.5 0h1m3 0h1m1 0h1m0.5 0h1m1 0h1m4.5 0h1m105 0h1m-0.5 0h1m8.5 0h1m0 0h1m6.5 0h1m1 0h1m1.5 0h1m26.5 0h1m4 0h1m3 0h1m4 0h1m65 0h1m3 0h1m6.5 0h1m2 0h1m0 0h1m0 0h1m-0.5 0h1m-0.5 0h1m2 0h1m-0.5 0h1m-0.5 0h1m6 0h1m0 0h1m8 0h1m6.5 0h1m66 0h1m0 0h1m1 0h1m1 0h1m1.5 0h1m1 0h1m1.5 0h1m2.5 0h1m0 0h1m2 0h1m2 0h1m-403.5 0.5h1m3 0h1m9 0h1m-0.5 0h1m3 0h1m-0.5 0h1m0 0h1m-0.5 0h1m2 0h1m23 0h1m90 0h1m0.5 0h1m-0.5 0h1m-0.5 0h1m2 0h1m1 0h1m-0.5 0h1m0.5 0h1m1.5 0h1m1.5 0h1m-0.5 0h1m2 0h1m1.5 0h1m31.5 0h1m5.5 0h1m54 0h1m8 0h1m-0.5 0h1m7.5 0h1m0 0h1m1 0h1m-0.5 0h1m1 0h1m1.5 0h1m-0.5 0h1m-0.5 0h1m0.5 0h1m3.5 0h1m0 0h1m0 0h1m1 0h1m-0.5 0h1m0 0h1m-0.5 0h1m3 0h1m16 0h1m62 0h1m7.5 0h1m1 0h1m-0.5 0h1m-0.5 0h1m-0.5 0h1m1 0h1m0 0h1m-0.5 0h1m-380 0.5h1m-0.5 0h1m-0.5 0h1m0.5 0h1m2.5 0h1m2.5 0h1m1.5 0h1m101 0h1m0 0h1m15.5 0h1m-0.5 0h1m1 0h1m3.5 0h1m7 0h1m4.5 0h1m87.5 0h1m6.5 0h1m1 0h1m4 0h1m3 0h1m0.5 0h1m-0.5 0h1m1.5 0h1m0 0h1m0 0h1m0 0h1m-0.5 0h1m-0.5 0h1m1.5 0h1m0 0h1m6.5 0h1m0.5 0h1m3 0h1m-0.5 0h1m5 0h1m4.5 0h1m7.5 0h1m62.5 0h1m1 0h1m1 0h1m0.5 0h1m-0.5 0h1m0.5 0h1m1 0h1m-0.5 0h1m-0.5 0h1m-0.5 0h1m0 0h1m-0.5 0h1m1.5 0h1m-0.5 0h1m-388 0.5h1m1 0h1m1 0h1m1 0h1m-0.5 0h1m-0.5 0h1m-0.5 0h1m109 0h1m12 0h1m4 0h1m-0.5 0h1m-0.5 0h1m-0.5 0h1m-0.5 0h1m-0.5 0h1m39 0h1m6 0h1m64 0h1m3 0h1m-0.5 0h1m-0.5 0h1m2 0h1m1.5 0h1m0 0h1m1.5 0h1m-0.5 0h1m-0.5 0h1m-0.5 0h1m1 0h1m-0.5 0h1m0.5 0h1m0 0h1m1 0h1m0.5 0h1m0 0h1m8.5 0h1m0 0h1m0.5 0h1m-0.5 0h1m2.5 0h1m12.5 0h1m62 0h1m3.5 0h1m3.5 0h1m0.5 0h1m0 0h1m0 0h1m1 0h1m0 0h1m1.5 0h1m0.5 0h1m3.5 0h1m0 0h1m1.5 0h1m19 0h1m-424.5 0.5h1m9 0h1m1 0h1m-0.5 0h1m0 0h1m-0.5 0h1m0.5 0h1m0.5 0h1m-0.5 0h1m0.5 0h1m1.5 0h1m1 0h1m31 0h1m77.5 0h1m3.5 0h1m0.5 0h1m0.5 0h1m1 0h1m3.5 0h1m1.5 0h1m1 0h1m5 0h1m3 0h1m10 0h1m0.5 0h1m3 0h1m25.5 0h1m57.5 0h1m0 0h1m-0.5 0h1m1.5 0h1m-0.5 0h1m-0.5 0h1m2 0h1m1 0h1m1.5 0h1m0 0h1m-0.5 0h1m0.5 0h1m8 0h1m0.5 0h1m-0.5 0h1m-0.5 0h1m0.5 0h1m-0.5 0h1m0 0h1m-0.5 0h1m2 0h1m6.5 0h1m14.5 0h1m56 0h1m0 0h1m-0.5 0h1m0.5 0h1m-0.5 0h1m1.5 0h1m0 0h1m0.5 0h1m-0.5 0h1m1.5 0h1m0 0h1m2 0h1m2.5 0h1m3.5 0h1m10.5 0h1m2 0h1m26.5 0h1m-436.5 0.5h1m2.5 0h1m3 0h1m1 0h1m-0.5 0h1m-0.5 0h1m0.5 0h1m4 0h1m-0.5 0h1m2 0h1m27.5 0h1m68 0h1m9 0h1m0 0h1m2 0h1m0 0h1m-0.5 0h1m1 0h1m-0.5 0h1m5.5 0h1m1.5 0h1m-0.5 0h1m8.5 0h1m18.5 0h1m10 0h1m19.5 0h1m47.5 0h1m0.5 0h1m1.5 0h1m0.5 0h1m-0.5 0h1m0.5 0h1m3.5 0h1m0.5 0h1m-0.5 0h1m-0.5 0h1m0.5 0h1m1 0h1m1.5 0h1m-0.5 0h1m8.5 0h1m22.5 0h1m59 0h1m4 0h1m0.5 0h1m2.5 0h1m0 0h1m-0.5 0h1m0 0h1m-0.5 0h1m0 0h1m2 0h1m0.5 0h1m3 0h1m2 0h1m2 0h1m6.5 0h1m26.5 0h1m-436 0.5h1m1.5 0h1m2.5 0h1m0 0h1m0 0h1m1 0h1m0.5 0h1m0 0h1m0 0h1m-0.5 0h1m3.5 0h1m9 0h1m95 0h1m0.5 0h1m1.5 0h1m0 0h1m1.5 0h1m1 0h1m1.5 0h1m-0.5 0h1m1 0h1m4 0h1m4.5 0h1m21 0h1m-0.5 0h1m11 0h1m69 0h1m-0.5 0h1m1 0h1m4.5 0h1m0 0h1m2 0h1m1.5 0h1m1.5 0h1m1.5 0h1m1 0h1m0 0h1m1 0h1m16.5 0h1m77 0h1m7 0h1m-0.5 0h1m2.5 0h1m0 0h1m0.5 0h1m0 0h1m-0.5 0h1m1.5 0h1m-385.5 0.5h1m2.5 0h1m-0.5 0h1m-0.5 0h1m-0.5 0h1m1.5 0h1m1.5 0h1m46 0h1m59.5 0h1m8.5 0h1m0 0h1m0 0h1m1 0h1m0.5 0h1m5.5 0h1m0 0h1m-0.5 0h1m1 0h1m0 0h1m10 0h1m10.5 0h1m8.5 0h1m3.5 0h1m62.5 0h1m3.5 0h1m3.5 0h1m3 0h1m1.5 0h1m-0.5 0h1m-0.5 0h1m0 0h1m-0.5 0h1m0.5 0h1m0 0h1m-0.5 0h1m-0.5 0h1m-0.5 0h1m0 0h1m1 0h1m1 0h1m3 0h1m0 0h1m2.5 0h1m2.5 0h1m2.5 0h1m6.5 0h1m-0.5 0h1m7.5 0h1m63.5 0h1m0 0h1m0 0h1m-0.5 0h1m0 0h1m1.5 0h1m-0.5 0h1m-0.5 0h1m-0.5 0h1m1 0h1m1.5 0h1m0.5 0h1m-0.5 0h1m5 0h1m0.5 0h1m3 0h1m7.5 0h1m-414 0.5h1m2.5 0h1m3 0h1m1 0h1m2 0h1m-0.5 0h1m0 0h1m0.5 0h1m-0.5 0h1m-0.5 0h1m-0.5 0h1m0 0h1m0 0h1m0.5 0h1m-0.5 0h1m0.5 0h1m-0.5 0h1m43.5 0h1m55.5 0h1m6.5 0h1m3 0h1m2 0h1m1.5 0h1m3.5 0h1m2 0h1m1.5 0h1m-0.5 0h1m9 0h1m5.5 0h1m0 0h1m22 0h1m8.5 0h1m60.5 0h1m0 0h1m2.5 0h1m1 0h1m-0.5 0h1m0.5 0h1m0.5 0h1m0.5 0h1m1.5 0h1m-0.5 0h1m0.5 0h1m0 0h1m-0.5 0h1m-0.5 0h1m-0.5 0h1m5 0h1m4.5 0h1m1 0h1m18 0h1m64 0h1m5 0h1m0 0h1m0 0h1m-0.5 0h1m0 0h1m-0.5 0h1m-0.5 0h1m2 0h1m-0.5 0h1m0 0h1m7 0h1m2 0h1m-404.5 0.5h1m5 0h1m1.5 0h1m-0.5 0h1m1.5 0h1m-0.5 0h1m1.5 0h1m-0.5 0h1m0 0h1m0 0h1m0 0h1m27 0h1m15.5 0h1m7.5 0h1m58 0h1m-0.5 0h1m0 0h1m0.5 0h1m1 0h1m3 0h1m1.5 0h1m-0.5 0h1m-0.5 0h1m0 0h1m3.5 0h1m1.5 0h1m0.5 0h1m9 0h1m10.5 0h1m5.5 0h1m10 0h1m58 0h1m5.5 0h1m5 0h1m0.5 0h1m2.5 0h1m0 0h1m-0.5 0h1m2.5 0h1m-0.5 0h1m4 0h1m0 0h1m0.5 0h1m4 0h1m3 0h1m5 0h1m11 0h1m66.5 0h1m-0.5 0h1m3.5 0h1m2.5 0h1m-0.5 0h1m0 0h1m-0.5 0h1m-0.5 0h1m-0.5 0h1m-0.5 0h1m0 0h1m0 0h1m2 0h1m-0.5 0h1m-0.5 0h1m-0.5 0h1m-0.5 0h1m3 0h1m0.5 0h1m8.5 0h1m-404.5 0.5h1m3 0h1m-0.5 0h1m0 0h1m0.5 0h1m1.5 0h1m0.5 0h1m-0.5 0h1m1 0h1m-0.5 0h1m0 0h1m1.5 0h1m0.5 0h1m0.5 0h1m10.5 0h1m22.5 0h1m13.5 0h1m49 0h1m1 0h1m0 0h1m2 0h1m-0.5 0h1m0.5 0h1m0.5 0h1m5 0h1m-0.5 0h1m6 0h1m0.5 0h1m0 0h1m5 0h1m1 0h1m1.5 0h1m1.5 0h1m14.5 0h1m4 0h1m1.5 0h1m-0.5 0h1m74 0h1m-0.5 0h1m-0.5 0h1m0 0h1m-0.5 0h1m3.5 0h1m1.5 0h1m-0.5 0h1m-0.5 0h1m0.5 0h1m0 0h1m1 0h1m2.5 0h1m0.5 0h1m3 0h1m3 0h1m2 0h1m3 0h1m-0.5 0h1m1 0h1m7.5 0h1m64 0h1m-0.5 0h1m1.5 0h1m0.5 0h1m0 0h1m1 0h1m1 0h1m3 0h1m2 0h1m0 0h1m9.5 0h1m-403 0.5h1m4.5 0h1m2.5 0h1m0.5 0h1m-0.5 0h1m1 0h1m-0.5 0h1m-0.5 0h1m0 0h1m3 0h1m1 0h1m31 0h1m72 0h1m5 0h1m0 0h1m1.5 0h1m1.5 0h1m1 0h1m0.5 0h1m5.5 0h1m-0.5 0h1m6.5 0h1m-0.5 0h1m4 0h1m4.5 0h1m2 0h1m9 0h1m8 0h1m5 0h1m57.5 0h1m2.5 0h1m1.5 0h1m-0.5 0h1m1.5 0h1m1 0h1m-0.5 0h1m4.5 0h1m2.5 0h1m0.5 0h1m0 0h1m0 0h1m-0.5 0h1m-0.5 0h1m1 0h1m1 0h1m1.5 0h1m1.5 0h1m2 0h1m8 0h1m73.5 0h1m-0.5 0h1m3 0h1m0.5 0h1m-0.5 0h1m0 0h1m0 0h1m1 0h1m2 0h1m0 0h1m-0.5 0h1m0.5 0h1m0 0h1m-0.5 0h1m14 0h1m-402 0.5h1m-0.5 0h1m-0.5 0h1m1.5 0h1m0 0h1m-0.5 0h1m-0.5 0h1m0 0h1m-0.5 0h1m-0.5 0h1m2.5 0h1m0.5 0h1m0.5 0h1m-0.5 0h1m-0.5 0h1m1 0h1m0 0h1m2 0h1m21 0h1m-0.5 0h1m13 0h1m5 0h1m63 0h1m1 0h1m4.5 0h1m0 0h1m4.5 0h1m0.5 0h1m13 0h1m3 0h1m5.5 0h1m8.5 0h1m2.5 0h1m62.5 0h1m9 0h1m3 0h1m0 0h1m1 0h1m2.5 0h1m0 0h1m1 0h1m3.5 0h1m0 0h1m1 0h1m0.5 0h1m3 0h1m6 0h1m0.5 0h1m2.5 0h1m11.5 0h1m63.5 0h1m6.5 0h1m1 0h1m-0.5 0h1m1 0h1m-0.5 0h1m1.5 0h1m0 0h1m0 0h1m3 0h1m-397.5 0.5h1m5.5 0h1m4 0h1m1 0h1m0 0h1m0 0h1m2 0h1m1.5 0h1m-0.5 0h1m3.5 0h1m10 0h1m10.5 0h1m0 0h1m82 0h1m1.5 0h1m0 0h1m-0.5 0h1m0 0h1m-0.5 0h1m1.5 0h1m1.5 0h1m-0.5 0h1m-0.5 0h1m0.5 0h1m4.5 0h1m-0.5 0h1m0.5 0h1m10 0h1m1 0h1m0 0h1m4.5 0h1m81 0h1m2 0h1m5.5 0h1m0.5 0h1m3.5 0h1m0.5 0h1m3.5 0h1m0.5 0h1m3.5 0h1m1 0h1m0.5 0h1m7 0h1m15.5 0h1m63.5 0h1m1 0h1m2 0h1m-0.5 0h1m2.5 0h1m1 0h1m-0.5 0h1m0.5 0h1m0.5 0h1m1.5 0h1m-0.5 0h1m0.5 0h1m1 0h1m0.5 0h1m32 0h1m4.5 0h1m4.5 0h1m-435.5 0.5h1m1 0h1m-0.5 0h1m0.5 0h1m3.5 0h1m-0.5 0h1m-0.5 0h1m-0.5 0h1m2 0h1m4 0h1m2 0h1m26.5 0h1m75.5 0h1m1 0h1m0 0h1m-0.5 0h1m0.5 0h1m2 0h1m0 0h1m0.5 0h1m1 0h1m0.5 0h1m0 0h1m0 0h1m3 0h1m-0.5 0h1m3.5 0h1m3.5 0h1m5.5 0h1m-0.5 0h1m1 0h1m7.5 0h1m0 0h1m78 0h1m1.5 0h1m0 0h1m0 0h1m5.5 0h1m0 0h1m0.5 0h1m2 0h1m-0.5 0h1m-0.5 0h1m-0.5 0h1m1 0h1m0.5 0h1m-0.5 0h1m-0.5 0h1m7.5 0h1m0 0h1m0.5 0h1m0.5 0h1m17.5 0h1m61 0h1m4 0h1m-0.5 0h1m0 0h1m3 0h1m0.5 0h1m0.5 0h1m2 0h1m-0.5 0h1m0.5 0h1m-0.5 0h1m0 0h1m0.5 0h1m0.5 0h1m-0.5 0h1m3.5 0h1m-402 0.5h1m3.5 0h1m1 0h1m2 0h1m-0.5 0h1m0 0h1m1 0h1m-0.5 0h1m0 0h1m-0.5 0h1m0 0h1m1 0h1m-0.5 0h1m-0.5 0h1m0.5 0h1m32 0h1m29.5 0h1m44.5 0h1m2 0h1m5.5 0h1m3 0h1m1.5 0h1m0.5 0h1m9 0h1m7.5 0h1m5.5 0h1m-0.5 0h1m8.5 0h1m4.5 0h1m65.5 0h1m3 0h1m1 0h1m0.5 0h1m5 0h1m1.5 0h1m-0.5 0h1m-0.5 0h1m0.5 0h1m1.5 0h1m4 0h1m-0.5 0h1m0 0h1m-0.5 0h1m-0.5 0h1m2 0h1m4 0h1m5 0h1m-0.5 0h1m1 0h1m74.5 0h1m0 0h1m2 0h1m1 0h1m1.5 0h1m-0.5 0h1m0 0h1m-0.5 0h1m0 0h1m-0.5 0h1m1.5 0h1m3 0h1m-0.5 0h1m1 0h1m25 0h1m18 0h1m-435 0.5h1m2.5 0h1m0 0h1m0 0h1m0.5 0h1m0.5 0h1m-0.5 0h1m0 0h1m1 0h1m-0.5 0h1m0.5 0h1m0.5 0h1m35.5 0h1m67 0h1m1 0h1m3 0h1m-0.5 0h1m0.5 0h1m-0.5 0h1m1.5 0h1m-0.5 0h1m-0.5 0h1m1.5 0h1m0.5 0h1m1.5 0h1m-0.5 0h1m-0.5 0h1m0 0h1m1 0h1m1 0h1m4 0h1m15 0h1m0.5 0h1m4 0h1m6 0h1m10 0h1m57 0h1m-0.5 0h1m3 0h1m-0.5 0h1m-0.5 0h1m0.5 0h1m2.5 0h1m0 0h1m3.5 0h1m-0.5 0h1m-0.5 0h1m4 0h1m0.5 0h1m11.5 0h1m2.5 0h1m7.5 0h1m18.5 0h1m54.5 0h1m3 0h1m0 0h1m0.5 0h1m1 0h1m0 0h1m2 0h1m1.5 0h1m0 0h1m-396.5 0.5h1m2 0h1m-0.5 0h1m4.5 0h1m4 0h1m1 0h1m-0.5 0h1m-0.5 0h1m1 0h1m0 0h1m-0.5 0h1m1.5 0h1m0.5 0h1m-0.5 0h1m2.5 0h1m17.5 0h1m25.5 0h1m11 0h1m46 0h1m3.5 0h1m0.5 0h1m-0.5 0h1m1.5 0h1m-0.5 0h1m4 0h1m2 0h1m0.5 0h1m12.5 0h1m13.5 0h1m3 0h1m15 0h1m61.5 0h1m3.5 0h1m2 0h1m-0.5 0h1m0.5 0h1m2 0h1m1 0h1m1.5 0h1m2.5 0h1m1 0h1m1 0h1m0 0h1m-0.5 0h1m0.5 0h1m2 0h1m2 0h1m79 0h1m3.5 0h1m1.5 0h1m0.5 0h1m3 0h1m1 0h1m0 0h1m0 0h1m-0.5 0h1m3 0h1m-0.5 0h1m1.5 0h1m2.5 0h1m0.5 0h1m6.5 0h1m18 0h1m-431 0.5h1m4.5 0h1m2 0h1m1 0h1m0.5 0h1m0 0h1m-0.5 0h1m-0.5 0h1m1.5 0h1m0 0h1m-0.5 0h1m0 0h1m0 0h1m-0.5 0h1m6 0h1m9.5 0h1m9.5 0h1m10 0h1m70.5 0h1m0.5 0h1m-0.5 0h1m0 0h1m4 0h1m5.5 0h1m4.5 0h1m6.5 0h1m15 0h1m1.5 0h1m8.5 0h1m-0.5 0h1m79 0h1m4 0h1m0.5 0h1m-0.5 0h1m-0.5 0h1m3 0h1m5 0h1m0 0h1m1 0h1m-0.5 0h1m-0.5 0h1m0.5 0h1m1.5 0h1m10.5 0h1m0.5 0h1m67.5 0h1m2.5 0h1m2 0h1m-0.5 0h1m0 0h1m-0.5 0h1m1 0h1m2.5 0h1m0.5 0h1m0.5 0h1m0.5 0h1m2.5 0h1m0.5 0h1m-0.5 0h1m-394 0.5h1m2 0h1m0.5 0h1m0.5 0h1m0.5 0h1m0 0h1m-0.5 0h1m-0.5 0h1m0 0h1m-0.5 0h1m-0.5 0h1m0.5 0h1m-0.5 0h1m0.5 0h1m0 0h1m5.5 0h1m-0.5 0h1m5 0h1m15.5 0h1m1.5 0h1m83 0h1m-0.5 0h1m0.5 0h1m-0.5 0h1m0 0h1m0 0h1m0 0h1m-0.5 0h1m1 0h1m2 0h1m0 0h1m-0.5 0h1m10 0h1m-0.5 0h1m24.5 0h1m74 0h1m2 0h1m1.5 0h1m2.5 0h1m4 0h1m1.5 0h1m1 0h1m3 0h1m9.5 0h1m22.5 0h1m57.5 0h1m2.5 0h1m0.5 0h1m1 0h1m0 0h1m1.5 0h1m-0.5 0h1m1 0h1m2 0h1m-0.5 0h1m0 0h1m-0.5 0h1m1 0h1m0.5 0h1m5.5 0h1m21.5 0h1m-423 0.5h1m0.5 0h1m2 0h1m0.5 0h1m0.5 0h1m1.5 0h1m-0.5 0h1m-0.5 0h1m1.5 0h1m-0.5 0h1m0.5 0h1m0 0h1m0.5 0h1m24 0h1m0.5 0h1m5 0h1m0 0h1m5 0h1m60 0h1m3.5 0h1m1 0h1m2.5 0h1m0 0h1m3.5 0h1m0 0h1m0 0h1m-0.5 0h1m0 0h1m0 0h1m1.5 0h1m-0.5 0h1m-0.5 0h1m0.5 0h1m1 0h1m0 0h1m3 0h1m-0.5 0h1m0 0h1m11 0h1m90 0h1m0.5 0h1m2.5 0h1m5.5 0h1m-0.5 0h1m0.5 0h1m-0.5 0h1m1 0h1m1.5 0h1m4 0h1m-0.5 0h1m0 0h1m1.5 0h1m6 0h1m11.5 0h1m1.5 0h1m68.5 0h1m1 0h1m2 0h1m-0.5 0h1m0 0h1m0.5 0h1m-0.5 0h1m-0.5 0h1m1 0h1m-0.5 0h1m-0.5 0h1m0.5 0h1m-391.5 0.5h1m9 0h1m-0.5 0h1m0 0h1m1 0h1m-0.5 0h1m-0.5 0h1m-0.5 0h1m0.5 0h1m0 0h1m0.5 0h1m-0.5 0h1m1.5 0h1m0.5 0h1m1.5 0h1m99 0h1m1.5 0h1m1 0h1m-0.5 0h1m-0.5 0h1m0 0h1m2 0h1m0 0h1m0 0h1m0.5 0h1m1 0h1m1 0h1m0 0h1m1 0h1m2 0h1m0 0h1m3 0h1m1.5 0h1m-0.5 0h1m-0.5 0h1m11 0h1m18 0h1m-0.5 0h1m68 0h1m3 0h1m0.5 0h1m2 0h1m0 0h1m1.5 0h1m0 0h1m-0.5 0h1m-0.5 0h1m-0.5 0h1m0 0h1m0 0h1m8 0h1m1 0h1m8.5 0h1m4.5 0h1m16.5 0h1m54 0h1m6 0h1m6 0h1m0 0h1m0.5 0h1m0 0h1m0 0h1m0.5 0h1m1 0h1m0.5 0h1m1.5 0h1m1.5 0h1m6.5 0h1m9.5 0h1m4 0h1m-421.5 0.5h1m-0.5 0h1m0 0h1m-0.5 0h1m0.5 0h1m-0.5 0h1m-0.5 0h1m-0.5 0h1m0.5 0h1m-0.5 0h1m0.5 0h1m-0.5 0h1m1 0h1m-0.5 0h1m2.5 0h1m6.5 0h1m35 0h1m65 0h1m-0.5 0h1m4.5 0h1m0.5 0h1m3.5 0h1m0.5 0h1m0 0h1m-0.5 0h1m1 0h1m-0.5 0h1m2 0h1m1.5 0h1m0 0h1m0.5 0h1m2.5 0h1m6 0h1m88 0h1m2.5 0h1m0 0h1m0.5 0h1m1.5 0h1m11.5 0h1m2.5 0h1m2.5 0h1m3 0h1m-0.5 0h1m85 0h1m-0.5 0h1m0 0h1m4 0h1m5 0h1m-0.5 0h1m1 0h1m0.5 0h1m0.5 0h1m-0.5 0h1m9.5 0h1m3 0h1m20 0h1m-421.5 0.5h1m-0.5 0h1m0 0h1m-0.5 0h1m1.5 0h1m1 0h1m-0.5 0h1m0 0h1m0 0h1m0 0h1m1.5 0h1m1.5 0h1m0.5 0h1m1 0h1m28 0h1m6 0h1m12 0h1m55 0h1m2 0h1m0 0h1m-0.5 0h1m-0.5 0h1m0 0h1m1 0h1m0 0h1m14 0h1m14.5 0h1m11 0h1m1 0h1m71 0h1m3 0h1m3.5 0h1m2.5 0h1m1 0h1m6.5 0h1m4.5 0h1m2.5 0h1m0.5 0h1m31.5 0h1m60.5 0h1m3.5 0h1m1.5 0h1m0.5 0h1m1.5 0h1m0 0h1m0 0h1m0.5 0h1m22.5 0h1m-423 0.5h1m3.5 0h1m5 0h1m2.5 0h1m0.5 0h1m0.5 0h1m-0.5 0h1m0.5 0h1m0 0h1m0.5 0h1m0.5 0h1m0.5 0h1m1.5 0h1m6 0h1m0 0h1m20.5 0h1m69 0h1m7 0h1m-0.5 0h1m1.5 0h1m1 0h1m-0.5 0h1m-0.5 0h1m3 0h1m0 0h1m3.5 0h1m1 0h1m0.5 0h1m0 0h1m0.5 0h1m12 0h1m0 0h1m12.5 0h1m5.5 0h1m3 0h1m69.5 0h1m0 0h1m2.5 0h1m-0.5 0h1m9 0h1m-0.5 0h1m1.5 0h1m2.5 0h1m0.5 0h1m0 0h1m0 0h1m2.5 0h1m-0.5 0h1m-0.5 0h1m27 0h1m62.5 0h1m2.5 0h1m-0.5 0h1m1.5 0h1m1 0h1m-392.5 0.5h1m2 0h1m0 0h1m-0.5 0h1m-0.5 0h1m0.5 0h1m0 0h1m-0.5 0h1m-0.5 0h1m0 0h1m2 0h1m0 0h1m1 0h1m1 0h1m-0.5 0h1m-0.5 0h1m2 0h1m-0.5 0h1m0 0h1m3 0h1m7.5 0h1m87 0h1m6 0h1m2 0h1m2 0h1m0 0h1m0 0h1m0.5 0h1m0.5 0h1m0 0h1m0 0h1m4 0h1m7.5 0h1m1.5 0h1m5 0h1m3.5 0h1m0 0h1m5.5 0h1m1 0h1m2 0h1m84.5 0h1m1.5 0h1m-0.5 0h1m2 0h1m3.5 0h1m2.5 0h1m28.5 0h1m66.5 0h1m5.5 0h1m1.5 0h1m0 0h1m1 0h1m-0.5 0h1m10.5 0h1m5 0h1m20.5 0h1m-426 0.5h1m1.5 0h1m-0.5 0h1m0 0h1m-0.5 0h1m-0.5 0h1m0.5 0h1m-0.5 0h1m-0.5 0h1m1.5 0h1m-0.5 0h1m-0.5 0h1m0 0h1m0.5 0h1m2 0h1m-0.5 0h1m27.5 0h1m3 0h1m12.5 0h1m60 0h1m-0.5 0h1m1.5 0h1m-0.5 0h1m1.5 0h1m-0.5 0h1m2.5 0h1m0 0h1m-0.5 0h1m42.5 0h1m7 0h1m71.5 0h1m1 0h1m1.5 0h1m0.5 0h1m0 0h1m-0.5 0h1m1.5 0h1m1 0h1m10.5 0h1m0.5 0h1m27 0h1m56.5 0h1m0.5 0h1m2.5 0h1m-0.5 0h1m2 0h1m-0.5 0h1m2.5 0h1m-0.5 0h1m40 0h1m-427 0.5h1m0.5 0h1m2.5 0h1m0 0h1m1 0h1m0.5 0h1m0 0h1m1.5 0h1m3 0h1m118 0h1m-0.5 0h1m0.5 0h1m7.5 0h1m10 0h1m103 0h1m12.5 0h1m6.5 0h1m87.5 0h1m3 0h1m2.5 0h1m6 0h1m-0.5 0h1m3 0h1m31.5 0h1m-425 0.5h1m5 0h1m0.5 0h1m1.5 0h1m3.5 0h1m0.5 0h1m-0.5 0h1m0.5 0h1m0 0h1m9 0h1m34 0h1m58.5 0h1m5.5 0h1m2 0h1m-0.5 0h1m1 0h1m3 0h1m0 0h1m3 0h1m-0.5 0h1m1 0h1m1 0h1m13.5 0h1m3 0h1m0 0h1m16.5 0h1m78 0h1m4 0h1m23 0h1m78 0h1m2 0h1m1 0h1m7.5 0h1m-0.5 0h1m0 0h1m4 0h1m2 0h1m-390.5 0.5h1m0.5 0h1m0.5 0h1m0 0h1m2 0h1m0 0h1m3.5 0h1m0 0h1m0 0h1m1.5 0h1m7.5 0h1m18 0h1m4.5 0h1m-0.5 0h1m6.5 0h1m58 0h1m7.5 0h1m1 0h1m0.5 0h1m3 0h1m-0.5 0h1m0 0h1m0 0h1m-0.5 0h1m-0.5 0h1m1.5 0h1m1.5 0h1m-0.5 0h1m7.5 0h1m5.5 0h1m2.5 0h1m91.5 0h1m6 0h1m15 0h1m9.5 0h1m93.5 0h1m1.5 0h1m3 0h1m0 0h1m11 0h1m-403.5 0.5h1m3 0h1m1 0h1m1 0h1m1.5 0h1m-0.5 0h1m0 0h1m2 0h1m9 0h1m90.5 0h1m4 0h1m5.5 0h1m1.5 0h1m0 0h1m7 0h1m131 0h1m0.5 0h1m-0.5 0h1m0.5 0h1m1 0h1m9 0h1m5 0h1m86.5 0h1m2 0h1m-389 0.5h1m1.5 0h1m0 0h1m-0.5 0h1m4.5 0h1m1 0h1m13.5 0h1m28.5 0h1m74 0h1m0 0h1m-0.5 0h1m1.5 0h1m3 0h1m4.5 0h1m2 0h1m2.5 0h1m27.5 0h1m72 0h1m2.5 0h1m18.5 0h1m-0.5 0h1m98.5 0h1m6.5 0h1m3 0h1m-0.5 0h1m4.5 0h1m-0.5 0h1m9 0h1m-401 0.5h1m0 0h1m-0.5 0h1m7.5 0h1m-0.5 0h1m2.5 0h1m2 0h1m37 0h1m21 0h1m41.5 0h1m11.5 0h1m3.5 0h1m-0.5 0h1m5 0h1m1 0h1m-0.5 0h1m3 0h1m3 0h1m24.5 0h1m2 0h1m78.5 0h1m3.5 0h1m3 0h1m2 0h1m16.5 0h1m88.5 0h1m0.5 0h1m1.5 0h1m2.5 0h1m2 0h1m4.5 0h1m25 0h1m20.5 0h1m-446.5 0.5h1m1.5 0h1m0.5 0h1m7.5 0h1m0.5 0h1m2 0h1m0.5 0h1m10.5 0h1m40.5 0h1m60 0h1m1 0h1m5.5 0h1m1.5 0h1m0 0h1m1.5 0h1m5 0h1m7.5 0h1m13.5 0h1m92 0h1m4 0h1m1 0h1m6.5 0h1m8.5 0h1m85.5 0h1m4 0h1m0 0h1m6.5 0h1m2 0h1m16 0h1m6.5 0h1m-418 0.5h1m1.5 0h1m0 0h1m0.5 0h1m-0.5 0h1m4.5 0h1m0 0h1m-0.5 0h1m0.5 0h1m3 0h1m28.5 0h1m25.5 0h1m40.5 0h1m9.5 0h1m8 0h1m7.5 0h1m3 0h1m103.5 0h1m4.5 0h1m3 0h1m35 0h1m73.5 0h1m2 0h1m9 0h1m-394.5 0.5h1m8 0h1m0.5 0h1m0.5 0h1m0.5 0h1m2.5 0h1m0.5 0h1m4.5 0h1m106.5 0h1m-0.5 0h1m8 0h1m4.5 0h1m5 0h1m0.5 0h1m1.5 0h1m104 0h1m8.5 0h1m11.5 0h1m18.5 0h1m7 0h1m76.5 0h1m-381.5 0.5h1m4.5 0h1m1 0h1m3.5 0h1m6.5 0h1m13.5 0h1m96.5 0h1m2.5 0h1m12.5 0h1m10.5 0h1m103 0h1m119.5 0h1m-382 0.5h1m1 0h1m3 0h1m0 0h1m-0.5 0h1m122.5 0h1m0 0h1m2 0h1m42 0h1m67.5 0h1m14 0h1m2 0h1m4 0h1m9 0h1m88.5 0h1m5 0h1m13 0h1m20.5 0h1m-401 0.5h1m-0.5 0h1m1.5 0h1m0 0h1m9 0h1m92 0h1m4.5 0h1m3 0h1m1 0h1m12 0h1m102.5 0h1m18 0h1m3 0h1m3 0h1m3.5 0h1m3.5 0h1m-294.5 0.5h1m7 0h1m0.5 0h1m1.5 0h1m6 0h1m137.5 0h1m1 0h1m120 0h1m1.5 0h1m1.5 0h1m0 0h1m3 0h1m2.5 0h1m95 0h1m14.5 0h1m-393.5 0.5h1m0 0h1m-0.5 0h1m125.5 0h1m5.5 0h1m0.5 0h1m27 0h1m93 0h1m3 0h1m6 0h1m2 0h1m115.5 0h1m2.5 0h1m-392 0.5h1m4.5 0h1m3 0h1m19 0h1m4 0h1m28.5 0h1m56 0h1m15 0h1m234 0h1" stroke="#000" stroke-width="1.2" stroke-opacity="0.7" fill="none"/>
<rect x="44.60" y="246.30" width="94.40" height="88.50" fill="none" stroke="#222" stroke-width="1.2"/>
<line x1="92.20" y1="246.30" x2="92.20" y2="334.80" stroke="#333" stroke-width="1.1"/>
<line x1="44.60" y1="290.60" x2="139.00" y2="290.60" stroke="#333" stroke-width="1.1"/>
<line x1="44.60" y1="334.80" x2="44.60" y2="337.80" stroke="#222" stroke-width="0.9"/>
<line x1="41.60" y1="334.80" x2="44.60" y2="334.80" stroke="#222" stroke-width="0.9"/>
<line x1="51.76" y1="334.80" x2="51.76" y2="336.80" stroke="#222" stroke-width="0.9"/>
<line x1="42.60" y1="328.14" x2="44.60" y2="328.14" stroke="#222" stroke-width="0.9"/>
<line x1="55.96" y1="334.80" x2="55.96" y2="336.80" stroke="#222" stroke-width="0.9"/>
<line x1="42.60" y1="324.24" x2="44.60" y2="324.24" stroke="#222" stroke-width="0.9"/>
<line x1="58.93" y1="334.80" x2="58.93" y2="336.80" stroke="#222" stroke-width="0.9"/>
<line x1="42.60" y1="321.48" x2="44.60" y2="321.48" stroke="#222" stroke-width="0.9"/>
<line x1="61.24" y1="334.80" x2="61.24" y2="336.80" stroke="#222" stroke-width="0.9"/>
<line x1="42.60" y1="319.34" x2="44.60" y2="319.34" stroke="#222" stroke-width="0.9"/>
<line x1="63.12" y1="334.80" x2="63.12" y2="336.80" stroke="#222" stroke-width="0.9"/>
<line x1="42.60" y1="317.58" x2="44.60" y2="317.58" stroke="#222" stroke-width="0.9"/>
<line x1="64.71" y1="334.80" x2="64.71" y2="336.80" stroke="#222" stroke-width="0.9"/>
<line x1="42.60" y1="316.10" x2="44.60" y2="316.10" stroke="#222" stroke-width="0.9"/>
<line x1="66.09" y1="334.80" x2="66.09" y2="336.80" stroke="#222" stroke-width="0.9"/>
<line x1="42.60" y1="314.82" x2="44.60" y2="314.82" stroke="#222" stroke-width="0.9"/>
<line x1="67.31" y1="334.80" x2="67.31" y2="336.80" stroke="#222" stroke-width="0.9"/>
<line x1="42.60" y1="313.69" x2="44.60" y2="313.69" stroke="#222" stroke-width="0.9"/>
<line x1="68.40" y1="334.80" x2="68.40" y2="337.80" stroke="#222" stroke-width="0.9"/>
<line x1="41.60" y1="312.68" x2="44.60" y2="312.68" stroke="#222" stroke-width="0.9"/>
<line x1="75.56" y1="334.80" x2="75.56" y2="336.80" stroke="#222" stroke-width="0.9"/>
<line x1="42.60" y1="306.01" x2="44.60" y2="306.01" stroke="#222" stroke-width="0.9"/>
<line x1="79.76" y1="334.80" x2="79.76" y2="336.80" stroke="#222" stroke-width="0.9"/>
<line x1="42.60" y1="302.12" x2="44.60" y2="302.12" stroke="#222" stroke-width="0.9"/>
<line x1="82.73" y1="334.80" x2="82.73" y2="336.80" stroke="#222" stroke-width="0.9"/>
<line x1="42.60" y1="299.35" x2="44.60" y2="299.35" stroke="#222" stroke-width="0.9"/>
<line x1="85.04" y1="334.80" x2="85.04" y2="336.80" stroke="#222" stroke-width="0.9"/>
<line x1="42.60" y1="297.21" x2="44.60" y2="297.21" stroke="#222" stroke-width="0.9"/>
<line x1="86.92" y1="334.80" x2="86.92" y2="336.80" stroke="#222" stroke-width="0.9"/>
<line x1="42.60" y1="295.46" x2="44.60" y2="295.46" stroke="#222" stroke-width="0.9"/>
<line x1="88.51" y1="334.80" x2="88.51" y2="336.80" stroke="#222" stroke-width="0.9"/>
<line x1="42.60" y1="293.98" x2="44.60" y2="293.98" stroke="#222" stroke-width="0.9"/>
<line x1="89.89" y1="334.80" x2="89.89" y2="336.80" stroke="#222" stroke-width="0.9"/>
<line x1="42.60" y1="292.69" x2="44.60" y2="292.69" stroke="#222" stroke-width="0.9"/>
<line x1="91.11" y1="334.80" x2="91.11" y2="336.80" stroke="#222" stroke-width="0.9"/>
<line x1="42.60" y1="291.56" x2="44.60" y2="291.56" stroke="#222" stroke-width="0.9"/>
<line x1="92.20" y1="334.80" x2="92.20" y2="337.80" stroke="#222" stroke-width="0.9"/>
<line x1="41.60" y1="290.55" x2="44.60" y2="290.55" stroke="#222" stroke-width="0.9"/>
<line x1="99.24" y1="334.80" x2="99.24" y2="336.80" stroke="#222" stroke-width="0.9"/>
<line x1="42.60" y1="283.89" x2="44.60" y2="283.89" stroke="#222" stroke-width="0.9"/>
<line x1="103.36" y1="334.80" x2="103.36" y2="336.80" stroke="#222" stroke-width="0.9"/>
<line x1="42.60" y1="279.99" x2="44.60" y2="279.99" stroke="#222" stroke-width="0.9"/>
<line x1="106.29" y1="334.80" x2="106.29" y2="336.80" stroke="#222" stroke-width="0.9"/>
<line x1="42.60" y1="277.23" x2="44.60" y2="277.23" stroke="#222" stroke-width="0.9"/>
<line x1="108.56" y1="334.80" x2="108.56" y2="336.80" stroke="#222" stroke-width="0.9"/>
<line x1="42.60" y1="275.09" x2="44.60" y2="275.09" stroke="#222" stroke-width="0.9"/>
<line x1="110.41" y1="334.80" x2="110.41" y2="336.80" stroke="#222" stroke-width="0.9"/>
<line x1="42.60" y1="273.33" x2="44.60" y2="273.33" stroke="#222" stroke-width="0.9"/>
<line x1="111.98" y1="334.80" x2="111.98" y2="336.80" stroke="#222" stroke-width="0.9"/>
<line x1="42.60" y1="271.85" x2="44.60" y2="271.85" stroke="#222" stroke-width="0.9"/>
<line x1="113.33" y1="334.80" x2="113.33" y2="336.80" stroke="#222" stroke-width="0.9"/>
<line x1="42.60" y1="270.57" x2="44.60" y2="270.57" stroke="#222" stroke-width="0.9"/>
<line x1="114.53" y1="334.80" x2="114.53" y2="336.80" stroke="#222" stroke-width="0.9"/>
<line x1="42.60" y1="269.44" x2="44.60" y2="269.44" stroke="#222" stroke-width="0.9"/>
<line x1="115.60" y1="334.80" x2="115.60" y2="337.80" stroke="#222" stroke-width="0.9"/>
<line x1="41.60" y1="268.43" x2="44.60" y2="268.43" stroke="#222" stroke-width="0.9"/>
<line x1="122.64" y1="334.80" x2="122.64" y2="336.80" stroke="#222" stroke-width="0.9"/>
<line x1="42.60" y1="261.76" x2="44.60" y2="261.76" stroke="#222" stroke-width="0.9"/>
<line x1="126.76" y1="334.80" x2="126.76" y2="336.80" stroke="#222" stroke-width="0.9"/>
<line x1="42.60" y1="257.87" x2="44.60" y2="257.87" stroke="#222" stroke-width="0.9"/>
<line x1="129.69" y1="334.80" x2="129.69" y2="336.80" stroke="#222" stroke-width="0.9"/>
<line x1="42.60" y1="255.10" x2="44.60" y2="255.10" stroke="#222" stroke-width="0.9"/>
<line x1="131.96" y1="334.80" x2="131.96" y2="336.80" stroke="#222" stroke-width="0.9"/>
<line x1="42.60" y1="252.96" x2="44.60" y2="252.96" stroke="#222" stroke-width="0.9"/>
<line x1="133.81" y1="334.80" x2="133.81" y2="336.80" stroke="#222" stroke-width="0.9"/>
<line x1="42.60" y1="251.21" x2="44.60" y2="251.21" stroke="#222" stroke-width="0.9"/>
<line x1="135.38" y1="334.80" x2="135.38" y2="336.80" stroke="#222" stroke-width="0.9"/>
<line x1="42.60" y1="249.73" x2="44.60" y2="249.73" stroke="#222" stroke-width="0.9"/>
<line x1="136.73" y1="334.80" x2="136.73" y2="336.80" stroke="#222" stroke-width="0.9"/>
<line x1="42.60" y1="248.44" x2="44.60" y2="248.44" stroke="#222" stroke-width="0.9"/>
<line x1="137.93" y1="334.80" x2="137.93" y2="336.80" stroke="#222" stroke-width="0.9"/>
<line x1="42.60" y1="247.31" x2="44.60" y2="247.31" stroke="#222" stroke-width="0.9"/>
<line x1="139.00" y1="334.80" x2="139.00" y2="337.80" stroke="#222" stroke-width="0.9"/>
<line x1="41.60" y1="246.30" x2="44.60" y2="246.30" stroke="#222" stroke-width="0.9"/>
<text font-size="7.6" text-anchor="middle" fill="#000" stroke="#000" stroke-width="0.25" transform="translate(45.20,346.70) scale(0.8,1)">10<tspan font-size="6.8" dy="-4">0</tspan></text>
<text font-size="7.6" text-anchor="middle" fill="#000" stroke="#000" stroke-width="0.25" transform="translate(69.00,346.70) scale(0.8,1)">10<tspan font-size="6.8" dy="-4">1</tspan></text>
<text font-size="7.6" text-anchor="middle" fill="#000" stroke="#000" stroke-width="0.25" transform="translate(92.80,346.70) scale(0.8,1)">10<tspan font-size="6.8" dy="-4">2</tspan></text>
<text font-size="7.6" text-anchor="middle" fill="#000" stroke="#000" stroke-width="0.25" transform="translate(116.20,346.70) scale(0.8,1)">10<tspan font-size="6.8" dy="-4">3</tspan></text>
<text font-size="7.6" text-anchor="middle" fill="#000" stroke="#000" stroke-width="0.25" transform="translate(139.60,346.70) scale(0.8,1)">10<tspan font-size="6.8" dy="-4">4</tspan></text>
<text font-size="7.6" text-anchor="middle" fill="#000" stroke="#000" stroke-width="0.25" transform="translate(38.90,335.40) rotate(-90) scale(0.92,1)">10<tspan font-size="6.8" dy="-4">0</tspan></text>
<text font-size="7.6" text-anchor="middle" fill="#000" stroke="#000" stroke-width="0.25" transform="translate(38.90,313.28) rotate(-90) scale(0.92,1)">10<tspan font-size="6.8" dy="-4">1</tspan></text>
<text font-size="7.6" text-anchor="middle" fill="#000" stroke="#000" stroke-width="0.25" transform="translate(38.90,291.15) rotate(-90) scale(0.92,1)">10<tspan font-size="6.8" dy="-4">2</tspan></text>
<text font-size="7.6" text-anchor="middle" fill="#000" stroke="#000" stroke-width="0.25" transform="translate(38.90,269.03) rotate(-90) scale(0.92,1)">10<tspan font-size="6.8" dy="-4">3</tspan></text>
<text font-size="7.6" text-anchor="middle" fill="#000" stroke="#000" stroke-width="0.25" transform="translate(38.90,246.90) rotate(-90) scale(0.92,1)">10<tspan font-size="6.8" dy="-4">4</tspan></text>
<text x="134.70" y="259.60" font-size="12.5" text-anchor="end" fill="#111">1.2</text>
<rect x="169.30" y="246.30" width="93.70" height="88.50" fill="none" stroke="#222" stroke-width="1.2"/>
<line x1="216.80" y1="246.30" x2="216.80" y2="334.80" stroke="#333" stroke-width="1.1"/>
<line x1="169.30" y1="290.60" x2="263.00" y2="290.60" stroke="#333" stroke-width="1.1"/>
<line x1="169.30" y1="334.80" x2="169.30" y2="337.80" stroke="#222" stroke-width="0.9"/>
<line x1="166.30" y1="334.80" x2="169.30" y2="334.80" stroke="#222" stroke-width="0.9"/>
<line x1="176.45" y1="334.80" x2="176.45" y2="336.80" stroke="#222" stroke-width="0.9"/>
<line x1="167.30" y1="328.14" x2="169.30" y2="328.14" stroke="#222" stroke-width="0.9"/>
<line x1="180.63" y1="334.80" x2="180.63" y2="336.80" stroke="#222" stroke-width="0.9"/>
<line x1="167.30" y1="324.24" x2="169.30" y2="324.24" stroke="#222" stroke-width="0.9"/>
<line x1="183.60" y1="334.80" x2="183.60" y2="336.80" stroke="#222" stroke-width="0.9"/>
<line x1="167.30" y1="321.48" x2="169.30" y2="321.48" stroke="#222" stroke-width="0.9"/>
<line x1="185.90" y1="334.80" x2="185.90" y2="336.80" stroke="#222" stroke-width="0.9"/>
<line x1="167.30" y1="319.34" x2="169.30" y2="319.34" stroke="#222" stroke-width="0.9"/>
<line x1="187.78" y1="334.80" x2="187.78" y2="336.80" stroke="#222" stroke-width="0.9"/>
<line x1="167.30" y1="317.58" x2="169.30" y2="317.58" stroke="#222" stroke-width="0.9"/>
<line x1="189.37" y1="334.80" x2="189.37" y2="336.80" stroke="#222" stroke-width="0.9"/>
<line x1="167.30" y1="316.10" x2="169.30" y2="316.10" stroke="#222" stroke-width="0.9"/>
<line x1="190.75" y1="334.80" x2="190.75" y2="336.80" stroke="#222" stroke-width="0.9"/>
<line x1="167.30" y1="314.82" x2="169.30" y2="314.82" stroke="#222" stroke-width="0.9"/>
<line x1="191.96" y1="334.80" x2="191.96" y2="336.80" stroke="#222" stroke-width="0.9"/>
<line x1="167.30" y1="313.69" x2="169.30" y2="313.69" stroke="#222" stroke-width="0.9"/>
<line x1="193.05" y1="334.80" x2="193.05" y2="337.80" stroke="#222" stroke-width="0.9"/>
<line x1="166.30" y1="312.68" x2="169.30" y2="312.68" stroke="#222" stroke-width="0.9"/>
<line x1="200.20" y1="334.80" x2="200.20" y2="336.80" stroke="#222" stroke-width="0.9"/>
<line x1="167.30" y1="306.01" x2="169.30" y2="306.01" stroke="#222" stroke-width="0.9"/>
<line x1="204.38" y1="334.80" x2="204.38" y2="336.80" stroke="#222" stroke-width="0.9"/>
<line x1="167.30" y1="302.12" x2="169.30" y2="302.12" stroke="#222" stroke-width="0.9"/>
<line x1="207.35" y1="334.80" x2="207.35" y2="336.80" stroke="#222" stroke-width="0.9"/>
<line x1="167.30" y1="299.35" x2="169.30" y2="299.35" stroke="#222" stroke-width="0.9"/>
<line x1="209.65" y1="334.80" x2="209.65" y2="336.80" stroke="#222" stroke-width="0.9"/>
<line x1="167.30" y1="297.21" x2="169.30" y2="297.21" stroke="#222" stroke-width="0.9"/>
<line x1="211.53" y1="334.80" x2="211.53" y2="336.80" stroke="#222" stroke-width="0.9"/>
<line x1="167.30" y1="295.46" x2="169.30" y2="295.46" stroke="#222" stroke-width="0.9"/>
<line x1="213.12" y1="334.80" x2="213.12" y2="336.80" stroke="#222" stroke-width="0.9"/>
<line x1="167.30" y1="293.98" x2="169.30" y2="293.98" stroke="#222" stroke-width="0.9"/>
<line x1="214.50" y1="334.80" x2="214.50" y2="336.80" stroke="#222" stroke-width="0.9"/>
<line x1="167.30" y1="292.69" x2="169.30" y2="292.69" stroke="#222" stroke-width="0.9"/>
<line x1="215.71" y1="334.80" x2="215.71" y2="336.80" stroke="#222" stroke-width="0.9"/>
<line x1="167.30" y1="291.56" x2="169.30" y2="291.56" stroke="#222" stroke-width="0.9"/>
<line x1="216.80" y1="334.80" x2="216.80" y2="337.80" stroke="#222" stroke-width="0.9"/>
<line x1="166.30" y1="290.55" x2="169.30" y2="290.55" stroke="#222" stroke-width="0.9"/>
<line x1="223.75" y1="334.80" x2="223.75" y2="336.80" stroke="#222" stroke-width="0.9"/>
<line x1="167.30" y1="283.89" x2="169.30" y2="283.89" stroke="#222" stroke-width="0.9"/>
<line x1="227.82" y1="334.80" x2="227.82" y2="336.80" stroke="#222" stroke-width="0.9"/>
<line x1="167.30" y1="279.99" x2="169.30" y2="279.99" stroke="#222" stroke-width="0.9"/>
<line x1="230.71" y1="334.80" x2="230.71" y2="336.80" stroke="#222" stroke-width="0.9"/>
<line x1="167.30" y1="277.23" x2="169.30" y2="277.23" stroke="#222" stroke-width="0.9"/>
<line x1="232.95" y1="334.80" x2="232.95" y2="336.80" stroke="#222" stroke-width="0.9"/>
<line x1="167.30" y1="275.09" x2="169.30" y2="275.09" stroke="#222" stroke-width="0.9"/>
<line x1="234.78" y1="334.80" x2="234.78" y2="336.80" stroke="#222" stroke-width="0.9"/>
<line x1="167.30" y1="273.33" x2="169.30" y2="273.33" stroke="#222" stroke-width="0.9"/>
<line x1="236.32" y1="334.80" x2="236.32" y2="336.80" stroke="#222" stroke-width="0.9"/>
<line x1="167.30" y1="271.85" x2="169.30" y2="271.85" stroke="#222" stroke-width="0.9"/>
<line x1="237.66" y1="334.80" x2="237.66" y2="336.80" stroke="#222" stroke-width="0.9"/>
<line x1="167.30" y1="270.57" x2="169.30" y2="270.57" stroke="#222" stroke-width="0.9"/>
<line x1="238.84" y1="334.80" x2="238.84" y2="336.80" stroke="#222" stroke-width="0.9"/>
<line x1="167.30" y1="269.44" x2="169.30" y2="269.44" stroke="#222" stroke-width="0.9"/>
<line x1="239.90" y1="334.80" x2="239.90" y2="337.80" stroke="#222" stroke-width="0.9"/>
<line x1="166.30" y1="268.43" x2="169.30" y2="268.43" stroke="#222" stroke-width="0.9"/>
<line x1="246.85" y1="334.80" x2="246.85" y2="336.80" stroke="#222" stroke-width="0.9"/>
<line x1="167.30" y1="261.76" x2="169.30" y2="261.76" stroke="#222" stroke-width="0.9"/>
<line x1="250.92" y1="334.80" x2="250.92" y2="336.80" stroke="#222" stroke-width="0.9"/>
<line x1="167.30" y1="257.87" x2="169.30" y2="257.87" stroke="#222" stroke-width="0.9"/>
<line x1="253.81" y1="334.80" x2="253.81" y2="336.80" stroke="#222" stroke-width="0.9"/>
<line x1="167.30" y1="255.10" x2="169.30" y2="255.10" stroke="#222" stroke-width="0.9"/>
<line x1="256.05" y1="334.80" x2="256.05" y2="336.80" stroke="#222" stroke-width="0.9"/>
<line x1="167.30" y1="252.96" x2="169.30" y2="252.96" stroke="#222" stroke-width="0.9"/>
<line x1="257.88" y1="334.80" x2="257.88" y2="336.80" stroke="#222" stroke-width="0.9"/>
<line x1="167.30" y1="251.21" x2="169.30" y2="251.21" stroke="#222" stroke-width="0.9"/>
<line x1="259.42" y1="334.80" x2="259.42" y2="336.80" stroke="#222" stroke-width="0.9"/>
<line x1="167.30" y1="249.73" x2="169.30" y2="249.73" stroke="#222" stroke-width="0.9"/>
<line x1="260.76" y1="334.80" x2="260.76" y2="336.80" stroke="#222" stroke-width="0.9"/>
<line x1="167.30" y1="248.44" x2="169.30" y2="248.44" stroke="#222" stroke-width="0.9"/>
<line x1="261.94" y1="334.80" x2="261.94" y2="336.80" stroke="#222" stroke-width="0.9"/>
<line x1="167.30" y1="247.31" x2="169.30" y2="247.31" stroke="#222" stroke-width="0.9"/>
<line x1="263.00" y1="334.80" x2="263.00" y2="337.80" stroke="#222" stroke-width="0.9"/>
<line x1="166.30" y1="246.30" x2="169.30" y2="246.30" stroke="#222" stroke-width="0.9"/>
<text font-size="7.6" text-anchor="middle" fill="#000" stroke="#000" stroke-width="0.25" transform="translate(169.90,346.70) scale(0.8,1)">10<tspan font-size="6.8" dy="-4">0</tspan></text>
<text font-size="7.6" text-anchor="middle" fill="#000" stroke="#000" stroke-width="0.25" transform="translate(193.65,346.70) scale(0.8,1)">10<tspan font-size="6.8" dy="-4">1</tspan></text>
<text font-size="7.6" text-anchor="middle" fill="#000" stroke="#000" stroke-width="0.25" transform="translate(217.40,346.70) scale(0.8,1)">10<tspan font-size="6.8" dy="-4">2</tspan></text>
<text font-size="7.6" text-anchor="middle" fill="#000" stroke="#000" stroke-width="0.25" transform="translate(240.50,346.70) scale(0.8,1)">10<tspan font-size="6.8" dy="-4">3</tspan></text>
<text font-size="7.6" text-anchor="middle" fill="#000" stroke="#000" stroke-width="0.25" transform="translate(263.60,346.70) scale(0.8,1)">10<tspan font-size="6.8" dy="-4">4</tspan></text>
<text font-size="7.6" text-anchor="middle" fill="#000" stroke="#000" stroke-width="0.25" transform="translate(163.60,335.40) rotate(-90) scale(0.92,1)">10<tspan font-size="6.8" dy="-4">0</tspan></text>
<text font-size="7.6" text-anchor="middle" fill="#000" stroke="#000" stroke-width="0.25" transform="translate(163.60,313.28) rotate(-90) scale(0.92,1)">10<tspan font-size="6.8" dy="-4">1</tspan></text>
<text font-size="7.6" text-anchor="middle" fill="#000" stroke="#000" stroke-width="0.25" transform="translate(163.60,291.15) rotate(-90) scale(0.92,1)">10<tspan font-size="6.8" dy="-4">2</tspan></text>
<text font-size="7.6" text-anchor="middle" fill="#000" stroke="#000" stroke-width="0.25" transform="translate(163.60,269.03) rotate(-90) scale(0.92,1)">10<tspan font-size="6.8" dy="-4">3</tspan></text>
<text font-size="7.6" text-anchor="middle" fill="#000" stroke="#000" stroke-width="0.25" transform="translate(163.60,246.90) rotate(-90) scale(0.92,1)">10<tspan font-size="6.8" dy="-4">4</tspan></text>
<text x="259.70" y="259.60" font-size="12.5" text-anchor="end" fill="#111">10.2</text>
<rect x="296.60" y="246.30" width="94.00" height="88.50" fill="none" stroke="#222" stroke-width="1.2"/>
<line x1="344.20" y1="246.30" x2="344.20" y2="334.80" stroke="#333" stroke-width="1.1"/>
<line x1="296.60" y1="290.60" x2="390.60" y2="290.60" stroke="#333" stroke-width="1.1"/>
<line x1="296.60" y1="334.80" x2="296.60" y2="337.80" stroke="#222" stroke-width="0.9"/>
<line x1="293.60" y1="334.80" x2="296.60" y2="334.80" stroke="#222" stroke-width="0.9"/>
<line x1="303.76" y1="334.80" x2="303.76" y2="336.80" stroke="#222" stroke-width="0.9"/>
<line x1="294.60" y1="328.14" x2="296.60" y2="328.14" stroke="#222" stroke-width="0.9"/>
<line x1="307.96" y1="334.80" x2="307.96" y2="336.80" stroke="#222" stroke-width="0.9"/>
<line x1="294.60" y1="324.24" x2="296.60" y2="324.24" stroke="#222" stroke-width="0.9"/>
<line x1="310.93" y1="334.80" x2="310.93" y2="336.80" stroke="#222" stroke-width="0.9"/>
<line x1="294.60" y1="321.48" x2="296.60" y2="321.48" stroke="#222" stroke-width="0.9"/>
<line x1="313.24" y1="334.80" x2="313.24" y2="336.80" stroke="#222" stroke-width="0.9"/>
<line x1="294.60" y1="319.34" x2="296.60" y2="319.34" stroke="#222" stroke-width="0.9"/>
<line x1="315.12" y1="334.80" x2="315.12" y2="336.80" stroke="#222" stroke-width="0.9"/>
<line x1="294.60" y1="317.58" x2="296.60" y2="317.58" stroke="#222" stroke-width="0.9"/>
<line x1="316.71" y1="334.80" x2="316.71" y2="336.80" stroke="#222" stroke-width="0.9"/>
<line x1="294.60" y1="316.10" x2="296.60" y2="316.10" stroke="#222" stroke-width="0.9"/>
<line x1="318.09" y1="334.80" x2="318.09" y2="336.80" stroke="#222" stroke-width="0.9"/>
<line x1="294.60" y1="314.82" x2="296.60" y2="314.82" stroke="#222" stroke-width="0.9"/>
<line x1="319.31" y1="334.80" x2="319.31" y2="336.80" stroke="#222" stroke-width="0.9"/>
<line x1="294.60" y1="313.69" x2="296.60" y2="313.69" stroke="#222" stroke-width="0.9"/>
<line x1="320.40" y1="334.80" x2="320.40" y2="337.80" stroke="#222" stroke-width="0.9"/>
<line x1="293.60" y1="312.68" x2="296.60" y2="312.68" stroke="#222" stroke-width="0.9"/>
<line x1="327.56" y1="334.80" x2="327.56" y2="336.80" stroke="#222" stroke-width="0.9"/>
<line x1="294.60" y1="306.01" x2="296.60" y2="306.01" stroke="#222" stroke-width="0.9"/>
<line x1="331.76" y1="334.80" x2="331.76" y2="336.80" stroke="#222" stroke-width="0.9"/>
<line x1="294.60" y1="302.12" x2="296.60" y2="302.12" stroke="#222" stroke-width="0.9"/>
<line x1="334.73" y1="334.80" x2="334.73" y2="336.80" stroke="#222" stroke-width="0.9"/>
<line x1="294.60" y1="299.35" x2="296.60" y2="299.35" stroke="#222" stroke-width="0.9"/>
<line x1="337.04" y1="334.80" x2="337.04" y2="336.80" stroke="#222" stroke-width="0.9"/>
<line x1="294.60" y1="297.21" x2="296.60" y2="297.21" stroke="#222" stroke-width="0.9"/>
<line x1="338.92" y1="334.80" x2="338.92" y2="336.80" stroke="#222" stroke-width="0.9"/>
<line x1="294.60" y1="295.46" x2="296.60" y2="295.46" stroke="#222" stroke-width="0.9"/>
<line x1="340.51" y1="334.80" x2="340.51" y2="336.80" stroke="#222" stroke-width="0.9"/>
<line x1="294.60" y1="293.98" x2="296.60" y2="293.98" stroke="#222" stroke-width="0.9"/>
<line x1="341.89" y1="334.80" x2="341.89" y2="336.80" stroke="#222" stroke-width="0.9"/>
<line x1="294.60" y1="292.69" x2="296.60" y2="292.69" stroke="#222" stroke-width="0.9"/>
<line x1="343.11" y1="334.80" x2="343.11" y2="336.80" stroke="#222" stroke-width="0.9"/>
<line x1="294.60" y1="291.56" x2="296.60" y2="291.56" stroke="#222" stroke-width="0.9"/>
<line x1="344.20" y1="334.80" x2="344.20" y2="337.80" stroke="#222" stroke-width="0.9"/>
<line x1="293.60" y1="290.55" x2="296.60" y2="290.55" stroke="#222" stroke-width="0.9"/>
<line x1="351.18" y1="334.80" x2="351.18" y2="336.80" stroke="#222" stroke-width="0.9"/>
<line x1="294.60" y1="283.89" x2="296.60" y2="283.89" stroke="#222" stroke-width="0.9"/>
<line x1="355.27" y1="334.80" x2="355.27" y2="336.80" stroke="#222" stroke-width="0.9"/>
<line x1="294.60" y1="279.99" x2="296.60" y2="279.99" stroke="#222" stroke-width="0.9"/>
<line x1="358.17" y1="334.80" x2="358.17" y2="336.80" stroke="#222" stroke-width="0.9"/>
<line x1="294.60" y1="277.23" x2="296.60" y2="277.23" stroke="#222" stroke-width="0.9"/>
<line x1="360.42" y1="334.80" x2="360.42" y2="336.80" stroke="#222" stroke-width="0.9"/>
<line x1="294.60" y1="275.09" x2="296.60" y2="275.09" stroke="#222" stroke-width="0.9"/>
<line x1="362.25" y1="334.80" x2="362.25" y2="336.80" stroke="#222" stroke-width="0.9"/>
<line x1="294.60" y1="273.33" x2="296.60" y2="273.33" stroke="#222" stroke-width="0.9"/>
<line x1="363.81" y1="334.80" x2="363.81" y2="336.80" stroke="#222" stroke-width="0.9"/>
<line x1="294.60" y1="271.85" x2="296.60" y2="271.85" stroke="#222" stroke-width="0.9"/>
<line x1="365.15" y1="334.80" x2="365.15" y2="336.80" stroke="#222" stroke-width="0.9"/>
<line x1="294.60" y1="270.57" x2="296.60" y2="270.57" stroke="#222" stroke-width="0.9"/>
<line x1="366.34" y1="334.80" x2="366.34" y2="336.80" stroke="#222" stroke-width="0.9"/>
<line x1="294.60" y1="269.44" x2="296.60" y2="269.44" stroke="#222" stroke-width="0.9"/>
<line x1="367.40" y1="334.80" x2="367.40" y2="337.80" stroke="#222" stroke-width="0.9"/>
<line x1="293.60" y1="268.43" x2="296.60" y2="268.43" stroke="#222" stroke-width="0.9"/>
<line x1="374.38" y1="334.80" x2="374.38" y2="336.80" stroke="#222" stroke-width="0.9"/>
<line x1="294.60" y1="261.76" x2="296.60" y2="261.76" stroke="#222" stroke-width="0.9"/>
<line x1="378.47" y1="334.80" x2="378.47" y2="336.80" stroke="#222" stroke-width="0.9"/>
<line x1="294.60" y1="257.87" x2="296.60" y2="257.87" stroke="#222" stroke-width="0.9"/>
<line x1="381.37" y1="334.80" x2="381.37" y2="336.80" stroke="#222" stroke-width="0.9"/>
<line x1="294.60" y1="255.10" x2="296.60" y2="255.10" stroke="#222" stroke-width="0.9"/>
<line x1="383.62" y1="334.80" x2="383.62" y2="336.80" stroke="#222" stroke-width="0.9"/>
<line x1="294.60" y1="252.96" x2="296.60" y2="252.96" stroke="#222" stroke-width="0.9"/>
<line x1="385.45" y1="334.80" x2="385.45" y2="336.80" stroke="#222" stroke-width="0.9"/>
<line x1="294.60" y1="251.21" x2="296.60" y2="251.21" stroke="#222" stroke-width="0.9"/>
<line x1="387.01" y1="334.80" x2="387.01" y2="336.80" stroke="#222" stroke-width="0.9"/>
<line x1="294.60" y1="249.73" x2="296.60" y2="249.73" stroke="#222" stroke-width="0.9"/>
<line x1="388.35" y1="334.80" x2="388.35" y2="336.80" stroke="#222" stroke-width="0.9"/>
<line x1="294.60" y1="248.44" x2="296.60" y2="248.44" stroke="#222" stroke-width="0.9"/>
<line x1="389.54" y1="334.80" x2="389.54" y2="336.80" stroke="#222" stroke-width="0.9"/>
<line x1="294.60" y1="247.31" x2="296.60" y2="247.31" stroke="#222" stroke-width="0.9"/>
<line x1="390.60" y1="334.80" x2="390.60" y2="337.80" stroke="#222" stroke-width="0.9"/>
<line x1="293.60" y1="246.30" x2="296.60" y2="246.30" stroke="#222" stroke-width="0.9"/>
<text font-size="7.6" text-anchor="middle" fill="#000" stroke="#000" stroke-width="0.25" transform="translate(297.20,346.70) scale(0.8,1)">10<tspan font-size="6.8" dy="-4">0</tspan></text>
<text font-size="7.6" text-anchor="middle" fill="#000" stroke="#000" stroke-width="0.25" transform="translate(321.00,346.70) scale(0.8,1)">10<tspan font-size="6.8" dy="-4">1</tspan></text>
<text font-size="7.6" text-anchor="middle" fill="#000" stroke="#000" stroke-width="0.25" transform="translate(344.80,346.70) scale(0.8,1)">10<tspan font-size="6.8" dy="-4">2</tspan></text>
<text font-size="7.6" text-anchor="middle" fill="#000" stroke="#000" stroke-width="0.25" transform="translate(368.00,346.70) scale(0.8,1)">10<tspan font-size="6.8" dy="-4">3</tspan></text>
<text x="0.00" y="0.00" font-size="7.6" text-anchor="middle" fill="#000" stroke="#000" stroke-width="0.25" transform="translate(389.40,346.70) scale(0.8,1)">10</text>
<text font-size="7.6" text-anchor="middle" fill="#000" stroke="#000" stroke-width="0.25" transform="translate(290.90,335.40) rotate(-90) scale(0.92,1)">10<tspan font-size="6.8" dy="-4">0</tspan></text>
<text font-size="7.6" text-anchor="middle" fill="#000" stroke="#000" stroke-width="0.25" transform="translate(290.90,313.28) rotate(-90) scale(0.92,1)">10<tspan font-size="6.8" dy="-4">1</tspan></text>
<text font-size="7.6" text-anchor="middle" fill="#000" stroke="#000" stroke-width="0.25" transform="translate(290.90,291.15) rotate(-90) scale(0.92,1)">10<tspan font-size="6.8" dy="-4">2</tspan></text>
<text font-size="7.6" text-anchor="middle" fill="#000" stroke="#000" stroke-width="0.25" transform="translate(290.90,269.03) rotate(-90) scale(0.92,1)">10<tspan font-size="6.8" dy="-4">3</tspan></text>
<text font-size="7.6" text-anchor="middle" fill="#000" stroke="#000" stroke-width="0.25" transform="translate(290.90,246.90) rotate(-90) scale(0.92,1)">10<tspan font-size="6.8" dy="-4">4</tspan></text>
<text x="386.30" y="259.60" font-size="12.5" text-anchor="end" fill="#111">3.4</text>
<rect x="420.40" y="246.30" width="94.00" height="88.50" fill="none" stroke="#222" stroke-width="1.2"/>
<line x1="468.00" y1="246.30" x2="468.00" y2="334.80" stroke="#333" stroke-width="1.1"/>
<line x1="420.40" y1="290.60" x2="514.40" y2="290.60" stroke="#333" stroke-width="1.1"/>
<line x1="420.40" y1="334.80" x2="420.40" y2="337.80" stroke="#222" stroke-width="0.9"/>
<line x1="417.40" y1="334.80" x2="420.40" y2="334.80" stroke="#222" stroke-width="0.9"/>
<line x1="427.56" y1="334.80" x2="427.56" y2="336.80" stroke="#222" stroke-width="0.9"/>
<line x1="418.40" y1="328.14" x2="420.40" y2="328.14" stroke="#222" stroke-width="0.9"/>
<line x1="431.76" y1="334.80" x2="431.76" y2="336.80" stroke="#222" stroke-width="0.9"/>
<line x1="418.40" y1="324.24" x2="420.40" y2="324.24" stroke="#222" stroke-width="0.9"/>
<line x1="434.73" y1="334.80" x2="434.73" y2="336.80" stroke="#222" stroke-width="0.9"/>
<line x1="418.40" y1="321.48" x2="420.40" y2="321.48" stroke="#222" stroke-width="0.9"/>
<line x1="437.04" y1="334.80" x2="437.04" y2="336.80" stroke="#222" stroke-width="0.9"/>
<line x1="418.40" y1="319.34" x2="420.40" y2="319.34" stroke="#222" stroke-width="0.9"/>
<line x1="438.92" y1="334.80" x2="438.92" y2="336.80" stroke="#222" stroke-width="0.9"/>
<line x1="418.40" y1="317.58" x2="420.40" y2="317.58" stroke="#222" stroke-width="0.9"/>
<line x1="440.51" y1="334.80" x2="440.51" y2="336.80" stroke="#222" stroke-width="0.9"/>
<line x1="418.40" y1="316.10" x2="420.40" y2="316.10" stroke="#222" stroke-width="0.9"/>
<line x1="441.89" y1="334.80" x2="441.89" y2="336.80" stroke="#222" stroke-width="0.9"/>
<line x1="418.40" y1="314.82" x2="420.40" y2="314.82" stroke="#222" stroke-width="0.9"/>
<line x1="443.11" y1="334.80" x2="443.11" y2="336.80" stroke="#222" stroke-width="0.9"/>
<line x1="418.40" y1="313.69" x2="420.40" y2="313.69" stroke="#222" stroke-width="0.9"/>
<line x1="444.20" y1="334.80" x2="444.20" y2="337.80" stroke="#222" stroke-width="0.9"/>
<line x1="417.40" y1="312.68" x2="420.40" y2="312.68" stroke="#222" stroke-width="0.9"/>
<line x1="451.36" y1="334.80" x2="451.36" y2="336.80" stroke="#222" stroke-width="0.9"/>
<line x1="418.40" y1="306.01" x2="420.40" y2="306.01" stroke="#222" stroke-width="0.9"/>
<line x1="455.56" y1="334.80" x2="455.56" y2="336.80" stroke="#222" stroke-width="0.9"/>
<line x1="418.40" y1="302.12" x2="420.40" y2="302.12" stroke="#222" stroke-width="0.9"/>
<line x1="458.53" y1="334.80" x2="458.53" y2="336.80" stroke="#222" stroke-width="0.9"/>
<line x1="418.40" y1="299.35" x2="420.40" y2="299.35" stroke="#222" stroke-width="0.9"/>
<line x1="460.84" y1="334.80" x2="460.84" y2="336.80" stroke="#222" stroke-width="0.9"/>
<line x1="418.40" y1="297.21" x2="420.40" y2="297.21" stroke="#222" stroke-width="0.9"/>
<line x1="462.72" y1="334.80" x2="462.72" y2="336.80" stroke="#222" stroke-width="0.9"/>
<line x1="418.40" y1="295.46" x2="420.40" y2="295.46" stroke="#222" stroke-width="0.9"/>
<line x1="464.31" y1="334.80" x2="464.31" y2="336.80" stroke="#222" stroke-width="0.9"/>
<line x1="418.40" y1="293.98" x2="420.40" y2="293.98" stroke="#222" stroke-width="0.9"/>
<line x1="465.69" y1="334.80" x2="465.69" y2="336.80" stroke="#222" stroke-width="0.9"/>
<line x1="418.40" y1="292.69" x2="420.40" y2="292.69" stroke="#222" stroke-width="0.9"/>
<line x1="466.91" y1="334.80" x2="466.91" y2="336.80" stroke="#222" stroke-width="0.9"/>
<line x1="418.40" y1="291.56" x2="420.40" y2="291.56" stroke="#222" stroke-width="0.9"/>
<line x1="468.00" y1="334.80" x2="468.00" y2="337.80" stroke="#222" stroke-width="0.9"/>
<line x1="417.40" y1="290.55" x2="420.40" y2="290.55" stroke="#222" stroke-width="0.9"/>
<line x1="474.98" y1="334.80" x2="474.98" y2="336.80" stroke="#222" stroke-width="0.9"/>
<line x1="418.40" y1="283.89" x2="420.40" y2="283.89" stroke="#222" stroke-width="0.9"/>
<line x1="479.07" y1="334.80" x2="479.07" y2="336.80" stroke="#222" stroke-width="0.9"/>
<line x1="418.40" y1="279.99" x2="420.40" y2="279.99" stroke="#222" stroke-width="0.9"/>
<line x1="481.97" y1="334.80" x2="481.97" y2="336.80" stroke="#222" stroke-width="0.9"/>
<line x1="418.40" y1="277.23" x2="420.40" y2="277.23" stroke="#222" stroke-width="0.9"/>
<line x1="484.22" y1="334.80" x2="484.22" y2="336.80" stroke="#222" stroke-width="0.9"/>
<line x1="418.40" y1="275.09" x2="420.40" y2="275.09" stroke="#222" stroke-width="0.9"/>
<line x1="486.05" y1="334.80" x2="486.05" y2="336.80" stroke="#222" stroke-width="0.9"/>
<line x1="418.40" y1="273.33" x2="420.40" y2="273.33" stroke="#222" stroke-width="0.9"/>
<line x1="487.61" y1="334.80" x2="487.61" y2="336.80" stroke="#222" stroke-width="0.9"/>
<line x1="418.40" y1="271.85" x2="420.40" y2="271.85" stroke="#222" stroke-width="0.9"/>
<line x1="488.95" y1="334.80" x2="488.95" y2="336.80" stroke="#222" stroke-width="0.9"/>
<line x1="418.40" y1="270.57" x2="420.40" y2="270.57" stroke="#222" stroke-width="0.9"/>
<line x1="490.14" y1="334.80" x2="490.14" y2="336.80" stroke="#222" stroke-width="0.9"/>
<line x1="418.40" y1="269.44" x2="420.40" y2="269.44" stroke="#222" stroke-width="0.9"/>
<line x1="491.20" y1="334.80" x2="491.20" y2="337.80" stroke="#222" stroke-width="0.9"/>
<line x1="417.40" y1="268.43" x2="420.40" y2="268.43" stroke="#222" stroke-width="0.9"/>
<line x1="498.18" y1="334.80" x2="498.18" y2="336.80" stroke="#222" stroke-width="0.9"/>
<line x1="418.40" y1="261.76" x2="420.40" y2="261.76" stroke="#222" stroke-width="0.9"/>
<line x1="502.27" y1="334.80" x2="502.27" y2="336.80" stroke="#222" stroke-width="0.9"/>
<line x1="418.40" y1="257.87" x2="420.40" y2="257.87" stroke="#222" stroke-width="0.9"/>
<line x1="505.17" y1="334.80" x2="505.17" y2="336.80" stroke="#222" stroke-width="0.9"/>
<line x1="418.40" y1="255.10" x2="420.40" y2="255.10" stroke="#222" stroke-width="0.9"/>
<line x1="507.42" y1="334.80" x2="507.42" y2="336.80" stroke="#222" stroke-width="0.9"/>
<line x1="418.40" y1="252.96" x2="420.40" y2="252.96" stroke="#222" stroke-width="0.9"/>
<line x1="509.25" y1="334.80" x2="509.25" y2="336.80" stroke="#222" stroke-width="0.9"/>
<line x1="418.40" y1="251.21" x2="420.40" y2="251.21" stroke="#222" stroke-width="0.9"/>
<line x1="510.81" y1="334.80" x2="510.81" y2="336.80" stroke="#222" stroke-width="0.9"/>
<line x1="418.40" y1="249.73" x2="420.40" y2="249.73" stroke="#222" stroke-width="0.9"/>
<line x1="512.15" y1="334.80" x2="512.15" y2="336.80" stroke="#222" stroke-width="0.9"/>
<line x1="418.40" y1="248.44" x2="420.40" y2="248.44" stroke="#222" stroke-width="0.9"/>
<line x1="513.34" y1="334.80" x2="513.34" y2="336.80" stroke="#222" stroke-width="0.9"/>
<line x1="418.40" y1="247.31" x2="420.40" y2="247.31" stroke="#222" stroke-width="0.9"/>
<line x1="514.40" y1="334.80" x2="514.40" y2="337.80" stroke="#222" stroke-width="0.9"/>
<line x1="417.40" y1="246.30" x2="420.40" y2="246.30" stroke="#222" stroke-width="0.9"/>
<text font-size="7.6" text-anchor="middle" fill="#000" stroke="#000" stroke-width="0.25" transform="translate(421.00,346.70) scale(0.8,1)">10<tspan font-size="6.8" dy="-4">0</tspan></text>
<text font-size="7.6" text-anchor="middle" fill="#000" stroke="#000" stroke-width="0.25" transform="translate(444.80,346.70) scale(0.8,1)">10<tspan font-size="6.8" dy="-4">1</tspan></text>
<text font-size="7.6" text-anchor="middle" fill="#000" stroke="#000" stroke-width="0.25" transform="translate(468.60,346.70) scale(0.8,1)">10<tspan font-size="6.8" dy="-4">2</tspan></text>
<text font-size="7.6" text-anchor="middle" fill="#000" stroke="#000" stroke-width="0.25" transform="translate(491.80,346.70) scale(0.8,1)">10<tspan font-size="6.8" dy="-4">3</tspan></text>
<text font-size="7.6" text-anchor="middle" fill="#000" stroke="#000" stroke-width="0.25" transform="translate(515.00,346.70) scale(0.8,1)">10<tspan font-size="6.8" dy="-4">4</tspan></text>
<text font-size="7.6" text-anchor="middle" fill="#000" stroke="#000" stroke-width="0.25" transform="translate(414.70,335.40) rotate(-90) scale(0.92,1)">10<tspan font-size="6.8" dy="-4">0</tspan></text>
<text font-size="7.6" text-anchor="middle" fill="#000" stroke="#000" stroke-width="0.25" transform="translate(414.70,313.28) rotate(-90) scale(0.92,1)">10<tspan font-size="6.8" dy="-4">1</tspan></text>
<text font-size="7.6" text-anchor="middle" fill="#000" stroke="#000" stroke-width="0.25" transform="translate(414.70,291.15) rotate(-90) scale(0.92,1)">10<tspan font-size="6.8" dy="-4">2</tspan></text>
<text font-size="7.6" text-anchor="middle" fill="#000" stroke="#000" stroke-width="0.25" transform="translate(414.70,269.03) rotate(-90) scale(0.92,1)">10<tspan font-size="6.8" dy="-4">3</tspan></text>
<text font-size="7.6" text-anchor="middle" fill="#000" stroke="#000" stroke-width="0.25" transform="translate(414.70,246.90) rotate(-90) scale(0.92,1)">10<tspan font-size="6.8" dy="-4">4</tspan></text>
<text x="510.10" y="259.60" font-size="12.5" text-anchor="end" fill="#111">1.8</text>
<rect x="44.60" y="369.60" width="94.40" height="88.00" fill="none" stroke="#222" stroke-width="1.2"/>
<line x1="92.20" y1="369.60" x2="92.20" y2="457.60" stroke="#333" stroke-width="1.1"/>
<line x1="44.60" y1="414.10" x2="139.00" y2="414.10" stroke="#333" stroke-width="1.1"/>
<line x1="44.60" y1="457.60" x2="44.60" y2="460.60" stroke="#222" stroke-width="0.9"/>
<line x1="41.60" y1="457.60" x2="44.60" y2="457.60" stroke="#222" stroke-width="0.9"/>
<line x1="51.76" y1="457.60" x2="51.76" y2="459.60" stroke="#222" stroke-width="0.9"/>
<line x1="42.60" y1="450.98" x2="44.60" y2="450.98" stroke="#222" stroke-width="0.9"/>
<line x1="55.96" y1="457.60" x2="55.96" y2="459.60" stroke="#222" stroke-width="0.9"/>
<line x1="42.60" y1="447.10" x2="44.60" y2="447.10" stroke="#222" stroke-width="0.9"/>
<line x1="58.93" y1="457.60" x2="58.93" y2="459.60" stroke="#222" stroke-width="0.9"/>
<line x1="42.60" y1="444.35" x2="44.60" y2="444.35" stroke="#222" stroke-width="0.9"/>
<line x1="61.24" y1="457.60" x2="61.24" y2="459.60" stroke="#222" stroke-width="0.9"/>
<line x1="42.60" y1="442.22" x2="44.60" y2="442.22" stroke="#222" stroke-width="0.9"/>
<line x1="63.12" y1="457.60" x2="63.12" y2="459.60" stroke="#222" stroke-width="0.9"/>
<line x1="42.60" y1="440.48" x2="44.60" y2="440.48" stroke="#222" stroke-width="0.9"/>
<line x1="64.71" y1="457.60" x2="64.71" y2="459.60" stroke="#222" stroke-width="0.9"/>
<line x1="42.60" y1="439.01" x2="44.60" y2="439.01" stroke="#222" stroke-width="0.9"/>
<line x1="66.09" y1="457.60" x2="66.09" y2="459.60" stroke="#222" stroke-width="0.9"/>
<line x1="42.60" y1="437.73" x2="44.60" y2="437.73" stroke="#222" stroke-width="0.9"/>
<line x1="67.31" y1="457.60" x2="67.31" y2="459.60" stroke="#222" stroke-width="0.9"/>
<line x1="42.60" y1="436.61" x2="44.60" y2="436.61" stroke="#222" stroke-width="0.9"/>
<line x1="68.40" y1="457.60" x2="68.40" y2="460.60" stroke="#222" stroke-width="0.9"/>
<line x1="41.60" y1="435.60" x2="44.60" y2="435.60" stroke="#222" stroke-width="0.9"/>
<line x1="75.56" y1="457.60" x2="75.56" y2="459.60" stroke="#222" stroke-width="0.9"/>
<line x1="42.60" y1="428.98" x2="44.60" y2="428.98" stroke="#222" stroke-width="0.9"/>
<line x1="79.76" y1="457.60" x2="79.76" y2="459.60" stroke="#222" stroke-width="0.9"/>
<line x1="42.60" y1="425.10" x2="44.60" y2="425.10" stroke="#222" stroke-width="0.9"/>
<line x1="82.73" y1="457.60" x2="82.73" y2="459.60" stroke="#222" stroke-width="0.9"/>
<line x1="42.60" y1="422.35" x2="44.60" y2="422.35" stroke="#222" stroke-width="0.9"/>
<line x1="85.04" y1="457.60" x2="85.04" y2="459.60" stroke="#222" stroke-width="0.9"/>
<line x1="42.60" y1="420.22" x2="44.60" y2="420.22" stroke="#222" stroke-width="0.9"/>
<line x1="86.92" y1="457.60" x2="86.92" y2="459.60" stroke="#222" stroke-width="0.9"/>
<line x1="42.60" y1="418.48" x2="44.60" y2="418.48" stroke="#222" stroke-width="0.9"/>
<line x1="88.51" y1="457.60" x2="88.51" y2="459.60" stroke="#222" stroke-width="0.9"/>
<line x1="42.60" y1="417.01" x2="44.60" y2="417.01" stroke="#222" stroke-width="0.9"/>
<line x1="89.89" y1="457.60" x2="89.89" y2="459.60" stroke="#222" stroke-width="0.9"/>
<line x1="42.60" y1="415.73" x2="44.60" y2="415.73" stroke="#222" stroke-width="0.9"/>
<line x1="91.11" y1="457.60" x2="91.11" y2="459.60" stroke="#222" stroke-width="0.9"/>
<line x1="42.60" y1="414.61" x2="44.60" y2="414.61" stroke="#222" stroke-width="0.9"/>
<line x1="92.20" y1="457.60" x2="92.20" y2="460.60" stroke="#222" stroke-width="0.9"/>
<line x1="41.60" y1="413.60" x2="44.60" y2="413.60" stroke="#222" stroke-width="0.9"/>
<line x1="99.24" y1="457.60" x2="99.24" y2="459.60" stroke="#222" stroke-width="0.9"/>
<line x1="42.60" y1="406.98" x2="44.60" y2="406.98" stroke="#222" stroke-width="0.9"/>
<line x1="103.36" y1="457.60" x2="103.36" y2="459.60" stroke="#222" stroke-width="0.9"/>
<line x1="42.60" y1="403.10" x2="44.60" y2="403.10" stroke="#222" stroke-width="0.9"/>
<line x1="106.29" y1="457.60" x2="106.29" y2="459.60" stroke="#222" stroke-width="0.9"/>
<line x1="42.60" y1="400.35" x2="44.60" y2="400.35" stroke="#222" stroke-width="0.9"/>
<line x1="108.56" y1="457.60" x2="108.56" y2="459.60" stroke="#222" stroke-width="0.9"/>
<line x1="42.60" y1="398.22" x2="44.60" y2="398.22" stroke="#222" stroke-width="0.9"/>
<line x1="110.41" y1="457.60" x2="110.41" y2="459.60" stroke="#222" stroke-width="0.9"/>
<line x1="42.60" y1="396.48" x2="44.60" y2="396.48" stroke="#222" stroke-width="0.9"/>
<line x1="111.98" y1="457.60" x2="111.98" y2="459.60" stroke="#222" stroke-width="0.9"/>
<line x1="42.60" y1="395.01" x2="44.60" y2="395.01" stroke="#222" stroke-width="0.9"/>
<line x1="113.33" y1="457.60" x2="113.33" y2="459.60" stroke="#222" stroke-width="0.9"/>
<line x1="42.60" y1="393.73" x2="44.60" y2="393.73" stroke="#222" stroke-width="0.9"/>
<line x1="114.53" y1="457.60" x2="114.53" y2="459.60" stroke="#222" stroke-width="0.9"/>
<line x1="42.60" y1="392.61" x2="44.60" y2="392.61" stroke="#222" stroke-width="0.9"/>
<line x1="115.60" y1="457.60" x2="115.60" y2="460.60" stroke="#222" stroke-width="0.9"/>
<line x1="41.60" y1="391.60" x2="44.60" y2="391.60" stroke="#222" stroke-width="0.9"/>
<line x1="122.64" y1="457.60" x2="122.64" y2="459.60" stroke="#222" stroke-width="0.9"/>
<line x1="42.60" y1="384.98" x2="44.60" y2="384.98" stroke="#222" stroke-width="0.9"/>
<line x1="126.76" y1="457.60" x2="126.76" y2="459.60" stroke="#222" stroke-width="0.9"/>
<line x1="42.60" y1="381.10" x2="44.60" y2="381.10" stroke="#222" stroke-width="0.9"/>
<line x1="129.69" y1="457.60" x2="129.69" y2="459.60" stroke="#222" stroke-width="0.9"/>
<line x1="42.60" y1="378.35" x2="44.60" y2="378.35" stroke="#222" stroke-width="0.9"/>
<line x1="131.96" y1="457.60" x2="131.96" y2="459.60" stroke="#222" stroke-width="0.9"/>
<line x1="42.60" y1="376.22" x2="44.60" y2="376.22" stroke="#222" stroke-width="0.9"/>
<line x1="133.81" y1="457.60" x2="133.81" y2="459.60" stroke="#222" stroke-width="0.9"/>
<line x1="42.60" y1="374.48" x2="44.60" y2="374.48" stroke="#222" stroke-width="0.9"/>
<line x1="135.38" y1="457.60" x2="135.38" y2="459.60" stroke="#222" stroke-width="0.9"/>
<line x1="42.60" y1="373.01" x2="44.60" y2="373.01" stroke="#222" stroke-width="0.9"/>
<line x1="136.73" y1="457.60" x2="136.73" y2="459.60" stroke="#222" stroke-width="0.9"/>
<line x1="42.60" y1="371.73" x2="44.60" y2="371.73" stroke="#222" stroke-width="0.9"/>
<line x1="137.93" y1="457.60" x2="137.93" y2="459.60" stroke="#222" stroke-width="0.9"/>
<line x1="42.60" y1="370.61" x2="44.60" y2="370.61" stroke="#222" stroke-width="0.9"/>
<line x1="139.00" y1="457.60" x2="139.00" y2="460.60" stroke="#222" stroke-width="0.9"/>
<line x1="41.60" y1="369.60" x2="44.60" y2="369.60" stroke="#222" stroke-width="0.9"/>
<text font-size="7.6" text-anchor="middle" fill="#000" stroke="#000" stroke-width="0.25" transform="translate(45.20,469.50) scale(0.8,1)">10<tspan font-size="6.8" dy="-4">0</tspan></text>
<text font-size="7.6" text-anchor="middle" fill="#000" stroke="#000" stroke-width="0.25" transform="translate(69.00,469.50) scale(0.8,1)">10<tspan font-size="6.8" dy="-4">1</tspan></text>
<text font-size="7.6" text-anchor="middle" fill="#000" stroke="#000" stroke-width="0.25" transform="translate(92.80,469.50) scale(0.8,1)">10<tspan font-size="6.8" dy="-4">2</tspan></text>
<text font-size="7.6" text-anchor="middle" fill="#000" stroke="#000" stroke-width="0.25" transform="translate(116.20,469.50) scale(0.8,1)">10<tspan font-size="6.8" dy="-4">3</tspan></text>
<text font-size="7.6" text-anchor="middle" fill="#000" stroke="#000" stroke-width="0.25" transform="translate(139.60,469.50) scale(0.8,1)">10<tspan font-size="6.8" dy="-4">4</tspan></text>
<text font-size="7.6" text-anchor="middle" fill="#000" stroke="#000" stroke-width="0.25" transform="translate(38.90,458.20) rotate(-90) scale(0.92,1)">10<tspan font-size="6.8" dy="-4">0</tspan></text>
<text font-size="7.6" text-anchor="middle" fill="#000" stroke="#000" stroke-width="0.25" transform="translate(38.90,436.20) rotate(-90) scale(0.92,1)">10<tspan font-size="6.8" dy="-4">1</tspan></text>
<text font-size="7.6" text-anchor="middle" fill="#000" stroke="#000" stroke-width="0.25" transform="translate(38.90,414.20) rotate(-90) scale(0.92,1)">10<tspan font-size="6.8" dy="-4">2</tspan></text>
<text font-size="7.6" text-anchor="middle" fill="#000" stroke="#000" stroke-width="0.25" transform="translate(38.90,392.20) rotate(-90) scale(0.92,1)">10<tspan font-size="6.8" dy="-4">3</tspan></text>
<text font-size="7.6" text-anchor="middle" fill="#000" stroke="#000" stroke-width="0.25" transform="translate(38.90,370.20) rotate(-90) scale(0.92,1)">10<tspan font-size="6.8" dy="-4">4</tspan></text>
<text x="134.70" y="382.90" font-size="12.5" text-anchor="end" fill="#111">2.6</text>
<rect x="169.30" y="369.60" width="93.70" height="88.00" fill="none" stroke="#222" stroke-width="1.2"/>
<line x1="216.80" y1="369.60" x2="216.80" y2="457.60" stroke="#333" stroke-width="1.1"/>
<line x1="169.30" y1="414.10" x2="263.00" y2="414.10" stroke="#333" stroke-width="1.1"/>
<line x1="169.30" y1="457.60" x2="169.30" y2="460.60" stroke="#222" stroke-width="0.9"/>
<line x1="166.30" y1="457.60" x2="169.30" y2="457.60" stroke="#222" stroke-width="0.9"/>
<line x1="176.45" y1="457.60" x2="176.45" y2="459.60" stroke="#222" stroke-width="0.9"/>
<line x1="167.30" y1="450.98" x2="169.30" y2="450.98" stroke="#222" stroke-width="0.9"/>
<line x1="180.63" y1="457.60" x2="180.63" y2="459.60" stroke="#222" stroke-width="0.9"/>
<line x1="167.30" y1="447.10" x2="169.30" y2="447.10" stroke="#222" stroke-width="0.9"/>
<line x1="183.60" y1="457.60" x2="183.60" y2="459.60" stroke="#222" stroke-width="0.9"/>
<line x1="167.30" y1="444.35" x2="169.30" y2="444.35" stroke="#222" stroke-width="0.9"/>
<line x1="185.90" y1="457.60" x2="185.90" y2="459.60" stroke="#222" stroke-width="0.9"/>
<line x1="167.30" y1="442.22" x2="169.30" y2="442.22" stroke="#222" stroke-width="0.9"/>
<line x1="187.78" y1="457.60" x2="187.78" y2="459.60" stroke="#222" stroke-width="0.9"/>
<line x1="167.30" y1="440.48" x2="169.30" y2="440.48" stroke="#222" stroke-width="0.9"/>
<line x1="189.37" y1="457.60" x2="189.37" y2="459.60" stroke="#222" stroke-width="0.9"/>
<line x1="167.30" y1="439.01" x2="169.30" y2="439.01" stroke="#222" stroke-width="0.9"/>
<line x1="190.75" y1="457.60" x2="190.75" y2="459.60" stroke="#222" stroke-width="0.9"/>
<line x1="167.30" y1="437.73" x2="169.30" y2="437.73" stroke="#222" stroke-width="0.9"/>
<line x1="191.96" y1="457.60" x2="191.96" y2="459.60" stroke="#222" stroke-width="0.9"/>
<line x1="167.30" y1="436.61" x2="169.30" y2="436.61" stroke="#222" stroke-width="0.9"/>
<line x1="193.05" y1="457.60" x2="193.05" y2="460.60" stroke="#222" stroke-width="0.9"/>
<line x1="166.30" y1="435.60" x2="169.30" y2="435.60" stroke="#222" stroke-width="0.9"/>
<line x1="200.20" y1="457.60" x2="200.20" y2="459.60" stroke="#222" stroke-width="0.9"/>
<line x1="167.30" y1="428.98" x2="169.30" y2="428.98" stroke="#222" stroke-width="0.9"/>
<line x1="204.38" y1="457.60" x2="204.38" y2="459.60" stroke="#222" stroke-width="0.9"/>
<line x1="167.30" y1="425.10" x2="169.30" y2="425.10" stroke="#222" stroke-width="0.9"/>
<line x1="207.35" y1="457.60" x2="207.35" y2="459.60" stroke="#222" stroke-width="0.9"/>
<line x1="167.30" y1="422.35" x2="169.30" y2="422.35" stroke="#222" stroke-width="0.9"/>
<line x1="209.65" y1="457.60" x2="209.65" y2="459.60" stroke="#222" stroke-width="0.9"/>
<line x1="167.30" y1="420.22" x2="169.30" y2="420.22" stroke="#222" stroke-width="0.9"/>
<line x1="211.53" y1="457.60" x2="211.53" y2="459.60" stroke="#222" stroke-width="0.9"/>
<line x1="167.30" y1="418.48" x2="169.30" y2="418.48" stroke="#222" stroke-width="0.9"/>
<line x1="213.12" y1="457.60" x2="213.12" y2="459.60" stroke="#222" stroke-width="0.9"/>
<line x1="167.30" y1="417.01" x2="169.30" y2="417.01" stroke="#222" stroke-width="0.9"/>
<line x1="214.50" y1="457.60" x2="214.50" y2="459.60" stroke="#222" stroke-width="0.9"/>
<line x1="167.30" y1="415.73" x2="169.30" y2="415.73" stroke="#222" stroke-width="0.9"/>
<line x1="215.71" y1="457.60" x2="215.71" y2="459.60" stroke="#222" stroke-width="0.9"/>
<line x1="167.30" y1="414.61" x2="169.30" y2="414.61" stroke="#222" stroke-width="0.9"/>
<line x1="216.80" y1="457.60" x2="216.80" y2="460.60" stroke="#222" stroke-width="0.9"/>
<line x1="166.30" y1="413.60" x2="169.30" y2="413.60" stroke="#222" stroke-width="0.9"/>
<line x1="223.75" y1="457.60" x2="223.75" y2="459.60" stroke="#222" stroke-width="0.9"/>
<line x1="167.30" y1="406.98" x2="169.30" y2="406.98" stroke="#222" stroke-width="0.9"/>
<line x1="227.82" y1="457.60" x2="227.82" y2="459.60" stroke="#222" stroke-width="0.9"/>
<line x1="167.30" y1="403.10" x2="169.30" y2="403.10" stroke="#222" stroke-width="0.9"/>
<line x1="230.71" y1="457.60" x2="230.71" y2="459.60" stroke="#222" stroke-width="0.9"/>
<line x1="167.30" y1="400.35" x2="169.30" y2="400.35" stroke="#222" stroke-width="0.9"/>
<line x1="232.95" y1="457.60" x2="232.95" y2="459.60" stroke="#222" stroke-width="0.9"/>
<line x1="167.30" y1="398.22" x2="169.30" y2="398.22" stroke="#222" stroke-width="0.9"/>
<line x1="234.78" y1="457.60" x2="234.78" y2="459.60" stroke="#222" stroke-width="0.9"/>
<line x1="167.30" y1="396.48" x2="169.30" y2="396.48" stroke="#222" stroke-width="0.9"/>
<line x1="236.32" y1="457.60" x2="236.32" y2="459.60" stroke="#222" stroke-width="0.9"/>
<line x1="167.30" y1="395.01" x2="169.30" y2="395.01" stroke="#222" stroke-width="0.9"/>
<line x1="237.66" y1="457.60" x2="237.66" y2="459.60" stroke="#222" stroke-width="0.9"/>
<line x1="167.30" y1="393.73" x2="169.30" y2="393.73" stroke="#222" stroke-width="0.9"/>
<line x1="238.84" y1="457.60" x2="238.84" y2="459.60" stroke="#222" stroke-width="0.9"/>
<line x1="167.30" y1="392.61" x2="169.30" y2="392.61" stroke="#222" stroke-width="0.9"/>
<line x1="239.90" y1="457.60" x2="239.90" y2="460.60" stroke="#222" stroke-width="0.9"/>
<line x1="166.30" y1="391.60" x2="169.30" y2="391.60" stroke="#222" stroke-width="0.9"/>
<line x1="246.85" y1="457.60" x2="246.85" y2="459.60" stroke="#222" stroke-width="0.9"/>
<line x1="167.30" y1="384.98" x2="169.30" y2="384.98" stroke="#222" stroke-width="0.9"/>
<line x1="250.92" y1="457.60" x2="250.92" y2="459.60" stroke="#222" stroke-width="0.9"/>
<line x1="167.30" y1="381.10" x2="169.30" y2="381.10" stroke="#222" stroke-width="0.9"/>
<line x1="253.81" y1="457.60" x2="253.81" y2="459.60" stroke="#222" stroke-width="0.9"/>
<line x1="167.30" y1="378.35" x2="169.30" y2="378.35" stroke="#222" stroke-width="0.9"/>
<line x1="256.05" y1="457.60" x2="256.05" y2="459.60" stroke="#222" stroke-width="0.9"/>
<line x1="167.30" y1="376.22" x2="169.30" y2="376.22" stroke="#222" stroke-width="0.9"/>
<line x1="257.88" y1="457.60" x2="257.88" y2="459.60" stroke="#222" stroke-width="0.9"/>
<line x1="167.30" y1="374.48" x2="169.30" y2="374.48" stroke="#222" stroke-width="0.9"/>
<line x1="259.42" y1="457.60" x2="259.42" y2="459.60" stroke="#222" stroke-width="0.9"/>
<line x1="167.30" y1="373.01" x2="169.30" y2="373.01" stroke="#222" stroke-width="0.9"/>
<line x1="260.76" y1="457.60" x2="260.76" y2="459.60" stroke="#222" stroke-width="0.9"/>
<line x1="167.30" y1="371.73" x2="169.30" y2="371.73" stroke="#222" stroke-width="0.9"/>
<line x1="261.94" y1="457.60" x2="261.94" y2="459.60" stroke="#222" stroke-width="0.9"/>
<line x1="167.30" y1="370.61" x2="169.30" y2="370.61" stroke="#222" stroke-width="0.9"/>
<line x1="263.00" y1="457.60" x2="263.00" y2="460.60" stroke="#222" stroke-width="0.9"/>
<line x1="166.30" y1="369.60" x2="169.30" y2="369.60" stroke="#222" stroke-width="0.9"/>
<text font-size="7.6" text-anchor="middle" fill="#000" stroke="#000" stroke-width="0.25" transform="translate(169.90,469.50) scale(0.8,1)">10<tspan font-size="6.8" dy="-4">0</tspan></text>
<text font-size="7.6" text-anchor="middle" fill="#000" stroke="#000" stroke-width="0.25" transform="translate(193.65,469.50) scale(0.8,1)">10<tspan font-size="6.8" dy="-4">1</tspan></text>
<text font-size="7.6" text-anchor="middle" fill="#000" stroke="#000" stroke-width="0.25" transform="translate(217.40,469.50) scale(0.8,1)">10<tspan font-size="6.8" dy="-4">2</tspan></text>
<text font-size="7.6" text-anchor="middle" fill="#000" stroke="#000" stroke-width="0.25" transform="translate(240.50,469.50) scale(0.8,1)">10<tspan font-size="6.8" dy="-4">3</tspan></text>
<text font-size="7.6" text-anchor="middle" fill="#000" stroke="#000" stroke-width="0.25" transform="translate(263.60,469.50) scale(0.8,1)">10<tspan font-size="6.8" dy="-4">4</tspan></text>
<text font-size="7.6" text-anchor="middle" fill="#000" stroke="#000" stroke-width="0.25" transform="translate(163.60,458.20) rotate(-90) scale(0.92,1)">10<tspan font-size="6.8" dy="-4">0</tspan></text>
<text font-size="7.6" text-anchor="middle" fill="#000" stroke="#000" stroke-width="0.25" transform="translate(163.60,436.20) rotate(-90) scale(0.92,1)">10<tspan font-size="6.8" dy="-4">1</tspan></text>
<text font-size="7.6" text-anchor="middle" fill="#000" stroke="#000" stroke-width="0.25" transform="translate(163.60,414.20) rotate(-90) scale(0.92,1)">10<tspan font-size="6.8" dy="-4">2</tspan></text>
<text font-size="7.6" text-anchor="middle" fill="#000" stroke="#000" stroke-width="0.25" transform="translate(163.60,392.20) rotate(-90) scale(0.92,1)">10<tspan font-size="6.8" dy="-4">3</tspan></text>
<text font-size="7.6" text-anchor="middle" fill="#000" stroke="#000" stroke-width="0.25" transform="translate(163.60,370.20) rotate(-90) scale(0.92,1)">10<tspan font-size="6.8" dy="-4">4</tspan></text>
<text x="258.70" y="382.90" font-size="12.5" text-anchor="end" fill="#111">2.0</text>
<rect x="296.60" y="369.60" width="94.00" height="88.00" fill="none" stroke="#222" stroke-width="1.2"/>
<line x1="344.20" y1="369.60" x2="344.20" y2="457.60" stroke="#333" stroke-width="1.1"/>
<line x1="296.60" y1="414.10" x2="390.60" y2="414.10" stroke="#333" stroke-width="1.1"/>
<line x1="296.60" y1="457.60" x2="296.60" y2="460.60" stroke="#222" stroke-width="0.9"/>
<line x1="293.60" y1="457.60" x2="296.60" y2="457.60" stroke="#222" stroke-width="0.9"/>
<line x1="303.76" y1="457.60" x2="303.76" y2="459.60" stroke="#222" stroke-width="0.9"/>
<line x1="294.60" y1="450.98" x2="296.60" y2="450.98" stroke="#222" stroke-width="0.9"/>
<line x1="307.96" y1="457.60" x2="307.96" y2="459.60" stroke="#222" stroke-width="0.9"/>
<line x1="294.60" y1="447.10" x2="296.60" y2="447.10" stroke="#222" stroke-width="0.9"/>
<line x1="310.93" y1="457.60" x2="310.93" y2="459.60" stroke="#222" stroke-width="0.9"/>
<line x1="294.60" y1="444.35" x2="296.60" y2="444.35" stroke="#222" stroke-width="0.9"/>
<line x1="313.24" y1="457.60" x2="313.24" y2="459.60" stroke="#222" stroke-width="0.9"/>
<line x1="294.60" y1="442.22" x2="296.60" y2="442.22" stroke="#222" stroke-width="0.9"/>
<line x1="315.12" y1="457.60" x2="315.12" y2="459.60" stroke="#222" stroke-width="0.9"/>
<line x1="294.60" y1="440.48" x2="296.60" y2="440.48" stroke="#222" stroke-width="0.9"/>
<line x1="316.71" y1="457.60" x2="316.71" y2="459.60" stroke="#222" stroke-width="0.9"/>
<line x1="294.60" y1="439.01" x2="296.60" y2="439.01" stroke="#222" stroke-width="0.9"/>
<line x1="318.09" y1="457.60" x2="318.09" y2="459.60" stroke="#222" stroke-width="0.9"/>
<line x1="294.60" y1="437.73" x2="296.60" y2="437.73" stroke="#222" stroke-width="0.9"/>
<line x1="319.31" y1="457.60" x2="319.31" y2="459.60" stroke="#222" stroke-width="0.9"/>
<line x1="294.60" y1="436.61" x2="296.60" y2="436.61" stroke="#222" stroke-width="0.9"/>
<line x1="320.40" y1="457.60" x2="320.40" y2="460.60" stroke="#222" stroke-width="0.9"/>
<line x1="293.60" y1="435.60" x2="296.60" y2="435.60" stroke="#222" stroke-width="0.9"/>
<line x1="327.56" y1="457.60" x2="327.56" y2="459.60" stroke="#222" stroke-width="0.9"/>
<line x1="294.60" y1="428.98" x2="296.60" y2="428.98" stroke="#222" stroke-width="0.9"/>
<line x1="331.76" y1="457.60" x2="331.76" y2="459.60" stroke="#222" stroke-width="0.9"/>
<line x1="294.60" y1="425.10" x2="296.60" y2="425.10" stroke="#222" stroke-width="0.9"/>
<line x1="334.73" y1="457.60" x2="334.73" y2="459.60" stroke="#222" stroke-width="0.9"/>
<line x1="294.60" y1="422.35" x2="296.60" y2="422.35" stroke="#222" stroke-width="0.9"/>
<line x1="337.04" y1="457.60" x2="337.04" y2="459.60" stroke="#222" stroke-width="0.9"/>
<line x1="294.60" y1="420.22" x2="296.60" y2="420.22" stroke="#222" stroke-width="0.9"/>
<line x1="338.92" y1="457.60" x2="338.92" y2="459.60" stroke="#222" stroke-width="0.9"/>
<line x1="294.60" y1="418.48" x2="296.60" y2="418.48" stroke="#222" stroke-width="0.9"/>
<line x1="340.51" y1="457.60" x2="340.51" y2="459.60" stroke="#222" stroke-width="0.9"/>
<line x1="294.60" y1="417.01" x2="296.60" y2="417.01" stroke="#222" stroke-width="0.9"/>
<line x1="341.89" y1="457.60" x2="341.89" y2="459.60" stroke="#222" stroke-width="0.9"/>
<line x1="294.60" y1="415.73" x2="296.60" y2="415.73" stroke="#222" stroke-width="0.9"/>
<line x1="343.11" y1="457.60" x2="343.11" y2="459.60" stroke="#222" stroke-width="0.9"/>
<line x1="294.60" y1="414.61" x2="296.60" y2="414.61" stroke="#222" stroke-width="0.9"/>
<line x1="344.20" y1="457.60" x2="344.20" y2="460.60" stroke="#222" stroke-width="0.9"/>
<line x1="293.60" y1="413.60" x2="296.60" y2="413.60" stroke="#222" stroke-width="0.9"/>
<line x1="351.18" y1="457.60" x2="351.18" y2="459.60" stroke="#222" stroke-width="0.9"/>
<line x1="294.60" y1="406.98" x2="296.60" y2="406.98" stroke="#222" stroke-width="0.9"/>
<line x1="355.27" y1="457.60" x2="355.27" y2="459.60" stroke="#222" stroke-width="0.9"/>
<line x1="294.60" y1="403.10" x2="296.60" y2="403.10" stroke="#222" stroke-width="0.9"/>
<line x1="358.17" y1="457.60" x2="358.17" y2="459.60" stroke="#222" stroke-width="0.9"/>
<line x1="294.60" y1="400.35" x2="296.60" y2="400.35" stroke="#222" stroke-width="0.9"/>
<line x1="360.42" y1="457.60" x2="360.42" y2="459.60" stroke="#222" stroke-width="0.9"/>
<line x1="294.60" y1="398.22" x2="296.60" y2="398.22" stroke="#222" stroke-width="0.9"/>
<line x1="362.25" y1="457.60" x2="362.25" y2="459.60" stroke="#222" stroke-width="0.9"/>
<line x1="294.60" y1="396.48" x2="296.60" y2="396.48" stroke="#222" stroke-width="0.9"/>
<line x1="363.81" y1="457.60" x2="363.81" y2="459.60" stroke="#222" stroke-width="0.9"/>
<line x1="294.60" y1="395.01" x2="296.60" y2="395.01" stroke="#222" stroke-width="0.9"/>
<line x1="365.15" y1="457.60" x2="365.15" y2="459.60" stroke="#222" stroke-width="0.9"/>
<line x1="294.60" y1="393.73" x2="296.60" y2="393.73" stroke="#222" stroke-width="0.9"/>
<line x1="366.34" y1="457.60" x2="366.34" y2="459.60" stroke="#222" stroke-width="0.9"/>
<line x1="294.60" y1="392.61" x2="296.60" y2="392.61" stroke="#222" stroke-width="0.9"/>
<line x1="367.40" y1="457.60" x2="367.40" y2="460.60" stroke="#222" stroke-width="0.9"/>
<line x1="293.60" y1="391.60" x2="296.60" y2="391.60" stroke="#222" stroke-width="0.9"/>
<line x1="374.38" y1="457.60" x2="374.38" y2="459.60" stroke="#222" stroke-width="0.9"/>
<line x1="294.60" y1="384.98" x2="296.60" y2="384.98" stroke="#222" stroke-width="0.9"/>
<line x1="378.47" y1="457.60" x2="378.47" y2="459.60" stroke="#222" stroke-width="0.9"/>
<line x1="294.60" y1="381.10" x2="296.60" y2="381.10" stroke="#222" stroke-width="0.9"/>
<line x1="381.37" y1="457.60" x2="381.37" y2="459.60" stroke="#222" stroke-width="0.9"/>
<line x1="294.60" y1="378.35" x2="296.60" y2="378.35" stroke="#222" stroke-width="0.9"/>
<line x1="383.62" y1="457.60" x2="383.62" y2="459.60" stroke="#222" stroke-width="0.9"/>
<line x1="294.60" y1="376.22" x2="296.60" y2="376.22" stroke="#222" stroke-width="0.9"/>
<line x1="385.45" y1="457.60" x2="385.45" y2="459.60" stroke="#222" stroke-width="0.9"/>
<line x1="294.60" y1="374.48" x2="296.60" y2="374.48" stroke="#222" stroke-width="0.9"/>
<line x1="387.01" y1="457.60" x2="387.01" y2="459.60" stroke="#222" stroke-width="0.9"/>
<line x1="294.60" y1="373.01" x2="296.60" y2="373.01" stroke="#222" stroke-width="0.9"/>
<line x1="388.35" y1="457.60" x2="388.35" y2="459.60" stroke="#222" stroke-width="0.9"/>
<line x1="294.60" y1="371.73" x2="296.60" y2="371.73" stroke="#222" stroke-width="0.9"/>
<line x1="389.54" y1="457.60" x2="389.54" y2="459.60" stroke="#222" stroke-width="0.9"/>
<line x1="294.60" y1="370.61" x2="296.60" y2="370.61" stroke="#222" stroke-width="0.9"/>
<line x1="390.60" y1="457.60" x2="390.60" y2="460.60" stroke="#222" stroke-width="0.9"/>
<line x1="293.60" y1="369.60" x2="296.60" y2="369.60" stroke="#222" stroke-width="0.9"/>
<text font-size="7.6" text-anchor="middle" fill="#000" stroke="#000" stroke-width="0.25" transform="translate(297.20,469.50) scale(0.8,1)">10<tspan font-size="6.8" dy="-4">0</tspan></text>
<text font-size="7.6" text-anchor="middle" fill="#000" stroke="#000" stroke-width="0.25" transform="translate(321.00,469.50) scale(0.8,1)">10<tspan font-size="6.8" dy="-4">1</tspan></text>
<text font-size="7.6" text-anchor="middle" fill="#000" stroke="#000" stroke-width="0.25" transform="translate(344.80,469.50) scale(0.8,1)">10<tspan font-size="6.8" dy="-4">2</tspan></text>
<text font-size="7.6" text-anchor="middle" fill="#000" stroke="#000" stroke-width="0.25" transform="translate(368.00,469.50) scale(0.8,1)">10<tspan font-size="6.8" dy="-4">3</tspan></text>
<text x="0.00" y="0.00" font-size="7.6" text-anchor="middle" fill="#000" stroke="#000" stroke-width="0.25" transform="translate(389.40,469.50) scale(0.8,1)">10</text>
<text font-size="7.6" text-anchor="middle" fill="#000" stroke="#000" stroke-width="0.25" transform="translate(290.90,458.20) rotate(-90) scale(0.92,1)">10<tspan font-size="6.8" dy="-4">0</tspan></text>
<text font-size="7.6" text-anchor="middle" fill="#000" stroke="#000" stroke-width="0.25" transform="translate(290.90,436.20) rotate(-90) scale(0.92,1)">10<tspan font-size="6.8" dy="-4">1</tspan></text>
<text font-size="7.6" text-anchor="middle" fill="#000" stroke="#000" stroke-width="0.25" transform="translate(290.90,414.20) rotate(-90) scale(0.92,1)">10<tspan font-size="6.8" dy="-4">2</tspan></text>
<text font-size="7.6" text-anchor="middle" fill="#000" stroke="#000" stroke-width="0.25" transform="translate(290.90,392.20) rotate(-90) scale(0.92,1)">10<tspan font-size="6.8" dy="-4">3</tspan></text>
<text font-size="7.6" text-anchor="middle" fill="#000" stroke="#000" stroke-width="0.25" transform="translate(290.90,370.20) rotate(-90) scale(0.92,1)">10<tspan font-size="6.8" dy="-4">4</tspan></text>
<text x="384.00" y="382.90" font-size="12.5" text-anchor="end" fill="#111">2.1</text>
<rect x="420.40" y="369.60" width="94.00" height="88.00" fill="none" stroke="#222" stroke-width="1.2"/>
<line x1="468.00" y1="369.60" x2="468.00" y2="457.60" stroke="#333" stroke-width="1.1"/>
<line x1="420.40" y1="414.10" x2="514.40" y2="414.10" stroke="#333" stroke-width="1.1"/>
<line x1="420.40" y1="457.60" x2="420.40" y2="460.60" stroke="#222" stroke-width="0.9"/>
<line x1="417.40" y1="457.60" x2="420.40" y2="457.60" stroke="#222" stroke-width="0.9"/>
<line x1="427.56" y1="457.60" x2="427.56" y2="459.60" stroke="#222" stroke-width="0.9"/>
<line x1="418.40" y1="450.98" x2="420.40" y2="450.98" stroke="#222" stroke-width="0.9"/>
<line x1="431.76" y1="457.60" x2="431.76" y2="459.60" stroke="#222" stroke-width="0.9"/>
<line x1="418.40" y1="447.10" x2="420.40" y2="447.10" stroke="#222" stroke-width="0.9"/>
<line x1="434.73" y1="457.60" x2="434.73" y2="459.60" stroke="#222" stroke-width="0.9"/>
<line x1="418.40" y1="444.35" x2="420.40" y2="444.35" stroke="#222" stroke-width="0.9"/>
<line x1="437.04" y1="457.60" x2="437.04" y2="459.60" stroke="#222" stroke-width="0.9"/>
<line x1="418.40" y1="442.22" x2="420.40" y2="442.22" stroke="#222" stroke-width="0.9"/>
<line x1="438.92" y1="457.60" x2="438.92" y2="459.60" stroke="#222" stroke-width="0.9"/>
<line x1="418.40" y1="440.48" x2="420.40" y2="440.48" stroke="#222" stroke-width="0.9"/>
<line x1="440.51" y1="457.60" x2="440.51" y2="459.60" stroke="#222" stroke-width="0.9"/>
<line x1="418.40" y1="439.01" x2="420.40" y2="439.01" stroke="#222" stroke-width="0.9"/>
<line x1="441.89" y1="457.60" x2="441.89" y2="459.60" stroke="#222" stroke-width="0.9"/>
<line x1="418.40" y1="437.73" x2="420.40" y2="437.73" stroke="#222" stroke-width="0.9"/>
<line x1="443.11" y1="457.60" x2="443.11" y2="459.60" stroke="#222" stroke-width="0.9"/>
<line x1="418.40" y1="436.61" x2="420.40" y2="436.61" stroke="#222" stroke-width="0.9"/>
<line x1="444.20" y1="457.60" x2="444.20" y2="460.60" stroke="#222" stroke-width="0.9"/>
<line x1="417.40" y1="435.60" x2="420.40" y2="435.60" stroke="#222" stroke-width="0.9"/>
<line x1="451.36" y1="457.60" x2="451.36" y2="459.60" stroke="#222" stroke-width="0.9"/>
<line x1="418.40" y1="428.98" x2="420.40" y2="428.98" stroke="#222" stroke-width="0.9"/>
<line x1="455.56" y1="457.60" x2="455.56" y2="459.60" stroke="#222" stroke-width="0.9"/>
<line x1="418.40" y1="425.10" x2="420.40" y2="425.10" stroke="#222" stroke-width="0.9"/>
<line x1="458.53" y1="457.60" x2="458.53" y2="459.60" stroke="#222" stroke-width="0.9"/>
<line x1="418.40" y1="422.35" x2="420.40" y2="422.35" stroke="#222" stroke-width="0.9"/>
<line x1="460.84" y1="457.60" x2="460.84" y2="459.60" stroke="#222" stroke-width="0.9"/>
<line x1="418.40" y1="420.22" x2="420.40" y2="420.22" stroke="#222" stroke-width="0.9"/>
<line x1="462.72" y1="457.60" x2="462.72" y2="459.60" stroke="#222" stroke-width="0.9"/>
<line x1="418.40" y1="418.48" x2="420.40" y2="418.48" stroke="#222" stroke-width="0.9"/>
<line x1="464.31" y1="457.60" x2="464.31" y2="459.60" stroke="#222" stroke-width="0.9"/>
<line x1="418.40" y1="417.01" x2="420.40" y2="417.01" stroke="#222" stroke-width="0.9"/>
<line x1="465.69" y1="457.60" x2="465.69" y2="459.60" stroke="#222" stroke-width="0.9"/>
<line x1="418.40" y1="415.73" x2="420.40" y2="415.73" stroke="#222" stroke-width="0.9"/>
<line x1="466.91" y1="457.60" x2="466.91" y2="459.60" stroke="#222" stroke-width="0.9"/>
<line x1="418.40" y1="414.61" x2="420.40" y2="414.61" stroke="#222" stroke-width="0.9"/>
<line x1="468.00" y1="457.60" x2="468.00" y2="460.60" stroke="#222" stroke-width="0.9"/>
<line x1="417.40" y1="413.60" x2="420.40" y2="413.60" stroke="#222" stroke-width="0.9"/>
<line x1="474.98" y1="457.60" x2="474.98" y2="459.60" stroke="#222" stroke-width="0.9"/>
<line x1="418.40" y1="406.98" x2="420.40" y2="406.98" stroke="#222" stroke-width="0.9"/>
<line x1="479.07" y1="457.60" x2="479.07" y2="459.60" stroke="#222" stroke-width="0.9"/>
<line x1="418.40" y1="403.10" x2="420.40" y2="403.10" stroke="#222" stroke-width="0.9"/>
<line x1="481.97" y1="457.60" x2="481.97" y2="459.60" stroke="#222" stroke-width="0.9"/>
<line x1="418.40" y1="400.35" x2="420.40" y2="400.35" stroke="#222" stroke-width="0.9"/>
<line x1="484.22" y1="457.60" x2="484.22" y2="459.60" stroke="#222" stroke-width="0.9"/>
<line x1="418.40" y1="398.22" x2="420.40" y2="398.22" stroke="#222" stroke-width="0.9"/>
<line x1="486.05" y1="457.60" x2="486.05" y2="459.60" stroke="#222" stroke-width="0.9"/>
<line x1="418.40" y1="396.48" x2="420.40" y2="396.48" stroke="#222" stroke-width="0.9"/>
<line x1="487.61" y1="457.60" x2="487.61" y2="459.60" stroke="#222" stroke-width="0.9"/>
<line x1="418.40" y1="395.01" x2="420.40" y2="395.01" stroke="#222" stroke-width="0.9"/>
<line x1="488.95" y1="457.60" x2="488.95" y2="459.60" stroke="#222" stroke-width="0.9"/>
<line x1="418.40" y1="393.73" x2="420.40" y2="393.73" stroke="#222" stroke-width="0.9"/>
<line x1="490.14" y1="457.60" x2="490.14" y2="459.60" stroke="#222" stroke-width="0.9"/>
<line x1="418.40" y1="392.61" x2="420.40" y2="392.61" stroke="#222" stroke-width="0.9"/>
<line x1="491.20" y1="457.60" x2="491.20" y2="460.60" stroke="#222" stroke-width="0.9"/>
<line x1="417.40" y1="391.60" x2="420.40" y2="391.60" stroke="#222" stroke-width="0.9"/>
<line x1="498.18" y1="457.60" x2="498.18" y2="459.60" stroke="#222" stroke-width="0.9"/>
<line x1="418.40" y1="384.98" x2="420.40" y2="384.98" stroke="#222" stroke-width="0.9"/>
<line x1="502.27" y1="457.60" x2="502.27" y2="459.60" stroke="#222" stroke-width="0.9"/>
<line x1="418.40" y1="381.10" x2="420.40" y2="381.10" stroke="#222" stroke-width="0.9"/>
<line x1="505.17" y1="457.60" x2="505.17" y2="459.60" stroke="#222" stroke-width="0.9"/>
<line x1="418.40" y1="378.35" x2="420.40" y2="378.35" stroke="#222" stroke-width="0.9"/>
<line x1="507.42" y1="457.60" x2="507.42" y2="459.60" stroke="#222" stroke-width="0.9"/>
<line x1="418.40" y1="376.22" x2="420.40" y2="376.22" stroke="#222" stroke-width="0.9"/>
<line x1="509.25" y1="457.60" x2="509.25" y2="459.60" stroke="#222" stroke-width="0.9"/>
<line x1="418.40" y1="374.48" x2="420.40" y2="374.48" stroke="#222" stroke-width="0.9"/>
<line x1="510.81" y1="457.60" x2="510.81" y2="459.60" stroke="#222" stroke-width="0.9"/>
<line x1="418.40" y1="373.01" x2="420.40" y2="373.01" stroke="#222" stroke-width="0.9"/>
<line x1="512.15" y1="457.60" x2="512.15" y2="459.60" stroke="#222" stroke-width="0.9"/>
<line x1="418.40" y1="371.73" x2="420.40" y2="371.73" stroke="#222" stroke-width="0.9"/>
<line x1="513.34" y1="457.60" x2="513.34" y2="459.60" stroke="#222" stroke-width="0.9"/>
<line x1="418.40" y1="370.61" x2="420.40" y2="370.61" stroke="#222" stroke-width="0.9"/>
<line x1="514.40" y1="457.60" x2="514.40" y2="460.60" stroke="#222" stroke-width="0.9"/>
<line x1="417.40" y1="369.60" x2="420.40" y2="369.60" stroke="#222" stroke-width="0.9"/>
<text font-size="7.6" text-anchor="middle" fill="#000" stroke="#000" stroke-width="0.25" transform="translate(421.00,469.50) scale(0.8,1)">10<tspan font-size="6.8" dy="-4">0</tspan></text>
<text font-size="7.6" text-anchor="middle" fill="#000" stroke="#000" stroke-width="0.25" transform="translate(444.80,469.50) scale(0.8,1)">10<tspan font-size="6.8" dy="-4">1</tspan></text>
<text font-size="7.6" text-anchor="middle" fill="#000" stroke="#000" stroke-width="0.25" transform="translate(468.60,469.50) scale(0.8,1)">10<tspan font-size="6.8" dy="-4">2</tspan></text>
<text font-size="7.6" text-anchor="middle" fill="#000" stroke="#000" stroke-width="0.25" transform="translate(491.80,469.50) scale(0.8,1)">10<tspan font-size="6.8" dy="-4">3</tspan></text>
<text font-size="7.6" text-anchor="middle" fill="#000" stroke="#000" stroke-width="0.25" transform="translate(515.00,469.50) scale(0.8,1)">10<tspan font-size="6.8" dy="-4">4</tspan></text>
<text font-size="7.6" text-anchor="middle" fill="#000" stroke="#000" stroke-width="0.25" transform="translate(414.70,458.20) rotate(-90) scale(0.92,1)">10<tspan font-size="6.8" dy="-4">0</tspan></text>
<text font-size="7.6" text-anchor="middle" fill="#000" stroke="#000" stroke-width="0.25" transform="translate(414.70,436.20) rotate(-90) scale(0.92,1)">10<tspan font-size="6.8" dy="-4">1</tspan></text>
<text font-size="7.6" text-anchor="middle" fill="#000" stroke="#000" stroke-width="0.25" transform="translate(414.70,414.20) rotate(-90) scale(0.92,1)">10<tspan font-size="6.8" dy="-4">2</tspan></text>
<text font-size="7.6" text-anchor="middle" fill="#000" stroke="#000" stroke-width="0.25" transform="translate(414.70,392.20) rotate(-90) scale(0.92,1)">10<tspan font-size="6.8" dy="-4">3</tspan></text>
<text font-size="7.6" text-anchor="middle" fill="#000" stroke="#000" stroke-width="0.25" transform="translate(414.70,370.20) rotate(-90) scale(0.92,1)">10<tspan font-size="6.8" dy="-4">4</tspan></text>
<text x="510.10" y="382.90" font-size="12.5" text-anchor="end" fill="#111">2.1</text>
<text x="151.10" y="226.90" font-size="12.5" text-anchor="middle" fill="#111">BALB/c</text>
<text x="403.30" y="227.00" font-size="12.5" text-anchor="middle" fill="#111">plt/plt</text>
<text x="92.10" y="241.50" font-size="12.5" text-anchor="middle" fill="#111">Day 0</text>
<text x="215.35" y="241.50" font-size="12.5" text-anchor="middle" fill="#111">Day 18</text>
<text x="342.80" y="241.50" font-size="12.5" text-anchor="middle" fill="#111">Day 0</text>
<text x="466.60" y="241.50" font-size="12.5" text-anchor="middle" fill="#111">Day 18</text>
<line x1="16" y1="324.05" x2="16" y2="266.55" stroke="#000" stroke-width="1.4"/>
<path d="M16 258.75 L12.2 268.55 L19.8 268.55 Z" fill="#000"/>
<text font-size="12.5" text-anchor="middle" fill="#111" transform="translate(12.4,296.85) rotate(-90)">V&#946;14</text>
<line x1="16" y1="447.10" x2="16" y2="389.60" stroke="#000" stroke-width="1.4"/>
<path d="M16 381.80 L12.2 391.60 L19.8 391.60 Z" fill="#000"/>
<text font-size="12.5" text-anchor="middle" fill="#111" transform="translate(12.4,419.90) rotate(-90)">V&#946;6</text>
<line x1="90.8" y1="487" x2="458" y2="487" stroke="#000" stroke-width="1.4"/>
<path d="M465.5 487 L455.8 483.6 L455.8 490.4 Z" fill="#000"/>
<text x="264.30" y="500.60" font-size="12.5" text-anchor="middle" fill="#111">Annexin V</text>
</svg></body></html>
